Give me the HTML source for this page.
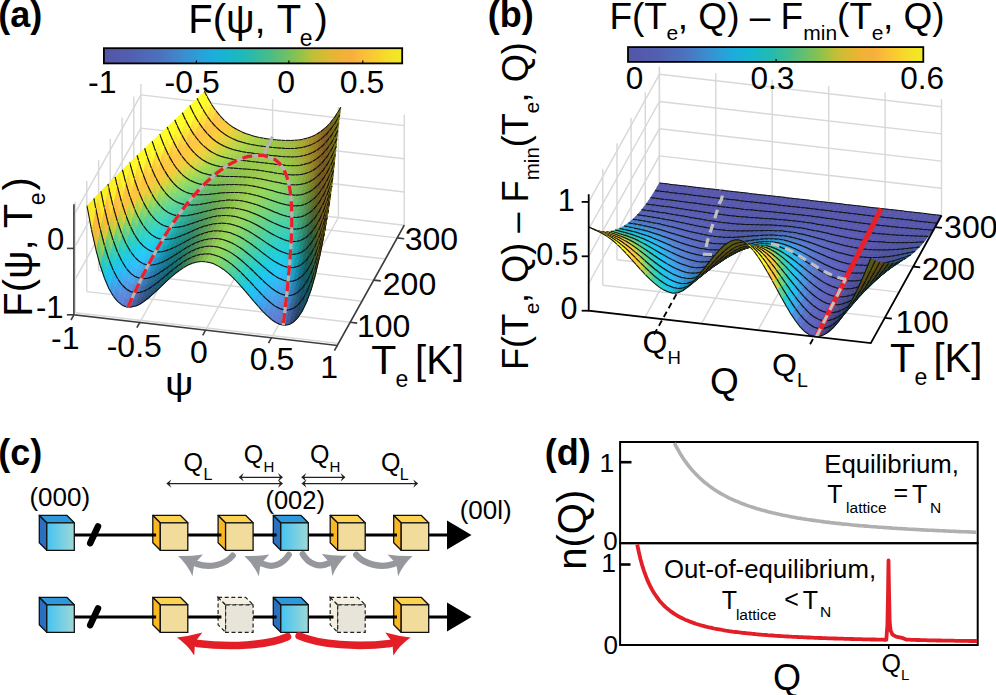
<!DOCTYPE html>
<html><head><meta charset="utf-8"><style>
html,body{margin:0;padding:0;background:#fff;}
svg{display:block;font-family:"Liberation Sans", sans-serif;}
.m{stroke:#222;stroke-width:0.9;fill:none}
.s path{fill:currentColor;stroke:currentColor;stroke-width:.6}
.s path.m{stroke:#111;stroke-width:1.05;fill:none}
</style></head><body>
<svg width="996" height="695" viewBox="0 0 996 695">
<rect width="996" height="695" fill="#fff"/>
<g stroke="#d8d8d8" stroke-width="1.45" fill="none">
<path d="M140.9 194.5L140.9 83.9"/>
<path d="M206.8 202.2L206.8 91.6"/>
<path d="M272.6 209.9L272.6 99.2"/>
<path d="M338.4 217.5L338.4 106.9"/>
<path d="M404.3 225.2L404.3 114.6"/>
<path d="M140.9 161.3L404.3 192"/>
<path d="M140.9 128.1L404.3 158.8"/>
<path d="M140.9 94.9L404.3 125.6"/>
<path d="M75.1 312.7L75.1 202.1"/>
<path d="M86.8 291.6L86.8 181"/>
<path d="M98.6 270.5L98.6 159.9"/>
<path d="M110.3 249.4L110.3 138.8"/>
<path d="M122.1 228.3L122.1 117.6"/>
<path d="M133.8 207.2L133.8 96.5"/>
<path d="M73.9 281.6L140.9 161.3"/>
<path d="M73.9 248.4L140.9 128.1"/>
<path d="M73.9 215.2L140.9 94.9"/>
<path d="M139.8 322.5L206.8 202.2"/>
<path d="M205.6 330.2L272.6 209.9"/>
<path d="M271.4 337.8L338.4 217.5"/>
<path d="M337.3 345.5L404.3 225.2"/>
<path d="M75.1 312.7L338.5 343.4"/>
<path d="M86.8 291.6L350.2 322.3"/>
<path d="M98.6 270.5L362 301.2"/>
<path d="M110.3 249.4L373.7 280.1"/>
<path d="M122.1 228.3L385.5 259"/>
<path d="M133.8 207.2L397.2 237.9"/>
<path d="M140.9 194.5L404.3 225.2"/>
</g>
<g class="s">
<path color="#e5d03c" d="M231 132.1l4.4 2.4l2.1-4.7l-4.4-2.6z"/>
<path color="#dad23e" d="M235.4 134.5l4.4 1.9l2.1-4.4l-4.4-2.2z"/>
<path color="#f3ce3a" d="M226.6 129.1l4.4 3l2.1-4.9l-4.4-3.1z"/>
<path color="#ccd341" d="M239.8 136.4l4.4 1.6l2.1-4.3l-4.4-1.7z"/>
<path color="#ffca3d" d="M222.2 125.6l4.4 3.5l2.1-5l-4.4-3.8z"/>
<path class="m" d="M233.1 127.2l4.4 2.6"/>
<path color="#c0d445" d="M244.2 138l4.4 1.3l2-4.1l-4.3-1.5z"/>
<path class="m" d="M237.5 129.8l4.4 2.1"/>
<path class="m" d="M228.7 124.1l4.4 3.2"/>
<path class="m" d="M241.9 132l4.4 1.8"/>
<path class="m" d="M224.3 120.3l4.4 3.8"/>
<path color="#ffc641" d="M217.8 121.3l4.4 4.3l2.1-5.3l-4.4-4.6z"/>
<path color="#b6d548" d="M248.6 139.3l4.3 1.1l2.1-4l-4.4-1.2z"/>
<path class="m" d="M246.3 133.7l4.4 1.4"/>
<path color="#add248" d="M252.9 140.4l4.4 .9l2.1-3.9l-4.4-1z"/>
<path class="m" d="M219.9 115.7l4.4 4.6"/>
<path class="m" d="M250.7 135.2l4.4 1.2"/>
<path color="#ffc943" d="M213.4 116.1l4.4 5.2l2.1-5.6l-4.4-5.5z"/>
<path class="m" d="M255 136.4l4.4 1"/>
<path color="#a6cf48" d="M257.3 141.3l4.4 .8l2.1-3.9l-4.4-.8z"/>
<path class="m" d="M215.5 110.2l4.4 5.5"/>
<path class="m" d="M259.4 137.4l4.4 0.8"/>
<path color="#a2cd48" d="M261.7 142.1l4.4 .6l2.1-3.8l-4.4-.7z"/>
<path color="#ffdf38" d="M209 109.9l4.4 6.2l2.1-5.9l-4.4-6.5z"/>
<path class="m" d="M263.8 138.2l4.4 0.7"/>
<path color="#9fca48" d="M266.1 142.7l4.4 .6l2.1-3.8l-4.4-.6z"/>
<path class="m" d="M211.1 103.7l4.4 6.5"/>
<path class="m" d="M268.2 138.9l4.4 0.6"/>
<path color="#9dc847" d="M270.5 143.3l4.4 .5l2.1-3.9l-4.4-.4z"/>
<path class="m" d="M272.6 139.5l4.4 0.5"/>
<path color="#fff92d" d="M204.7 102.5l4.3 7.4l2.1-6.2l-4.3-7.7z"/>
<path color="#9cc646" d="M274.9 143.8l4.4 .3l2.1-3.8l-4.4-.4z"/>
<path color="#dfd23d" d="M228.9 136.9l4.4 2.2l2.1-4.6l-4.4-2.4z"/>
<path color="#ecd03b" d="M224.5 134.2l4.4 2.7l2.1-4.8l-4.4-3z"/>
<path color="#d3d340" d="M233.3 139.1l4.4 1.8l2.1-4.5l-4.4-1.9z"/>
<path color="#facc3c" d="M220.1 130.9l4.4 3.3l2.1-5.1l-4.4-3.5z"/>
<path color="#c5d444" d="M237.7 140.9l4.4 1.4l2.1-4.3l-4.4-1.6z"/>
<path class="m" d="M206.8 96l4.4 7.7"/>
<path class="m" d="M277 139.9l4.4 0.3"/>
<path class="m" d="M228.9 136.9l4.4 2.2"/>
<path class="m" d="M224.5 134.2l4.4 2.7"/>
<path class="m" d="M233.3 139.1l4.4 1.8"/>
<path color="#9dc344" d="M279.3 144.1l4.4 .3l2.1-4l-4.4-.1z"/>
<path color="#ffc83f" d="M215.7 126.8l4.4 4.1l2.1-5.3l-4.4-4.3z"/>
<path color="#bad547" d="M242.1 142.3l4.4 1.2l2.1-4.2l-4.4-1.3z"/>
<path class="m" d="M220.1 130.9l4.4 3.3"/>
<path class="m" d="M237.7 140.9l4.4 1.4"/>
<path color="#b1d348" d="M246.5 143.5l4.4 .9l2-4l-4.3-1.1z"/>
<path class="m" d="M281.4 140.3l4.4 0.2"/>
<path class="m" d="M215.7 126.8l4.4 4"/>
<path class="m" d="M242.1 142.3l4.4 1.2"/>
<path color="#ffc444" d="M211.3 121.9l4.4 4.9l2.1-5.5l-4.4-5.2z"/>
<path color="#ffff27" d="M200.8 94.9l3.9 7.6l2.1-6.5l-2.4-4.7z"/>
<path color="#9ebf42" d="M283.7 144.4l4.4 .1l2.1-4l-4.4-.1z"/>
<path color="#a9d048" d="M250.9 144.4l4.3 .8l2.1-3.9l-4.4-.9z"/>
<path class="m" d="M246.5 143.5l4.4 1"/>
<path class="m" d="M211.3 121.9l4.4 4.9"/>
<path class="m" d="M204.4 91.3l2.3 4.7"/>
<path class="m" d="M285.8 140.4l4.4 0"/>
<path class="m" d="M250.9 144.4l4.4 0.8"/>
<path color="#a4ce49" d="M255.2 145.2l4.4 .7l2.1-3.8l-4.4-.8z"/>
<path color="#a0ba3e" d="M288.1 144.5l4.4-.1l2.1-4.1l-4.4 .2z"/>
<path color="#ffd63e" d="M207 116.1l4.3 5.8l2.1-5.8l-4.4-6.2z"/>
<path class="m" d="M255.2 145.2l4.4 0.7"/>
<path class="m" d="M290.2 140.5l4.4 -0.2"/>
<path color="#a0cc48" d="M259.6 145.9l4.4 .7l2.1-3.9l-4.4-.6z"/>
<path class="m" d="M207 116.1l4.4 5.9"/>
<path color="#a2b43a" d="M292.5 144.4l4.3-.2l2.1-4.3l-4.3 .4z"/>
<path class="m" d="M259.6 145.9l4.4 0.6"/>
<path color="#9eca48" d="M264 146.6l4.4 .5l2.1-3.8l-4.4-.6z"/>
<path class="m" d="M294.6 140.3l4.4 -0.4"/>
<path color="#ffef30" d="M202.6 109l4.4 7.1l2-6.2l-4.3-7.4z"/>
<path class="m" d="M264 146.6l4.4 0.5"/>
<path color="#9cc847" d="M268.4 147.1l4.4 .5l2.1-3.8l-4.4-.5z"/>
<path color="#a5ac35" d="M296.8 144.2l4.4-.6l2.1-4.5l-4.4 .8z"/>
<path class="m" d="M202.6 109l4.4 7"/>
<path color="#e5d13d" d="M222.4 139.3l4.4 2.4l2.1-4.8l-4.4-2.7z"/>
<path color="#dad33e" d="M226.8 141.7l4.4 2l2.1-4.6l-4.4-2.2z"/>
<path color="#f4cf3a" d="M218 136.2l4.4 3.1l2.1-5.1l-4.4-3.3z"/>
<path class="m" d="M268.4 147.1l4.4 0.5"/>
<path color="#cad442" d="M231.2 143.7l4.4 1.6l2.1-4.4l-4.4-1.8z"/>
<path class="m" d="M298.9 139.9l4.4 -0.7"/>
<path color="#9cc746" d="M272.8 147.6l4.4 .4l2.1-3.9l-4.4-.3z"/>
<path color="#ffca3e" d="M213.6 132.4l4.4 3.8l2.1-5.3l-4.4-4.1z"/>
<path class="m" d="M224.5 134.2l4.4 2.7"/>
<path color="#bed546" d="M235.6 145.3l4.4 1.3l2.1-4.3l-4.4-1.4z"/>
<path class="m" d="M228.9 136.9l4.4 2.2"/>
<path class="m" d="M220.1 130.9l4.4 3.3"/>
<path class="m" d="M233.3 139.1l4.4 1.8"/>
<path color="#a8a12e" d="M301.2 143.6l4.4-1l2.1-4.6l-4.4 1.1z"/>
<path class="m" d="M272.8 147.6l4.4 0.4"/>
<path color="#b5d548" d="M240 146.6l4.4 1l2.1-4.1l-4.4-1.2z"/>
<path color="#9cc445" d="M277.2 148l4.4 .3l2.1-3.9l-4.4-.3z"/>
<path class="m" d="M215.7 126.8l4.4 4"/>
<path class="m" d="M237.7 140.9l4.4 1.4"/>
<path color="#ffc642" d="M209.2 127.8l4.4 4.6l2.1-5.6l-4.4-4.9z"/>
<path color="#ffff27" d="M198.2 100.7l4.4 8.3l2.1-6.5l-3.9-7.6l-1.2 1.1z"/>
<path class="m" d="M303.3 139.1l4.4 -1.1"/>
<path color="#acd149" d="M244.4 147.6l4.4 .9l2.1-4.1l-4.4-.9z"/>
<path class="m" d="M242.1 142.3l4.4 1.2"/>
<path class="m" d="M277.2 148l4.4 0.3"/>
<path class="m" d="M211.3 121.9l4.4 4.9"/>
<path class="m" d="M198.2 100.7l4.4 8.3"/>
<path color="#9dc143" d="M281.6 148.3l4.4 .2l2.1-4l-4.4-.1z"/>
<path class="m" d="M246.5 143.5l4.4 1"/>
<path color="#a5cf49" d="M248.8 148.5l4.3 .7l2.1-4l-4.3-.8z"/>
<path color="#a4952a" d="M305.6 142.6l4.4-1.3l2.1-4.8l-4.4 1.5z"/>
<path color="#ffcd41" d="M204.9 122.2l4.3 5.6l2.1-5.9l-4.3-5.8z"/>
<path class="m" d="M281.6 148.3l4.4 0.2"/>
<path class="m" d="M250.9 144.4l4.4 0.8"/>
<path color="#9fbd40" d="M286 148.5l4.4 .1l2.1-4.2l-4.4 .1z"/>
<path color="#a1cd49" d="M253.1 149.2l4.4 .6l2.1-3.9l-4.4-.7z"/>
<path class="m" d="M307.7 138l4.4 -1.6"/>
<path class="m" d="M207 116.1l4.4 5.9"/>
<path class="m" d="M286 148.5l4.4 0.1"/>
<path class="m" d="M255.2 145.2l4.4 0.7"/>
<path color="#9ecb48" d="M257.5 149.8l4.4 .6l2.1-3.8l-4.4-.7z"/>
<path color="#ffe434" d="M200.5 115.5l4.4 6.7l2.1-6.1l-4.4-7.1z"/>
<path color="#ffff27" d="M197.2 98.4l1 2.3l1.4-4.7z"/>
<path color="#a1b83d" d="M290.4 148.6l4.4-.2l2-4.2l-4.3 .2z"/>
<path color="#a08725" d="M310 141.3l4.4-1.9l2.1-5.1l-4.4 2.2z"/>
<path class="m" d="M259.6 145.9l4.4 0.6"/>
<path color="#9dca48" d="M261.9 150.4l4.4 .5l2.1-3.8l-4.4-.5z"/>
<path class="m" d="M202.6 109l4.4 7"/>
<path class="m" d="M197.2 98.4l1 2.3"/>
<path class="m" d="M290.4 148.6l4.4 -0.1"/>
<path class="m" d="M312.1 136.5l4.4 -2.1"/>
<path class="m" d="M264 146.6l4.4 0.5"/>
<path color="#a4b038" d="M294.8 148.4l4.3-.4l2.1-4.4l-4.4 .6z"/>
<path color="#ded23e" d="M220.3 144.3l4.4 2.2l2.1-4.8l-4.4-2.4z"/>
<path color="#9cc948" d="M266.3 150.9l4.4 .5l2.1-3.8l-4.4-.5z"/>
<path color="#ebd03c" d="M215.9 141.5l4.4 2.8l2.1-5l-4.4-3.1z"/>
<path color="#cfd441" d="M224.7 146.5l4.4 1.8l2.1-4.6l-4.4-2z"/>
<path color="#facd3c" d="M211.5 138l4.4 3.5l2.1-5.3l-4.4-3.8z"/>
<path color="#c1d545" d="M229.1 148.3l4.4 1.4l2.1-4.4l-4.4-1.6z"/>
<path class="m" d="M294.8 148.4l4.4 -0.4"/>
<path class="m" d="M220.3 144.3l4.4 2.2"/>
<path class="m" d="M268.4 147.1l4.4 0.5"/>
<path class="m" d="M215.9 141.5l4.4 2.8"/>
<path color="#fffd2b" d="M196.1 107.5l4.4 8l2.1-6.5l-4.4-8.3z"/>
<path color="#987823" d="M314.4 139.4l4.4-2.6l2.1-5.3l-4.4 2.8z"/>
<path class="m" d="M224.7 146.5l4.4 1.8"/>
<path color="#9cc847" d="M270.7 151.4l4.4 .5l2.1-3.9l-4.4-.4z"/>
<path color="#b7d548" d="M233.5 149.7l4.4 1.1l2.1-4.2l-4.4-1.3z"/>
<path class="m" d="M211.5 138l4.4 3.5"/>
<path color="#ffc73f" d="M207.2 133.7l4.3 4.3l2.1-5.6l-4.4-4.6z"/>
<path class="m" d="M229.1 148.3l4.4 1.4"/>
<path color="#a7a731" d="M299.1 148l4.4-.7l2.1-4.7l-4.4 1z"/>
<path class="m" d="M198.2 100.7l4.4 8.3"/>
<path class="m" d="M316.5 134.3l4.4 -2.8"/>
<path class="m" d="M272.8 147.6l4.4 0.4"/>
<path color="#add349" d="M237.9 150.8l4.4 .9l2.1-4.1l-4.4-1z"/>
<path class="m" d="M233.5 149.7l4.4 1.1"/>
<path color="#9cc646" d="M275.1 151.9l4.4 .4l2.1-4l-4.4-.3z"/>
<path class="m" d="M207.2 133.7l4.4 4.3"/>
<path class="m" d="M299.1 148l4.4 -0.7"/>
<path color="#ffc444" d="M202.8 128.4l4.4 5.3l2-5.9l-4.3-5.6z"/>
<path class="m" d="M237.9 150.8l4.4 0.9"/>
<path color="#a6d049" d="M242.3 151.7l4.4 .8l2.1-4l-4.4-.9z"/>
<path class="m" d="M277.2 148l4.4 0.3"/>
<path color="#ffff27" d="M193.5 102l2.6 5.5l2.1-6.8l-1-2.3z"/>
<path color="#9cc445" d="M279.5 152.3l4.4 .2l2.1-4l-4.4-.2z"/>
<path color="#a59b2c" d="M303.5 147.3l4.4-1.2l2.1-4.8l-4.4 1.3z"/>
<path class="m" d="M202.8 128.4l4.4 5.3"/>
<path class="m" d="M242.3 151.7l4.4 0.7"/>
<path color="#a2cd49" d="M246.7 152.5l4.4 .6l2-3.9l-4.3-.7z"/>
<path color="#8f6921" d="M318.8 136.8l4.4-3.3l2.1-5.5l-4.4 3.5z"/>
<path class="m" d="M197.2 98.4l1 2.3"/>
<path class="m" d="M281.6 148.3l4.4 0.2"/>
<path class="m" d="M303.5 147.3l4.4 -1.2"/>
<path class="m" d="M246.7 152.5l4.4 0.6"/>
<path color="#9ec042" d="M283.9 152.5l4.4 .2l2.1-4.1l-4.4-.1z"/>
<path color="#ffda3b" d="M198.4 122l4.4 6.4l2.1-6.2l-4.4-6.7z"/>
<path color="#9fcc49" d="M251.1 153.1l4.3 .6l2.1-3.9l-4.4-.6z"/>
<path class="m" d="M320.9 131.5l4.4 -3.6"/>
<path class="m" d="M286 148.5l4.4 0.1"/>
<path class="m" d="M198.4 122l4.4 6.4"/>
<path class="m" d="M251.1 153.1l4.4 0.6"/>
<path color="#a18d27" d="M307.9 146.1l4.4-1.7l2.1-5l-4.4 1.9z"/>
<path color="#9dcb49" d="M255.4 153.7l4.4 .5l2.1-3.8l-4.4-.6z"/>
<path color="#9fbc3f" d="M288.3 152.7l4.4 0l2.1-4.3l-4.4 .2z"/>
<path class="m" d="M307.9 146.1l4.4 -1.7"/>
<path class="m" d="M255.4 153.7l4.4 0.5"/>
<path color="#9cca48" d="M259.8 154.2l4.4 .6l2.1-3.9l-4.4-.5z"/>
<path class="m" d="M290.4 148.6l4.4 -0.1"/>
<path color="#e3d23e" d="M213.8 146.8l4.4 2.6l2.1-5.1l-4.4-2.8z"/>
<path color="#d5d440" d="M218.2 149.4l4.4 2l2.1-4.9l-4.4-2.2z"/>
<path color="#fff52e" d="M194 114.4l4.4 7.6l2.1-6.5l-4.4-8z"/>
<path color="#a1b53b" d="M292.7 152.7l4.3-.3l2.1-4.4l-4.3 .4z"/>
<path color="#815e1e" d="M323.2 133.5l4.4-4.1l2.1-5.9l-4.4 4.5z"/>
<path color="#f2cf3b" d="M209.5 143.6l4.3 3.2l2.1-5.3l-4.4-3.5z"/>
<path color="#c4d545" d="M222.6 151.4l4.4 1.5l2.1-4.6l-4.4-1.8z"/>
<path class="m" d="M259.8 154.2l4.4 0.5"/>
<path color="#9bc948" d="M264.2 154.8l4.4 .5l2.1-3.9l-4.4-.5z"/>
<path class="m" d="M215.9 141.5l4.4 2.8"/>
<path color="#b8d548" d="M227 152.9l4.4 1.3l2.1-4.5l-4.4-1.4z"/>
<path class="m" d="M220.3 144.3l4.4 2.2"/>
<path color="#9a7e23" d="M312.3 144.4l4.4-2.3l2.1-5.3l-4.4 2.6z"/>
<path class="m" d="M194 114.4l4.4 7.6"/>
<path color="#ffcb3e" d="M205.1 139.6l4.4 4l2-5.6l-4.3-4.3z"/>
<path class="m" d="M294.8 148.4l4.4 -0.4"/>
<path class="m" d="M325.3 128l4.4 -4.5"/>
<path class="m" d="M211.5 138l4.4 3.5"/>
<path class="m" d="M224.7 146.5l4.4 1.8"/>
<path class="m" d="M264.2 154.8l4.4 0.5"/>
<path color="#afd44a" d="M231.4 154.2l4.4 .9l2.1-4.3l-4.4-1.1z"/>
<path class="m" d="M229.1 148.3l4.4 1.4"/>
<path color="#9bc848" d="M268.6 155.3l4.4 .4l2.1-3.8l-4.4-.5z"/>
<path class="m" d="M312.3 144.4l4.4 -2.3"/>
<path color="#a4ac35" d="M297 152.4l4.4-.5l2.1-4.6l-4.4 .7z"/>
<path class="m" d="M207.2 133.7l4.4 4.3"/>
<path color="#ffc642" d="M200.7 134.6l4.4 5l2.1-5.9l-4.4-5.3z"/>
<path color="#a6d14a" d="M235.8 155.1l4.4 .8l2.1-4.2l-4.4-.9z"/>
<path class="m" d="M233.5 149.7l4.4 1.1"/>
<path class="m" d="M268.6 155.3l4.4 0.5"/>
<path class="m" d="M299.1 148l4.4 -0.7"/>
<path color="#9bc847" d="M273 155.7l4.4 .5l2.1-3.9l-4.4-.4z"/>
<path color="#ffff27" d="M189.7 105.6l4.3 8.8l2.1-6.9l-2.6-5.5z"/>
<path class="m" d="M202.8 128.4l4.4 5.3"/>
<path class="m" d="M237.9 150.8l4.4 0.9"/>
<path color="#a1ce49" d="M240.2 155.9l4.4 .6l2.1-4l-4.4-.8z"/>
<path color="#a6a12e" d="M301.4 151.9l4.4-1l2.1-4.8l-4.4 1.2z"/>
<path class="m" d="M273 155.7l4.4 0.4"/>
<path color="#926e22" d="M316.7 142.1l4.4-3l2.1-5.6l-4.4 3.3z"/>
<path class="m" d="M189.7 105.6l4.3 8.8"/>
<path color="#9cc646" d="M277.4 156.2l4.4 .4l2.1-4.1l-4.4-.2z"/>
<path color="#ffcf40" d="M196.3 128.5l4.4 6.1l2.1-6.2l-4.4-6.4z"/>
<path class="m" d="M242.3 151.7l4.4 0.7"/>
<path color="#776118" d="M327.6 129.4l4.4-5.2l2.1-6.2l-4.4 5.5z"/>
<path color="#9ecc49" d="M244.6 156.5l4.4 .6l2.1-4l-4.4-.6z"/>
<path class="m" d="M303.5 147.3l4.4 -1.2"/>
<path class="m" d="M316.7 142.1l4.4 -3"/>
<path class="m" d="M277.4 156.2l4.4 0.4"/>
<path class="m" d="M198.4 122l4.4 6.4"/>
<path class="m" d="M329.7 123.5l4.4 -5.5"/>
<path color="#9cc345" d="M281.8 156.6l4.4 .2l2.1-4.1l-4.4-.2z"/>
<path class="m" d="M246.7 152.5l4.4 0.6"/>
<path color="#9cca49" d="M249 157.1l4.4 .5l2-3.9l-4.3-.6z"/>
<path color="#a29429" d="M305.8 150.9l4.4-1.4l2.1-5.1l-4.4 1.7z"/>
<path class="m" d="M281.8 156.6l4.4 0.3"/>
<path class="m" d="M251.1 153.1l4.4 0.6"/>
<path color="#ffe932" d="M191.9 121.2l4.4 7.3l2.1-6.5l-4.4-7.6z"/>
<path color="#9bca49" d="M253.4 157.6l4.3 .5l2.1-3.9l-4.4-.5z"/>
<path color="#9dbf42" d="M286.2 156.8l4.4 .2l2.1-4.3l-4.4 0z"/>
<path class="m" d="M307.9 146.1l4.4 -1.7"/>
<path color="#856020" d="M321.1 139.1l4.4-3.8l2.1-5.9l-4.4 4.1z"/>
<path color="#dad43f" d="M211.7 152.1l4.4 2.3l2.1-5l-4.4-2.6z"/>
<path class="m" d="M194 114.4l4.4 7.6"/>
<path class="m" d="M255.4 153.7l4.4 0.5"/>
<path class="m" d="M286.2 156.8l4.4 0.1"/>
<path color="#c7d545" d="M216.1 154.4l4.4 1.8l2.1-4.8l-4.4-2z"/>
<path color="#e8d23d" d="M207.4 149.2l4.3 2.9l2.1-5.3l-4.3-3.2z"/>
<path color="#9bca49" d="M257.7 158.1l4.4 .5l2.1-3.8l-4.4-.6z"/>
<path color="#b8d648" d="M220.5 156.2l4.4 1.4l2.1-4.7l-4.4-1.5z"/>
<path color="#9fba3e" d="M290.6 157l4.4-.1l2-4.5l-4.3 .3z"/>
<path color="#f9ce3c" d="M203 145.4l4.4 3.8l2.1-5.6l-4.4-4z"/>
<path class="m" d="M321.1 139.1l4.4 -3.9"/>
<path class="m" d="M211.7 152.1l4.4 2.3"/>
<path color="#9d8424" d="M310.2 149.5l4.4-2.1l2.1-5.3l-4.4 2.3z"/>
<path class="m" d="M216.1 154.4l4.4 1.8"/>
<path class="m" d="M207.4 149.2l4.4 3"/>
<path class="m" d="M259.8 154.2l4.4 0.5"/>
<path color="#afd64b" d="M224.9 157.6l4.4 1l2.1-4.4l-4.4-1.3z"/>
<path color="#9bc948" d="M262.1 158.6l4.4 .5l2.1-3.8l-4.4-.5z"/>
<path class="m" d="M220.5 156.2l4.4 1.4"/>
<path class="m" d="M290.6 157l4.4 -0.1"/>
<path class="m" d="M203 145.4l4.4 3.7"/>
<path color="#756c13" d="M332 124.2l4.4-6.3l2-6.5l-4.3 6.6z"/>
<path color="#ffc83f" d="M198.6 140.8l4.4 4.6l2.1-5.8l-4.4-5z"/>
<path class="m" d="M312.3 144.4l4.4 -2.3"/>
<path color="#a5d24b" d="M229.3 158.6l4.4 .8l2.1-4.3l-4.4-.9z"/>
<path class="m" d="M224.9 157.6l4.4 1"/>
<path color="#a1b239" d="M295 156.9l4.3-.4l2.1-4.6l-4.4 .5z"/>
<path color="#ffff28" d="M187.5 112.5l4.4 8.7l2.1-6.8l-4.3-8.8l-.3 .2z"/>
<path class="m" d="M264.2 154.8l4.4 0.5"/>
<path color="#9bc948" d="M266.5 159.1l4.4 .5l2.1-3.9l-4.4-.4z"/>
<path class="m" d="M334.1 118l4.4 -6.7"/>
<path class="m" d="M198.6 140.8l4.4 4.7"/>
<path class="m" d="M229.3 158.6l4.4 0.8"/>
<path color="#9fcf4a" d="M233.7 159.4l4.4 .6l2.1-4.1l-4.4-.8z"/>
<path class="m" d="M295 156.9l4.4 -0.4"/>
<path class="m" d="M189.7 105.6l4.3 8.8"/>
<path class="m" d="M268.6 155.3l4.4 0.5"/>
<path color="#ffc544" d="M194.2 135l4.4 5.8l2.1-6.2l-4.4-6.1z"/>
<path color="#9bc948" d="M270.9 159.6l4.4 .5l2.1-3.9l-4.4-.5z"/>
<path color="#947422" d="M314.6 147.4l4.4-2.7l2.1-5.6l-4.4 3z"/>
<path color="#785c1a" d="M325.5 135.3l4.4-4.9l2.1-6.2l-4.4 5.2z"/>
<path class="m" d="M233.7 159.4l4.4 0.6"/>
<path color="#a4a733" d="M299.3 156.5l4.4-.7l2.1-4.9l-4.4 1z"/>
<path color="#9ccc4a" d="M238.1 160l4.4 .5l2.1-4l-4.4-.6z"/>
<path class="m" d="M194.2 135l4.4 5.7"/>
<path class="m" d="M273 155.7l4.4 0.4"/>
<path class="m" d="M316.7 142.1l4.4 -3"/>
<path class="m" d="M325.5 135.3l4.4 -4.9"/>
<path color="#9bc848" d="M275.3 160.1l4.4 .5l2.1-4l-4.4-.4z"/>
<path class="m" d="M299.3 156.5l4.4 -0.7"/>
<path class="m" d="M238.1 160l4.4 0.5"/>
<path color="#9aca4a" d="M242.5 160.5l4.4 .5l2.1-3.9l-4.4-.6z"/>
<path class="m" d="M277.4 156.2l4.4 0.4"/>
<path color="#ffdd39" d="M189.8 128.1l4.4 6.9l2.1-6.5l-4.4-7.3z"/>
<path color="#9bc647" d="M279.7 160.6l4.4 .4l2.1-4.2l-4.4-.2z"/>
<path color="#ffff27" d="M186.1 109.2l1.4 3.3l1.9-6.7z"/>
<path color="#a39a2c" d="M303.7 155.8l4.4-1.3l2.1-5l-4.4 1.4z"/>
<path class="m" d="M242.5 160.5l4.4 0.5"/>
<path color="#9ac949" d="M246.9 161l4.4 .4l2.1-3.8l-4.4-.5z"/>
<path color="#737111" d="M336.4 117.9l3.8-6.8l.6-3.9l-2.4 4.2z"/>
<path class="m" d="M189.8 128.1l4.4 7"/>
<path class="m" d="M281.8 156.6l4.4 0.3"/>
<path class="m" d="M303.7 155.8l4.4 -1.2"/>
<path color="#896420" d="M319 144.7l4.4-3.6l2.1-5.8l-4.4 3.8z"/>
<path class="m" d="M246.9 161l4.4 0.5"/>
<path class="m" d="M338.4 111.4l2.3 -4.2"/>
<path color="#9bc345" d="M284.1 161l4.4 .2l2.1-4.2l-4.4-.2z"/>
<path color="#9ac949" d="M251.3 161.4l4.3 .5l2.1-3.8l-4.3-.5z"/>
<path color="#cad644" d="M209.7 157.4l4.3 2.1l2.1-5.1l-4.4-2.3z"/>
<path color="#ded43f" d="M205.3 154.7l4.4 2.7l2-5.3l-4.3-2.9z"/>
<path color="#b9d649" d="M214 159.5l4.4 1.5l2.1-4.8l-4.4-1.8z"/>
<path color="#efd13c" d="M200.9 151.3l4.4 3.4l2.1-5.5l-4.4-3.8z"/>
<path class="m" d="M321.1 139.1l4.4 -3.9"/>
<path class="m" d="M286.2 156.8l4.4 0.1"/>
<path color="#add74c" d="M218.4 161l4.4 1.2l2.1-4.6l-4.4-1.4z"/>
<path class="m" d="M251.3 161.4l4.4 0.5"/>
<path class="m" d="M211.7 152.1l4.4 2.3"/>
<path class="m" d="M207.4 149.2l4.4 3"/>
<path color="#9d8b26" d="M308.1 154.5l4.4-1.7l2.1-5.4l-4.4 2.1z"/>
<path color="#766814" d="M329.9 130.4l4.4-6l2.1-6.5l-4.4 6.3z"/>
<path color="#9ac949" d="M255.6 161.9l4.4 .5l2.1-3.8l-4.4-.5z"/>
<path color="#9cbe42" d="M288.5 161.2l4.4 .1l2.1-4.4l-4.4 .1z"/>
<path class="m" d="M216.1 154.4l4.4 1.8"/>
<path class="m" d="M203 145.4l4.4 3.7"/>
<path color="#ffcb3d" d="M196.5 146.9l4.4 4.4l2.1-5.9l-4.4-4.6z"/>
<path color="#fffa2c" d="M185.4 119.7l4.4 8.4l2.1-6.9l-4.4-8.7z"/>
<path color="#a3d44d" d="M222.8 162.2l4.4 .8l2.1-4.4l-4.4-1z"/>
<path class="m" d="M220.5 156.2l4.4 1.4"/>
<path class="m" d="M308.1 154.5l4.4 -1.8"/>
<path class="m" d="M329.9 130.4l4.4 -6"/>
<path class="m" d="M255.6 161.9l4.4 0.5"/>
<path class="m" d="M290.6 157l4.4 -0.1"/>
<path color="#9bca49" d="M260 162.4l4.4 .5l2.1-3.8l-4.4-.5z"/>
<path class="m" d="M198.6 140.8l4.4 4.7"/>
<path class="m" d="M185.4 119.7l4.4 8.4"/>
<path class="m" d="M224.9 157.6l4.4 1"/>
<path color="#9dcf4d" d="M227.2 163l4.4 .7l2.1-4.3l-4.4-.8z"/>
<path color="#9eb73d" d="M292.9 161.3l4.4-.2l2-4.6l-4.3 .4z"/>
<path color="#ffc642" d="M192.1 141.6l4.4 5.3l2.1-6.1l-4.4-5.8z"/>
<path class="m" d="M260 162.4l4.4 0.5"/>
<path color="#9bca49" d="M264.4 162.9l4.4 .6l2.1-3.9l-4.4-.5z"/>
<path color="#7b5b1c" d="M323.4 141.1l4.4-4.5l2.1-6.2l-4.4 4.9z"/>
<path class="m" d="M229.3 158.6l4.4 0.8"/>
<path class="m" d="M295 156.9l4.4 -0.4"/>
<path color="#99cb4c" d="M231.6 163.7l4.4 .4l2.1-4.1l-4.4-.6z"/>
<path color="#967b22" d="M312.5 152.8l4.4-2.5l2.1-5.6l-4.4 2.7z"/>
<path class="m" d="M194.2 135l4.4 5.7"/>
<path class="m" d="M264.4 162.9l4.4 0.6"/>
<path color="#ffff27" d="M182.3 112.7l3.1 7l2.1-7.2l-1.4-3.3z"/>
<path color="#9fad37" d="M297.3 161.1l4.3-.5l2.1-4.8l-4.4 .7z"/>
<path class="m" d="M325.5 135.3l4.4 -4.9"/>
<path color="#9bca4a" d="M268.8 163.5l4.4 .6l2.1-4l-4.4-.5z"/>
<path class="m" d="M233.7 159.4l4.4 0.6"/>
<path class="m" d="M312.5 152.8l4.4 -2.5"/>
<path color="#98c94b" d="M236 164.1l4.4 .4l2.1-4l-4.4-.5z"/>
<path color="#ffd140" d="M187.7 134.9l4.4 6.7l2.1-6.6l-4.4-6.9z"/>
<path class="m" d="M182.3 112.7l3.1 7"/>
<path class="m" d="M299.3 156.5l4.4 -0.7"/>
<path class="m" d="M268.8 163.5l4.4 0.6"/>
<path color="#9aca4a" d="M273.2 164.1l4.4 .5l2.1-4l-4.4-.5z"/>
<path class="m" d="M238.1 160l4.4 0.5"/>
<path class="m" d="M189.8 128.1l4.4 7"/>
<path color="#97c84a" d="M240.4 164.5l4.4 .4l2.1-3.9l-4.4-.5z"/>
<path color="#a2a130" d="M301.6 160.6l4.4-1l2.1-5.1l-4.4 1.3z"/>
<path class="m" d="M273.2 164.1l4.4 0.6"/>
<path color="#737111" d="M334.3 124.4l4.4-7.3l1.4-4.8l.1-1.2l-3.8 6.8z"/>
<path color="#9ac949" d="M277.6 164.6l4.4 .5l2.1-4.1l-4.4-.4z"/>
<path color="#8d6920" d="M316.9 150.3l4.4-3.3l2.1-5.9l-4.4 3.6z"/>
<path class="m" d="M242.5 160.5l4.4 0.5"/>
<path color="#98c849" d="M244.8 164.9l4.4 .4l2.1-3.9l-4.4-.4z"/>
<path class="m" d="M303.7 155.8l4.4 -1.2"/>
<path color="#cfd644" d="M203.2 160.3l4.4 2.4l2.1-5.3l-4.4-2.7z"/>
<path class="m" d="M334.3 124.4l4.4 -7.3"/>
<path color="#b9d74a" d="M207.6 162.7l4.4 1.8l2-5l-4.3-2.1z"/>
<path class="m" d="M277.6 164.6l4.4 0.5"/>
<path color="#e3d43f" d="M198.8 157.2l4.4 3.1l2.1-5.6l-4.4-3.4z"/>
<path class="m" d="M316.9 150.3l4.4 -3.3"/>
<path color="#99c747" d="M282 165.1l4.4 .4l2.1-4.3l-4.4-.2z"/>
<path color="#ffee30" d="M183.3 126.9l4.4 8l2.1-6.8l-4.4-8.4z"/>
<path color="#776316" d="M327.8 136.6l4.4-5.7l2.1-6.5l-4.4 6z"/>
<path color="#abd84d" d="M212 164.5l4.3 1.3l2.1-4.8l-4.4-1.5z"/>
<path class="m" d="M246.9 161l4.4 0.5"/>
<path color="#98c849" d="M249.2 165.3l4.4 .4l2-3.8l-4.3-.5z"/>
<path class="m" d="M203.2 160.3l4.4 2.4"/>
<path color="#f6cf3c" d="M194.4 153.1l4.4 4.1l2.1-5.9l-4.4-4.4z"/>
<path class="m" d="M207.6 162.7l4.4 1.8"/>
<path color="#9e9229" d="M306 159.6l4.4-1.5l2.1-5.3l-4.4 1.7z"/>
<path class="m" d="M198.8 157.2l4.4 3.2"/>
<path color="#a2d750" d="M216.3 165.8l4.4 1l2.1-4.6l-4.4-1.2z"/>
<path class="m" d="M282 165.1l4.4 0.4"/>
<path class="m" d="M185.4 119.7l4.4 8.4"/>
<path class="m" d="M329.9 130.4l4.4 -6"/>
<path class="m" d="M211.9 164.5l4.4 1.3"/>
<path color="#99c345" d="M286.4 165.5l4.4 .2l2.1-4.4l-4.4-.1z"/>
<path class="m" d="M251.3 161.4l4.4 0.5"/>
<path class="m" d="M194.4 153.1l4.4 4"/>
<path class="m" d="M308.1 154.5l4.4 -1.8"/>
<path color="#99c949" d="M253.6 165.7l4.3 .5l2.1-3.8l-4.4-.5z"/>
<path color="#9bd050" d="M220.7 166.8l4.4 .7l2.1-4.5l-4.4-.8z"/>
<path class="m" d="M216.3 165.8l4.4 0.9"/>
<path color="#ffc83f" d="M190 148.1l4.4 5l2.1-6.2l-4.4-5.3z"/>
<path class="m" d="M286.4 165.5l4.4 0.2"/>
<path class="m" d="M255.6 161.9l4.4 0.5"/>
<path class="m" d="M220.7 166.8l4.4 0.7"/>
<path color="#7f5b1f" d="M321.3 147l4.4-4.3l2.1-6.1l-4.4 4.5z"/>
<path color="#9aca4a" d="M257.9 166.2l4.4 .6l2.1-3.9l-4.4-.5z"/>
<path color="#9abd41" d="M290.8 165.7l4.4 0l2.1-4.6l-4.4 .2z"/>
<path color="#96cc4f" d="M225.1 167.5l4.4 .4l2.1-4.2l-4.4-.7z"/>
<path class="m" d="M190 148.1l4.4 5.1"/>
<path color="#988123" d="M310.4 158.1l4.4-2.2l2.1-5.6l-4.4 2.5z"/>
<path class="m" d="M321.3 147l4.4 -4.2"/>
<path class="m" d="M260 162.4l4.4 0.5"/>
<path class="m" d="M290.8 165.7l4.4 0"/>
<path class="m" d="M225.1 167.5l4.4 0.5"/>
<path color="#737111" d="M338.7 117.1l1-2l.4-2.8z"/>
<path color="#9bcb4a" d="M262.3 166.8l4.4 .6l2.1-3.9l-4.4-.6z"/>
<path color="#ffc544" d="M185.6 141.8l4.4 6.3l2.1-6.5l-4.4-6.7z"/>
<path color="#94c84e" d="M229.5 167.9l4.4 .4l2.1-4.2l-4.4-.4z"/>
<path class="m" d="M312.5 152.8l4.4 -2.5"/>
<path color="#ffff27" d="M178.9 117.3l4.4 9.6l2.1-7.2l-3.1-7l-2.8 2.6z"/>
<path color="#9bb43c" d="M295.2 165.7l4.3-.3l2.1-4.8l-4.3 .5z"/>
<path class="m" d="M338.7 117.1l1 -2"/>
<path class="m" d="M264.4 162.9l4.4 0.6"/>
<path class="m" d="M185.6 141.8l4.4 6.3"/>
<path class="m" d="M229.5 167.9l4.4 0.4"/>
<path color="#9bcc4b" d="M266.7 167.4l4.4 .6l2.1-3.9l-4.4-.6z"/>
<path color="#93c64c" d="M233.9 168.3l4.4 .3l2.1-4.1l-4.4-.4z"/>
<path class="m" d="M182.3 112.7l3.1 7"/>
<path class="m" d="M295.2 165.7l4.4 -0.3"/>
<path color="#756e12" d="M332.2 130.9l4.4-7l2.1-6.8l-4.4 7.3z"/>
<path class="m" d="M268.8 163.5l4.4 0.6"/>
<path color="#9acc4c" d="M271.1 168l4.4 .6l2.1-4l-4.4-.5z"/>
<path class="m" d="M233.9 168.3l4.4 0.3"/>
<path color="#9da835" d="M299.5 165.4l4.4-.8l2.1-5l-4.4 1z"/>
<path class="m" d="M334.3 124.4l4.4 -7.3"/>
<path color="#8f7021" d="M314.8 155.9l4.4-3l2.1-5.9l-4.4 3.3z"/>
<path color="#94c64b" d="M238.3 168.6l4.4 .3l2.1-4l-4.4-.4z"/>
<path color="#ffe037" d="M181.2 134.1l4.4 7.7l2.1-6.9l-4.4-8z"/>
<path class="m" d="M273.2 164.1l4.4 0.6"/>
<path color="#bbd84a" d="M201.1 165.9l4.4 2.1l2.1-5.3l-4.4-2.4z"/>
<path color="#785e19" d="M325.7 142.7l4.4-5.3l2.1-6.5l-4.4 5.7z"/>
<path class="m" d="M299.5 165.4l4.4 -0.8"/>
<path color="#99cb4c" d="M275.5 168.6l4.4 .7l2.1-4.2l-4.4-.5z"/>
<path color="#d5d643" d="M196.7 163l4.4 2.9l2.1-5.6l-4.4-3.1z"/>
<path class="m" d="M316.9 150.3l4.4 -3.3"/>
<path color="#a8d94f" d="M205.5 168l4.4 1.6l2.1-5.1l-4.4-1.8z"/>
<path class="m" d="M238.3 168.6l4.4 0.3"/>
<path class="m" d="M181.2 134.1l4.4 7.6"/>
<path color="#95c64a" d="M242.7 168.9l4.4 .3l2.1-3.9l-4.4-.4z"/>
<path color="#e9d23e" d="M192.3 159.3l4.4 3.7l2.1-5.8l-4.4-4.1z"/>
<path color="#9fd754" d="M209.9 169.6l4.3 1.1l2.1-4.9l-4.3-1.3z"/>
<path class="m" d="M203.2 160.3l4.4 2.4"/>
<path class="m" d="M325.7 142.7l4.4 -5.4"/>
<path class="m" d="M277.6 164.6l4.4 0.5"/>
<path class="m" d="M198.8 157.2l4.4 3.2"/>
<path class="m" d="M207.6 162.7l4.4 1.8"/>
<path color="#98ca4b" d="M279.9 169.3l4.4 .5l2.1-4.3l-4.4-.4z"/>
<path color="#9e992c" d="M303.9 164.6l4.4-1.2l2.1-5.3l-4.4 1.5z"/>
<path class="m" d="M242.7 168.9l4.4 0.3"/>
<path class="m" d="M194.4 153.1l4.4 4"/>
<path color="#ffff27" d="M178.5 116.3l.4 1l.6-2z"/>
<path color="#97d255" d="M214.2 170.7l4.4 .7l2.1-4.6l-4.4-1z"/>
<path class="m" d="M211.9 164.5l4.4 1.3"/>
<path color="#fdcc3d" d="M187.9 154.6l4.4 4.7l2.1-6.2l-4.4-5z"/>
<path color="#97c749" d="M247.1 169.2l4.4 .4l2.1-3.9l-4.4-.4z"/>
<path class="m" d="M282 165.1l4.4 0.4"/>
<path class="m" d="M303.9 164.6l4.4 -1.3"/>
<path color="#737111" d="M336.6 123.9l2.5-4.9l.6-3.9l-1 2z"/>
<path color="#97c749" d="M284.3 169.8l4.4 .4l2.1-4.5l-4.4-.2z"/>
<path class="m" d="M216.3 165.8l4.4 0.9"/>
<path color="#92cc53" d="M218.6 171.4l4.4 .5l2.1-4.4l-4.4-.7z"/>
<path class="m" d="M190 148.1l4.4 5.1"/>
<path class="m" d="M247.1 169.2l4.4 0.4"/>
<path color="#83601f" d="M319.2 152.9l4.4-4l2.1-6.2l-4.4 4.3z"/>
<path color="#99c949" d="M251.5 169.6l4.3 .4l2.1-3.8l-4.3-.5z"/>
<path color="#fffe2a" d="M176.8 124.9l4.4 9.2l2.1-7.2l-4.4-9.6z"/>
<path class="m" d="M338.7 117.1l1 -2"/>
<path class="m" d="M286.4 165.5l4.4 0.2"/>
<path color="#ffc541" d="M183.5 148.6l4.4 6l2.1-6.5l-4.4-6.3z"/>
<path class="m" d="M220.7 166.8l4.4 0.7"/>
<path color="#988926" d="M308.3 163.4l4.4-2l2.1-5.5l-4.4 2.2z"/>
<path class="m" d="M321.3 147l4.4 -4.2"/>
<path color="#95c246" d="M288.7 170.2l4.4 .2l2.1-4.7l-4.4 0z"/>
<path color="#8fc851" d="M223 171.9l4.4 .3l2.1-4.3l-4.4-.4z"/>
<path class="m" d="M251.5 169.6l4.4 0.5"/>
<path class="m" d="M176.8 124.9l4.4 9.2"/>
<path color="#9aca4a" d="M255.8 170l4.4 .6l2.1-3.8l-4.4-.6z"/>
<path class="m" d="M185.6 141.8l4.4 6.3"/>
<path class="m" d="M308.3 163.4l4.4 -1.9"/>
<path class="m" d="M290.8 165.7l4.4 0"/>
<path class="m" d="M225.1 167.5l4.4 0.5"/>
<path color="#766b14" d="M330.1 137.4l4.4-6.6l2.1-6.9l-4.4 7z"/>
<path class="m" d="M255.8 170l4.4 0.6"/>
<path color="#8ec54f" d="M227.4 172.2l4.4 .2l2.1-4.1l-4.4-.4z"/>
<path color="#9bcc4b" d="M260.2 170.6l4.4 .6l2.1-3.8l-4.4-.6z"/>
<path color="#96ba41" d="M293.1 170.4l4.4-.2l2-4.8l-4.3 .3z"/>
<path color="#ffff27" d="M174.8 119.9l2 5l2.1-7.6l-.4-1z"/>
<path class="m" d="M330.1 137.4l4.4 -6.6"/>
<path class="m" d="M229.5 167.9l4.4 0.4"/>
<path color="#ffd23f" d="M179.1 141.4l4.4 7.2l2.1-6.8l-4.4-7.7z"/>
<path class="m" d="M260.2 170.6l4.4 0.6"/>
<path class="m" d="M295.2 165.7l4.4 -0.3"/>
<path color="#9acd4c" d="M264.6 171.2l4.4 .7l2.1-3.9l-4.4-.6z"/>
<path color="#8fc44d" d="M231.8 172.4l4.4 .2l2.1-4l-4.4-.3z"/>
<path color="#907721" d="M312.7 161.4l4.4-2.7l2.1-5.8l-4.4 3z"/>
<path class="m" d="M174.8 119.9l2 5.1"/>
<path color="#97af3b" d="M297.5 170.2l4.3-.5l2.1-5.1l-4.4 .8z"/>
<path color="#77591b" d="M323.6 148.9l4.4-5l2.1-6.5l-4.4 5.3z"/>
<path class="m" d="M181.2 134.1l4.4 7.6"/>
<path class="m" d="M264.6 171.2l4.4 0.7"/>
<path color="#9acd4e" d="M269 171.9l4.4 .8l2.1-4.1l-4.4-.6z"/>
<path class="m" d="M233.9 168.3l4.4 0.3"/>
<path color="#bed94b" d="M194.6 168.9l4.4 2.6l2.1-5.6l-4.4-2.9z"/>
<path color="#a7da51" d="M199 171.5l4.4 1.8l2.1-5.3l-4.4-2.1z"/>
<path class="m" d="M312.7 161.4l4.4 -2.7"/>
<path color="#91c44b" d="M236.2 172.6l4.4 .2l2.1-3.9l-4.4-.3z"/>
<path color="#dcd641" d="M190.2 165.5l4.4 3.4l2.1-5.9l-4.4-3.7z"/>
<path class="m" d="M299.5 165.4l4.4 -0.8"/>
<path class="m" d="M325.7 142.7l4.4 -5.4"/>
<path color="#9cd758" d="M203.4 173.3l4.4 1.3l2.1-5l-4.4-1.6z"/>
<path class="m" d="M269 171.9l4.4 0.7"/>
<path class="m" d="M194.6 168.9l4.4 2.6"/>
<path color="#98cd4f" d="M273.4 172.7l4.4 .7l2.1-4.1l-4.4-.7z"/>
<path class="m" d="M199 171.5l4.4 1.9"/>
<path class="m" d="M238.3 168.6l4.4 0.3"/>
<path color="#94d55b" d="M207.8 174.6l4.4 .9l2-4.8l-4.3-1.1z"/>
<path class="m" d="M190.2 165.5l4.4 3.4"/>
<path color="#f1d03c" d="M185.8 161.1l4.4 4.4l2.1-6.2l-4.4-4.7z"/>
<path class="m" d="M203.4 173.3l4.4 1.3"/>
<path color="#98a132" d="M301.8 169.7l4.4-1l2.1-5.3l-4.4 1.2z"/>
<path color="#93c54a" d="M240.6 172.8l4.4 .3l2.1-3.9l-4.4-.3z"/>
<path class="m" d="M273.4 172.7l4.4 0.7"/>
<path color="#97cc4f" d="M277.8 173.4l4.4 .7l2.1-4.3l-4.4-.5z"/>
<path color="#fff32f" d="M174.7 132.5l4.4 8.9l2.1-7.3l-4.4-9.2z"/>
<path class="m" d="M207.8 174.6l4.4 0.9"/>
<path color="#8dcd59" d="M212.2 175.5l4.3 .5l2.1-4.6l-4.4-.7z"/>
<path class="m" d="M185.8 161.1l4.4 4.4"/>
<path class="m" d="M303.9 164.6l4.4 -1.3"/>
<path class="m" d="M242.7 168.9l4.4 0.3"/>
<path color="#87651f" d="M317.1 158.7l4.4-3.6l2.1-6.2l-4.4 4z"/>
<path color="#737111" d="M334.5 130.8l4.2-7.9l.4-3.9l-2.5 4.9z"/>
<path color="#96c64a" d="M245 173.1l4.4 .3l2.1-3.8l-4.4-.4z"/>
<path class="m" d="M277.8 173.4l4.4 0.7"/>
<path color="#ffc83e" d="M181.4 155.5l4.4 5.6l2.1-6.5l-4.4-6z"/>
<path class="m" d="M176.8 124.9l4.4 9.2"/>
<path class="m" d="M212.2 175.5l4.4 0.5"/>
<path color="#95ca4e" d="M282.2 174.1l4.4 .5l2.1-4.4l-4.4-.4z"/>
<path color="#89c857" d="M216.5 176l4.4 .3l2.1-4.4l-4.4-.5z"/>
<path class="m" d="M317.1 158.7l4.4 -3.6"/>
<path class="m" d="M334.5 130.8l4.3 -7.8"/>
<path class="m" d="M247.1 169.2l4.4 0.4"/>
<path color="#989029" d="M306.2 168.7l4.4-1.7l2.1-5.6l-4.4 2z"/>
<path class="m" d="M181.4 155.5l4.4 5.6"/>
<path color="#98c84a" d="M249.4 173.4l4.4 .5l2-3.9l-4.3-.4z"/>
<path class="m" d="M282.2 174.1l4.4 0.6"/>
<path class="m" d="M216.5 176l4.4 0.3"/>
<path color="#93c64c" d="M286.6 174.6l4.4 .4l2.1-4.6l-4.4-.2z"/>
<path color="#776515" d="M328 143.9l4.4-6.3l2.1-6.8l-4.4 6.6z"/>
<path color="#88c454" d="M220.9 176.3l4.4 .2l2.1-4.3l-4.4-.3z"/>
<path class="m" d="M308.3 163.4l4.4 -1.9"/>
<path class="m" d="M251.5 169.6l4.4 0.5"/>
<path color="#9aca4b" d="M253.8 173.9l4.3 .5l2.1-3.8l-4.4-.6z"/>
<path color="#ffc543" d="M177 148.6l4.4 6.9l2.1-6.9l-4.4-7.2z"/>
<path class="m" d="M286.6 174.6l4.4 0.4"/>
<path class="m" d="M330.1 137.4l4.4 -6.6"/>
<path class="m" d="M220.9 176.3l4.4 0.1"/>
<path color="#ffff27" d="M171 123.4l3.7 9.1l2.1-7.6l-2-5z"/>
<path color="#91c047" d="M291 175l4.4 .1l2.1-4.9l-4.4 .2z"/>
<path color="#88c151" d="M225.3 176.5l4.4 0l2.1-4.1l-4.4-.2z"/>
<path class="m" d="M255.8 170l4.4 0.6"/>
<path class="m" d="M177 148.6l4.4 6.9"/>
<path color="#9acc4c" d="M258.1 174.4l4.4 .7l2.1-3.9l-4.4-.6z"/>
<path color="#907e23" d="M310.6 167l4.4-2.4l2.1-5.9l-4.4 2.7z"/>
<path color="#79561d" d="M321.5 155.1l4.4-4.7l2.1-6.5l-4.4 5z"/>
<path class="m" d="M174.8 119.9l2 5.1"/>
<path class="m" d="M291 175l4.4 0.1"/>
<path class="m" d="M225.3 176.5l4.4 0.1"/>
<path class="m" d="M260.2 170.6l4.4 0.6"/>
<path color="#9ace4e" d="M262.5 175.1l4.4 .8l2.1-4l-4.4-.7z"/>
<path color="#8bc14e" d="M229.7 176.5l4.4 .1l2.1-4l-4.4-.2z"/>
<path color="#90b640" d="M295.4 175.1l4.4-.3l2-5.1l-4.3 .5z"/>
<path color="#a7db53" d="M192.5 174.8l4.4 2.2l2.1-5.5l-4.4-2.6z"/>
<path class="m" d="M312.7 161.4l4.4 -2.7"/>
<path class="m" d="M321.5 155.1l4.4 -4.7"/>
<path color="#99d85c" d="M196.9 177l4.4 1.6l2.1-5.3l-4.4-1.8z"/>
<path color="#c3d94a" d="M188.1 171.7l4.4 3.1l2.1-5.9l-4.4-3.4z"/>
<path color="#90d661" d="M201.3 178.6l4.4 1.1l2.1-5.1l-4.4-1.3z"/>
<path class="m" d="M264.6 171.2l4.4 0.7"/>
<path class="m" d="M229.7 176.5l4.4 0.1"/>
<path class="m" d="M295.4 175.1l4.4 -0.3"/>
<path class="m" d="M194.6 168.9l4.4 2.6"/>
<path color="#99cf50" d="M266.9 175.9l4.4 .8l2.1-4l-4.4-.8z"/>
<path color="#e2d440" d="M183.7 167.6l4.4 4.1l2.1-6.2l-4.4-4.4z"/>
<path color="#ffe334" d="M172.6 140.1l4.4 8.5l2.1-7.2l-4.4-8.9z"/>
<path class="m" d="M199 171.5l4.4 1.9"/>
<path class="m" d="M190.2 165.5l4.4 3.4"/>
<path color="#8ec14c" d="M234.1 176.6l4.4 .1l2.1-3.9l-4.4-.2z"/>
<path color="#88d060" d="M205.7 179.7l4.4 .6l2.1-4.8l-4.4-.9z"/>
<path class="m" d="M203.4 173.3l4.4 1.3"/>
<path color="#91a938" d="M299.8 174.8l4.3-.8l2.1-5.3l-4.4 1z"/>
<path class="m" d="M269 171.9l4.4 0.7"/>
<path color="#97cf52" d="M271.3 176.7l4.4 .8l2.1-4.1l-4.4-.7z"/>
<path class="m" d="M185.8 161.1l4.4 4.4"/>
<path class="m" d="M172.6 140.1l4.4 8.5"/>
<path class="m" d="M234.1 176.6l4.4 0.1"/>
<path color="#876b1f" d="M315 164.6l4.4-3.3l2.1-6.2l-4.4 3.6z"/>
<path color="#f8cd3c" d="M179.3 162.3l4.4 5.3l2.1-6.5l-4.4-5.6z"/>
<path class="m" d="M207.8 174.6l4.4 0.9"/>
<path color="#91c34b" d="M238.5 176.7l4.4 .2l2.1-3.8l-4.4-.3z"/>
<path class="m" d="M299.8 174.8l4.4 -0.8"/>
<path color="#737111" d="M332.4 137.6l4.4-7.7l1.9-6.7l0-.3l-4.2 7.9z"/>
<path color="#82c85d" d="M210.1 180.3l4.3 .3l2.1-4.6l-4.3-.5z"/>
<path class="m" d="M273.4 172.7l4.4 0.7"/>
<path color="#95cf53" d="M275.7 177.5l4.4 .8l2.1-4.2l-4.4-.7z"/>
<path class="m" d="M317.1 158.7l4.4 -3.6"/>
<path class="m" d="M181.4 155.5l4.4 5.6"/>
<path class="m" d="M238.5 176.7l4.4 0.2"/>
<path class="m" d="M334.5 130.8l4.3 -7.8"/>
<path class="m" d="M212.2 175.5l4.4 0.5"/>
<path class="m" d="M277.8 173.4l4.4 0.7"/>
<path color="#786018" d="M325.9 150.4l4.4-5.9l2.1-6.9l-4.4 6.3z"/>
<path color="#94c54a" d="M242.9 176.9l4.4 .3l2.1-3.8l-4.4-.3z"/>
<path color="#92cd54" d="M280.1 178.3l4.4 .8l2.1-4.5l-4.4-.5z"/>
<path color="#93982f" d="M304.1 174l4.4-1.4l2.1-5.6l-4.4 1.7z"/>
<path color="#80c359" d="M214.4 180.6l4.4 .2l2.1-4.5l-4.4-.3z"/>
<path color="#ffc540" d="M174.9 155.8l4.4 6.5l2.1-6.8l-4.4-6.9z"/>
<path class="m" d="M325.9 150.4l4.4 -5.9"/>
<path class="m" d="M242.9 176.9l4.4 0.3"/>
<path class="m" d="M282.2 174.1l4.4 0.6"/>
<path class="m" d="M304.1 174l4.4 -1.4"/>
<path class="m" d="M216.5 176l4.4 0.3"/>
<path color="#90c952" d="M284.5 179.1l4.4 .5l2.1-4.6l-4.4-.4z"/>
<path color="#97c84a" d="M247.3 177.2l4.4 .5l2.1-3.8l-4.4-.5z"/>
<path color="#80c055" d="M218.8 180.8l4.4-.1l2.1-4.2l-4.4-.2z"/>
<path color="#ffff28" d="M168.3 129.9l4.3 10.2l2.1-7.6l-3.7-9.1l-1.4 1.2z"/>
<path class="m" d="M177 148.6l4.4 6.9"/>
<path class="m" d="M286.6 174.6l4.4 0.4"/>
<path class="m" d="M247.3 177.2l4.4 0.4"/>
<path color="#7c5a1d" d="M319.4 161.3l4.4-4.4l2.1-6.5l-4.4 4.7z"/>
<path color="#99cb4b" d="M251.7 177.7l4.4 .6l2-3.9l-4.3-.5z"/>
<path color="#8dc44f" d="M288.9 179.6l4.4 .3l2.1-4.8l-4.4-.1z"/>
<path class="m" d="M220.9 176.3l4.4 0.1"/>
<path class="m" d="M168.3 129.9l4.4 10.2"/>
<path color="#908626" d="M308.5 172.6l4.4-2.1l2.1-5.9l-4.4 2.4z"/>
<path color="#83be52" d="M223.2 180.7l4.4 0l2.1-4.2l-4.4 0z"/>
<path class="m" d="M321.5 155.1l4.4 -4.7"/>
<path class="m" d="M251.7 177.7l4.4 0.6"/>
<path class="m" d="M291 175l4.4 0.1"/>
<path color="#9acd4d" d="M256.1 178.3l4.3 .7l2.1-3.9l-4.4-.7z"/>
<path color="#97d95f" d="M190.4 180.6l4.4 2l2.1-5.6l-4.4-2.2z"/>
<path color="#a9dc53" d="M186 177.8l4.4 2.8l2.1-5.8l-4.4-3.1z"/>
<path class="m" d="M308.5 172.6l4.4 -2.1"/>
<path color="#ffd43e" d="M170.5 147.7l4.4 8.1l2.1-7.2l-4.4-8.5z"/>
<path color="#737111" d="M336.8 129.9l1.4-3l.5-3.7z"/>
<path color="#8ad766" d="M194.8 182.6l4.4 1.3l2.1-5.3l-4.4-1.6z"/>
<path class="m" d="M225.3 176.5l4.4 0.1"/>
<path color="#8bbc48" d="M293.3 179.9l4.4-.1l2.1-5l-4.4 .3z"/>
<path color="#cad847" d="M181.6 174.1l4.4 3.7l2.1-6.1l-4.4-4.1z"/>
<path color="#86be4f" d="M227.6 180.7l4.4-.1l2.1-4l-4.4-.1z"/>
<path class="m" d="M256.1 178.3l4.4 0.7"/>
<path class="m" d="M190.4 180.6l4.4 2"/>
<path class="m" d="M186 177.8l4.4 2.8"/>
<path color="#9acf4f" d="M260.4 179l4.4 .8l2.1-3.9l-4.4-.8z"/>
<path class="m" d="M172.6 140.1l4.4 8.5"/>
<path color="#82d369" d="M199.2 183.9l4.4 .8l2.1-5l-4.4-1.1z"/>
<path class="m" d="M194.8 182.6l4.4 1.3"/>
<path class="m" d="M295.4 175.1l4.4 -0.3"/>
<path class="m" d="M181.6 174.1l4.4 3.8"/>
<path color="#e9d23d" d="M177.2 169.2l4.4 4.9l2.1-6.5l-4.4-5.3z"/>
<path class="m" d="M229.7 176.5l4.4 0.1"/>
<path class="m" d="M260.4 179l4.4 0.8"/>
<path color="#756d13" d="M330.3 144.5l4.4-7.4l2.1-7.2l-4.4 7.7z"/>
<path color="#99d152" d="M264.8 179.8l4.4 .9l2.1-4l-4.4-.8z"/>
<path class="m" d="M199.2 183.9l4.4 0.8"/>
<path color="#89b13f" d="M297.7 179.8l4.3-.5l2.1-5.3l-4.3 .8z"/>
<path color="#7bca65" d="M203.6 184.7l4.4 .4l2.1-4.8l-4.4-.6z"/>
<path color="#88721f" d="M312.9 170.5l4.4-3.1l2.1-6.1l-4.4 3.3z"/>
<path color="#8abf4c" d="M232 180.6l4.4 .1l2.1-4l-4.4-.1z"/>
<path color="#ffff27" d="M167.2 127l1.1 2.9l1.3-5.3z"/>
<path class="m" d="M177.2 169.2l4.4 4.9"/>
<path class="m" d="M330.3 144.5l4.4 -7.3"/>
<path class="m" d="M264.8 179.8l4.4 0.9"/>
<path color="#96d155" d="M269.2 180.7l4.4 1l2.1-4.2l-4.4-.8z"/>
<path class="m" d="M299.8 174.8l4.4 -0.8"/>
<path class="m" d="M203.6 184.7l4.4 0.4"/>
<path class="m" d="M312.9 170.5l4.4 -3"/>
<path class="m" d="M234.1 176.6l4.4 0.1"/>
<path color="#785a1b" d="M323.8 156.9l4.4-5.6l2.1-6.8l-4.4 5.9z"/>
<path class="m" d="M167.2 127l1 2.9"/>
<path color="#78c361" d="M208 185.1l4.4 .2l2-4.7l-4.3-.3z"/>
<path color="#8fc24b" d="M236.4 180.7l4.4 .1l2.1-3.9l-4.4-.2z"/>
<path color="#ffc93d" d="M172.8 163l4.4 6.2l2.1-6.9l-4.4-6.5z"/>
<path color="#93d157" d="M273.6 181.7l4.4 .9l2.1-4.3l-4.4-.8z"/>
<path class="m" d="M269.2 180.7l4.4 1"/>
<path color="#fff82d" d="M166.2 137.8l4.3 9.9l2.1-7.6l-4.3-10.2z"/>
<path color="#8aa036" d="M302 179.3l4.4-1.1l2.1-5.6l-4.4 1.4z"/>
<path class="m" d="M325.9 150.4l4.4 -5.9"/>
<path class="m" d="M208 185.1l4.4 0.1"/>
<path class="m" d="M238.5 176.7l4.4 0.2"/>
<path class="m" d="M172.8 163l4.4 6.2"/>
<path class="m" d="M273.6 181.7l4.4 0.9"/>
<path color="#78be5c" d="M212.4 185.3l4.3-.1l2.1-4.4l-4.4-.2z"/>
<path color="#90d059" d="M278 182.6l4.4 .9l2.1-4.4l-4.4-.8z"/>
<path class="m" d="M168.3 129.9l4.4 10.2"/>
<path color="#93c44a" d="M240.8 180.8l4.4 .3l2.1-3.9l-4.4-.3z"/>
<path class="m" d="M304.1 174l4.4 -1.4"/>
<path class="m" d="M212.4 185.3l4.4 -0.1"/>
<path class="m" d="M278 182.6l4.4 0.9"/>
<path color="#8ccd59" d="M282.4 183.5l4.4 .7l2.1-4.6l-4.4-.5z"/>
<path color="#7f601d" d="M317.3 167.4l4.4-4l2.1-6.5l-4.4 4.4z"/>
<path class="m" d="M242.9 176.9l4.4 0.3"/>
<path color="#7abb57" d="M216.7 185.2l4.4-.2l2.1-4.3l-4.4 .1z"/>
<path color="#97c84a" d="M245.2 181.1l4.4 .4l2.1-3.8l-4.4-.5z"/>
<path color="#ffc543" d="M168.5 155.3l4.3 7.7l2.1-7.2l-4.4-8.1z"/>
<path color="#8d8e2a" d="M306.4 178.2l4.4-1.9l2.1-5.8l-4.4 2.1z"/>
<path color="#737111" d="M334.7 137.1l3.1-6.3l.4-3.9l-1.4 3z"/>
<path class="m" d="M282.4 183.5l4.4 0.7"/>
<path class="m" d="M317.3 167.4l4.4 -4"/>
<path color="#89c857" d="M286.8 184.2l4.4 .5l2.1-4.8l-4.4-.3z"/>
<path class="m" d="M216.7 185.2l4.4 -0.2"/>
<path class="m" d="M247.3 177.2l4.4 0.4"/>
<path color="#96da62" d="M183.9 184l4.4 2.5l2.1-5.9l-4.4-2.8z"/>
<path color="#86d76c" d="M188.3 186.5l4.4 1.7l2.1-5.6l-4.4-2z"/>
<path color="#99cb4c" d="M249.6 181.5l4.4 .6l2.1-3.8l-4.4-.6z"/>
<path class="m" d="M168.5 155.3l4.4 7.7"/>
<path class="m" d="M308.5 172.6l4.4 -2.1"/>
<path color="#ffff27" d="M163.4 130.5l2.8 7.3l2.1-7.9l-1.1-2.9z"/>
<path class="m" d="M334.7 137.1l3.1 -6.3"/>
<path color="#addc52" d="M179.5 180.6l4.4 3.4l2.1-6.2l-4.4-3.7z"/>
<path color="#7dba53" d="M221.1 185l4.4-.2l2.1-4.1l-4.4 0z"/>
<path class="m" d="M286.8 184.2l4.4 0.5"/>
<path color="#7cd571" d="M192.7 188.2l4.4 1l2.1-5.3l-4.4-1.3z"/>
<path class="m" d="M186 177.8l4.4 2.8"/>
<path color="#86c152" d="M291.2 184.7l4.4 .2l2.1-5.1l-4.4 .1z"/>
<path class="m" d="M190.4 180.6l4.4 2"/>
<path class="m" d="M251.7 177.7l4.4 0.6"/>
<path class="m" d="M167.2 127l1 2.9"/>
<path color="#9ace4e" d="M254 182.1l4.3 .7l2.1-3.8l-4.3-.7z"/>
<path color="#766715" d="M328.2 151.3l4.4-7l2.1-7.2l-4.4 7.4z"/>
<path class="m" d="M181.6 174.1l4.4 3.8"/>
<path color="#d6d643" d="M175.1 176l4.4 4.6l2.1-6.5l-4.4-4.9z"/>
<path class="m" d="M221.1 185l4.4 -0.2"/>
<path color="#74cd6f" d="M197.1 189.2l4.4 .6l2.1-5.1l-4.4-.8z"/>
<path class="m" d="M194.8 182.6l4.4 1.3"/>
<path class="m" d="M291.2 184.7l4.4 0.2"/>
<path color="#82bb4f" d="M225.5 184.8l4.4-.1l2.1-4.1l-4.4 .1z"/>
<path class="m" d="M256.1 178.3l4.4 0.7"/>
<path color="#877a22" d="M310.8 176.3l4.4-2.7l2.1-6.2l-4.4 3.1z"/>
<path color="#9ad051" d="M258.3 182.8l4.4 .9l2.1-3.9l-4.4-.8z"/>
<path class="m" d="M330.3 144.5l4.4 -7.3"/>
<path class="m" d="M177.2 169.2l4.4 4.9"/>
<path class="m" d="M199.2 183.9l4.4 0.8"/>
<path color="#84b649" d="M295.6 184.9l4.4-.3l2-5.3l-4.3 .5z"/>
<path color="#6fc46a" d="M201.5 189.8l4.4 .2l2.1-4.9l-4.4-.4z"/>
<path color="#77551d" d="M321.7 163.4l4.4-5.2l2.1-6.9l-4.4 5.6z"/>
<path class="m" d="M225.5 184.8l4.4 -0.2"/>
<path color="#ffe732" d="M164.1 145.8l4.4 9.5l2-7.6l-4.3-9.9z"/>
<path class="m" d="M312.9 170.5l4.4 -3"/>
<path color="#98d254" d="M262.7 183.7l4.4 1l2.1-4l-4.4-.9z"/>
<path color="#f4ce3a" d="M170.8 170.2l4.3 5.8l2.1-6.8l-4.4-6.2z"/>
<path class="m" d="M260.4 179l4.4 0.8"/>
<path class="m" d="M295.6 184.9l4.4 -0.3"/>
<path color="#87bd4d" d="M229.9 184.7l4.4-.1l2.1-3.9l-4.4-.1z"/>
<path class="m" d="M203.6 184.7l4.4 0.4"/>
<path class="m" d="M321.7 163.4l4.4 -5.2"/>
<path class="m" d="M164.1 145.8l4.4 9.4"/>
<path color="#95d358" d="M267.1 184.7l4.4 1.1l2.1-4.1l-4.4-1z"/>
<path class="m" d="M264.8 179.8l4.4 0.9"/>
<path class="m" d="M172.8 163l4.4 6.2"/>
<path color="#6ebe64" d="M205.9 190l4.4-.1l2.1-4.6l-4.4-.2z"/>
<path color="#81a93d" d="M300 184.6l4.3-.9l2.1-5.5l-4.4 1.1z"/>
<path class="m" d="M229.9 184.7l4.4 -0.1"/>
<path color="#92d35b" d="M271.5 185.8l4.4 1.1l2.1-4.3l-4.4-.9z"/>
<path class="m" d="M269.2 180.7l4.4 1"/>
<path color="#8dc04b" d="M234.3 184.6l4.4 .1l2.1-3.9l-4.4-.1z"/>
<path class="m" d="M208 185.1l4.4 0.1"/>
<path class="m" d="M300 184.6l4.4 -0.8"/>
<path color="#7f661d" d="M315.2 173.6l4.4-3.7l2.1-6.5l-4.4 4z"/>
<path color="#6fb95e" d="M210.3 189.9l4.4-.3l2-4.4l-4.3 .1z"/>
<path color="#ffc540" d="M166.4 162.8l4.4 7.4l2-7.2l-4.3-7.7z"/>
<path color="#8dd35e" d="M275.9 186.9l4.4 1l2.1-4.4l-4.4-.9z"/>
<path class="m" d="M273.6 181.7l4.4 0.9"/>
<path class="m" d="M234.3 184.6l4.4 0.1"/>
<path color="#92c44a" d="M238.7 184.7l4.4 .2l2.1-3.8l-4.4-.3z"/>
<path class="m" d="M317.3 167.4l4.4 -4"/>
<path class="m" d="M212.4 185.3l4.4 -0.1"/>
<path class="m" d="M168.5 155.3l4.4 7.7"/>
<path color="#89d060" d="M280.3 187.9l4.4 .9l2.1-4.6l-4.4-.7z"/>
<path class="m" d="M278 182.6l4.4 0.9"/>
<path color="#839632" d="M304.3 183.7l4.4-1.5l2.1-5.9l-4.4 1.9z"/>
<path color="#73b759" d="M214.7 189.6l4.3-.3l2.1-4.3l-4.4 .2z"/>
<path class="m" d="M238.7 184.7l4.4 0.2"/>
<path color="#83d971" d="M181.8 190.2l4.4 2.2l2.1-5.9l-4.4-2.5z"/>
<path color="#97db63" d="M177.4 187.1l4.4 3.1l2.1-6.2l-4.4-3.4z"/>
<path color="#76d578" d="M186.2 192.4l4.4 1.4l2.1-5.6l-4.4-1.7z"/>
<path color="#96c74b" d="M243.1 184.9l4.4 .4l2.1-3.8l-4.4-.4z"/>
<path class="m" d="M282.4 183.5l4.4 0.7"/>
<path class="m" d="M304.3 183.7l4.4 -1.5"/>
<path color="#85cc5f" d="M284.7 188.8l4.4 .7l2.1-4.8l-4.4-.5z"/>
<path color="#776117" d="M326.1 158.2l4.4-6.7l2.1-7.2l-4.4 7z"/>
<path color="#737111" d="M332.6 144.3l4.4-8.5l.5-2l.3-3l-3.1 6.3z"/>
<path class="m" d="M216.7 185.2l4.4 -0.2"/>
<path class="m" d="M181.8 190.2l4.4 2.2"/>
<path color="#b5da4f" d="M173 182.9l4.4 4.2l2.1-6.5l-4.4-4.6z"/>
<path color="#6fd17a" d="M190.6 193.8l4.4 .8l2.1-5.4l-4.4-1z"/>
<path class="m" d="M177.4 187.1l4.4 3.1"/>
<path color="#ffff27" d="M159.7 134.4l4.4 11.4l2.1-8l-2.8-7.3l-3.6 3.3z"/>
<path class="m" d="M186.2 192.4l4.4 1.4"/>
<path class="m" d="M243.1 184.9l4.4 0.4"/>
<path class="m" d="M286.8 184.2l4.4 0.5"/>
<path color="#99cb4c" d="M247.5 185.3l4.4 .6l2.1-3.8l-4.4-.6z"/>
<path color="#78b754" d="M219 189.3l4.4-.3l2.1-4.2l-4.4 .2z"/>
<path class="m" d="M326.1 158.2l4.4 -6.6"/>
<path color="#81c55b" d="M289.1 189.5l4.4 .4l2.1-5l-4.4-.2z"/>
<path class="m" d="M334.7 137.1l3.1 -6.3"/>
<path class="m" d="M173 182.9l4.4 4.2"/>
<path class="m" d="M190.6 193.8l4.4 0.8"/>
<path color="#ffd63c" d="M162 153.8l4.4 9l2.1-7.5l-4.4-9.5z"/>
<path color="#68c775" d="M195 194.6l4.4 .3l2.1-5.1l-4.4-.6z"/>
<path class="m" d="M159.7 134.4l4.4 11.4"/>
<path color="#868225" d="M308.7 182.2l4.4-2.4l2.1-6.2l-4.4 2.7z"/>
<path class="m" d="M247.5 185.3l4.4 0.6"/>
<path color="#75551b" d="M319.6 169.9l4.4-4.9l2.1-6.8l-4.4 5.2z"/>
<path class="m" d="M221.1 185l4.4 -0.2"/>
<path color="#9acf4f" d="M251.9 185.9l4.4 .8l2-3.9l-4.3-.7z"/>
<path color="#e1d33e" d="M168.7 177.4l4.3 5.5l2.1-6.9l-4.3-5.8z"/>
<path class="m" d="M291.2 184.7l4.4 0.2"/>
<path class="m" d="M164.1 145.8l4.4 9.4"/>
<path class="m" d="M195 194.6l4.4 0.3"/>
<path color="#7ebc54" d="M293.5 189.9l4.4 0l2.1-5.3l-4.4 .3z"/>
<path class="m" d="M308.7 182.2l4.4 -2.4"/>
<path color="#7eb850" d="M223.4 189l4.4-.3l2.1-4l-4.4 .1z"/>
<path color="#65be6e" d="M199.4 194.9l4.4-.1l2.1-4.8l-4.4-.2z"/>
<path class="m" d="M321.7 163.4l4.4 -5.2"/>
<path class="m" d="M251.9 185.9l4.4 0.8"/>
<path class="m" d="M168.7 177.4l4.4 5.5"/>
<path color="#9ad152" d="M256.3 186.7l4.3 1l2.1-4l-4.4-.9z"/>
<path class="m" d="M295.6 184.9l4.4 -0.3"/>
<path class="m" d="M225.5 184.8l4.4 -0.2"/>
<path class="m" d="M199.4 194.9l4.4 -0.1"/>
<path color="#98d456" d="M260.6 187.7l4.4 1.1l2.1-4.1l-4.4-1z"/>
<path class="m" d="M256.3 186.7l4.4 1"/>
<path color="#84bb4d" d="M227.8 188.7l4.4-.2l2.1-3.9l-4.4 .1z"/>
<path color="#7baf49" d="M297.9 189.9l4.3-.6l2.1-5.6l-4.3 .9z"/>
<path color="#ffc93c" d="M164.3 170.4l4.4 7l2.1-7.2l-4.4-7.4z"/>
<path color="#65b867" d="M203.8 194.8l4.4-.3l2.1-4.6l-4.4 .1z"/>
<path color="#94d55b" d="M265 188.8l4.4 1.1l2.1-4.1l-4.4-1.1z"/>
<path class="m" d="M260.6 187.7l4.4 1.1"/>
<path color="#7e6d1e" d="M313.1 179.8l4.4-3.4l2.1-6.5l-4.4 3.7z"/>
<path class="m" d="M229.9 184.7l4.4 -0.1"/>
<path class="m" d="M300 184.6l4.4 -0.8"/>
<path class="m" d="M164.3 170.4l4.4 7"/>
<path class="m" d="M203.8 194.8l4.4 -0.3"/>
<path color="#8fd55f" d="M269.4 189.9l4.4 1.3l2.1-4.3l-4.4-1.1z"/>
<path class="m" d="M265 188.8l4.4 1.2"/>
<path color="#ffff26" d="M159.6 134.1l.1 .3l.1-.6z"/>
<path color="#8bbe4b" d="M232.2 188.5l4.4 0l2.1-3.8l-4.4-.1z"/>
<path class="m" d="M313.1 179.8l4.4 -3.4"/>
<path color="#737111" d="M337 135.8l.4-1l.1-1z"/>
<path color="#67b460" d="M208.2 194.5l4.4-.4l2.1-4.5l-4.4 .3z"/>
<path color="#fffc2b" d="M157.6 142.8l4.4 11l2.1-8l-4.4-11.4z"/>
<path color="#756e12" d="M330.5 151.5l4.4-8.2l2.1-7.5l-4.4 8.5z"/>
<path color="#8ad563" d="M273.8 191.2l4.4 1.2l2.1-4.5l-4.4-1z"/>
<path class="m" d="M269.4 189.9l4.4 1.2"/>
<path color="#799f3a" d="M302.2 189.3l4.4-1.2l2.1-5.9l-4.4 1.5z"/>
<path class="m" d="M159.6 134.1l0.1 0.4"/>
<path class="m" d="M234.3 184.6l4.4 0.1"/>
<path color="#72d77f" d="M179.7 196.4l4.4 1.8l2.1-5.8l-4.4-2.2z"/>
<path color="#82da74" d="M175.3 193.6l4.4 2.8l2.1-6.2l-4.4-3.1z"/>
<path color="#785b1b" d="M324 165l4.4-6.3l2.1-7.2l-4.4 6.7z"/>
<path class="m" d="M208.2 194.5l4.4 -0.4"/>
<path class="m" d="M159.7 134.4l4.4 11.4"/>
<path color="#85d366" d="M278.2 192.4l4.4 1.1l2.1-4.7l-4.4-.9z"/>
<path color="#90c34b" d="M236.6 188.5l4.4 .2l2.1-3.8l-4.4-.2z"/>
<path class="m" d="M330.5 151.5l4.4 -8.2"/>
<path class="m" d="M273.8 191.2l4.4 1.2"/>
<path color="#68d385" d="M184.1 198.2l4.4 1.1l2.1-5.5l-4.4-1.4z"/>
<path class="m" d="M304.3 183.7l4.4 -1.5"/>
<path color="#9adb60" d="M171 189.7l4.3 3.9l2.1-6.5l-4.4-4.2z"/>
<path class="m" d="M181.8 190.2l4.4 2.2"/>
<path color="#ffc642" d="M159.9 161.8l4.4 8.6l2.1-7.6l-4.4-9z"/>
<path class="m" d="M177.4 187.1l4.4 3.1"/>
<path color="#6cb35a" d="M212.6 194.1l4.3-.5l2.1-4.3l-4.3 .3z"/>
<path class="m" d="M326.1 158.2l4.4 -6.6"/>
<path color="#80d067" d="M282.6 193.5l4.4 .9l2.1-4.9l-4.4-.7z"/>
<path class="m" d="M278.2 192.4l4.4 1.1"/>
<path class="m" d="M238.7 184.7l4.4 0.2"/>
<path color="#60cb82" d="M188.5 199.3l4.4 .6l2.1-5.3l-4.4-.8z"/>
<path class="m" d="M186.2 192.4l4.4 1.4"/>
<path class="m" d="M173 182.9l4.4 4.2"/>
<path color="#95c74b" d="M241 188.7l4.4 .4l2.1-3.8l-4.4-.4z"/>
<path class="m" d="M159.9 161.8l4.4 8.7"/>
<path class="m" d="M212.6 194.1l4.4 -0.5"/>
<path color="#c2d849" d="M166.6 184.6l4.4 5.1l2-6.8l-4.3-5.5z"/>
<path color="#765a1b" d="M317.5 176.4l4.4-4.5l2.1-6.9l-4.4 4.9z"/>
<path class="m" d="M282.6 193.5l4.4 0.9"/>
<path color="#7b8a2d" d="M306.6 188.1l4.4-2.1l2.1-6.2l-4.4 2.4z"/>
<path color="#7bca65" d="M287 194.4l4.4 .6l2.1-5.1l-4.4-.4z"/>
<path class="m" d="M190.6 193.8l4.4 0.8"/>
<path class="m" d="M243.1 184.9l4.4 0.4"/>
<path color="#ffff26" d="M155.9 137.7l1.7 5.1l2.1-8.4l-.1-.3z"/>
<path color="#5cc07a" d="M192.9 199.9l4.4 0l2.1-5l-4.4-.3z"/>
<path color="#72b355" d="M216.9 193.6l4.4-.5l2.1-4.1l-4.4 .3z"/>
<path color="#98cb4d" d="M245.4 189.1l4.4 .7l2.1-3.9l-4.4-.6z"/>
<path class="m" d="M168.7 177.4l4.4 5.5"/>
<path class="m" d="M317.5 176.4l4.4 -4.6"/>
<path class="m" d="M308.7 182.2l4.4 -2.4"/>
<path class="m" d="M287 194.4l4.4 0.6"/>
<path class="m" d="M159.6 134.1l0.1 0.4"/>
<path class="m" d="M195 194.6l4.4 0.3"/>
<path color="#77c15f" d="M291.4 195l4.4 .2l2.1-5.3l-4.4 0z"/>
<path class="m" d="M216.9 193.6l4.4 -0.5"/>
<path color="#737111" d="M334.9 143.3l2-4.6l.5-3.9l-.4 1z"/>
<path class="m" d="M247.5 185.3l4.4 0.6"/>
<path color="#9acf50" d="M249.8 189.8l4.4 .8l2.1-3.9l-4.4-.8z"/>
<path color="#5bb872" d="M197.3 199.9l4.4-.3l2.1-4.8l-4.4 .1z"/>
<path color="#edcf3a" d="M162.2 178l4.4 6.6l2.1-7.2l-4.4-7z"/>
<path color="#7ab551" d="M221.3 193.1l4.4-.4l2.1-4l-4.4 .3z"/>
<path class="m" d="M291.4 195l4.4 0.2"/>
<path class="m" d="M334.9 143.3l2 -4.6"/>
<path color="#99d253" d="M254.2 190.6l4.4 1l2-3.9l-4.3-1z"/>
<path class="m" d="M251.9 185.9l4.4 0.8"/>
<path class="m" d="M199.4 194.9l4.4 -0.1"/>
<path class="m" d="M164.3 170.4l4.4 7"/>
<path color="#74b555" d="M295.8 195.2l4.4-.3l2-5.6l-4.3 .6z"/>
<path color="#7c7421" d="M311 186l4.4-3.1l2.1-6.5l-4.4 3.4z"/>
<path class="m" d="M221.3 193.1l4.4 -0.4"/>
<path color="#ffec30" d="M155.5 151.2l4.4 10.6l2.1-8l-4.4-11z"/>
<path color="#97d558" d="M258.6 191.6l4.3 1.2l2.1-4l-4.4-1.1z"/>
<path class="m" d="M256.3 186.7l4.4 1"/>
<path color="#5cb269" d="M201.7 199.6l4.4-.5l2.1-4.6l-4.4 .3z"/>
<path color="#766914" d="M328.4 158.7l4.4-7.8l2.1-7.6l-4.4 8.2z"/>
<path color="#81b94e" d="M225.7 192.7l4.4-.2l2.1-4l-4.4 .2z"/>
<path class="m" d="M295.8 195.2l4.4 -0.3"/>
<path class="m" d="M313.1 179.8l4.4 -3.4"/>
<path class="m" d="M155.5 151.2l4.4 10.6"/>
<path color="#92d65d" d="M262.9 192.8l4.4 1.3l2.1-4.2l-4.4-1.1z"/>
<path class="m" d="M260.6 187.7l4.4 1.1"/>
<path class="m" d="M203.8 194.8l4.4 -0.3"/>
<path color="#77551d" d="M321.9 171.9l4.4-5.9l2.1-7.3l-4.4 6.3z"/>
<path class="m" d="M330.5 151.5l4.4 -8.2"/>
<path class="m" d="M225.7 192.7l4.4 -0.2"/>
<path color="#8cd562" d="M267.3 194.1l4.4 1.3l2.1-4.2l-4.4-1.3z"/>
<path color="#72a547" d="M300.2 194.9l4.3-1l2.1-5.8l-4.4 1.2z"/>
<path color="#70d885" d="M173.2 200.1l4.4 2.4l2.1-6.1l-4.4-2.8z"/>
<path color="#ffc53f" d="M157.8 169.7l4.4 8.3l2.1-7.6l-4.4-8.6z"/>
<path class="m" d="M265 188.8l4.4 1.2"/>
<path color="#62d48e" d="M177.6 202.5l4.4 1.6l2.1-5.9l-4.4-1.8z"/>
<path color="#60af62" d="M206.1 199.1l4.4-.6l2.1-4.4l-4.4 .4z"/>
<path color="#88bd4c" d="M230.1 192.5l4.4-.1l2.1-3.9l-4.4 0z"/>
<path color="#83da74" d="M168.9 196.6l4.3 3.5l2.1-6.5l-4.3-3.9z"/>
<path class="m" d="M321.9 171.9l4.4 -5.9"/>
<path color="#86d567" d="M271.7 195.4l4.4 1.4l2.1-4.4l-4.4-1.2z"/>
<path color="#59d090" d="M182 204.1l4.4 .8l2.1-5.6l-4.4-1.1z"/>
<path class="m" d="M269.4 189.9l4.4 1.2"/>
<path class="m" d="M300.2 194.9l4.4 -1"/>
<path class="m" d="M173.2 200.1l4.4 2.4"/>
<path class="m" d="M159.9 161.8l4.4 8.7"/>
<path class="m" d="M177.6 202.5l4.4 1.6"/>
<path class="m" d="M208.2 194.5l4.4 -0.4"/>
<path class="m" d="M230.1 192.5l4.4 -0.1"/>
<path class="m" d="M168.9 196.6l4.4 3.5"/>
<path color="#80d46c" d="M276.1 196.8l4.4 1.3l2.1-4.6l-4.4-1.1z"/>
<path color="#a0db59" d="M164.5 191.8l4.4 4.8l2.1-6.9l-4.4-5.1z"/>
<path class="m" d="M273.8 191.2l4.4 1.2"/>
<path class="m" d="M182 204.1l4.4 0.8"/>
<path color="#8fc24b" d="M234.5 192.4l4.4 .2l2.1-3.9l-4.4-.2z"/>
<path color="#75601b" d="M315.4 182.9l4.4-4.2l2.1-6.8l-4.4 4.5z"/>
<path color="#53c488" d="M186.4 204.9l4.4 .3l2.1-5.3l-4.4-.6z"/>
<path color="#66ae5b" d="M210.5 198.5l4.4-.7l2-4.2l-4.3 .5z"/>
<path color="#7ad370" d="M280.5 198.1l4.4 1.1l2.1-4.8l-4.4-.9z"/>
<path class="m" d="M278.2 192.4l4.4 1.1"/>
<path color="#709335" d="M304.5 193.9l4.4-1.7l2.1-6.2l-4.4 2.1z"/>
<path class="m" d="M164.5 191.8l4.4 4.8"/>
<path color="#ffff26" d="M152.1 141.2l3.4 10l2.1-8.4l-1.7-5.1z"/>
<path class="m" d="M234.5 192.4l4.4 0.2"/>
<path class="m" d="M317.5 176.4l4.4 -4.6"/>
<path class="m" d="M186.4 204.9l4.4 0.2"/>
<path class="m" d="M212.6 194.1l4.4 -0.5"/>
<path color="#94c74b" d="M238.9 192.6l4.4 .4l2.1-3.9l-4.4-.4z"/>
<path class="m" d="M282.6 193.5l4.4 0.9"/>
<path color="#75ce6f" d="M284.9 199.2l4.4 .8l2.1-5l-4.4-.6z"/>
<path color="#50ba7f" d="M190.8 205.2l4.4-.2l2.1-5.1l-4.4 0z"/>
<path class="m" d="M304.5 193.9l4.4 -1.8"/>
<path color="#d7d440" d="M160.1 185.6l4.4 6.2l2.1-7.2l-4.4-6.6z"/>
<path class="m" d="M152.1 141.2l3.4 9.9"/>
<path color="#6daf56" d="M214.9 197.8l4.3-.6l2.1-4.1l-4.4 .5z"/>
<path class="m" d="M238.9 192.6l4.4 0.4"/>
<path class="m" d="M287 194.4l4.4 0.6"/>
<path class="m" d="M190.8 205.2l4.4 -0.2"/>
<path color="#ffda3a" d="M153.4 159.5l4.4 10.2l2.1-7.9l-4.4-10.6z"/>
<path color="#98cc4d" d="M243.3 193l4.4 .6l2.1-3.8l-4.4-.7z"/>
<path color="#70c66b" d="M289.3 200l4.4 .5l2.1-5.3l-4.4-.2z"/>
<path color="#737111" d="M332.8 150.9l3.7-8.2l.4-4l-2 4.6z"/>
<path class="m" d="M160.1 185.6l4.4 6.2"/>
<path class="m" d="M216.9 193.6l4.4 -0.5"/>
<path color="#51b275" d="M195.2 205l4.4-.5l2.1-4.9l-4.4 .3z"/>
<path class="m" d="M155.5 151.2l4.4 10.6"/>
<path class="m" d="M243.3 193l4.4 0.6"/>
<path class="m" d="M291.4 195l4.4 0.2"/>
<path class="m" d="M334.9 143.3l2 -4.6"/>
<path color="#776316" d="M326.3 166l4.4-7.5l2.1-7.6l-4.4 7.8z"/>
<path color="#747c27" d="M308.9 192.2l4.4-2.8l2.1-6.5l-4.4 3.1z"/>
<path color="#99d050" d="M247.7 193.6l4.4 .9l2.1-3.9l-4.4-.8z"/>
<path color="#6cbb62" d="M293.7 200.5l4.4 0l2.1-5.6l-4.4 .3z"/>
<path color="#75b251" d="M219.2 197.2l4.4-.5l2.1-4l-4.4 .4z"/>
<path class="m" d="M195.2 205l4.4 -0.5"/>
<path class="m" d="M326.3 166l4.4 -7.4"/>
<path class="m" d="M308.9 192.2l4.4 -2.7"/>
<path color="#99d455" d="M252.1 194.5l4.4 1l2.1-3.9l-4.4-1z"/>
<path class="m" d="M247.7 193.6l4.4 0.9"/>
<path color="#fcca3b" d="M155.7 177.7l4.4 7.9l2.1-7.6l-4.4-8.3z"/>
<path color="#74551b" d="M319.8 178.7l4.4-5.5l2.1-7.2l-4.4 5.9z"/>
<path class="m" d="M295.8 195.2l4.4 -0.3"/>
<path class="m" d="M221.3 193.1l4.4 -0.4"/>
<path color="#54ad6c" d="M199.6 204.5l4.4-.8l2.1-4.6l-4.4 .5z"/>
<path color="#96d65a" d="M256.5 195.5l4.3 1.3l2.1-4l-4.3-1.2z"/>
<path color="#5dd696" d="M171.2 206.6l4.3 2.1l2.1-6.2l-4.4-2.4z"/>
<path class="m" d="M252.1 194.5l4.4 1.1"/>
<path class="m" d="M155.7 177.7l4.4 7.9"/>
<path color="#6ed888" d="M166.8 203.4l4.4 3.2l2-6.5l-4.3-3.5z"/>
<path class="m" d="M321.9 171.9l4.4 -5.9"/>
<path color="#7eb64e" d="M223.6 196.7l4.4-.3l2.1-3.9l-4.4 .2z"/>
<path color="#6aab55" d="M298.1 200.5l4.4-.7l2-5.9l-4.3 1z"/>
<path color="#51d29c" d="M175.5 208.7l4.4 1.3l2.1-5.9l-4.4-1.6z"/>
<path class="m" d="M199.6 204.5l4.4 -0.7"/>
<path color="#8fd55f" d="M260.8 196.8l4.4 1.4l2.1-4.1l-4.4-1.3z"/>
<path class="m" d="M256.5 195.5l4.4 1.3"/>
<path class="m" d="M173.2 200.1l4.4 2.4"/>
<path color="#86d970" d="M162.4 199l4.4 4.4l2.1-6.8l-4.4-4.8z"/>
<path class="m" d="M168.9 196.6l4.4 3.5"/>
<path class="m" d="M225.7 192.7l4.4 -0.2"/>
<path color="#4aca98" d="M179.9 210l4.4 .5l2.1-5.6l-4.4-.8z"/>
<path color="#88d565" d="M265.2 198.2l4.4 1.5l2.1-4.3l-4.4-1.3z"/>
<path class="m" d="M300.2 194.9l4.4 -1"/>
<path class="m" d="M177.6 202.5l4.4 1.6"/>
<path color="#59aa63" d="M204 203.7l4.4-.8l2.1-4.4l-4.4 .6z"/>
<path class="m" d="M260.8 196.8l4.4 1.4"/>
<path color="#73671d" d="M313.3 189.4l4.4-3.8l2.1-6.9l-4.4 4.2z"/>
<path color="#81d56c" d="M269.6 199.7l4.4 1.5l2.1-4.4l-4.4-1.4z"/>
<path color="#86bb4c" d="M228 196.4l4.4-.1l2.1-3.9l-4.4 .1z"/>
<path class="m" d="M164.5 191.8l4.4 4.8"/>
<path class="m" d="M182 204.1l4.4 0.8"/>
<path class="m" d="M265.2 198.2l4.4 1.5"/>
<path class="m" d="M204 203.7l4.4 -0.8"/>
<path color="#46bd8e" d="M184.3 210.5l4.4 0l2.1-5.3l-4.4-.3z"/>
<path color="#7ad472" d="M274 201.2l4.4 1.5l2.1-4.6l-4.4-1.3z"/>
<path color="#689943" d="M302.5 199.8l4.3-1.5l2.1-6.1l-4.4 1.7z"/>
<path class="m" d="M313.3 189.4l4.4 -3.9"/>
<path class="m" d="M269.6 199.7l4.4 1.5"/>
<path class="m" d="M230.1 192.5l4.4 -0.1"/>
<path color="#add94f" d="M158 193.2l4.4 5.8l2.1-7.2l-4.4-6.2z"/>
<path color="#ffff27" d="M149 147.2l4.4 12.3l2.1-8.3l-3.4-10l-2.1 1.9z"/>
<path color="#ffc841" d="M151.3 167.9l4.4 9.8l2.1-8l-4.4-10.2z"/>
<path color="#74d477" d="M278.4 202.7l4.4 1.3l2.1-4.8l-4.4-1.1z"/>
<path color="#8ec14b" d="M232.4 196.3l4.4 .1l2.1-3.8l-4.4-.2z"/>
<path color="#60aa5c" d="M208.4 202.9l4.4-.8l2.1-4.3l-4.4 .7z"/>
<path class="m" d="M186.4 204.9l4.4 0.2"/>
<path class="m" d="M274 201.2l4.4 1.5"/>
<path class="m" d="M304.5 193.9l4.4 -1.8"/>
<path class="m" d="M160.1 185.6l4.4 6.2"/>
<path class="m" d="M152.1 141.2l3.4 9.9"/>
<path color="#6fd279" d="M282.8 204l4.4 1.1l2.1-5.1l-4.4-.8z"/>
<path color="#45b383" d="M188.7 210.5l4.4-.5l2.1-5l-4.4 .2z"/>
<path class="m" d="M151.3 167.9l4.4 9.8"/>
<path class="m" d="M278.4 202.7l4.4 1.3"/>
<path class="m" d="M234.5 192.4l4.4 0.2"/>
<path class="m" d="M208.4 202.9l4.4 -0.8"/>
<path color="#94c64c" d="M236.8 196.4l4.4 .4l2.1-3.8l-4.4-.4z"/>
<path color="#785c1a" d="M324.2 173.2l4.4-7.1l2.1-7.6l-4.4 7.5z"/>
<path class="m" d="M282.8 204l4.4 1.1"/>
<path class="m" d="M190.8 205.2l4.4 -0.2"/>
<path color="#6aca77" d="M287.2 205.1l4.4 .7l2.1-5.3l-4.4-.5z"/>
<path color="#737111" d="M330.7 158.5l4.4-9.2l1.4-5.2l0-1.4l-3.7 8.2z"/>
<path color="#68ac56" d="M212.8 202.1l4.4-.7l2-4.2l-4.3 .6z"/>
<path color="#68852f" d="M306.8 198.3l4.4-2.4l2.1-6.5l-4.4 2.8z"/>
<path color="#e7d03b" d="M153.6 185.7l4.4 7.5l2.1-7.6l-4.4-7.9z"/>
<path class="m" d="M238.9 192.6l4.4 0.4"/>
<path class="m" d="M326.3 166l4.4 -7.4"/>
<path color="#48ac78" d="M193.1 210l4.4-.7l2.1-4.8l-4.4 .5z"/>
<path color="#98cc4e" d="M241.2 196.8l4.4 .6l2.1-3.8l-4.4-.6z"/>
<path class="m" d="M287.2 205.1l4.4 0.7"/>
<path class="m" d="M330.7 158.5l4.4 -9.2"/>
<path color="#70571a" d="M317.7 185.6l4.4-5.2l2.1-7.2l-4.4 5.5z"/>
<path class="m" d="M212.8 202.1l4.4 -0.7"/>
<path class="m" d="M308.9 192.2l4.4 -2.7"/>
<path color="#65c070" d="M291.6 205.8l4.4 .2l2.1-5.5l-4.4 0z"/>
<path class="m" d="M155.7 177.7l4.4 7.9"/>
<path class="m" d="M195.2 205l4.4 -0.5"/>
<path class="m" d="M243.3 193l4.4 0.6"/>
<path color="#99d151" d="M245.6 197.4l4.4 .9l2.1-3.8l-4.4-.9z"/>
<path class="m" d="M317.7 185.6l4.4 -5.2"/>
<path color="#71af52" d="M217.2 201.4l4.3-.6l2.1-4.1l-4.4 .5z"/>
<path color="#4dd4a5" d="M169.1 213.1l4.4 1.8l2-6.2l-4.3-2.1z"/>
<path color="#5ad79b" d="M164.7 210.3l4.4 2.8l2.1-6.5l-4.4-3.2z"/>
<path class="m" d="M291.6 205.8l4.4 0.2"/>
<path color="#4ca76d" d="M197.5 209.3l4.4-.9l2.1-4.7l-4.4 .8z"/>
<path color="#98d556" d="M250 198.3l4.4 1.2l2.1-4l-4.4-1z"/>
<path color="#45d0a8" d="M173.5 214.9l4.3 .9l2.1-5.8l-4.4-1.3z"/>
<path class="m" d="M247.7 193.6l4.4 0.9"/>
<path color="#6fd886" d="M160.3 206.2l4.4 4.1l2.1-6.9l-4.4-4.4z"/>
<path color="#61b263" d="M296 206l4.4-.3l2.1-5.9l-4.4 .7z"/>
<path color="#fffd26" d="M148.3 144.8l.7 2.4l1-4.1z"/>
<path class="m" d="M217.2 201.4l4.4 -0.6"/>
<path class="m" d="M169.1 213.1l4.4 1.8"/>
<path class="m" d="M164.7 210.3l4.4 2.8"/>
<path color="#fff22d" d="M146.9 156l4.4 11.9l2.1-8.4l-4.4-12.3z"/>
<path color="#94d65c" d="M254.4 199.5l4.4 1.3l2-4l-4.3-1.3z"/>
<path class="m" d="M199.6 204.5l4.4 -0.7"/>
<path class="m" d="M252.1 194.5l4.4 1.1"/>
<path class="m" d="M173.5 214.9l4.4 0.9"/>
<path color="#6e6e21" d="M311.2 195.9l4.4-3.5l2.1-6.8l-4.4 3.8z"/>
<path color="#3ec39e" d="M177.8 215.8l4.4 .3l2.1-5.6l-4.4-.5z"/>
<path class="m" d="M160.3 206.2l4.4 4.1"/>
<path class="m" d="M296 206l4.4 -0.4"/>
<path color="#7bb44e" d="M221.5 200.8l4.4-.5l2.1-3.9l-4.4 .3z"/>
<path color="#8dd562" d="M258.8 200.8l4.3 1.5l2.1-4.1l-4.4-1.4z"/>
<path color="#ffc43f" d="M149.2 176.3l4.4 9.4l2.1-8l-4.4-9.8z"/>
<path class="m" d="M146.9 156l4.4 11.9"/>
<path color="#8ed866" d="M155.9 200.7l4.4 5.5l2.1-7.2l-4.4-5.8z"/>
<path class="m" d="M256.5 195.5l4.4 1.3"/>
<path class="m" d="M313.3 189.4l4.4 -3.9"/>
<path color="#85d568" d="M263.1 202.3l4.4 1.7l2.1-4.3l-4.4-1.5z"/>
<path color="#53a565" d="M201.9 208.4l4.4-1l2.1-4.5l-4.4 .8z"/>
<path class="m" d="M177.8 215.8l4.4 0.2"/>
<path class="m" d="M221.5 200.8l4.4 -0.4"/>
<path color="#5f9f51" d="M300.4 205.7l4.3-1.2l2.1-6.2l-4.3 1.5z"/>
<path class="m" d="M260.8 196.8l4.4 1.4"/>
<path color="#3cb691" d="M182.2 216.1l4.4-.3l2.1-5.3l-4.4 0z"/>
<path class="m" d="M151.3 167.9l4.4 9.8"/>
<path color="#7cd470" d="M267.5 204l4.4 1.7l2.1-4.5l-4.4-1.5z"/>
<path class="m" d="M155.9 200.7l4.4 5.5"/>
<path color="#84ba4c" d="M225.9 200.3l4.4-.1l2.1-3.9l-4.4 .1z"/>
<path class="m" d="M265.2 198.2l4.4 1.5"/>
<path class="m" d="M204 203.7l4.4 -0.8"/>
<path color="#737111" d="M335.1 149.3l1-2.6l.4-2.6z"/>
<path color="#74d477" d="M271.9 205.7l4.4 1.6l2.1-4.6l-4.4-1.5z"/>
<path class="m" d="M300.4 205.7l4.4 -1.1"/>
<path color="#766c13" d="M328.6 166.1l4.4-8.8l2.1-8l-4.4 9.2z"/>
<path class="m" d="M182.2 216.1l4.4 -0.3"/>
<path class="m" d="M269.6 199.7l4.4 1.5"/>
<path color="#77551c" d="M322.1 180.4l4.4-6.7l2.1-7.6l-4.4 7.1z"/>
<path color="#6ed37d" d="M276.3 207.3l4.4 1.5l2.1-4.8l-4.4-1.3z"/>
<path class="m" d="M225.9 200.3l4.4 -0.2"/>
<path class="m" d="M335.1 149.3l1 -2.7"/>
<path class="m" d="M274 201.2l4.4 1.5"/>
<path color="#5aa65d" d="M206.3 207.4l4.4-1l2.1-4.3l-4.4 .8z"/>
<path color="#c7d544" d="M151.5 193.6l4.4 7.1l2.1-7.5l-4.4-7.5z"/>
<path color="#3cac85" d="M186.6 215.8l4.4-.7l2.1-5.1l-4.4 .5z"/>
<path class="m" d="M330.7 158.5l4.4 -9.2"/>
<path color="#8cc04b" d="M230.3 200.2l4.4 0l2.1-3.8l-4.4-.1z"/>
<path color="#68d382" d="M280.7 208.8l4.4 1.3l2.1-5l-4.4-1.1z"/>
<path class="m" d="M322.1 180.4l4.4 -6.7"/>
<path class="m" d="M278.4 202.7l4.4 1.3"/>
<path color="#5f8b3d" d="M304.7 204.5l4.4-2.1l2.1-6.5l-4.4 2.4z"/>
<path color="#fffd26" d="M144.6 148.4l2.3 7.6l2.1-8.8l-.7-2.4z"/>
<path class="m" d="M208.4 202.9l4.4 -0.8"/>
<path class="m" d="M151.5 193.6l4.4 7.1"/>
<path color="#6a5a18" d="M315.6 192.4l4.4-4.8l2.1-7.2l-4.4 5.2z"/>
<path class="m" d="M186.6 215.8l4.4 -0.7"/>
<path color="#63cf83" d="M285.1 210.1l4.4 1l2.1-5.3l-4.4-.7z"/>
<path class="m" d="M230.3 200.2l4.4 0.1"/>
<path class="m" d="M282.8 204l4.4 1.1"/>
<path color="#93c64c" d="M234.7 200.2l4.4 .4l2.1-3.8l-4.4-.4z"/>
<path class="m" d="M304.7 204.5l4.4 -2.1"/>
<path class="m" d="M144.6 148.4l2.3 7.6"/>
<path color="#63a857" d="M210.7 206.4l4.4-.9l2.1-4.1l-4.4 .7z"/>
<path class="m" d="M317.7 185.6l4.4 -5.2"/>
<path color="#3fa57a" d="M191 215.1l4.4-1l2.1-4.8l-4.4 .7z"/>
<path class="m" d="M287.2 205.1l4.4 0.7"/>
<path color="#5dc57e" d="M289.5 211.1l4.4 .5l2.1-5.6l-4.4-.2z"/>
<path color="#4ad5ac" d="M162.6 217.1l4.4 2.5l2.1-6.5l-4.4-2.8z"/>
<path color="#ffdf36" d="M144.8 164.8l4.4 11.5l2.1-8.4l-4.4-11.9z"/>
<path class="m" d="M234.7 200.2l4.4 0.4"/>
<path color="#3ed2b3" d="M167 219.6l4.4 1.5l2.1-6.2l-4.4-1.8z"/>
<path color="#97cc4e" d="M239.1 200.6l4.4 .7l2.1-3.9l-4.4-.6z"/>
<path color="#59d69c" d="M158.2 213.4l4.4 3.7l2.1-6.8l-4.4-4.1z"/>
<path class="m" d="M212.8 202.1l4.4 -0.7"/>
<path class="m" d="M191 215.1l4.4 -1"/>
<path class="m" d="M291.6 205.8l4.4 0.2"/>
<path color="#37cbb0" d="M171.4 221.1l4.3 .6l2.1-5.9l-4.3-.9z"/>
<path class="m" d="M164.7 210.3l4.4 2.8"/>
<path class="m" d="M146.9 156l4.4 11.9"/>
<path class="m" d="M169.1 213.1l4.4 1.8"/>
<path color="#faca3a" d="M147.1 184.6l4.4 9l2.1-7.9l-4.4-9.4z"/>
<path color="#59b772" d="M293.9 211.6l4.4-.1l2.1-5.8l-4.4 .3z"/>
<path class="m" d="M239.1 200.6l4.4 0.7"/>
<path color="#99d152" d="M243.5 201.3l4.4 .9l2.1-3.9l-4.4-.9z"/>
<path class="m" d="M160.3 206.2l4.4 4.1"/>
<path color="#6dac52" d="M215.1 205.5l4.3-.7l2.1-4l-4.3 .6z"/>
<path color="#617629" d="M309.1 202.4l4.4-3.1l2.1-6.9l-4.4 3.5z"/>
<path color="#45a16f" d="M195.4 214.1l4.4-1.1l2.1-4.6l-4.4 .9z"/>
<path color="#73d77f" d="M153.8 208.3l4.4 5.1l2.1-7.2l-4.4-5.5z"/>
<path class="m" d="M173.5 214.9l4.4 0.9"/>
<path color="#737111" d="M333 157.3l2.7-6.7l.4-3.9l-1 2.6z"/>
<path class="m" d="M147.1 184.6l4.4 9"/>
<path color="#33bca3" d="M175.7 221.7l4.4 0l2.1-5.6l-4.4-.3z"/>
<path color="#98d658" d="M247.9 202.2l4.4 1.2l2.1-3.9l-4.4-1.2z"/>
<path class="m" d="M296 206l4.4 -0.4"/>
<path class="m" d="M243.5 201.3l4.4 0.9"/>
<path class="m" d="M217.2 201.4l4.4 -0.6"/>
<path class="m" d="M309.1 202.4l4.4 -3.2"/>
<path class="m" d="M195.4 214.1l4.4 -1.1"/>
<path class="m" d="M155.9 200.7l4.4 5.5"/>
<path color="#92d65d" d="M252.3 203.4l4.4 1.4l2.1-4l-4.4-1.3z"/>
<path class="m" d="M335.1 149.3l1 -2.7"/>
<path class="m" d="M177.8 215.8l4.4 0.2"/>
<path color="#57a661" d="M298.3 211.5l4.4-.8l2-6.2l-4.3 1.2z"/>
<path class="m" d="M247.9 202.2l4.4 1.2"/>
<path color="#776415" d="M326.5 173.7l4.4-8.4l2.1-8l-4.4 8.8z"/>
<path color="#78b24e" d="M219.4 204.8l4.4-.5l2.1-4l-4.4 .5z"/>
<path color="#8ad564" d="M256.7 204.8l4.3 1.7l2.1-4.2l-4.3-1.5z"/>
<path color="#74551b" d="M320 187.6l4.4-6.3l2.1-7.6l-4.4 6.7z"/>
<path color="#32af94" d="M180.1 221.7l4.4-.6l2.1-5.3l-4.4 .3z"/>
<path color="#4ca066" d="M199.8 213l4.4-1.2l2.1-4.4l-4.4 1z"/>
<path class="m" d="M252.3 203.4l4.4 1.4"/>
<path color="#9dd858" d="M149.4 201.6l4.4 6.7l2.1-7.6l-4.4-7.1z"/>
<path color="#81d56b" d="M261 206.5l4.4 1.7l2.1-4.2l-4.4-1.7z"/>
<path class="m" d="M300.4 205.7l4.4 -1.1"/>
<path class="m" d="M326.5 173.7l4.4 -8.4"/>
<path class="m" d="M221.5 200.8l4.4 -0.4"/>
<path color="#78d474" d="M265.4 208.2l4.4 1.9l2.1-4.4l-4.4-1.7z"/>
<path class="m" d="M256.7 204.8l4.4 1.6"/>
<path class="m" d="M322.1 180.4l4.4 -6.7"/>
<path class="m" d="M182.2 216.1l4.4 -0.3"/>
<path class="m" d="M199.8 213l4.4 -1.2"/>
<path color="#6fd37c" d="M269.8 210.1l4.4 1.8l2.1-4.6l-4.4-1.6z"/>
<path class="m" d="M151.5 193.6l4.4 7.1"/>
<path class="m" d="M261.1 206.5l4.4 1.8"/>
<path color="#82b84c" d="M223.8 204.3l4.4-.3l2.1-3.8l-4.4 .1z"/>
<path color="#67d384" d="M274.2 211.9l4.4 1.8l2.1-4.9l-4.4-1.5z"/>
<path color="#fffd27" d="M140.7 151.9l4.1 12.9l2.1-8.8l-2.3-7.6z"/>
<path class="m" d="M265.4 208.2l4.4 1.8"/>
<path color="#67601b" d="M313.5 199.3l4.4-4.5l2.1-7.2l-4.4 4.8z"/>
<path color="#55914c" d="M302.7 210.7l4.3-1.8l2.1-6.5l-4.4 2.1z"/>
<path color="#34a687" d="M184.5 221.1l4.4-1l2.1-5l-4.4 .7z"/>
<path class="m" d="M269.8 210.1l4.4 1.8"/>
<path color="#ffcb40" d="M142.7 173.5l4.4 11.1l2.1-8.3l-4.4-11.5z"/>
<path color="#60d28a" d="M278.6 213.7l4.4 1.5l2.1-5.1l-4.4-1.3z"/>
<path color="#55a15e" d="M204.2 211.8l4.4-1.1l2.1-4.3l-4.4 1z"/>
<path class="m" d="M225.9 200.3l4.4 -0.2"/>
<path class="m" d="M274.2 211.9l4.4 1.7"/>
<path class="m" d="M144.6 148.4l2.3 7.6"/>
<path class="m" d="M313.5 199.3l4.4 -4.5"/>
<path class="m" d="M304.7 204.5l4.4 -2.1"/>
<path color="#8bbf4b" d="M228.2 204l4.4 .1l2.1-3.9l-4.4 0z"/>
<path class="m" d="M186.6 215.8l4.4 -0.7"/>
<path color="#5bd18f" d="M283 215.2l4.4 1.2l2.1-5.3l-4.4-1z"/>
<path class="m" d="M142.7 173.5l4.4 11.1"/>
<path class="m" d="M278.6 213.7l4.4 1.5"/>
<path class="m" d="M204.2 211.8l4.4 -1.1"/>
<path color="#3ad4bc" d="M160.5 224l4.4 2.1l2.1-6.5l-4.4-2.5z"/>
<path color="#e3d03b" d="M145 193l4.4 8.6l2.1-8l-4.4-9z"/>
<path color="#48d6b0" d="M156.1 220.6l4.4 3.4l2.1-6.9l-4.4-3.7z"/>
<path color="#30d0c0" d="M164.9 226.1l4.4 1.2l2.1-6.2l-4.4-1.5z"/>
<path class="m" d="M230.3 200.2l4.4 0.1"/>
<path class="m" d="M283 215.2l4.4 1.2"/>
<path color="#55ca8c" d="M287.4 216.4l4.4 .8l2.1-5.6l-4.4-.5z"/>
<path color="#389f7b" d="M188.9 220.1l4.4-1.2l2.1-4.8l-4.4 1z"/>
<path color="#92c64c" d="M232.6 204.1l4.4 .3l2.1-3.8l-4.4-.4z"/>
<path class="m" d="M160.5 224l4.4 2.1"/>
<path color="#5ea457" d="M208.6 210.7l4.4-1.1l2.1-4.1l-4.4 .9z"/>
<path class="m" d="M147.1 184.6l4.4 9"/>
<path class="m" d="M156.1 220.6l4.4 3.3"/>
<path color="#2ac4b6" d="M169.3 227.3l4.4 .3l2-5.9l-4.3-.6z"/>
<path class="m" d="M164.9 226.1l4.4 1.1"/>
<path color="#5bd598" d="M151.7 215.9l4.4 4.7l2.1-7.2l-4.4-5.1z"/>
<path color="#567c35" d="M307 208.9l4.4-2.8l2.1-6.8l-4.4 3.1z"/>
<path class="m" d="M287.4 216.4l4.4 0.8"/>
<path class="m" d="M191 215.1l4.4 -1"/>
<path class="m" d="M234.7 200.2l4.4 0.4"/>
<path color="#51bd82" d="M291.8 217.2l4.4 .2l2.1-5.9l-4.4 .1z"/>
<path class="m" d="M208.6 210.7l4.4 -1"/>
<path color="#97cc4f" d="M237 204.4l4.4 .7l2.1-3.8l-4.4-.7z"/>
<path class="m" d="M169.3 227.3l4.4 0.3"/>
<path class="m" d="M151.7 215.9l4.4 4.7"/>
<path class="m" d="M309.1 202.4l4.4 -3.2"/>
<path color="#785d1a" d="M324.4 181.3l4.4-8.1l2.1-7.9l-4.4 8.4z"/>
<path color="#28b5a6" d="M173.7 227.6l4.3-.4l2.1-5.5l-4.4 0z"/>
<path class="m" d="M291.8 217.2l4.4 0.2"/>
<path color="#3e9c70" d="M193.3 218.9l4.4-1.3l2.1-4.6l-4.4 1.1z"/>
<path class="m" d="M239.1 200.6l4.4 0.7"/>
<path color="#69a952" d="M213 209.6l4.4-.8l2-4l-4.3 .7z"/>
<path color="#99d253" d="M241.4 205.1l4.4 1l2.1-3.9l-4.4-.9z"/>
<path color="#6e5719" d="M317.9 194.8l4.4-6l2.1-7.5l-4.4 6.3z"/>
<path color="#7cd673" d="M147.3 209.6l4.4 6.3l2.1-7.6l-4.4-6.7z"/>
<path class="m" d="M326.5 173.7l4.4 -8.4"/>
<path color="#4eac72" d="M296.2 217.4l4.4-.5l2.1-6.2l-4.4 .8z"/>
<path class="m" d="M173.7 227.6l4.4 -0.3"/>
<path class="m" d="M195.4 214.1l4.4 -1.1"/>
<path color="#97d659" d="M245.8 206.1l4.4 1.2l2.1-3.9l-4.4-1.2z"/>
<path class="m" d="M213 209.6l4.4 -0.8"/>
<path class="m" d="M243.5 201.3l4.4 0.9"/>
<path class="m" d="M317.9 194.8l4.4 -6"/>
<path color="#737111" d="M330.9 165.3l4.4-10.4l.1-.6l.3-3.7l-2.7 6.7z"/>
<path class="m" d="M147.3 209.6l4.4 6.4"/>
<path class="m" d="M296.2 217.4l4.4 -0.5"/>
<path color="#29a896" d="M178 227.2l4.4-.8l2.1-5.3l-4.4 .6z"/>
<path color="#90d65f" d="M250.2 207.3l4.4 1.6l2.1-4.1l-4.4-1.4z"/>
<path color="#ffc43f" d="M140.6 182.3l4.4 10.7l2.1-8.4l-4.4-11.1z"/>
<path class="m" d="M247.9 202.2l4.4 1.2"/>
<path color="#75af4f" d="M217.4 208.8l4.3-.6l2.1-3.9l-4.4 .5z"/>
<path color="#88d566" d="M254.6 208.9l4.4 1.7l2-4.1l-4.3-1.7z"/>
<path color="#469b66" d="M197.7 217.6l4.4-1.4l2.1-4.4l-4.4 1.2z"/>
<path class="m" d="M330.9 165.3l4.4 -10.3"/>
<path color="#fffa29" d="M138.3 160.1l4.4 13.4l2.1-8.7l-4.1-12.9l-.7 .7z"/>
<path color="#5d6721" d="M311.4 206.1l4.4-4.1l2.1-7.2l-4.4 4.5z"/>
<path class="m" d="M178 227.2l4.4 -0.8"/>
<path color="#7ed46e" d="M259 210.6l4.3 1.9l2.1-4.3l-4.4-1.7z"/>
<path class="m" d="M252.3 203.4l4.4 1.4"/>
<path class="m" d="M142.7 173.5l4.4 11.1"/>
<path color="#4c985c" d="M300.6 216.9l4.4-1.5l2-6.5l-4.3 1.8z"/>
<path color="#74d478" d="M263.3 212.5l4.4 2l2.1-4.4l-4.4-1.9z"/>
<path class="m" d="M217.4 208.8l4.4 -0.6"/>
<path class="m" d="M256.7 204.8l4.4 1.6"/>
<path class="m" d="M199.8 213l4.4 -1.2"/>
<path class="m" d="M138.3 160.1l4.4 13.5"/>
<path class="m" d="M313.5 199.3l4.4 -4.5"/>
<path color="#6ad381" d="M267.7 214.5l4.4 2l2.1-4.6l-4.4-1.8z"/>
<path color="#bad648" d="M142.9 201.4l4.4 8.2l2.1-8l-4.4-8.6z"/>
<path class="m" d="M261.1 206.5l4.4 1.8"/>
<path color="#61d28a" d="M272.1 216.5l4.4 2l2.1-4.8l-4.4-1.8z"/>
<path color="#2c9f88" d="M182.4 226.4l4.4-1.2l2.1-5.1l-4.4 1z"/>
<path class="m" d="M300.6 216.9l4.4 -1.4"/>
<path color="#80b64c" d="M221.7 208.2l4.4-.3l2.1-3.9l-4.4 .3z"/>
<path class="m" d="M265.4 208.2l4.4 1.8"/>
<path color="#58d293" d="M276.5 218.5l4.4 1.8l2.1-5.1l-4.4-1.5z"/>
<path color="#2cd2cc" d="M158.4 230.8l4.4 1.8l2.1-6.5l-4.4-2.1z"/>
<path color="#37d5c2" d="M154 227.8l4.4 3l2.1-6.8l-4.4-3.4z"/>
<path class="m" d="M269.8 210.1l4.4 1.8"/>
<path class="m" d="M142.9 201.4l4.4 8.2"/>
<path color="#4f9d5e" d="M202.1 216.2l4.4-1.3l2.1-4.2l-4.4 1.1z"/>
<path class="m" d="M274.2 211.9l4.4 1.7"/>
<path class="m" d="M182.4 226.4l4.4 -1.2"/>
<path color="#52d199" d="M280.9 220.3l4.4 1.4l2.1-5.3l-4.4-1.2z"/>
<path color="#26cdcb" d="M162.8 232.6l4.4 .8l2.1-6.1l-4.4-1.2z"/>
<path class="m" d="M221.7 208.2l4.4 -0.3"/>
<path color="#47d4ae" d="M149.6 223.5l4.4 4.3l2.1-7.2l-4.4-4.7z"/>
<path class="m" d="M278.6 213.7l4.4 1.5"/>
<path class="m" d="M160.5 224l4.4 2.1"/>
<path class="m" d="M156.1 220.6l4.4 3.3"/>
<path color="#8abe4c" d="M226.1 207.9l4.4 0l2.1-3.8l-4.4-.1z"/>
<path class="m" d="M204.2 211.8l4.4 -1.1"/>
<path color="#4cce9b" d="M285.3 221.7l4.4 1.1l2.1-5.6l-4.4-.8z"/>
<path class="m" d="M283 215.2l4.4 1.2"/>
<path color="#4c8243" d="M305 215.4l4.3-2.4l2.1-6.9l-4.4 2.8z"/>
<path class="m" d="M164.9 226.1l4.4 1.1"/>
<path color="#21bcbb" d="M167.2 233.4l4.4 0l2.1-5.8l-4.4-.3z"/>
<path color="#31997b" d="M186.8 225.2l4.4-1.4l2.1-4.9l-4.4 1.2z"/>
<path class="m" d="M151.7 215.9l4.4 4.7"/>
<path color="#77561c" d="M322.3 188.8l4.4-7.6l2.1-8l-4.4 8.1z"/>
<path class="m" d="M226.1 207.9l4.4 0"/>
<path class="m" d="M287.4 216.4l4.4 0.8"/>
<path color="#47c393" d="M289.7 222.8l4.4 .5l2.1-5.9l-4.4-.2z"/>
<path class="m" d="M304.9 215.4l4.4 -2.5"/>
<path color="#5aa158" d="M206.5 214.9l4.4-1.1l2.1-4.2l-4.4 1.1z"/>
<path color="#756e12" d="M328.8 173.2l4.4-9.9l2.1-8.4l-4.4 10.4z"/>
<path color="#91c54d" d="M230.5 207.9l4.4 .4l2.1-3.9l-4.4-.3z"/>
<path color="#61d48e" d="M145.2 217.5l4.4 6l2.1-7.6l-4.4-6.3z"/>
<path class="m" d="M169.3 227.3l4.4 0.3"/>
<path class="m" d="M186.8 225.2l4.4 -1.4"/>
<path color="#675918" d="M315.8 202l4.4-5.6l2.1-7.6l-4.4 6z"/>
<path class="m" d="M322.3 188.8l4.4 -7.6"/>
<path color="#1fada9" d="M171.6 233.4l4.4-.6l2-5.6l-4.3 .4z"/>
<path color="#737111" d="M335.3 154.9l.1-.3l0-.3z"/>
<path color="#fffa25" d="M137.1 155.5l1.2 4.6l1.7-7.5z"/>
<path class="m" d="M291.8 217.2l4.4 0.2"/>
<path class="m" d="M208.6 210.7l4.4 -1"/>
<path class="m" d="M330.9 165.3l4.4 -10.3"/>
<path color="#ffe331" d="M136.2 169.3l4.4 13l2.1-8.8l-4.4-13.4z"/>
<path class="m" d="M230.5 207.9l4.4 0.3"/>
<path color="#fac93a" d="M138.5 191.1l4.4 10.3l2.1-8.4l-4.4-10.7z"/>
<path class="m" d="M147.3 209.6l4.4 6.4"/>
<path class="m" d="M317.9 194.8l4.4 -6"/>
<path color="#97cc4f" d="M234.9 208.3l4.4 .6l2.1-3.8l-4.4-.7z"/>
<path color="#44b284" d="M294.1 223.3l4.4-.3l2.1-6.1l-4.4 .5z"/>
<path color="#379671" d="M191.2 223.8l4.4-1.6l2.1-4.6l-4.4 1.3z"/>
<path class="m" d="M173.7 227.6l4.4 -0.3"/>
<path class="m" d="M335.3 154.9l0.1 -0.3"/>
<path class="m" d="M137.1 155.5l1.3 4.6"/>
<path class="m" d="M138.3 160.1l4.4 13.5"/>
<path class="m" d="M138.5 191.1l4.4 10.3"/>
<path color="#66a653" d="M210.9 213.8l4.4-1l2.1-4l-4.4 .8z"/>
<path class="m" d="M234.9 208.3l4.4 0.7"/>
<path color="#99d254" d="M239.3 208.9l4.4 1.1l2.1-3.9l-4.4-1z"/>
<path class="m" d="M296.2 217.4l4.4 -0.5"/>
<path color="#506d2b" d="M309.3 213l4.4-3.8l2.1-7.2l-4.4 4.1z"/>
<path class="m" d="M191.2 223.8l4.4 -1.5"/>
<path color="#20a198" d="M176 232.8l4.3-1.1l2.1-5.3l-4.4 .8z"/>
<path color="#90d761" d="M140.8 209.7l4.4 7.8l2.1-7.9l-4.4-8.2z"/>
<path color="#96d65a" d="M243.7 210l4.4 1.3l2.1-4l-4.4-1.2z"/>
<path class="m" d="M213 209.6l4.4 -0.8"/>
<path class="m" d="M239.3 208.9l4.4 1"/>
<path color="#439e6d" d="M298.5 223l4.4-1l2.1-6.6l-4.4 1.5z"/>
<path class="m" d="M309.3 213l4.4 -3.7"/>
<path color="#8fd560" d="M248.1 211.3l4.4 1.6l2.1-4l-4.4-1.6z"/>
<path class="m" d="M178 227.2l4.4 -0.8"/>
<path class="m" d="M142.9 201.4l4.4 8.2"/>
<path color="#409667" d="M195.6 222.2l4.4-1.5l2.1-4.5l-4.4 1.4z"/>
<path class="m" d="M243.7 210l4.4 1.3"/>
<path color="#72ad4f" d="M215.3 212.8l4.3-.7l2.1-3.9l-4.3 .6z"/>
<path color="#85d568" d="M252.5 212.9l4.4 1.9l2.1-4.2l-4.4-1.7z"/>
<path color="#2bd4d3" d="M151.9 235.1l4.4 2.6l2.1-6.9l-4.4-3z"/>
<path class="m" d="M300.6 216.9l4.4 -1.4"/>
<path color="#24cfd8" d="M156.3 237.7l4.4 1.4l2.1-6.5l-4.4-1.8z"/>
<path color="#7ad471" d="M256.9 214.8l4.4 2l2-4.3l-4.3-1.9z"/>
<path class="m" d="M248.1 211.3l4.4 1.6"/>
<path color="#70d47c" d="M261.3 216.8l4.3 2.2l2.1-4.5l-4.4-2z"/>
<path color="#737111" d="M333.2 163.3l1.7-4.8l.5-3.9l-.1 .3z"/>
<path class="m" d="M195.6 222.2l4.4 -1.5"/>
<path color="#259989" d="M180.3 231.7l4.4-1.5l2.1-5l-4.4 1.2z"/>
<path color="#35d4c3" d="M147.5 231.1l4.4 4l2.1-7.3l-4.4-4.3z"/>
<path color="#65d386" d="M265.6 219l4.4 2.2l2.1-4.7l-4.4-2z"/>
<path class="m" d="M217.4 208.8l4.4 -0.6"/>
<path class="m" d="M252.5 212.9l4.4 1.9"/>
<path color="#5ad291" d="M270 221.2l4.4 2.1l2.1-4.8l-4.4-2z"/>
<path color="#1ec4d0" d="M160.7 239.1l4.4 .5l2.1-6.2l-4.4-.8z"/>
<path class="m" d="M151.9 235.1l4.4 2.6"/>
<path class="m" d="M156.3 237.7l4.4 1.5"/>
<path class="m" d="M256.9 214.8l4.4 2"/>
<path color="#51d19b" d="M274.4 223.3l4.4 2l2.1-5l-4.4-1.8z"/>
<path color="#74551b" d="M320.2 196.4l4.4-7.2l2.1-8l-4.4 7.6z"/>
<path class="m" d="M261.3 216.8l4.4 2.2"/>
<path class="m" d="M335.3 154.9l0.1 -0.3"/>
<path color="#7eb54d" d="M219.6 212.1l4.4-.3l2.1-3.9l-4.4 .3z"/>
<path class="m" d="M182.4 226.4l4.4 -1.2"/>
<path class="m" d="M147.5 231.1l4.4 4"/>
<path class="m" d="M265.6 219l4.4 2.2"/>
<path color="#4ad1a2" d="M278.8 225.3l4.4 1.7l2.1-5.3l-4.4-1.4z"/>
<path color="#438853" d="M302.9 222l4.3-2.2l2.1-6.8l-4.3 2.4z"/>
<path class="m" d="M270 221.2l4.4 2.2"/>
<path color="#776715" d="M326.7 181.2l4.4-9.6l2.1-8.3l-4.4 9.9z"/>
<path color="#fffb25" d="M133.4 159.1l2.8 10.2l2.1-9.2l-1.2-4.6z"/>
<path class="m" d="M160.7 239.1l4.4 0.5"/>
<path color="#4a995f" d="M200 220.7l4.4-1.5l2.1-4.3l-4.4 1.3z"/>
<path class="m" d="M274.4 223.3l4.4 2"/>
<path color="#49d3a7" d="M143.1 225.5l4.4 5.6l2.1-7.6l-4.4-6z"/>
<path color="#45d0a6" d="M283.2 227l4.4 1.4l2.1-5.6l-4.4-1.1z"/>
<path color="#1bb3bd" d="M165.1 239.6l4.4-.3l2.1-5.9l-4.4 0z"/>
<path color="#ffcf3d" d="M134.1 178.5l4.4 12.6l2.1-8.8l-4.4-13z"/>
<path class="m" d="M322.3 188.8l4.4 -7.6"/>
<path color="#5d5b1b" d="M313.7 209.2l4.4-5.2l2.1-7.6l-4.4 5.6z"/>
<path class="m" d="M221.7 208.2l4.4 -0.3"/>
<path class="m" d="M278.8 225.3l4.4 1.7"/>
<path color="#e1d03b" d="M136.4 199.8l4.4 9.9l2.1-8.3l-4.4-10.3z"/>
<path class="m" d="M304.9 215.4l4.4 -2.5"/>
<path class="m" d="M326.7 181.2l4.4 -9.6"/>
<path class="m" d="M137.1 155.5l1.3 4.6"/>
<path class="m" d="M200 220.7l4.4 -1.5"/>
<path color="#2b947c" d="M184.7 230.2l4.4-1.6l2.1-4.8l-4.4 1.4z"/>
<path class="m" d="M143.1 225.5l4.4 5.6"/>
<path color="#88bd4c" d="M224 211.8l4.4-.1l2.1-3.8l-4.4 0z"/>
<path color="#40c8a2" d="M287.6 228.4l4.4 .7l2.1-5.8l-4.4-.5z"/>
<path class="m" d="M283.2 227l4.4 1.3"/>
<path class="m" d="M165.1 239.6l4.4 -0.3"/>
<path class="m" d="M134.1 178.5l4.4 12.6"/>
<path class="m" d="M313.7 209.2l4.4 -5.2"/>
<path class="m" d="M138.5 191.1l4.4 10.3"/>
<path class="m" d="M186.8 225.2l4.4 -1.4"/>
<path color="#1aa5a9" d="M169.5 239.3l4.4-.9l2.1-5.6l-4.4 .6z"/>
<path class="m" d="M226.1 207.9l4.4 0"/>
<path class="m" d="M287.6 228.4l4.4 0.8"/>
<path color="#559d58" d="M204.4 219.2l4.4-1.3l2.1-4.1l-4.4 1.1z"/>
<path color="#3cb994" d="M292 229.1l4.4 .1l2.1-6.2l-4.4 .3z"/>
<path color="#91c54d" d="M228.4 211.7l4.4 .4l2.1-3.8l-4.4-.4z"/>
<path color="#6fd47e" d="M138.7 218.1l4.4 7.4l2.1-8l-4.4-7.8z"/>
<path color="#457239" d="M307.2 219.8l4.4-3.4l2.1-7.2l-4.4 3.8z"/>
<path class="m" d="M169.5 239.3l4.4 -0.9"/>
<path class="m" d="M204.4 219.2l4.4 -1.3"/>
<path color="#329171" d="M189.1 228.6l4.4-1.8l2.1-4.6l-4.4 1.6z"/>
<path class="m" d="M292 229.1l4.4 0.1"/>
<path class="m" d="M230.5 207.9l4.4 0.3"/>
<path class="m" d="M138.7 218.1l4.4 7.4"/>
<path color="#96cd50" d="M232.8 212.1l4.4 .7l2.1-3.9l-4.4-.6z"/>
<path class="m" d="M309.3 213l4.4 -3.7"/>
<path color="#1b9a98" d="M173.9 238.4l4.3-1.4l2.1-5.3l-4.3 1.1z"/>
<path color="#39a57f" d="M296.4 229.2l4.4-.7l2.1-6.5l-4.4 1z"/>
<path class="m" d="M191.2 223.8l4.4 -1.5"/>
<path color="#62a353" d="M208.8 217.9l4.4-1.1l2.1-4l-4.4 1z"/>
<path class="m" d="M234.9 208.3l4.4 0.7"/>
<path color="#98d355" d="M237.2 212.8l4.4 1l2.1-3.8l-4.4-1.1z"/>
<path color="#23d1e2" d="M149.8 242.3l4.4 2.2l2.1-6.8l-4.4-2.6z"/>
<path class="m" d="M173.9 238.4l4.4 -1.4"/>
<path color="#1ccce5" d="M154.2 244.5l4.4 1.1l2.1-6.5l-4.4-1.4z"/>
<path color="#29d3d6" d="M145.4 238.6l4.4 3.7l2.1-7.2l-4.4-4z"/>
<path class="m" d="M296.4 229.2l4.4 -0.8"/>
<path class="m" d="M208.8 217.9l4.4 -1.1"/>
<path color="#95d65b" d="M241.6 213.8l4.4 1.4l2.1-3.9l-4.4-1.3z"/>
<path class="m" d="M239.3 208.9l4.4 1"/>
<path color="#6d5719" d="M318.1 204l4.4-6.9l2.1-7.9l-4.4 7.2z"/>
<path class="m" d="M151.9 235.1l4.4 2.6"/>
<path color="#3b9168" d="M193.5 226.8l4.4-1.7l2.1-4.4l-4.4 1.5z"/>
<path color="#ffc140" d="M132.1 187.6l4.3 12.2l2.1-8.7l-4.4-12.6z"/>
<path color="#785f19" d="M324.6 189.2l4.4-9.2l2.1-8.4l-4.4 9.6z"/>
<path color="#8dd562" d="M246 215.2l4.4 1.7l2.1-4l-4.4-1.6z"/>
<path color="#737111" d="M331.1 171.6l3.4-9.1l.4-4l-1.7 4.8z"/>
<path class="m" d="M156.3 237.7l4.4 1.5"/>
<path class="m" d="M147.5 231.1l4.4 4"/>
<path color="#18bcd4" d="M158.6 245.6l4.4 .2l2.1-6.2l-4.4-.5z"/>
<path class="m" d="M243.7 210l4.4 1.3"/>
<path color="#6faa4f" d="M213.2 216.8l4.4-.7l2-4l-4.3 .7z"/>
<path color="#82d56a" d="M250.4 216.9l4.4 2l2.1-4.1l-4.4-1.9z"/>
<path color="#b2d64a" d="M134.3 208.6l4.4 9.5l2.1-8.4l-4.4-9.9z"/>
<path color="#35d2bf" d="M141 233.5l4.4 5.1l2.1-7.5l-4.4-5.6z"/>
<path color="#1e9389" d="M178.2 237l4.4-1.7l2.1-5.1l-4.4 1.5z"/>
<path color="#398e65" d="M300.8 228.5l4.4-1.8l2-6.9l-4.3 2.2z"/>
<path class="m" d="M318.1 204l4.4 -6.9"/>
<path color="#77d475" d="M254.8 218.9l4.4 2.2l2.1-4.3l-4.4-2z"/>
<path color="#6cd380" d="M259.2 221.1l4.3 2.3l2.1-4.4l-4.3-2.2z"/>
<path class="m" d="M195.6 222.2l4.4 -1.5"/>
<path class="m" d="M134.1 178.5l4.4 12.6"/>
<path class="m" d="M326.7 181.2l4.4 -9.6"/>
<path class="m" d="M248.1 211.3l4.4 1.6"/>
<path color="#60d28c" d="M263.5 223.4l4.4 2.4l2.1-4.6l-4.4-2.2z"/>
<path color="#4c5f22" d="M311.6 216.4l4.4-4.8l2.1-7.6l-4.4 5.2z"/>
<path class="m" d="M331.1 171.6l3.4 -9.1"/>
<path color="#54d197" d="M267.9 225.8l4.4 2.3l2.1-4.8l-4.4-2.1z"/>
<path class="m" d="M160.7 239.1l4.4 0.5"/>
<path color="#4ad1a2" d="M272.3 228.1l4.4 2.3l2.1-5.1l-4.4-2z"/>
<path class="m" d="M213.2 216.8l4.4 -0.8"/>
<path class="m" d="M252.5 212.9l4.4 1.9"/>
<path class="m" d="M134.3 208.6l4.4 9.5"/>
<path class="m" d="M143.1 225.5l4.4 5.6"/>
<path class="m" d="M178.2 237l4.4 -1.7"/>
<path color="#43d0aa" d="M276.7 230.4l4.4 1.9l2.1-5.3l-4.4-1.7z"/>
<path class="m" d="M300.8 228.5l4.4 -1.8"/>
<path class="m" d="M256.9 214.8l4.4 2"/>
<path color="#16abbe" d="M163 245.8l4.4-.6l2.1-5.9l-4.4 .3z"/>
<path class="m" d="M261.3 216.8l4.4 2.2"/>
<path class="m" d="M265.6 219l4.4 2.2"/>
<path class="m" d="M313.7 209.2l4.4 -5.2"/>
<path color="#3dd0b0" d="M281.1 232.3l4.4 1.6l2.1-5.5l-4.4-1.4z"/>
<path class="m" d="M270 221.2l4.4 2.2"/>
<path color="#fffa26" d="M129.8 163.2l4.3 15.3l2.1-9.2l-2.8-10.2l-3.4 3.2z"/>
<path class="m" d="M274.4 223.3l4.4 2"/>
<path color="#7cb34d" d="M217.6 216.1l4.3-.5l2.1-3.8l-4.4 .3z"/>
<path color="#46945f" d="M197.9 225.1l4.4-1.6l2.1-4.3l-4.4 1.5z"/>
<path class="m" d="M278.8 225.3l4.4 1.7"/>
<path class="m" d="M165.1 239.6l4.4 -0.3"/>
<path color="#38cdb2" d="M285.5 233.9l4.4 1.1l2.1-5.9l-4.4-.7z"/>
<path color="#51d19c" d="M136.6 226.4l4.4 7.1l2.1-8l-4.4-7.4z"/>
<path class="m" d="M283.2 227l4.4 1.3"/>
<path class="m" d="M129.8 163.2l4.4 15.2"/>
<path color="#258e7c" d="M182.6 235.3l4.4-1.9l2.1-4.8l-4.4 1.6z"/>
<path class="m" d="M217.6 216.1l4.4 -0.4"/>
<path class="m" d="M200 220.7l4.4 -1.5"/>
<path color="#169da9" d="M167.4 245.2l4.4-1.2l2.1-5.6l-4.4 .9z"/>
<path class="m" d="M287.6 228.4l4.4 0.8"/>
<path color="#3c7749" d="M305.2 226.7l4.3-3.1l2.1-7.2l-4.4 3.4z"/>
<path class="m" d="M138.7 218.1l4.4 7.4"/>
<path color="#87bc4c" d="M221.9 215.6l4.4 0l2.1-3.9l-4.4 .1z"/>
<path color="#33bfa6" d="M289.9 235l4.4 .4l2.1-6.2l-4.4-.1z"/>
<path class="m" d="M182.6 235.3l4.4 -1.9"/>
<path class="m" d="M169.5 239.3l4.4 -0.9"/>
<path class="m" d="M305.2 226.7l4.4 -3"/>
<path color="#519958" d="M202.3 223.5l4.4-1.5l2.1-4.1l-4.4 1.3z"/>
<path class="m" d="M221.9 215.6l4.4 -0.1"/>
<path class="m" d="M292 229.1l4.4 0.1"/>
<path color="#90c54d" d="M226.3 215.6l4.4 .3l2.1-3.8l-4.4-.4z"/>
<path color="#31ac92" d="M294.3 235.4l4.4-.4l2.1-6.5l-4.4 .7z"/>
<path color="#fcc73a" d="M130 196.8l4.3 11.8l2.1-8.8l-4.3-12.2z"/>
<path color="#22ccee" d="M147.7 249.5l4.4 1.9l2.1-6.9l-4.4-2.2z"/>
<path color="#2d8c71" d="M187 233.4l4.4-2l2.1-4.6l-4.4 1.8z"/>
<path class="m" d="M204.4 219.2l4.4 -1.3"/>
<path color="#22d1e8" d="M143.3 246.2l4.4 3.3l2.1-7.2l-4.4-3.7z"/>
<path color="#179397" d="M171.8 244l4.4-1.7l2-5.3l-4.3 1.4z"/>
<path color="#645a19" d="M316 211.6l4.4-6.5l2.1-8l-4.4 6.9z"/>
<path color="#77571c" d="M322.5 197.1l4.4-8.7l2.1-8.4l-4.4 9.2z"/>
<path color="#1ec4e9" d="M152.1 251.4l4.4 .7l2.1-6.5l-4.4-1.1z"/>
<path class="m" d="M226.3 215.6l4.4 0.3"/>
<path color="#87d567" d="M132.3 217.4l4.3 9l2.1-8.3l-4.4-9.5z"/>
<path color="#96cd50" d="M230.7 215.9l4.4 .7l2.1-3.8l-4.4-.7z"/>
<path class="m" d="M296.4 229.2l4.4 -0.8"/>
<path class="m" d="M130 196.8l4.4 11.8"/>
<path class="m" d="M147.7 249.5l4.4 1.9"/>
<path class="m" d="M187 233.4l4.4 -2"/>
<path class="m" d="M143.3 246.2l4.4 3.2"/>
<path color="#ffec2c" d="M127.7 172.8l4.4 14.8l2-9.1l-4.3-15.3z"/>
<path color="#27d1d4" d="M138.9 241.4l4.4 4.8l2.1-7.6l-4.4-5.1z"/>
<path class="m" d="M173.9 238.4l4.4 -1.4"/>
<path color="#5ea053" d="M206.7 222l4.4-1.1l2.1-4.1l-4.4 1.1z"/>
<path class="m" d="M318.1 204l4.4 -6.9"/>
<path class="m" d="M322.5 197.1l4.4 -8.8"/>
<path class="m" d="M152.1 251.4l4.4 0.8"/>
<path class="m" d="M134.3 208.6l4.4 9.5"/>
<path color="#1ab1d3" d="M156.5 252.1l4.4-.1l2.1-6.2l-4.4-.2z"/>
<path color="#98d456" d="M235.1 216.6l4.4 1.1l2.1-3.9l-4.4-1z"/>
<path class="m" d="M230.7 215.9l4.4 0.7"/>
<path color="#41632e" d="M309.5 223.6l4.4-4.4l2.1-7.6l-4.4 4.8z"/>
<path color="#309477" d="M298.7 235l4.4-1.5l2.1-6.8l-4.4 1.8z"/>
<path class="m" d="M129.8 163.2l4.4 15.2"/>
<path class="m" d="M138.9 241.4l4.4 4.8"/>
<path color="#fcf725" d="M129.6 162.6l.2 .6l.2-.9z"/>
<path class="m" d="M208.8 217.9l4.4 -1.1"/>
<path color="#94d65c" d="M239.5 217.7l4.4 1.5l2.1-4l-4.4-1.4z"/>
<path color="#358d68" d="M191.4 231.4l4.4-1.9l2.1-4.4l-4.4 1.7z"/>
<path color="#747011" d="M329 180l4.4-11.3l1-4.1l.1-2.1l-3.4 9.1z"/>
<path class="m" d="M156.5 252.1l4.4 -0.2"/>
<path class="m" d="M235.1 216.6l4.4 1.1"/>
<path color="#198c89" d="M176.2 242.3l4.3-2l2.1-5l-4.4 1.7z"/>
<path class="m" d="M309.5 223.6l4.4 -4.5"/>
<path class="m" d="M300.8 228.5l4.4 -1.8"/>
<path color="#8bd563" d="M243.9 219.2l4.4 1.7l2.1-4l-4.4-1.7z"/>
<path class="m" d="M129.6 162.6l0.1 0.6"/>
<path color="#3ad1b5" d="M134.5 234.8l4.4 6.6l2.1-7.9l-4.4-7.1z"/>
<path color="#80d56d" d="M248.3 220.9l4.4 2.1l2.1-4.1l-4.4-2z"/>
<path color="#6ca84f" d="M211.1 220.9l4.4-.9l2.1-3.9l-4.4 .7z"/>
<path class="m" d="M239.5 217.7l4.4 1.5"/>
<path color="#16a1bc" d="M160.9 252l4.4-1l2.1-5.8l-4.4 .6z"/>
<path class="m" d="M191.4 231.4l4.4 -1.9"/>
<path color="#74d478" d="M252.7 223l4.4 2.3l2.1-4.2l-4.4-2.2z"/>
<path class="m" d="M331.1 171.6l3.4 -9.1"/>
<path color="#4ed19e" d="M265.8 230.4l4.4 2.6l2.1-4.9l-4.4-2.3z"/>
<path color="#68d384" d="M257.1 225.3l4.4 2.5l2-4.4l-4.3-2.3z"/>
<path color="#5bd291" d="M261.5 227.8l4.3 2.6l2.1-4.6l-4.4-2.4z"/>
<path color="#44d1a9" d="M270.2 233l4.4 2.4l2.1-5l-4.4-2.3z"/>
<path class="m" d="M178.2 237l4.4 -1.7"/>
<path color="#3cd0b2" d="M274.6 235.4l4.4 2.2l2.1-5.3l-4.4-1.9z"/>
<path class="m" d="M243.9 219.2l4.4 1.8"/>
<path color="#35d0ba" d="M279 237.6l4.4 1.9l2.1-5.6l-4.4-1.6z"/>
<path class="m" d="M134.5 234.8l4.4 6.6"/>
<path class="m" d="M248.3 220.9l4.4 2.1"/>
<path class="m" d="M213.2 216.8l4.4 -0.8"/>
<path class="m" d="M160.9 252l4.4 -0.9"/>
<path class="m" d="M252.7 223l4.4 2.3"/>
<path class="m" d="M265.8 230.4l4.4 2.6"/>
<path class="m" d="M257.1 225.3l4.4 2.5"/>
<path class="m" d="M261.5 227.8l4.4 2.6"/>
<path class="m" d="M270.2 233l4.4 2.5"/>
<path color="#2fcfbf" d="M283.4 239.5l4.4 1.4l2.1-5.9l-4.4-1.1z"/>
<path class="m" d="M274.6 235.4l4.4 2.2"/>
<path color="#317c59" d="M303.1 233.5l4.3-2.7l2.1-7.2l-4.3 3.1z"/>
<path class="m" d="M279 237.6l4.4 1.9"/>
<path color="#41905f" d="M195.8 229.5l4.4-1.8l2.1-4.2l-4.4 1.6z"/>
<path color="#79b14d" d="M215.5 220l4.4-.5l2-3.9l-4.3 .5z"/>
<path color="#20897c" d="M180.5 240.3l4.4-2.1l2.1-4.8l-4.4 1.9z"/>
<path color="#e2cf3b" d="M127.9 206l4.4 11.4l2-8.8l-4.3-11.8z"/>
<path color="#1295a9" d="M165.3 251l4.4-1.5l2.1-5.5l-4.4 1.2z"/>
<path color="#2ac5b8" d="M287.8 240.9l4.4 .7l2.1-6.2l-4.4-.4z"/>
<path class="m" d="M283.4 239.5l4.4 1.4"/>
<path class="m" d="M305.2 226.7l4.4 -3"/>
<path color="#fcf825" d="M126 166.2l1.7 6.6l2.1-9.6l-.2-.6z"/>
<path class="m" d="M195.8 229.5l4.4 -1.8"/>
<path class="m" d="M217.6 216.1l4.4 -0.4"/>
<path class="m" d="M182.6 235.3l4.4 -1.9"/>
<path class="m" d="M130 196.8l4.4 11.8"/>
<path color="#ffd537" d="M125.6 182.4l4.4 14.4l2.1-9.2l-4.4-14.8z"/>
<path color="#74551b" d="M320.4 205.1l4.4-8.4l2.1-8.3l-4.4 8.7z"/>
<path class="m" d="M165.3 251l4.4 -1.5"/>
<path color="#64d287" d="M130.2 226.2l4.3 8.6l2.1-8.4l-4.3-9z"/>
<path class="m" d="M287.8 240.9l4.4 0.7"/>
<path color="#26ccf4" d="M141.2 253.8l4.4 2.9l2.1-7.2l-4.4-3.3z"/>
<path color="#25c5f6" d="M145.6 256.7l4.4 1.5l2.1-6.8l-4.4-1.9z"/>
<path color="#565c1d" d="M313.9 219.2l4.4-6.1l2.1-8l-4.4 6.5z"/>
<path class="m" d="M129.6 162.6l0.1 0.6"/>
<path color="#85bb4c" d="M219.9 219.5l4.3-.1l2.1-3.8l-4.4 0z"/>
<path color="#27b3a5" d="M292.2 241.6l4.4-.1l2.1-6.5l-4.4 .4z"/>
<path class="m" d="M125.6 182.4l4.4 14.4"/>
<path class="m" d="M322.5 197.1l4.4 -8.8"/>
<path class="m" d="M130.2 226.2l4.4 8.7"/>
<path color="#20b8ea" d="M150 258.2l4.4 .4l2.1-6.5l-4.4-.7z"/>
<path color="#1fcfe8" d="M136.8 249.4l4.4 4.4l2.1-7.6l-4.4-4.8z"/>
<path color="#4d9658" d="M200.2 227.7l4.4-1.5l2.1-4.2l-4.4 1.5z"/>
<path class="m" d="M143.3 246.2l4.4 3.2"/>
<path class="m" d="M147.7 249.5l4.4 1.9"/>
<path class="m" d="M313.9 219.2l4.4 -6.1"/>
<path class="m" d="M221.9 215.6l4.4 -0.1"/>
<path color="#766a14" d="M326.9 188.4l4.4-10.9l2.1-8.8l-4.4 11.3z"/>
<path class="m" d="M292.2 241.6l4.4 -0.1"/>
<path color="#148c97" d="M169.7 249.5l4.4-1.9l2.1-5.3l-4.4 1.7z"/>
<path color="#288771" d="M184.9 238.2l4.4-2.1l2.1-4.7l-4.4 2z"/>
<path color="#8fc44e" d="M224.2 219.4l4.4 .3l2.1-3.8l-4.4-.3z"/>
<path class="m" d="M152.1 251.4l4.4 0.8"/>
<path class="m" d="M138.9 241.4l4.4 4.8"/>
<path color="#36673c" d="M307.4 230.8l4.4-4.1l2.1-7.5l-4.4 4.4z"/>
<path class="m" d="M200.2 227.7l4.4 -1.6"/>
<path color="#737111" d="M333.4 168.7l.7-2.3l.3-1.8z"/>
<path color="#1ca6d1" d="M154.4 258.6l4.4-.5l2.1-6.1l-4.4 .1z"/>
<path class="m" d="M326.9 188.4l4.4 -10.9"/>
<path class="m" d="M169.7 249.5l4.4 -1.9"/>
<path color="#279c8a" d="M296.6 241.5l4.4-1.2l2.1-6.8l-4.4 1.5z"/>
<path class="m" d="M187 233.4l4.4 -2"/>
<path class="m" d="M226.3 215.6l4.4 0.3"/>
<path color="#27cfcd" d="M132.5 243.2l4.3 6.2l2.1-8l-4.4-6.6z"/>
<path class="m" d="M309.5 223.6l4.4 -4.5"/>
<path color="#95cd51" d="M228.6 219.7l4.4 .7l2.1-3.8l-4.4-.7z"/>
<path class="m" d="M156.5 252.1l4.4 -0.2"/>
<path color="#5a9d53" d="M204.6 226.2l4.4-1.3l2.1-4l-4.4 1.1z"/>
<path class="m" d="M296.6 241.5l4.4 -1.1"/>
<path class="m" d="M134.5 234.8l4.4 6.6"/>
<path color="#98d457" d="M233 220.4l4.4 1.2l2.1-3.9l-4.4-1.1z"/>
<path class="m" d="M230.7 215.9l4.4 0.7"/>
<path color="#168688" d="M174.1 247.6l4.3-2.2l2.1-5.1l-4.3 2z"/>
<path class="m" d="M204.6 226.2l4.4 -1.3"/>
<path color="#1797b9" d="M158.8 258.1l4.4-1.2l2.1-5.9l-4.4 1z"/>
<path color="#318868" d="M189.3 236.1l4.4-2.1l2.1-4.5l-4.4 1.9z"/>
<path color="#b0d64a" d="M125.8 215.2l4.4 11l2.1-8.8l-4.4-11.4z"/>
<path color="#93d65d" d="M237.4 221.6l4.4 1.5l2.1-3.9l-4.4-1.5z"/>
<path class="m" d="M235.1 216.6l4.4 1.1"/>
<path color="#89d565" d="M241.8 223.1l4.4 1.9l2.1-4.1l-4.4-1.7z"/>
<path class="m" d="M174.1 247.6l4.4 -2.2"/>
<path color="#29826a" d="M301 240.3l4.4-2.3l2-7.2l-4.3 2.7z"/>
<path color="#35d0bb" d="M272.5 240.5l4.4 2.4l2.1-5.3l-4.4-2.2z"/>
<path color="#3fd0af" d="M268.1 237.8l4.4 2.7l2.1-5.1l-4.4-2.4z"/>
<path color="#49d1a3" d="M263.8 235l4.3 2.8l2.1-4.8l-4.4-2.6z"/>
<path class="m" d="M160.9 252l4.4 -0.9"/>
<path class="m" d="M191.4 231.4l4.4 -1.9"/>
<path color="#ffbf40" d="M123.5 192l4.4 14l2.1-9.2l-4.4-14.4z"/>
<path color="#2cd0c4" d="M276.9 242.9l4.4 2.2l2.1-5.6l-4.4-1.9z"/>
<path color="#7dd56f" d="M246.2 225l4.4 2.2l2.1-4.2l-4.4-2.1z"/>
<path color="#56d196" d="M259.4 232.3l4.4 2.7l2-4.6l-4.3-2.6z"/>
<path color="#64d388" d="M255 229.6l4.4 2.7l2.1-4.5l-4.4-2.5z"/>
<path color="#69a64f" d="M209 224.9l4.4-.9l2.1-4l-4.4 .9z"/>
<path color="#71d47a" d="M250.6 227.2l4.4 2.4l2.1-4.3l-4.4-2.3z"/>
<path class="m" d="M125.8 215.2l4.4 11"/>
<path class="m" d="M239.5 217.7l4.4 1.5"/>
<path color="#28cfca" d="M281.3 245.1l4.4 1.6l2.1-5.8l-4.4-1.4z"/>
<path color="#46d0a5" d="M128.1 234.9l4.4 8.3l2-8.4l-4.3-8.6z"/>
<path class="m" d="M243.9 219.2l4.4 1.8"/>
<path class="m" d="M301 240.3l4.4 -2.3"/>
<path color="#6d5819" d="M318.3 213.1l4.4-8l2.1-8.4l-4.4 8.4z"/>
<path class="m" d="M274.6 235.4l4.4 2.2"/>
<path class="m" d="M270.2 233l4.4 2.5"/>
<path color="#fdf825" d="M122.4 169.8l3.2 12.6l2.1-9.6l-1.7-6.6z"/>
<path class="m" d="M265.8 230.4l4.4 2.6"/>
<path class="m" d="M125.6 182.4l4.4 14.4"/>
<path class="m" d="M279 237.6l4.4 1.9"/>
<path class="m" d="M248.3 220.9l4.4 2.1"/>
<path class="m" d="M261.5 227.8l4.4 2.6"/>
<path class="m" d="M257.1 225.3l4.4 2.5"/>
<path class="m" d="M209 224.9l4.4 -0.9"/>
<path class="m" d="M252.7 223l4.4 2.3"/>
<path color="#25cac9" d="M285.7 246.7l4.4 1.1l2.1-6.2l-4.4-.7z"/>
<path color="#435d25" d="M311.8 226.7l4.4-5.7l2.1-7.9l-4.4 6.1z"/>
<path color="#138ca5" d="M163.2 256.9l4.4-1.8l2.1-5.6l-4.4 1.5z"/>
<path class="m" d="M283.4 239.5l4.4 1.4"/>
<path color="#2bc5fc" d="M139.1 261.4l4.4 2.5l2.1-7.2l-4.4-2.9z"/>
<path class="m" d="M130.2 226.2l4.4 8.7"/>
<path color="#1b837b" d="M178.4 245.4l4.4-2.3l2.1-4.9l-4.4 2.1z"/>
<path color="#2cbbf6" d="M143.5 263.9l4.4 1.2l2.1-6.9l-4.4-1.5z"/>
<path color="#3d8c60" d="M193.7 234l4.4-2l2.1-4.3l-4.4 1.8z"/>
<path class="m" d="M318.3 213.1l4.4 -8"/>
<path class="m" d="M122.4 169.8l3.2 12.6"/>
<path color="#737111" d="M331.3 177.5l2.3-7.1l.5-4l-.7 2.3z"/>
<path color="#776117" d="M324.8 196.7l4.4-10.4l2.1-8.8l-4.4 10.9z"/>
<path color="#25c9f5" d="M134.8 257.4l4.3 4l2.1-7.6l-4.4-4.4z"/>
<path color="#77b04d" d="M213.4 224l4.4-.6l2.1-3.9l-4.4 .5z"/>
<path class="m" d="M287.8 240.9l4.4 0.7"/>
<path class="m" d="M313.9 219.2l4.4 -6.1"/>
<path class="m" d="M165.3 251l4.4 -1.5"/>
<path class="m" d="M139.1 261.4l4.4 2.5"/>
<path color="#21b9b8" d="M290.1 247.8l4.4 .2l2.1-6.5l-4.4 .1z"/>
<path class="m" d="M178.4 245.4l4.4 -2.3"/>
<path class="m" d="M143.5 263.9l4.4 1.2"/>
<path class="m" d="M195.8 229.5l4.4 -1.8"/>
<path color="#26a9e0" d="M147.9 265.1l4.4 0l2.1-6.5l-4.4-.4z"/>
<path class="m" d="M331.3 177.5l2.3 -7.1"/>
<path class="m" d="M326.9 188.4l4.4 -10.9"/>
<path class="m" d="M134.8 257.4l4.4 4"/>
<path class="m" d="M213.4 224l4.4 -0.6"/>
<path color="#2c6b4c" d="M305.4 238l4.3-3.7l2.1-7.6l-4.4 4.1z"/>
<path class="m" d="M292.2 241.6l4.4 -0.1"/>
<path class="m" d="M147.9 265.1l4.4 0.1"/>
<path color="#1ecde2" d="M130.4 251.5l4.4 5.9l2-8l-4.3-6.2z"/>
<path color="#84ba4c" d="M217.8 223.4l4.3-.1l2.1-3.9l-4.3 .1z"/>
<path color="#108595" d="M167.6 255.1l4.4-2.2l2.1-5.3l-4.4 1.9z"/>
<path color="#1ea39d" d="M294.5 248l4.4-.8l2.1-6.9l-4.4 1.2z"/>
<path class="m" d="M305.4 238l4.4 -3.7"/>
<path color="#4a9259" d="M198.1 232l4.4-1.7l2.1-4.1l-4.4 1.5z"/>
<path color="#1f98c8" d="M152.3 265.1l4.4-.8l2.1-6.2l-4.4 .5z"/>
<path color="#238370" d="M182.8 243.1l4.4-2.4l2.1-4.6l-4.4 2.1z"/>
<path class="m" d="M130.4 251.5l4.4 5.8"/>
<path class="m" d="M217.8 223.4l4.4 -0.1"/>
<path color="#82d56a" d="M123.7 224.4l4.4 10.5l2.1-8.7l-4.4-11z"/>
<path class="m" d="M169.7 249.5l4.4 -1.9"/>
<path class="m" d="M296.6 241.5l4.4 -1.1"/>
<path class="m" d="M200.2 227.7l4.4 -1.6"/>
<path color="#8ec44e" d="M222.1 223.3l4.4 .2l2.1-3.8l-4.4-.3z"/>
<path class="m" d="M152.3 265.1l4.4 -0.8"/>
<path color="#ffc23b" d="M121.4 201.7l4.4 13.5l2.1-9.2l-4.4-14z"/>
<path class="m" d="M182.8 243.1l4.4 -2.4"/>
<path class="m" d="M125.8 215.2l4.4 11"/>
<path class="m" d="M222.1 223.3l4.4 0.3"/>
<path class="m" d="M121.4 201.7l4.4 13.5"/>
<path color="#95cd52" d="M226.5 223.5l4.4 .8l2.1-3.9l-4.4-.7z"/>
<path color="#198db6" d="M156.7 264.3l4.4-1.5l2.1-5.9l-4.4 1.2z"/>
<path color="#2dcfc1" d="M126 243.7l4.4 7.8l2.1-8.3l-4.4-8.3z"/>
<path color="#1f897d" d="M298.9 247.2l4.4-2l2.1-7.2l-4.4 2.3z"/>
<path color="#579a53" d="M202.5 230.3l4.4-1.4l2.1-4l-4.4 1.3z"/>
<path color="#138086" d="M172 252.9l4.4-2.4l2-5.1l-4.3 2.2z"/>
<path color="#625a19" d="M316.2 221l4.4-7.5l2.1-8.4l-4.4 8z"/>
<path color="#97d558" d="M230.9 224.3l4.4 1.1l2.1-3.8l-4.4-1.2z"/>
<path color="#2d8467" d="M187.2 240.7l4.4-2.3l2.1-4.4l-4.4 2.1z"/>
<path class="m" d="M226.5 223.5l4.4 0.7"/>
<path class="m" d="M156.7 264.3l4.4 -1.5"/>
<path class="m" d="M126 243.7l4.4 7.8"/>
<path class="m" d="M301 240.3l4.4 -2.3"/>
<path class="m" d="M204.6 226.2l4.4 -1.3"/>
<path color="#355c31" d="M309.7 234.3l4.4-5.3l2.1-8l-4.4 5.7z"/>
<path class="m" d="M174.1 247.6l4.4 -2.2"/>
<path color="#2ed0c3" d="M270.4 245.5l4.4 2.8l2.1-5.4l-4.4-2.4z"/>
<path color="#27cfcd" d="M274.8 248.3l4.4 2.4l2.1-5.6l-4.4-2.2z"/>
<path class="m" d="M318.3 213.1l4.4 -8"/>
<path color="#77581c" d="M322.7 205.1l4.4-10.1l2.1-8.7l-4.4 10.4z"/>
<path color="#38d0b6" d="M266 242.6l4.4 2.9l2.1-5l-4.4-2.7z"/>
<path color="#37b7f6" d="M137 269l4.4 2.1l2.1-7.2l-4.4-2.5z"/>
<path color="#91d65e" d="M235.3 225.4l4.4 1.6l2.1-3.9l-4.4-1.5z"/>
<path color="#24ced4" d="M279.2 250.7l4.4 1.9l2.1-5.9l-4.4-1.6z"/>
<path color="#44d1a9" d="M261.7 239.6l4.3 3l2.1-4.8l-4.3-2.8z"/>
<path class="m" d="M230.9 224.3l4.4 1.2"/>
<path class="m" d="M187.2 240.7l4.4 -2.3"/>
<path color="#2fc1fb" d="M132.7 265.3l4.3 3.7l2.1-7.6l-4.3-4z"/>
<path color="#50d19b" d="M257.3 236.7l4.4 2.9l2.1-4.6l-4.4-2.7z"/>
<path color="#87d566" d="M239.7 227l4.4 2l2.1-4l-4.4-1.9z"/>
<path color="#35aced" d="M141.4 271.1l4.4 .8l2.1-6.8l-4.4-1.2z"/>
<path class="m" d="M309.7 234.3l4.4 -5.3"/>
<path color="#fff527" d="M119.1 175.2l4.4 16.8l2.1-9.6l-3.2-12.6l-2.7 2.5z"/>
<path color="#60d28c" d="M252.9 233.9l4.4 2.8l2.1-4.4l-4.4-2.7z"/>
<path color="#21ccd7" d="M283.6 252.6l4.4 1.3l2.1-6.1l-4.4-1.1z"/>
<path color="#7bd471" d="M244.1 229l4.4 2.3l2.1-4.1l-4.4-2.2z"/>
<path color="#6ed37d" d="M248.5 231.3l4.4 2.6l2.1-4.3l-4.4-2.4z"/>
<path class="m" d="M270.4 245.5l4.4 2.7"/>
<path class="m" d="M274.8 248.3l4.4 2.4"/>
<path class="m" d="M322.7 205.1l4.4 -10.1"/>
<path color="#66a34f" d="M206.9 228.9l4.4-1l2.1-3.9l-4.4 .9z"/>
<path class="m" d="M266 242.6l4.4 2.9"/>
<path color="#1483a2" d="M161.1 262.8l4.4-2.1l2.1-5.6l-4.4 1.8z"/>
<path class="m" d="M139.1 261.4l4.4 2.5"/>
<path class="m" d="M235.3 225.4l4.4 1.6"/>
<path class="m" d="M279.2 250.7l4.4 1.9"/>
<path class="m" d="M261.7 239.6l4.4 3"/>
<path class="m" d="M134.8 257.4l4.4 4"/>
<path class="m" d="M257.3 236.7l4.4 2.9"/>
<path class="m" d="M239.7 227l4.4 2"/>
<path color="#737111" d="M329.2 186.3l4.1-11.9l.3-4l-2.3 7.1z"/>
<path class="m" d="M143.5 263.9l4.4 1.2"/>
<path class="m" d="M122.4 169.8l3.2 12.6"/>
<path class="m" d="M252.9 233.9l4.4 2.8"/>
<path class="m" d="M283.6 252.6l4.4 1.3"/>
<path class="m" d="M244.1 229l4.4 2.3"/>
<path color="#1dbfca" d="M288 253.9l4.4 .6l2.1-6.5l-4.4-.2z"/>
<path class="m" d="M248.5 231.3l4.4 2.6"/>
<path color="#2d99d3" d="M145.8 271.9l4.4-.3l2.1-6.5l-4.4 0z"/>
<path color="#177e7b" d="M176.4 250.5l4.3-2.6l2.1-4.8l-4.4 2.3z"/>
<path color="#22c7f1" d="M128.3 259.9l4.4 5.4l2.1-7.9l-4.4-5.9z"/>
<path class="m" d="M209 224.9l4.4 -0.9"/>
<path color="#23715c" d="M303.3 245.2l4.4-3.3l2-7.6l-4.3 3.7z"/>
<path class="m" d="M161.1 262.8l4.4 -2.1"/>
<path color="#388860" d="M191.6 238.4l4.4-2.1l2.1-4.3l-4.4 2z"/>
<path class="m" d="M331.3 177.5l2.3 -7.1"/>
<path color="#5dd18d" d="M121.6 233.6l4.4 10.1l2.1-8.8l-4.4-10.5z"/>
<path class="m" d="M288 253.9l4.4 0.5"/>
<path class="m" d="M147.9 265.1l4.4 0.1"/>
<path class="m" d="M178.4 245.4l4.4 -2.3"/>
<path class="m" d="M130.4 251.5l4.4 5.8"/>
<path color="#e5ca38" d="M119.3 211.3l4.4 13.1l2.1-9.2l-4.4-13.5z"/>
<path class="m" d="M305.4 238l4.4 -3.7"/>
<path color="#75ae4d" d="M211.3 227.9l4.4-.6l2.1-3.9l-4.4 .6z"/>
<path class="m" d="M191.6 238.4l4.4 -2.1"/>
<path color="#1aa9b1" d="M292.4 254.5l4.4-.5l2.1-6.8l-4.4 .8z"/>
<path class="m" d="M121.6 233.6l4.4 10.1"/>
<path color="#258abc" d="M150.2 271.6l4.4-1.1l2.1-6.2l-4.4 .8z"/>
<path class="m" d="M121.4 201.7l4.4 13.5"/>
<path color="#117e92" d="M165.5 260.7l4.4-2.5l2.1-5.3l-4.4 2.2z"/>
<path class="m" d="M213.4 224l4.4 -0.6"/>
<path class="m" d="M292.4 254.5l4.4 -0.4"/>
<path color="#20ccd8" d="M123.9 252.5l4.4 7.4l2.1-8.4l-4.4-7.8z"/>
<path class="m" d="M152.3 265.1l4.4 -0.8"/>
<path color="#83b94d" d="M215.7 227.3l4.4-.2l2-3.8l-4.3 .1z"/>
<path class="m" d="M165.5 260.7l4.4 -2.5"/>
<path color="#1f7e70" d="M180.7 247.9l4.4-2.6l2.1-4.6l-4.4 2.4z"/>
<path color="#468f59" d="M196 236.3l4.4-1.8l2.1-4.2l-4.4 1.7z"/>
<path color="#515d1f" d="M314.1 229l4.4-7.2l2.1-8.3l-4.4 7.5z"/>
<path color="#ffe02f" d="M117 185.2l4.4 16.5l2.1-9.7l-4.4-16.8z"/>
<path class="m" d="M126 243.7l4.4 7.8"/>
<path color="#199090" d="M296.8 254l4.4-1.5l2.1-7.3l-4.4 2z"/>
<path class="m" d="M217.8 223.4l4.4 -0.1"/>
<path class="m" d="M182.8 243.1l4.4 -2.4"/>
<path class="m" d="M196 236.3l4.4 -1.8"/>
<path color="#74551b" d="M320.6 213.5l4.4-9.7l2.1-8.8l-4.4 10.1z"/>
<path color="#1d81ab" d="M154.6 270.5l4.4-1.9l2.1-5.8l-4.4 1.5z"/>
<path color="#295c3d" d="M307.7 241.9l4.3-4.9l2.1-8l-4.4 5.3z"/>
<path class="m" d="M314.1 229l4.4 -7.2"/>
<path color="#8ec44e" d="M220.1 227.1l4.3 .3l2.1-3.9l-4.4-.2z"/>
<path class="m" d="M117 185.2l4.4 16.4"/>
<path class="m" d="M296.8 254l4.4 -1.6"/>
<path color="#41aaf0" d="M135 276.6l4.3 1.7l2.1-7.2l-4.4-2.1z"/>
<path class="m" d="M322.7 205.1l4.4 -10.1"/>
<path color="#117a85" d="M169.9 258.2l4.4-2.7l2.1-5l-4.4 2.4z"/>
<path color="#3cb3f5" d="M130.6 273.3l4.4 3.3l2-7.6l-4.3-3.7z"/>
<path color="#f9f524" d="M118.7 173.4l.4 1.8l.6-2.9z"/>
<path class="m" d="M156.7 264.3l4.4 -1.5"/>
<path class="m" d="M309.7 234.3l4.4 -5.3"/>
<path class="m" d="M222.1 223.3l4.4 0.3"/>
<path color="#95cd52" d="M224.4 227.4l4.4 .7l2.1-3.8l-4.4-.8z"/>
<path color="#549753" d="M200.4 234.5l4.4-1.6l2.1-4l-4.4 1.4z"/>
<path color="#3c9be0" d="M139.3 278.3l4.4 .5l2.1-6.9l-4.4-.8z"/>
<path class="m" d="M135 276.6l4.4 1.7"/>
<path color="#24ced5" d="M272.7 253.6l4.4 2.6l2.1-5.5l-4.4-2.4z"/>
<path color="#20cddd" d="M277.1 256.2l4.4 2.3l2.1-5.9l-4.4-1.9z"/>
<path class="m" d="M169.9 258.2l4.4 -2.7"/>
<path color="#298067" d="M185.1 245.3l4.4-2.5l2.1-4.4l-4.4 2.3z"/>
<path class="m" d="M130.6 273.3l4.4 3.3"/>
<path color="#28cfca" d="M268.3 250.6l4.4 3l2.1-5.3l-4.4-2.8z"/>
<path color="#2cbdf8" d="M126.2 268.3l4.4 5l2.1-8l-4.4-5.4z"/>
<path color="#32d0bd" d="M264 247.4l4.3 3.2l2.1-5.1l-4.4-2.9z"/>
<path color="#1ccce3" d="M281.5 258.5l4.4 1.6l2.1-6.2l-4.4-1.3z"/>
<path color="#97d558" d="M228.8 228.1l4.4 1.2l2.1-3.9l-4.4-1.1z"/>
<path color="#b5d246" d="M117.2 220.9l4.4 12.7l2.1-9.2l-4.4-13.1z"/>
<path class="m" d="M226.5 223.5l4.4 0.7"/>
<path color="#3ecfac" d="M119.5 242.8l4.4 9.7l2.1-8.8l-4.4-10.1z"/>
<path class="m" d="M200.4 234.5l4.4 -1.5"/>
<path class="m" d="M139.3 278.3l4.4 0.5"/>
<path color="#3fd0ae" d="M259.6 244.3l4.4 3.1l2-4.8l-4.3-3z"/>
<path color="#1a766c" d="M301.2 252.5l4.4-3l2.1-7.6l-4.4 3.3z"/>
<path class="m" d="M274.8 248.3l4.4 2.4"/>
<path color="#157b9e" d="M159 268.6l4.4-2.3l2.1-5.6l-4.4 2.1z"/>
<path class="m" d="M279.2 250.7l4.4 1.9"/>
<path class="m" d="M187.2 240.7l4.4 -2.3"/>
<path class="m" d="M270.4 245.5l4.4 2.7"/>
<path color="#90d65f" d="M233.2 229.3l4.4 1.7l2.1-4l-4.4-1.6z"/>
<path color="#338ac6" d="M143.7 278.8l4.4-.6l2.1-6.6l-4.4 .3z"/>
<path color="#4cd19f" d="M255.2 241.1l4.4 3.2l2.1-4.7l-4.4-2.9z"/>
<path color="#746f12" d="M327.1 195l4.4-12.4l1.7-7.5l.1-.7l-4.1 11.9z"/>
<path class="m" d="M126.2 268.3l4.4 5"/>
<path color="#19c4dd" d="M285.9 260.1l4.4 .9l2.1-6.5l-4.4-.6z"/>
<path class="m" d="M266 242.6l4.4 2.9"/>
<path class="m" d="M283.6 252.6l4.4 1.3"/>
<path class="m" d="M230.9 224.3l4.4 1.2"/>
<path color="#5cd290" d="M250.8 238.2l4.4 2.9l2.1-4.4l-4.4-2.8z"/>
<path class="m" d="M117.2 220.9l4.4 12.7"/>
<path class="m" d="M121.6 233.6l4.4 10.1"/>
<path color="#86d568" d="M237.6 231l4.4 2l2.1-4l-4.4-2z"/>
<path color="#6bd380" d="M246.4 235.4l4.4 2.8l2.1-4.3l-4.4-2.6z"/>
<path color="#78d473" d="M242 233l4.4 2.4l2.1-4.1l-4.4-2.3z"/>
<path class="m" d="M261.7 239.6l4.4 3"/>
<path class="m" d="M301.2 252.5l4.4 -3"/>
<path class="m" d="M161.1 262.8l4.4 -2.1"/>
<path color="#64a14f" d="M204.8 232.9l4.4-1.1l2.1-3.9l-4.4 1z"/>
<path class="m" d="M235.3 225.4l4.4 1.6"/>
<path class="m" d="M143.7 278.8l4.4 -0.6"/>
<path class="m" d="M257.3 236.7l4.4 2.9"/>
<path class="m" d="M327.1 195l4.4 -12.4"/>
<path color="#157979" d="M174.3 255.5l4.4-2.8l2-4.8l-4.3 2.6z"/>
<path class="m" d="M288 253.9l4.4 0.5"/>
<path class="m" d="M252.9 233.9l4.4 2.8"/>
<path class="m" d="M239.7 227l4.4 2"/>
<path color="#1ec7eb" d="M121.8 261.2l4.4 7.1l2.1-8.4l-4.4-7.4z"/>
<path class="m" d="M248.5 231.3l4.4 2.6"/>
<path color="#ffc83c" d="M114.9 195.3l4.4 16l2.1-9.6l-4.4-16.5z"/>
<path class="m" d="M244.1 229l4.4 2.3"/>
<path color="#16afc5" d="M290.3 261l4.4-.1l2.1-6.9l-4.4 .5z"/>
<path class="m" d="M204.8 232.9l4.4 -1.1"/>
<path color="#348460" d="M189.5 242.8l4.4-2.2l2.1-4.3l-4.4 2.1z"/>
<path color="#faf625" d="M115.1 177l1.9 8.2l2.1-10l-.4-1.8z"/>
<path class="m" d="M174.3 255.5l4.4 -2.8"/>
<path color="#297db0" d="M148.1 278.2l4.4-1.5l2.1-6.2l-4.4 1.1z"/>
<path class="m" d="M121.8 261.2l4.4 7"/>
<path color="#3e5d29" d="M312 237l4.4-6.8l2.1-8.4l-4.4 7.2z"/>
<path class="m" d="M117 185.2l4.4 16.4"/>
<path class="m" d="M292.4 254.5l4.4 -0.4"/>
<path color="#11778f" d="M163.4 266.3l4.4-2.8l2.1-5.3l-4.4 2.5z"/>
<path class="m" d="M191.6 238.4l4.4 -2.1"/>
<path color="#73ac4d" d="M209.2 231.8l4.4-.7l2.1-3.8l-4.4 .6z"/>
<path color="#6d5719" d="M318.5 221.8l4.4-9.2l2.1-8.8l-4.4 9.7z"/>
<path class="m" d="M115.1 177l1.9 8.3"/>
<path class="m" d="M148.1 278.2l4.4 -1.5"/>
<path class="m" d="M314.1 229l4.4 -7.2"/>
<path color="#1596a3" d="M294.7 260.9l4.4-1.2l2.1-7.2l-4.4 1.5z"/>
<path color="#20604c" d="M305.6 249.5l4.3-4.6l2.1-7.9l-4.3 4.9z"/>
<path class="m" d="M165.5 260.7l4.4 -2.5"/>
<path class="m" d="M209.2 231.8l4.4 -0.7"/>
<path class="m" d="M318.5 221.8l4.4 -9.3"/>
<path color="#1b7a6f" d="M178.7 252.7l4.3-2.8l2.1-4.6l-4.4 2.6z"/>
<path color="#49a5ee" d="M128.5 281.3l4.4 2.8l2.1-7.5l-4.4-3.3z"/>
<path color="#4a9ae6" d="M132.9 284.1l4.4 1.4l2-7.2l-4.3-1.7z"/>
<path class="m" d="M296.8 254l4.4 -1.6"/>
<path color="#2075a0" d="M152.5 276.7l4.4-2.2l2.1-5.9l-4.4 1.9z"/>
<path class="m" d="M305.6 249.5l4.4 -4.6"/>
<path color="#81b84d" d="M213.6 231.1l4.4-.2l2.1-3.8l-4.4 .2z"/>
<path color="#428b59" d="M193.9 240.6l4.4-2l2.1-4.1l-4.4 1.8z"/>
<path color="#83d368" d="M115.1 230.5l4.4 12.3l2.1-9.2l-4.4-12.7z"/>
<path color="#26cdc9" d="M117.4 251.9l4.4 9.3l2.1-8.7l-4.4-9.7z"/>
<path class="m" d="M178.7 252.7l4.4 -2.8"/>
<path color="#776515" d="M325 203.8l4.4-12l2.1-9.2l-4.4 12.4z"/>
<path color="#3caff2" d="M124.1 276.6l4.4 4.7l2.1-8l-4.4-5z"/>
<path class="m" d="M130.6 273.3l4.4 3.3"/>
<path color="#4189d0" d="M137.3 285.5l4.3 .1l2.1-6.8l-4.4-.5z"/>
<path class="m" d="M135 276.6l4.4 1.7"/>
<path class="m" d="M152.5 276.7l4.4 -2.2"/>
<path class="m" d="M213.6 231.1l4.4 -0.2"/>
<path class="m" d="M196 236.3l4.4 -1.8"/>
<path class="m" d="M117.2 220.9l4.4 12.7"/>
<path color="#0e7584" d="M167.8 263.5l4.4-2.9l2.1-5.1l-4.4 2.7z"/>
<path class="m" d="M117.4 251.9l4.4 9.3"/>
<path color="#8dc34e" d="M218 230.9l4.4 .3l2-3.8l-4.3-.3z"/>
<path class="m" d="M327.1 195l4.4 -12.4"/>
<path class="m" d="M126.2 268.3l4.4 5"/>
<path color="#147c7e" d="M299.1 259.7l4.4-2.6l2.1-7.6l-4.4 3z"/>
<path class="m" d="M139.3 278.3l4.4 0.5"/>
<path color="#737111" d="M331.5 182.6l1.2-4.3l.5-3.2z"/>
<path color="#1dcce6" d="M275 261.8l4.4 2.5l2.1-5.8l-4.4-2.3z"/>
<path color="#ffbd3d" d="M112.8 205.3l4.4 15.6l2.1-9.6l-4.4-16z"/>
<path color="#20cddd" d="M270.6 258.9l4.4 2.9l2.1-5.6l-4.4-2.6z"/>
<path color="#1fc9eb" d="M279.4 264.3l4.4 2l2.1-6.2l-4.4-1.6z"/>
<path class="m" d="M169.9 258.2l4.4 -2.7"/>
<path color="#25ced1" d="M266.2 255.6l4.4 3.3l2.1-5.3l-4.4-3z"/>
<path class="m" d="M218 230.9l4.4 0.3"/>
<path color="#377ab7" d="M141.6 285.6l4.4-.9l2.1-6.5l-4.4 .6z"/>
<path color="#519453" d="M198.3 238.6l4.4-1.6l2.1-4.1l-4.4 1.6z"/>
<path color="#94ce53" d="M222.4 231.2l4.3 .7l2.1-3.8l-4.4-.7z"/>
<path class="m" d="M301.2 252.5l4.4 -3"/>
<path color="#257c67" d="M183 249.9l4.4-2.6l2.1-4.5l-4.4 2.5z"/>
<path color="#27bef6" d="M119.7 270l4.4 6.6l2.1-8.3l-4.4-7.1z"/>
<path color="#2ccfc3" d="M261.9 252.3l4.3 3.3l2.1-5l-4.3-3.2z"/>
<path color="#1ec5eb" d="M283.8 266.3l4.4 1.2l2.1-6.5l-4.4-.9z"/>
<path class="m" d="M331.5 182.6l1.3 -4.3"/>
<path color="#187296" d="M156.9 274.5l4.4-2.7l2.1-5.5l-4.4 2.3z"/>
<path class="m" d="M275 261.8l4.4 2.5"/>
<path class="m" d="M112.8 205.3l4.4 15.6"/>
<path class="m" d="M270.6 258.9l4.4 3"/>
<path class="m" d="M279.4 264.3l4.4 1.9"/>
<path color="#3ad0b3" d="M257.5 248.9l4.4 3.4l2.1-4.9l-4.4-3.1z"/>
<path class="m" d="M266.2 255.6l4.4 3.2"/>
<path class="m" d="M143.7 278.8l4.4 -0.6"/>
<path class="m" d="M200.4 234.5l4.4 -1.5"/>
<path color="#97d659" d="M226.7 231.9l4.4 1.3l2.1-3.9l-4.4-1.2z"/>
<path class="m" d="M222.3 231.2l4.4 0.8"/>
<path class="m" d="M183 249.9l4.4 -2.7"/>
<path class="m" d="M121.8 261.2l4.4 7"/>
<path class="m" d="M261.9 252.3l4.4 3.4"/>
<path class="m" d="M283.8 266.3l4.4 1.2"/>
<path color="#48d0a4" d="M253.1 245.6l4.4 3.3l2.1-4.6l-4.4-3.2z"/>
<path class="m" d="M156.9 274.5l4.4 -2.7"/>
<path color="#2f5c36" d="M309.9 244.9l4.4-6.3l2.1-8.4l-4.4 6.8z"/>
<path color="#1ab2d5" d="M288.2 267.5l4.4 .2l2.1-6.8l-4.4 .1z"/>
<path color="#8fd560" d="M231.1 233.2l4.4 1.7l2.1-3.9l-4.4-1.7z"/>
<path color="#fcf426" d="M111.5 180.5l3.4 14.8l2.1-10.1l-1.9-8.2z"/>
<path color="#58d193" d="M248.7 242.4l4.4 3.2l2.1-4.5l-4.4-2.9z"/>
<path color="#625a1a" d="M316.4 230.2l4.4-8.9l2.1-8.7l-4.4 9.2z"/>
<path class="m" d="M257.5 248.9l4.4 3.4"/>
<path color="#68d383" d="M244.3 239.6l4.4 2.8l2.1-4.2l-4.4-2.8z"/>
<path class="m" d="M226.7 231.9l4.4 1.2"/>
<path color="#84d569" d="M235.5 234.9l4.4 2.1l2.1-4l-4.4-2z"/>
<path color="#76d475" d="M239.9 237l4.4 2.6l2.1-4.2l-4.4-2.4z"/>
<path color="#127478" d="M172.2 260.6l4.4-3.1l2.1-4.8l-4.4 2.8z"/>
<path color="#2d70a4" d="M146 284.7l4.4-1.8l2.1-6.2l-4.4 1.5z"/>
<path class="m" d="M253.1 245.6l4.4 3.3"/>
<path color="#619f4f" d="M202.7 237l4.4-1.2l2.1-4l-4.4 1.1z"/>
<path class="m" d="M309.9 244.9l4.4 -6.4"/>
<path class="m" d="M288.2 267.5l4.4 0.3"/>
<path class="m" d="M231.1 233.2l4.4 1.7"/>
<path class="m" d="M115.1 177l1.9 8.3"/>
<path class="m" d="M248.7 242.4l4.4 3.1"/>
<path class="m" d="M318.5 221.8l4.4 -9.3"/>
<path color="#17645b" d="M303.5 257.1l4.4-4.2l2-8l-4.3 4.6z"/>
<path class="m" d="M244.3 239.6l4.4 2.9"/>
<path class="m" d="M235.5 234.9l4.4 2.1"/>
<path class="m" d="M239.9 237l4.4 2.5"/>
<path class="m" d="M174.3 255.5l4.4 -2.8"/>
<path color="#5bd08d" d="M113 240.1l4.4 11.8l2.1-9.1l-4.4-12.3z"/>
<path class="m" d="M148.1 278.2l4.4 -1.5"/>
<path color="#308160" d="M187.4 247.3l4.4-2.5l2.1-4.2l-4.4 2.2z"/>
<path color="#159bb5" d="M292.6 267.7l4.4-.8l2.1-7.2l-4.4 1.2z"/>
<path class="m" d="M204.8 232.9l4.4 -1.1"/>
<path color="#12708c" d="M161.3 271.8l4.4-3l2.1-5.3l-4.4 2.8z"/>
<path color="#1acae2" d="M115.3 261.1l4.4 8.9l2.1-8.8l-4.4-9.3z"/>
<path color="#5496e4" d="M126.4 289.2l4.4 2.5l2.1-7.6l-4.4-2.8z"/>
<path color="#785b1b" d="M322.9 212.6l4.4-11.6l2.1-9.2l-4.4 12z"/>
<path class="m" d="M305.6 249.5l4.4 -4.6"/>
<path color="#528bda" d="M130.8 291.7l4.4 1l2.1-7.2l-4.4-1.4z"/>
<path class="m" d="M113 240.1l4.4 11.9"/>
<path class="m" d="M187.4 247.3l4.4 -2.4"/>
<path class="m" d="M292.6 267.7l4.4 -0.9"/>
<path color="#4aa0ea" d="M122 285l4.4 4.2l2.1-7.9l-4.4-4.7z"/>
<path class="m" d="M161.3 271.8l4.4 -3"/>
<path color="#71ab4d" d="M207.1 235.8l4.4-.8l2.1-3.9l-4.4 .7z"/>
<path class="m" d="M117.4 251.9l4.4 9.3"/>
<path class="m" d="M126.4 289.2l4.4 2.5"/>
<path color="#edc436" d="M110.7 215.3l4.4 15.2l2.1-9.6l-4.4-15.6z"/>
<path class="m" d="M322.9 212.6l4.4 -11.6"/>
<path color="#236a96" d="M150.4 282.9l4.4-2.5l2.1-5.9l-4.4 2.2z"/>
<path class="m" d="M130.8 291.7l4.4 1"/>
<path color="#737111" d="M329.4 191.8l2.9-9.6l.4-3.9l-1.2 4.3z"/>
<path color="#4678bf" d="M135.2 292.7l4.3-.2l2.1-6.9l-4.3-.1z"/>
<path class="m" d="M122 285l4.4 4.2"/>
<path color="#17766f" d="M176.6 257.5l4.3-3l2.1-4.6l-4.3 2.8z"/>
<path class="m" d="M209.2 231.8l4.4 -0.7"/>
<path class="m" d="M112.8 205.3l4.4 15.6"/>
<path color="#108190" d="M297 266.9l4.4-2.3l2.1-7.5l-4.4 2.6z"/>
<path class="m" d="M152.5 276.7l4.4 -2.2"/>
<path class="m" d="M331.5 182.6l1.3 -4.3"/>
<path color="#3f8858" d="M191.8 244.8l4.4-2.1l2.1-4.1l-4.4 2z"/>
<path class="m" d="M135.2 292.7l4.4 -0.3"/>
<path color="#37aef0" d="M117.6 278.8l4.4 6.2l2.1-8.4l-4.4-6.6z"/>
<path color="#80b74d" d="M211.5 235l4.4-.2l2.1-3.9l-4.4 .2z"/>
<path class="m" d="M178.7 252.7l4.4 -2.8"/>
<path class="m" d="M297 266.9l4.4 -2.2"/>
<path color="#0f6f81" d="M165.7 268.8l4.4-3.2l2.1-5l-4.4 2.9z"/>
<path class="m" d="M191.8 244.8l4.4 -2.1"/>
<path color="#3a6ca8" d="M139.5 292.5l4.4-1.3l2.1-6.5l-4.4 .9z"/>
<path color="#20c9ec" d="M272.9 267.4l4.4 2.8l2.1-5.9l-4.4-2.5z"/>
<path class="m" d="M117.6 278.8l4.4 6.2"/>
<path color="#22c6f2" d="M277.3 270.2l4.4 2.3l2.1-6.2l-4.4-2z"/>
<path class="m" d="M213.6 231.1l4.4 -0.2"/>
<path color="#1ccce5" d="M268.5 264.2l4.4 3.2l2.1-5.6l-4.4-2.9z"/>
<path color="#23c2f4" d="M281.7 272.5l4.4 1.5l2.1-6.5l-4.4-1.2z"/>
<path color="#225a43" d="M307.9 252.9l4.3-6l2.1-8.3l-4.4 6.3z"/>
<path color="#4d5d20" d="M314.3 238.6l4.4-8.5l2.1-8.8l-4.4 8.9z"/>
<path color="#8cc34f" d="M215.9 234.8l4.4 .2l2.1-3.8l-4.4-.3z"/>
<path class="m" d="M165.7 268.8l4.4 -3.2"/>
<path color="#22cdd7" d="M264.2 260.7l4.3 3.5l2.1-5.3l-4.4-3.3z"/>
<path class="m" d="M139.5 292.5l4.4 -1.3"/>
<path color="#1b688d" d="M154.8 280.4l4.4-3l2.1-5.6l-4.4 2.7z"/>
<path class="m" d="M275 261.8l4.4 2.5"/>
<path class="m" d="M279.4 264.3l4.4 1.9"/>
<path class="m" d="M270.6 258.9l4.4 3"/>
<path color="#28cfc9" d="M259.8 257.1l4.4 3.6l2-5.1l-4.3-3.3z"/>
<path color="#3bceaf" d="M110.9 249.7l4.4 11.4l2.1-9.2l-4.4-11.8z"/>
<path color="#20b5e6" d="M286.1 274l4.4 .6l2.1-6.9l-4.4-.2z"/>
<path class="m" d="M283.8 266.3l4.4 1.2"/>
<path class="m" d="M309.9 244.9l4.4 -6.4"/>
<path class="m" d="M314.3 238.6l4.4 -8.4"/>
<path color="#227866" d="M180.9 254.5l4.4-2.8l2.1-4.4l-4.4 2.6z"/>
<path color="#4e9153" d="M196.2 242.7l4.4-1.7l2.1-4l-4.4 1.6z"/>
<path class="m" d="M218 230.9l4.4 0.3"/>
<path class="m" d="M266.2 255.6l4.4 3.2"/>
<path color="#94ce53" d="M220.3 235l4.3 .8l2.1-3.9l-4.3-.7z"/>
<path class="m" d="M156.9 274.5l4.4 -2.7"/>
<path color="#35d0b9" d="M255.4 253.5l4.4 3.6l2.1-4.8l-4.4-3.4z"/>
<path color="#21c1f2" d="M113.2 270.3l4.4 8.5l2.1-8.8l-4.4-8.9z"/>
<path color="#11696a" d="M301.4 264.6l4.4-3.7l2.1-8l-4.4 4.2z"/>
<path color="#fef028" d="M108.4 186.6l4.4 18.7l2.1-10l-3.4-14.8l-2.3 2.3z"/>
<path class="m" d="M261.9 252.3l4.4 3.4"/>
<path class="m" d="M113 240.1l4.4 11.9"/>
<path color="#75551c" d="M320.8 221.3l4.4-11.1l2.1-9.2l-4.4 11.6z"/>
<path color="#2f6498" d="M143.9 291.2l4.4-2.2l2.1-6.1l-4.4 1.8z"/>
<path class="m" d="M288.2 267.5l4.4 0.3"/>
<path class="m" d="M183 249.9l4.4 -2.7"/>
<path class="m" d="M196.2 242.7l4.4 -1.7"/>
<path color="#44d0a8" d="M251 250l4.4 3.5l2.1-4.6l-4.4-3.3z"/>
<path color="#c6cd3f" d="M108.6 225.4l4.4 14.7l2.1-9.6l-4.4-15.2z"/>
<path color="#96d65a" d="M224.6 235.8l4.4 1.3l2.1-3.9l-4.4-1.3z"/>
<path class="m" d="M222.3 231.2l4.4 0.8"/>
<path class="m" d="M257.5 248.9l4.4 3.4"/>
<path color="#5d87d9" d="M124.3 297.2l4.4 2.1l2.1-7.6l-4.4-2.5z"/>
<path color="#1a9ec6" d="M290.5 274.6l4.4-.5l2.1-7.2l-4.4 .8z"/>
<path color="#53d197" d="M246.6 246.7l4.4 3.3l2.1-4.4l-4.4-3.2z"/>
<path color="#107077" d="M170.1 265.6l4.4-3.2l2.1-4.9l-4.4 3.1z"/>
<path class="m" d="M113.2 270.3l4.4 8.5"/>
<path class="m" d="M301.4 264.6l4.4 -3.8"/>
<path class="m" d="M108.4 186.6l4.4 18.7"/>
<path color="#8ed561" d="M229 237.1l4.4 1.7l2.1-3.9l-4.4-1.7z"/>
<path class="m" d="M322.9 212.6l4.4 -11.6"/>
<path class="m" d="M143.9 291.2l4.4 -2.1"/>
<path color="#5790e0" d="M119.9 293.4l4.4 3.8l2.1-8l-4.4-4.2z"/>
<path color="#65d386" d="M242.2 243.7l4.4 3l2.1-4.3l-4.4-2.8z"/>
<path class="m" d="M253.1 245.6l4.4 3.3"/>
<path color="#557bcc" d="M128.7 299.3l4.4 .6l2.1-7.2l-4.4-1z"/>
<path color="#82d56b" d="M233.4 238.8l4.4 2.3l2.1-4.1l-4.4-2.1z"/>
<path color="#74d477" d="M237.8 241.1l4.4 2.6l2.1-4.1l-4.4-2.6z"/>
<path class="m" d="M108.6 225.4l4.4 14.7"/>
<path class="m" d="M226.7 231.9l4.4 1.2"/>
<path class="m" d="M126.4 289.2l4.4 2.5"/>
<path class="m" d="M292.6 267.7l4.4 -0.9"/>
<path color="#5e9c4f" d="M200.6 241l4.4-1.3l2.1-3.9l-4.4 1.2z"/>
<path class="m" d="M248.7 242.4l4.4 3.1"/>
<path class="m" d="M170.1 265.6l4.4 -3.3"/>
<path color="#136988" d="M159.2 277.4l4.4-3.3l2.1-5.3l-4.4 3z"/>
<path class="m" d="M231.1 233.2l4.4 1.7"/>
<path class="m" d="M122 285l4.4 4.2"/>
<path class="m" d="M244.3 239.6l4.4 2.9"/>
<path class="m" d="M130.8 291.7l4.4 1"/>
<path class="m" d="M235.5 234.9l4.4 2.1"/>
<path color="#2d7d5f" d="M185.3 251.7l4.4-2.6l2.1-4.3l-4.4 2.5z"/>
<path class="m" d="M239.9 237l4.4 2.5"/>
<path color="#486ab1" d="M133.1 299.9l4.4-.6l2-6.8l-4.3 .2z"/>
<path class="m" d="M200.6 241l4.4 -1.3"/>
<path color="#469de7" d="M115.5 287.6l4.4 5.8l2.1-8.4l-4.4-6.2z"/>
<path class="m" d="M161.3 271.8l4.4 -3"/>
<path color="#26608d" d="M148.3 289l4.4-2.8l2.1-5.8l-4.4 2.5z"/>
<path color="#1385a0" d="M294.9 274.1l4.4-1.9l2.1-7.6l-4.4 2.3z"/>
<path class="m" d="M187.4 247.3l4.4 -2.4"/>
<path class="m" d="M135.2 292.7l4.4 -0.3"/>
<path class="m" d="M117.6 278.8l4.4 6.2"/>
<path color="#6fa94d" d="M205 239.7l4.4-.8l2.1-3.9l-4.4 .8z"/>
<path class="m" d="M148.3 289l4.4 -2.8"/>
<path class="m" d="M297 266.9l4.4 -2.2"/>
<path color="#ffd731" d="M106.3 197.1l4.4 18.2l2.1-10l-4.4-18.7z"/>
<path color="#3a5d2d" d="M312.2 246.9l4.4-8l2.1-8.8l-4.4 8.5z"/>
<path color="#15716e" d="M174.5 262.4l4.4-3.2l2-4.7l-4.3 3z"/>
<path color="#185a4e" d="M305.8 260.9l4.4-5.6l2-8.4l-4.3 6z"/>
<path color="#23cccd" d="M108.8 259.3l4.4 11l2.1-9.2l-4.4-11.4z"/>
<path color="#747111" d="M327.3 201l4.4-14.2l.2-1l.4-3.6l-2.9 9.6z"/>
<path color="#3d5e9b" d="M137.5 299.3l4.3-1.6l2.1-6.5l-4.4 1.3z"/>
<path class="m" d="M205 239.7l4.4 -0.8"/>
<path class="m" d="M108.4 186.6l4.4 18.7"/>
<path class="m" d="M314.3 238.6l4.4 -8.4"/>
<path class="m" d="M174.5 262.4l4.4 -3.2"/>
<path color="#26c2f9" d="M275.2 276.1l4.4 2.5l2.1-6.1l-4.4-2.3z"/>
<path color="#3b8558" d="M189.7 249.1l4.4-2.2l2.1-4.2l-4.4 2.1z"/>
<path class="m" d="M305.8 260.9l4.4 -5.6"/>
<path color="#22c6f2" d="M270.8 273l4.4 3.1l2.1-5.9l-4.4-2.8z"/>
<path color="#0f6a7e" d="M163.6 274.1l4.4-3.4l2.1-5.1l-4.4 3.2z"/>
<path class="m" d="M108.8 259.3l4.4 11"/>
<path color="#2abcf6" d="M279.6 278.6l4.4 1.9l2.1-6.5l-4.4-1.5z"/>
<path color="#2fb2f0" d="M111.1 279.5l4.4 8.1l2.1-8.8l-4.4-8.5z"/>
<path color="#8bd05d" d="M106.5 235.4l4.4 14.3l2.1-9.6l-4.4-14.7z"/>
<path class="m" d="M327.3 201l4.4 -14.2"/>
<path color="#7fb64d" d="M209.4 238.9l4.4-.3l2.1-3.8l-4.4 .2z"/>
<path class="m" d="M139.5 292.5l4.4 -1.3"/>
<path color="#6e5719" d="M318.7 230.1l4.4-10.8l2.1-9.1l-4.4 11.1z"/>
<path color="#1ec9ea" d="M266.5 269.5l4.3 3.5l2.1-5.6l-4.4-3.2z"/>
<path class="m" d="M275.2 276.1l4.4 2.6"/>
<path class="m" d="M191.8 244.8l4.4 -2.1"/>
<path color="#29b3ed" d="M284 280.5l4.4 .9l2.1-6.8l-4.4-.6z"/>
<path color="#1d6085" d="M152.7 286.2l4.4-3.2l2.1-5.6l-4.4 3z"/>
<path color="#0d6d7a" d="M299.3 272.2l4.4-3.4l2.1-7.9l-4.4 3.7z"/>
<path class="m" d="M270.8 273l4.4 3.1"/>
<path class="m" d="M165.7 268.8l4.4 -3.2"/>
<path color="#1eccde" d="M262.1 265.7l4.4 3.8l2-5.3l-4.3-3.5z"/>
<path class="m" d="M279.6 278.6l4.4 1.8"/>
<path class="m" d="M113.2 270.3l4.4 8.5"/>
<path class="m" d="M108.6 225.4l4.4 14.7"/>
<path color="#f7f324" d="M107.9 184.1l.5 2.5l.8-3.8z"/>
<path class="m" d="M209.4 238.9l4.4 -0.3"/>
<path class="m" d="M318.7 230.1l4.4 -10.8"/>
<path class="m" d="M266.5 269.5l4.4 3.5"/>
<path color="#5e7dd2" d="M122.2 305.2l4.4 1.7l2.1-7.6l-4.4-2.1z"/>
<path color="#25cecf" d="M257.7 261.9l4.4 3.8l2.1-5l-4.4-3.6z"/>
<path color="#8cc34f" d="M213.8 238.6l4.4 .2l2.1-3.8l-4.4-.2z"/>
<path class="m" d="M284 280.5l4.4 0.9"/>
<path class="m" d="M152.7 286.2l4.4 -3.3"/>
<path class="m" d="M301.4 264.6l4.4 -3.8"/>
<path color="#5f84d8" d="M117.8 301.7l4.4 3.5l2.1-8l-4.4-3.8z"/>
<path color="#32588c" d="M141.8 297.7l4.4-2.5l2.1-6.2l-4.4 2.2z"/>
<path class="m" d="M262.1 265.7l4.4 3.7"/>
<path class="m" d="M107.9 184.1l0.5 2.5"/>
<path color="#1f7566" d="M178.9 259.2l4.3-3.1l2.1-4.4l-4.4 2.8z"/>
<path color="#229ed1" d="M288.4 281.4l4.4-.1l2.1-7.2l-4.4 .5z"/>
<path color="#536ebf" d="M126.6 306.9l4.4 .2l2.1-7.2l-4.4-.6z"/>
<path color="#30cfbe" d="M253.3 258.1l4.4 3.8l2.1-4.8l-4.4-3.6z"/>
<path color="#4b8f53" d="M194.1 246.9l4.4-1.9l2.1-4l-4.4 1.7z"/>
<path class="m" d="M122.2 305.2l4.4 1.7"/>
<path class="m" d="M257.7 261.9l4.4 3.8"/>
<path class="m" d="M213.8 238.6l4.4 0.2"/>
<path class="m" d="M117.8 301.7l4.4 3.4"/>
<path class="m" d="M143.9 291.2l4.4 -2.1"/>
<path color="#94ce54" d="M218.2 238.8l4.4 .8l2-3.8l-4.3-.8z"/>
<path class="m" d="M178.9 259.2l4.4 -3"/>
<path class="m" d="M288.4 281.4l4.4 -0.2"/>
<path color="#548bdb" d="M113.4 296.3l4.4 5.4l2.1-8.3l-4.4-5.8z"/>
<path color="#40d0ac" d="M248.9 254.4l4.4 3.7l2.1-4.6l-4.4-3.5z"/>
<path class="m" d="M126.6 306.9l4.4 0.3"/>
<path class="m" d="M253.3 258.1l4.4 3.8"/>
<path class="m" d="M196.2 242.7l4.4 -1.7"/>
<path color="#0e6b76" d="M168 270.7l4.4-3.5l2.1-4.8l-4.4 3.2z"/>
<path color="#ffbe3e" d="M104.2 207.5l4.4 17.9l2.1-10.1l-4.4-18.2z"/>
<path color="#95d65b" d="M222.6 239.6l4.3 1.3l2.1-3.8l-4.4-1.3z"/>
<path color="#4fd19b" d="M244.5 251l4.4 3.4l2.1-4.4l-4.4-3.3z"/>
<path class="m" d="M218.2 238.8l4.4 0.8"/>
<path color="#766a14" d="M325.2 210.2l4.4-13.8l2.1-9.6l-4.4 14.2z"/>
<path color="#465fa5" d="M131 307.1l4.4-.9l2.1-6.9l-4.4 .6z"/>
<path class="m" d="M113.4 296.3l4.4 5.4"/>
<path class="m" d="M248.9 254.4l4.4 3.7"/>
<path color="#1987af" d="M292.8 281.3l4.4-1.5l2.1-7.6l-4.4 1.9z"/>
<path color="#156281" d="M157.1 283l4.4-3.6l2.1-5.3l-4.4 3.3z"/>
<path color="#62d289" d="M240.1 247.8l4.4 3.2l2.1-4.3l-4.4-3z"/>
<path color="#8dd562" d="M226.9 240.9l4.4 1.9l2.1-4l-4.4-1.7z"/>
<path color="#1bc7e6" d="M106.7 268.9l4.4 10.6l2.1-9.2l-4.4-11z"/>
<path class="m" d="M170.1 265.6l4.4 -3.3"/>
<path class="m" d="M104.2 207.5l4.4 17.9"/>
<path color="#72d479" d="M235.7 245.1l4.4 2.7l2.1-4.1l-4.4-2.6z"/>
<path color="#80d56c" d="M231.3 242.8l4.4 2.3l2.1-4l-4.4-2.3z"/>
<path color="#2b5b3a" d="M310.2 255.3l4.3-7.7l2.1-8.7l-4.4 8z"/>
<path class="m" d="M222.6 239.6l4.4 1.3"/>
<path class="m" d="M244.5 251l4.4 3.5"/>
<path class="m" d="M327.3 201l4.4 -14.2"/>
<path color="#5b9a4f" d="M198.5 245l4.4-1.4l2.1-3.9l-4.4 1.3z"/>
<path class="m" d="M131 307.1l4.4 -1"/>
<path color="#285783" d="M146.2 295.2l4.4-3.1l2.1-5.9l-4.4 2.8z"/>
<path color="#105958" d="M303.7 268.8l4.4-5.2l2.1-8.3l-4.4 5.6z"/>
<path color="#f7f324" d="M104.4 187.7l1.9 9.4l2.1-10.5l-.5-2.5z"/>
<path class="m" d="M292.8 281.3l4.4 -1.5"/>
<path class="m" d="M157.1 283l4.4 -3.6"/>
<path color="#5fcd85" d="M104.4 245.4l4.4 13.9l2.1-9.6l-4.4-14.3z"/>
<path class="m" d="M240.1 247.8l4.4 3.1"/>
<path class="m" d="M226.9 240.9l4.4 1.8"/>
<path color="#2a7a5f" d="M183.2 256.1l4.4-2.7l2.1-4.3l-4.4 2.6z"/>
<path class="m" d="M108.8 259.3l4.4 11"/>
<path class="m" d="M235.7 245.1l4.4 2.8"/>
<path class="m" d="M231.3 242.8l4.4 2.3"/>
<path class="m" d="M310.1 255.3l4.4 -7.6"/>
<path color="#40a0e8" d="M109 288.7l4.4 7.6l2.1-8.7l-4.4-8.1z"/>
<path class="m" d="M200.6 241l4.4 -1.3"/>
<path color="#625a19" d="M316.6 238.9l4.4-10.4l2.1-9.2l-4.4 10.8z"/>
<path class="m" d="M148.3 289l4.4 -2.8"/>
<path class="m" d="M305.8 260.9l4.4 -5.6"/>
<path class="m" d="M107.9 184.1l0.5 2.5"/>
<path class="m" d="M104.4 245.4l4.4 13.9"/>
<path color="#737111" d="M331.7 186.8l.1-.6l.1-.4z"/>
<path class="m" d="M183.2 256.1l4.4 -2.7"/>
<path color="#3c5590" d="M135.4 306.2l4.4-2l2-6.5l-4.3 1.6z"/>
<path class="m" d="M109 288.7l4.4 7.6"/>
<path class="m" d="M318.7 230.1l4.4 -10.8"/>
<path color="#136d6d" d="M172.4 267.2l4.4-3.4l2.1-4.6l-4.4 3.2z"/>
<path color="#6da74d" d="M202.9 243.6l4.4-.8l2.1-3.9l-4.4 .8z"/>
<path class="m" d="M331.7 186.8l0.1 -0.6"/>
<path color="#2ebbf6" d="M273.1 281.9l4.4 2.9l2.1-6.2l-4.4-2.5z"/>
<path color="#116f88" d="M297.2 279.8l4.4-3l2.1-8l-4.4 3.4z"/>
<path class="m" d="M135.4 306.2l4.4 -2"/>
<path color="#33b4f3" d="M277.5 284.8l4.4 2.2l2.1-6.5l-4.4-1.9z"/>
<path color="#25c2f8" d="M268.7 278.5l4.4 3.4l2.1-5.8l-4.4-3.1z"/>
<path color="#35aeef" d="M281.9 287l4.4 1.3l2.1-6.9l-4.4-.9z"/>
<path color="#10647c" d="M161.5 279.4l4.4-3.7l2.1-5l-4.4 3.4z"/>
<path class="m" d="M174.5 262.4l4.4 -3.2"/>
<path class="m" d="M205 239.7l4.4 -0.8"/>
<path color="#20c6ee" d="M264.4 274.8l4.3 3.7l2.1-5.5l-4.3-3.5z"/>
<path class="m" d="M275.2 276.1l4.4 2.6"/>
<path class="m" d="M297.2 279.8l4.4 -3"/>
<path class="m" d="M279.6 278.6l4.4 1.8"/>
<path color="#388258" d="M187.6 253.4l4.4-2.4l2.1-4.1l-4.4 2.2z"/>
<path color="#f8bd39" d="M102.1 218l4.4 17.4l2.1-10l-4.4-17.9z"/>
<path color="#1f587e" d="M150.6 292.1l4.4-3.5l2.1-5.6l-4.4 3.2z"/>
<path class="m" d="M270.8 273l4.4 3.1"/>
<path class="m" d="M284 280.5l4.4 0.9"/>
<path class="m" d="M161.5 279.4l4.4 -3.7"/>
<path color="#1bcbe4" d="M260 270.8l4.4 4l2.1-5.3l-4.4-3.8z"/>
<path color="#2e9bd5" d="M286.3 288.3l4.4 .2l2.1-7.2l-4.4 .1z"/>
<path color="#7eb54d" d="M207.3 242.8l4.4-.4l2.1-3.8l-4.4 .3z"/>
<path class="m" d="M266.5 269.5l4.4 3.5"/>
<path color="#334e81" d="M139.8 304.2l4.3-2.8l2.1-6.2l-4.4 2.5z"/>
<path color="#785f18" d="M323.1 219.3l4.4-13.3l2.1-9.6l-4.4 13.8z"/>
<path class="m" d="M187.6 253.4l4.4 -2.4"/>
<path class="m" d="M104.2 207.5l4.4 17.9"/>
<path class="m" d="M152.7 286.2l4.4 -3.3"/>
<path color="#23bdf5" d="M104.6 278.5l4.4 10.2l2.1-9.2l-4.4-10.6z"/>
<path color="#22cdd4" d="M255.6 266.7l4.4 4.1l2.1-5.1l-4.4-3.8z"/>
<path class="m" d="M262.1 265.7l4.4 3.7"/>
<path class="m" d="M288.4 281.4l4.4 -0.2"/>
<path class="m" d="M209.4 238.9l4.4 -0.3"/>
<path color="#737111" d="M329.6 196.4l1.6-6.3l.6-3.9l-.1 .6z"/>
<path class="m" d="M139.8 304.2l4.4 -2.8"/>
<path class="m" d="M323.1 219.3l4.4 -13.4"/>
<path color="#3ccba9" d="M102.3 255.5l4.4 13.4l2.1-9.6l-4.4-13.9z"/>
<path color="#1e5a47" d="M308.1 263.6l4.3-7.2l2.1-8.8l-4.3 7.7z"/>
<path color="#1c7165" d="M176.8 263.8l4.4-3.2l2-4.5l-4.3 3.1z"/>
<path color="#8bc24f" d="M211.7 242.4l4.4 .2l2.1-3.8l-4.4-.2z"/>
<path color="#2bcfc3" d="M251.2 262.7l4.4 4l2.1-4.8l-4.4-3.8z"/>
<path class="m" d="M104.6 278.5l4.4 10.2"/>
<path class="m" d="M257.7 261.9l4.4 3.8"/>
<path color="#2385b5" d="M290.7 288.5l4.4-1.1l2.1-7.6l-4.4 1.5z"/>
<path class="m" d="M331.7 186.8l0.1 -0.6"/>
<path color="#488c53" d="M192 251l4.4-2l2.1-4l-4.4 1.9z"/>
<path color="#0c5b65" d="M301.6 276.8l4.4-4.8l2.1-8.4l-4.4 5.2z"/>
<path class="m" d="M104.4 245.4l4.4 13.9"/>
<path class="m" d="M310.1 255.3l4.4 -7.6"/>
<path class="m" d="M178.9 259.2l4.4 -3"/>
<path class="m" d="M213.8 238.6l4.4 0.2"/>
<path color="#3cd0b0" d="M246.8 258.9l4.4 3.8l2.1-4.6l-4.4-3.7z"/>
<path color="#4d5d20" d="M314.5 247.6l4.4-9.9l2.1-9.2l-4.4 10.4z"/>
<path color="#0d6774" d="M165.9 275.7l4.4-3.7l2.1-4.8l-4.4 3.5z"/>
<path class="m" d="M253.3 258.1l4.4 3.8"/>
<path color="#93ce54" d="M216.1 242.6l4.4 .8l2.1-3.8l-4.4-.8z"/>
<path color="#faf026" d="M100.9 191.3l3.3 16.2l2.1-10.4l-1.9-9.4z"/>
<path class="m" d="M292.8 281.3l4.4 -1.5"/>
<path color="#175b7b" d="M155 288.6l4.4-3.9l2.1-5.3l-4.4 3.6z"/>
<path class="m" d="M192 251l4.4 -2"/>
<path class="m" d="M301.6 276.8l4.4 -4.8"/>
<path color="#4cd09f" d="M242.4 255.3l4.4 3.6l2.1-4.5l-4.4-3.4z"/>
<path color="#294e79" d="M144.1 301.4l4.4-3.4l2.1-5.9l-4.4 3.1z"/>
<path class="m" d="M248.9 254.4l4.4 3.7"/>
<path class="m" d="M314.5 247.6l4.4 -9.9"/>
<path color="#94d65b" d="M220.5 243.4l4.3 1.4l2.1-3.9l-4.3-1.3z"/>
<path class="m" d="M165.9 275.7l4.4 -3.7"/>
<path class="m" d="M218.2 238.8l4.4 0.8"/>
<path class="m" d="M100.9 191.3l3.3 16.2"/>
<path color="#5fd28c" d="M238 252l4.4 3.3l2.1-4.3l-4.4-3.2z"/>
<path class="m" d="M157.1 283l4.4 -3.6"/>
<path color="#8cd563" d="M224.8 244.8l4.4 1.9l2.1-3.9l-4.4-1.9z"/>
<path color="#70d47c" d="M233.6 249.1l4.4 2.9l2.1-4.2l-4.4-2.7z"/>
<path class="m" d="M244.5 251l4.4 3.5"/>
<path color="#7fd56e" d="M229.2 246.7l4.4 2.4l2.1-4l-4.4-2.3z"/>
<path color="#d9c638" d="M100 228.4l4.4 17l2.1-10l-4.4-17.4z"/>
<path class="m" d="M144.1 301.4l4.4 -3.4"/>
<path class="m" d="M222.6 239.6l4.4 1.3"/>
<path color="#177093" d="M295.1 287.4l4.4-2.6l2.1-8l-4.4 3z"/>
<path color="#59984f" d="M196.4 249l4.4-1.4l2.1-4l-4.4 1.4z"/>
<path class="m" d="M240.1 247.8l4.4 3.1"/>
<path color="#27775e" d="M181.2 260.6l4.3-2.9l2.1-4.3l-4.4 2.7z"/>
<path class="m" d="M226.9 240.9l4.4 1.8"/>
<path class="m" d="M235.7 245.1l4.4 2.8"/>
<path class="m" d="M231.3 242.8l4.4 2.3"/>
<path class="m" d="M100 228.4l4.4 17"/>
<path color="#3cacf0" d="M275.4 291l4.4 2.5l2.1-6.5l-4.4-2.2z"/>
<path class="m" d="M297.2 279.8l4.4 -3"/>
<path class="m" d="M196.4 249l4.4 -1.5"/>
<path color="#77551d" d="M321 228.5l4.4-12.9l2.1-9.6l-4.4 13.3z"/>
<path color="#35b3f2" d="M271 287.8l4.4 3.2l2.1-6.2l-4.4-2.9z"/>
<path class="m" d="M183.2 256.1l4.4 -2.7"/>
<path color="#3fa5ec" d="M279.8 293.5l4.4 1.6l2.1-6.8l-4.4-1.3z"/>
<path color="#2bbbf6" d="M266.7 284.1l4.3 3.7l2.1-5.9l-4.4-3.4z"/>
<path color="#116a6c" d="M170.3 272l4.4-3.6l2.1-4.6l-4.4 3.4z"/>
<path class="m" d="M275.4 291l4.4 2.5"/>
<path color="#22c9ca" d="M100.2 265.5l4.4 13l2.1-9.6l-4.4-13.4z"/>
<path class="m" d="M323.1 219.3l4.4 -13.4"/>
<path class="m" d="M271 287.8l4.4 3.2"/>
<path color="#3a97da" d="M284.2 295.1l4.4 .6l2.1-7.2l-4.4-.2z"/>
<path class="m" d="M279.8 293.5l4.4 1.6"/>
<path color="#6ba64d" d="M200.8 247.6l4.4-1l2.1-3.8l-4.4 .8z"/>
<path color="#105f79" d="M159.4 284.7l4.4-3.9l2.1-5.1l-4.4 3.7z"/>
<path color="#22c3f3" d="M262.3 280.1l4.4 4l2-5.6l-4.3-3.7z"/>
<path color="#215076" d="M148.5 298l4.4-3.9l2.1-5.5l-4.4 3.5z"/>
<path class="m" d="M266.7 284.1l4.4 3.7"/>
<path class="m" d="M170.3 272l4.4 -3.6"/>
<path color="#135953" d="M306 272l4.4-6.8l2-8.8l-4.3 7.2z"/>
<path class="m" d="M100.2 265.5l4.4 13"/>
<path class="m" d="M284.2 295.1l4.4 0.6"/>
<path class="m" d="M200.8 247.6l4.4 -0.9"/>
<path class="m" d="M161.5 279.4l4.4 -3.7"/>
<path color="#1dc8e8" d="M257.9 275.9l4.4 4.2l2.1-5.3l-4.4-4z"/>
<path class="m" d="M262.3 280.1l4.4 4"/>
<path color="#357f58" d="M185.5 257.7l4.4-2.6l2.1-4.1l-4.4 2.4z"/>
<path class="m" d="M148.5 298l4.4 -3.8"/>
<path color="#385c2e" d="M312.4 256.4l4.4-9.5l2.1-9.2l-4.4 9.9z"/>
<path color="#737111" d="M327.5 206l3.2-11.9l.5-4l-1.6 6.3z"/>
<path class="m" d="M306 272l4.4 -6.8"/>
<path color="#0e5d71" d="M299.5 284.8l4.4-4.4l2.1-8.4l-4.4 4.8z"/>
<path color="#2e82ba" d="M288.6 295.7l4.4-.7l2.1-7.6l-4.4 1.1z"/>
<path color="#7cb44d" d="M205.2 246.6l4.4-.3l2.1-3.9l-4.4 .4z"/>
<path class="m" d="M257.9 275.9l4.4 4.2"/>
<path class="m" d="M187.6 253.4l4.4 -2.4"/>
<path color="#1fccd9" d="M253.5 271.6l4.4 4.3l2.1-5.1l-4.4-4.1z"/>
<path color="#9dce4c" d="M97.9 238.9l4.4 16.6l2.1-10.1l-4.4-17z"/>
<path class="m" d="M314.5 247.6l4.4 -9.9"/>
<path class="m" d="M327.5 206l3.2 -11.9"/>
<path class="m" d="M301.6 276.8l4.4 -4.8"/>
<path class="m" d="M288.6 295.7l4.4 -0.7"/>
<path class="m" d="M205.2 246.6l4.4 -0.4"/>
<path color="#196e64" d="M174.7 268.4l4.4-3.4l2.1-4.4l-4.4 3.2z"/>
<path class="m" d="M253.5 271.6l4.4 4.3"/>
<path color="#27cec8" d="M249.1 267.3l4.4 4.3l2.1-4.9l-4.4-4z"/>
<path class="m" d="M100 228.4l4.4 17"/>
<path color="#8ac250" d="M209.6 246.3l4.4 .2l2.1-3.9l-4.4-.2z"/>
<path color="#fcec28" d="M97.7 197.1l4.4 20.9l2.1-10.5l-3.3-16.2l-2.5 2.5z"/>
<path color="#0d6272" d="M163.8 280.8l4.4-4l2.1-4.8l-4.4 3.7z"/>
<path color="#458953" d="M189.9 255.1l4.4-2l2.1-4.1l-4.4 2z"/>
<path class="m" d="M174.7 268.4l4.4 -3.4"/>
<path color="#195475" d="M152.9 294.1l4.4-4l2.1-5.4l-4.4 3.9z"/>
<path class="m" d="M249.1 267.3l4.4 4.2"/>
<path color="#38cfb5" d="M244.7 263.3l4.4 4l2.1-4.6l-4.4-3.8z"/>
<path color="#216d98" d="M293 295l4.4-2.3l2.1-7.9l-4.4 2.6z"/>
<path color="#71561a" d="M318.9 237.7l4.4-12.5l2.1-9.6l-4.4 12.9z"/>
<path class="m" d="M209.6 246.3l4.4 0.2"/>
<path class="m" d="M100.9 191.3l3.3 16.2"/>
<path color="#93cf55" d="M214 246.5l4.4 .8l2.1-3.9l-4.4-.8z"/>
<path class="m" d="M165.9 275.7l4.4 -3.7"/>
<path class="m" d="M192 251l4.4 -2"/>
<path color="#49d0a2" d="M240.3 259.5l4.4 3.8l2.1-4.4l-4.4-3.6z"/>
<path class="m" d="M152.9 294.1l4.4 -4.1"/>
<path class="m" d="M244.7 263.3l4.4 4"/>
<path class="m" d="M293 295l4.4 -2.2"/>
<path class="m" d="M318.9 237.7l4.4 -12.5"/>
<path color="#94d65c" d="M218.4 247.3l4.4 1.4l2-3.9l-4.3-1.4z"/>
<path color="#5cd28f" d="M235.9 256.1l4.4 3.4l2.1-4.2l-4.4-3.3z"/>
<path class="m" d="M214 246.5l4.4 0.8"/>
<path class="m" d="M240.3 259.5l4.4 3.8"/>
<path color="#45a3eb" d="M273.3 297.2l4.4 2.8l2.1-6.5l-4.4-2.5z"/>
<path color="#8ad564" d="M222.8 248.7l4.3 1.9l2.1-3.9l-4.4-1.9z"/>
<path color="#6ed37e" d="M231.5 253.1l4.4 3l2.1-4.1l-4.4-2.9z"/>
<path color="#499be6" d="M277.7 300l4.4 2l2.1-6.9l-4.4-1.6z"/>
<path color="#7dd56f" d="M227.1 250.6l4.4 2.5l2.1-4l-4.4-2.4z"/>
<path color="#3cabef" d="M269 293.7l4.3 3.5l2.1-6.2l-4.4-3.2z"/>
<path class="m" d="M218.4 247.3l4.4 1.4"/>
<path color="#24745e" d="M179.1 265l4.3-3.1l2.1-4.2l-4.3 2.9z"/>
<path color="#0d585d" d="M303.9 280.4l4.4-6.4l2.1-8.8l-4.4 6.8z"/>
<path color="#56964f" d="M194.3 253.1l4.4-1.6l2.1-3.9l-4.4 1.4z"/>
<path class="m" d="M235.9 256.1l4.4 3.4"/>
<path color="#4691da" d="M282.1 302l4.4 .9l2.1-7.2l-4.4-.6z"/>
<path class="m" d="M275.4 291l4.4 2.5"/>
<path class="m" d="M222.8 248.7l4.4 2"/>
<path class="m" d="M231.5 253.1l4.4 3"/>
<path color="#31b4f2" d="M264.6 289.7l4.4 4l2-5.9l-4.3-3.7z"/>
<path color="#285b3d" d="M310.4 265.2l4.3-9.1l2.1-9.2l-4.4 9.5z"/>
<path class="m" d="M279.8 293.5l4.4 1.6"/>
<path class="m" d="M227.1 250.6l4.4 2.5"/>
<path color="#6ccb75" d="M95.8 249.4l4.4 16.1l2.1-10l-4.4-16.6z"/>
<path class="m" d="M271 287.8l4.4 3.2"/>
<path class="m" d="M179.1 265l4.4 -3.1"/>
<path class="m" d="M306 272l4.4 -6.8"/>
<path class="m" d="M196.4 249l4.4 -1.5"/>
<path color="#ffd133" d="M95.6 208l4.4 20.4l2.1-10.4l-4.4-20.9z"/>
<path color="#135c7a" d="M297.4 292.7l4.4-4l2.1-8.3l-4.4 4.4z"/>
<path color="#10666b" d="M168.2 276.8l4.4-3.8l2.1-4.6l-4.4 3.6z"/>
<path class="m" d="M284.2 295.1l4.4 0.6"/>
<path color="#25c0f7" d="M260.2 285.4l4.4 4.3l2.1-5.6l-4.4-4z"/>
<path class="m" d="M266.7 284.1l4.4 3.7"/>
<path class="m" d="M310.4 265.2l4.4 -9.1"/>
<path color="#115a75" d="M157.3 290.1l4.4-4.3l2.1-5l-4.4 3.9z"/>
<path class="m" d="M95.8 249.4l4.4 16.1"/>
<path color="#3a7dbc" d="M286.5 302.9l4.4-.3l2.1-7.6l-4.4 .7z"/>
<path class="m" d="M95.6 208l4.4 20.5"/>
<path class="m" d="M297.4 292.7l4.4 -4"/>
<path class="m" d="M170.3 272l4.4 -3.6"/>
<path color="#69a44d" d="M198.7 251.5l4.4-1l2.1-3.9l-4.4 1z"/>
<path class="m" d="M262.3 280.1l4.4 4"/>
<path class="m" d="M157.3 290.1l4.4 -4.2"/>
<path color="#1fc6ec" d="M255.8 280.9l4.4 4.5l2.1-5.3l-4.4-4.2z"/>
<path class="m" d="M288.6 295.7l4.4 -0.7"/>
<path color="#655a19" d="M316.8 246.9l4.4-12.1l2.1-9.6l-4.4 12.5z"/>
<path color="#327c58" d="M183.4 261.9l4.4-2.6l2.1-4.2l-4.4 2.6z"/>
<path class="m" d="M200.8 247.6l4.4 -0.9"/>
<path color="#746f12" d="M325.4 215.6l4.4-15.8l.6-2.9l.3-2.8l-3.2 11.9z"/>
<path class="m" d="M257.9 275.9l4.4 4.2"/>
<path color="#1dcbdf" d="M251.4 276.4l4.4 4.5l2.1-5l-4.4-4.3z"/>
<path color="#2b6a9b" d="M290.9 302.6l4.4-1.9l2.1-8l-4.4 2.3z"/>
<path class="m" d="M318.9 237.7l4.4 -12.5"/>
<path class="m" d="M183.4 261.9l4.4 -2.7"/>
<path color="#7bb34d" d="M203.1 250.5l4.4-.4l2.1-3.8l-4.4 .3z"/>
<path color="#f5f124" d="M97.4 194.9l.3 2.2l.7-3.3z"/>
<path class="m" d="M327.5 206l3.2 -11.9"/>
<path class="m" d="M253.5 271.6l4.4 4.3"/>
<path color="#25cdcc" d="M247 272l4.4 4.4l2.1-4.8l-4.4-4.3z"/>
<path color="#166b64" d="M172.6 273l4.4-3.6l2.1-4.4l-4.4 3.4z"/>
<path class="m" d="M293 295l4.4 -2.2"/>
<path class="m" d="M205.2 246.6l4.4 -0.4"/>
<path color="#0d5e70" d="M161.7 285.8l4.4-4.1l2.1-4.9l-4.4 4z"/>
<path color="#ffb73e" d="M93.6 218.9l4.3 20l2.1-10.5l-4.4-20.4z"/>
<path color="#89c250" d="M207.5 250.1l4.4 .2l2.1-3.8l-4.4-.2z"/>
<path class="m" d="M249.1 267.3l4.4 4.2"/>
<path color="#0c5665" d="M301.8 288.7l4.4-6l2.1-8.7l-4.4 6.4z"/>
<path class="m" d="M174.7 268.4l4.4 -3.4"/>
<path color="#34cfb9" d="M242.6 267.7l4.4 4.3l2.1-4.7l-4.4-4z"/>
<path color="#438652" d="M187.8 259.3l4.4-2.2l2.1-4l-4.4 2z"/>
<path color="#1b5a4b" d="M308.3 274l4.3-8.7l2.1-9.2l-4.3 9.1z"/>
<path class="m" d="M161.7 285.8l4.4 -4.2"/>
<path class="m" d="M95.6 208l4.4 20.5"/>
<path color="#5291df" d="M275.6 306.5l4.4 2.3l2.1-6.8l-4.4-2z"/>
<path class="m" d="M209.6 246.3l4.4 0.2"/>
<path color="#4c99e5" d="M271.2 303.4l4.4 3.1l2.1-6.5l-4.4-2.8z"/>
<path class="m" d="M301.8 288.7l4.4 -6"/>
<path color="#46d0a5" d="M238.2 263.8l4.4 3.9l2.1-4.4l-4.4-3.8z"/>
<path class="m" d="M244.7 263.3l4.4 4"/>
<path color="#93cf55" d="M211.9 250.3l4.4 .8l2.1-3.8l-4.4-.8z"/>
<path class="m" d="M187.8 259.3l4.4 -2.2"/>
<path class="m" d="M310.4 265.2l4.4 -9.1"/>
<path color="#5289d9" d="M280 308.8l4.4 1.3l2.1-7.2l-4.4-.9z"/>
<path color="#43a2ea" d="M266.9 299.5l4.3 3.9l2.1-6.2l-4.3-3.5z"/>
<path color="#1c597d" d="M295.3 300.7l4.4-3.6l2.1-8.4l-4.4 4z"/>
<path class="m" d="M275.6 306.5l4.4 2.3"/>
<path color="#59d192" d="M233.8 260.2l4.4 3.6l2.1-4.3l-4.4-3.4z"/>
<path class="m" d="M271.2 303.4l4.4 3.2"/>
<path color="#93d65c" d="M216.3 251.1l4.4 1.4l2.1-3.8l-4.4-1.4z"/>
<path class="m" d="M240.3 259.5l4.4 3.8"/>
<path color="#776615" d="M323.3 225.2l4.4-15.4l2.1-10l-4.4 15.8z"/>
<path class="m" d="M214 246.5l4.4 0.8"/>
<path class="m" d="M280 308.8l4.4 1.3"/>
<path color="#37adef" d="M262.5 295.3l4.4 4.2l2.1-5.8l-4.4-4z"/>
<path color="#6bd380" d="M229.4 257.2l4.4 3l2.1-4.1l-4.4-3z"/>
<path color="#f5f124" d="M93.9 198.5l1.7 9.5l2.1-10.9l-.3-2.2z"/>
<path class="m" d="M266.9 299.5l4.4 3.8"/>
<path color="#89d565" d="M220.7 252.5l4.4 2.1l2-4l-4.3-1.9z"/>
<path class="m" d="M297.4 292.7l4.4 -4"/>
<path color="#7bd471" d="M225.1 254.6l4.3 2.6l2.1-4.1l-4.4-2.5z"/>
<path color="#4577bd" d="M284.4 310.1l4.4 0l2.1-7.5l-4.4 .3z"/>
<path color="#22705d" d="M177 269.4l4.4-3.2l2-4.3l-4.3 3.1z"/>
<path color="#505d1f" d="M314.7 256.1l4.4-11.7l2.1-9.6l-4.4 12.1z"/>
<path class="m" d="M235.9 256.1l4.4 3.4"/>
<path class="m" d="M218.4 247.3l4.4 1.4"/>
<path color="#54934f" d="M192.2 257.1l4.4-1.7l2.1-3.9l-4.4 1.6z"/>
<path class="m" d="M323.3 225.2l4.4 -15.4"/>
<path class="m" d="M262.5 295.3l4.4 4.3"/>
<path class="m" d="M231.5 253.1l4.4 3"/>
<path class="m" d="M93.9 198.5l1.7 9.5"/>
<path class="m" d="M222.8 248.7l4.4 2"/>
<path color="#2ab9f4" d="M258.1 290.7l4.4 4.6l2.1-5.6l-4.4-4.3z"/>
<path class="m" d="M227.1 250.6l4.4 2.5"/>
<path class="m" d="M284.4 310.1l4.4 0"/>
<path class="m" d="M179.1 265l4.4 -3.1"/>
<path color="#0e636a" d="M166.1 281.7l4.4-4.1l2.1-4.6l-4.4 3.8z"/>
<path class="m" d="M314.7 256.1l4.4 -11.7"/>
<path class="m" d="M192.2 257.1l4.4 -1.6"/>
<path class="m" d="M258.1 290.7l4.4 4.6"/>
<path color="#edbd36" d="M91.5 229.8l4.3 19.6l2.1-10.5l-4.3-20z"/>
<path class="m" d="M166.1 281.7l4.4 -4"/>
<path color="#35659d" d="M288.8 310.1l4.4-1.4l2.1-8l-4.4 1.9z"/>
<path color="#20c3f0" d="M253.7 286l4.4 4.7l2.1-5.3l-4.4-4.5z"/>
<path color="#737111" d="M329.8 199.8l.4-1.8l.2-1.1z"/>
<path color="#67a24d" d="M196.6 255.4l4.4-1l2.1-3.9l-4.4 1z"/>
<path class="m" d="M91.5 229.8l4.4 19.6"/>
<path class="m" d="M288.8 310.1l4.4 -1.5"/>
<path class="m" d="M253.7 286l4.4 4.7"/>
<path color="#2f7958" d="M181.4 266.2l4.3-2.8l2.1-4.1l-4.4 2.6z"/>
<path color="#10516a" d="M299.7 297.1l4.4-5.6l2.1-8.8l-4.4 6z"/>
<path color="#1acae4" d="M249.3 281.2l4.4 4.8l2.1-5.1l-4.4-4.5z"/>
<path color="#105957" d="M306.2 282.7l4.4-8.2l2-9.2l-4.3 8.7z"/>
<path class="m" d="M196.6 255.4l4.4 -1.1"/>
<path class="m" d="M183.4 261.9l4.4 -2.7"/>
<path class="m" d="M301.8 288.7l4.4 -6"/>
<path class="m" d="M249.3 281.2l4.4 4.7"/>
<path class="m" d="M306.2 282.7l4.4 -8.3"/>
<path color="#7ab24d" d="M201 254.4l4.4-.5l2.1-3.8l-4.4 .4z"/>
<path color="#785b1b" d="M321.2 234.8l4.4-15l2.1-10l-4.4 15.4z"/>
<path color="#23cdd1" d="M244.9 276.6l4.4 4.6l2.1-4.8l-4.4-4.4z"/>
<path color="#136763" d="M170.5 277.6l4.4-3.7l2.1-4.5l-4.4 3.6z"/>
<path color="#25557f" d="M293.2 308.7l4.4-3.2l2.1-8.4l-4.4 3.6z"/>
<path color="#5a86d8" d="M273.5 313l4.4 2.7l2.1-6.9l-4.4-2.3z"/>
<path color="#395c2d" d="M312.6 265.3l4.4-11.3l2.1-9.6l-4.4 11.7z"/>
<path class="m" d="M201 254.4l4.4 -0.4"/>
<path class="m" d="M323.3 225.2l4.4 -15.4"/>
<path color="#538ede" d="M269.2 309.5l4.3 3.5l2.1-6.5l-4.4-3.1z"/>
<path color="#5981d4" d="M277.9 315.7l4.4 1.6l2.1-7.2l-4.4-1.3z"/>
<path class="m" d="M244.9 276.6l4.4 4.6"/>
<path class="m" d="M170.5 277.6l4.4 -3.8"/>
<path color="#30cfbd" d="M240.5 272.2l4.4 4.4l2.1-4.6l-4.4-4.3z"/>
<path class="m" d="M293.2 308.7l4.4 -3.2"/>
<path color="#89c150" d="M205.4 253.9l4.4 .2l2.1-3.8l-4.4-.2z"/>
<path class="m" d="M275.6 306.5l4.4 2.3"/>
<path color="#f8ed26" d="M90.5 202.1l3.1 16.8l2-10.9l-1.7-9.5z"/>
<path color="#4999e4" d="M264.8 305.4l4.4 4.1l2-6.1l-4.3-3.9z"/>
<path color="#408452" d="M185.7 263.4l4.4-2.3l2.1-4l-4.4 2.2z"/>
<path class="m" d="M314.7 256.1l4.4 -11.7"/>
<path class="m" d="M271.2 303.4l4.4 3.2"/>
<path class="m" d="M280 308.8l4.4 1.3"/>
<path color="#4f72bf" d="M282.3 317.3l4.4 .4l2.1-7.6l-4.4 0z"/>
<path color="#737111" d="M327.7 209.8l1.9-7.9l.6-3.9l-.4 1.8z"/>
<path class="m" d="M240.5 272.2l4.4 4.4"/>
<path color="#43d0a8" d="M236.1 268.1l4.4 4.1l2.1-4.5l-4.4-3.9z"/>
<path class="m" d="M205.4 253.9l4.4 0.2"/>
<path class="m" d="M93.9 198.5l1.7 9.5"/>
<path class="m" d="M266.9 299.5l4.4 3.8"/>
<path class="m" d="M187.8 259.3l4.4 -2.2"/>
<path color="#92cf56" d="M209.8 254.1l4.4 .8l2.1-3.8l-4.4-.8z"/>
<path color="#3da6ec" d="M260.4 300.9l4.4 4.5l2.1-5.9l-4.4-4.2z"/>
<path class="m" d="M284.4 310.1l4.4 0"/>
<path class="m" d="M327.7 209.8l1.9 -7.9"/>
<path color="#55d195" d="M231.7 264.4l4.4 3.7l2.1-4.3l-4.4-3.6z"/>
<path class="m" d="M236.1 268.1l4.4 4.1"/>
<path color="#92d65d" d="M214.2 254.9l4.4 1.5l2.1-3.9l-4.4-1.4z"/>
<path class="m" d="M209.8 254.1l4.4 0.8"/>
<path class="m" d="M262.5 295.3l4.4 4.3"/>
<path color="#69d382" d="M227.3 261.2l4.4 3.2l2.1-4.2l-4.4-3z"/>
<path color="#405f9e" d="M286.7 317.7l4.4-1.1l2.1-7.9l-4.4 1.4z"/>
<path color="#1f6e5c" d="M174.9 273.9l4.4-3.4l2.1-4.3l-4.4 3.2z"/>
<path color="#88d566" d="M218.6 256.4l4.4 2.1l2.1-3.9l-4.4-2.1z"/>
<path color="#79d472" d="M223 258.5l4.3 2.7l2.1-4l-4.3-2.6z"/>
<path color="#2fb3f1" d="M256 296l4.4 4.9l2.1-5.6l-4.4-4.6z"/>
<path class="m" d="M231.7 264.4l4.4 3.7"/>
<path color="#52914f" d="M190.1 261.1l4.4-1.7l2.1-4l-4.4 1.7z"/>
<path color="#0b5762" d="M304.1 291.5l4.4-7.9l2.1-9.1l-4.4 8.2z"/>
<path class="m" d="M214.2 254.9l4.4 1.5"/>
<path color="#164a67" d="M297.6 305.5l4.4-5.2l2.1-8.8l-4.4 5.6z"/>
<path class="m" d="M227.3 261.2l4.4 3.2"/>
<path class="m" d="M288.8 310.1l4.4 -1.5"/>
<path class="m" d="M174.9 273.9l4.4 -3.4"/>
<path class="m" d="M218.6 256.4l4.4 2.1"/>
<path class="m" d="M223 258.5l4.4 2.7"/>
<path class="m" d="M258.1 290.7l4.4 4.6"/>
<path color="#74551b" d="M319.1 244.4l4.4-14.5l2.1-10.1l-4.4 15z"/>
<path class="m" d="M192.2 257.1l4.4 -1.6"/>
<path class="m" d="M306.2 282.7l4.4 -8.3"/>
<path color="#22c0f4" d="M251.6 291l4.4 5l2.1-5.3l-4.4-4.7z"/>
<path class="m" d="M297.6 305.5l4.4 -5.2"/>
<path class="m" d="M319.1 244.4l4.4 -14.5"/>
<path color="#285b3e" d="M310.6 274.5l4.3-10.9l2.1-9.6l-4.4 11.3z"/>
<path class="m" d="M253.7 286l4.4 4.7"/>
<path color="#2e507f" d="M291.1 316.6l4.4-2.8l2.1-8.3l-4.4 3.2z"/>
<path color="#65a14d" d="M194.5 259.4l4.4-1.2l2.1-3.8l-4.4 1z"/>
<path color="#1cc8e7" d="M247.2 286l4.4 5l2.1-5l-4.4-4.8z"/>
<path class="m" d="M310.6 274.5l4.4 -10.8"/>
<path color="#2c7657" d="M179.3 270.5l4.3-3l2.1-4.1l-4.3 2.8z"/>
<path class="m" d="M293.2 308.7l4.4 -3.2"/>
<path class="m" d="M196.6 255.4l4.4 -1.1"/>
<path color="#5c80d4" d="M271.4 319.5l4.4 3l2.1-6.8l-4.4-2.7z"/>
<path color="#5d7bd1" d="M275.8 322.5l4.4 2l2.1-7.2l-4.4-1.6z"/>
<path class="m" d="M249.3 281.2l4.4 4.7"/>
<path class="m" d="M179.3 270.5l4.4 -2.9"/>
<path color="#5984d7" d="M267.1 315.7l4.3 3.8l2.1-6.5l-4.3-3.5z"/>
<path color="#20ccd5" d="M242.8 281.2l4.4 4.8l2.1-4.8l-4.4-4.6z"/>
<path color="#5570c2" d="M280.2 324.5l4.4 .8l2.1-7.6l-4.4-.4z"/>
<path class="m" d="M271.4 319.5l4.4 3"/>
<path color="#78b14d" d="M198.9 258.2l4.4-.4l2.1-3.9l-4.4 .5z"/>
<path class="m" d="M275.8 322.5l4.4 2"/>
<path color="#4e90de" d="M262.7 311.3l4.4 4.4l2.1-6.2l-4.4-4.1z"/>
<path color="#747011" d="M325.6 219.8l3.4-13.9l.6-4l-1.9 7.9z"/>
<path class="m" d="M267.1 315.7l4.4 3.8"/>
<path class="m" d="M244.9 276.6l4.4 4.6"/>
<path class="m" d="M280.2 324.5l4.4 0.8"/>
<path color="#2ccec1" d="M238.4 276.6l4.4 4.6l2.1-4.6l-4.4-4.4z"/>
<path class="m" d="M201 254.4l4.4 -0.4"/>
<path color="#faea28" d="M87.1 206.3l4.4 23.5l2.1-10.9l-3.1-16.8l-3.3 3.3z"/>
<path class="m" d="M262.7 311.3l4.4 4.4"/>
<path class="m" d="M327.7 209.8l1.9 -7.9"/>
<path color="#0e5469" d="M302 300.3l4.4-7.5l2.1-9.2l-4.4 7.9z"/>
<path color="#455ea2" d="M284.6 325.3l4.4-.7l2.1-8l-4.4 1.1z"/>
<path color="#6a5818" d="M317 254l4.4-14.1l2.1-10l-4.4 14.5z"/>
<path color="#88c151" d="M203.3 257.8l4.4 .1l2.1-3.8l-4.4-.2z"/>
<path color="#3d8152" d="M183.6 267.5l4.4-2.4l2.1-4l-4.4 2.3z"/>
<path color="#429ee7" d="M258.3 306.4l4.4 4.9l2.1-5.9l-4.4-4.5z"/>
<path color="#1e4667" d="M295.5 313.8l4.4-4.8l2.1-8.7l-4.4 5.2z"/>
<path class="m" d="M240.5 272.2l4.4 4.4"/>
<path class="m" d="M87.1 206.3l4.4 23.4"/>
<path color="#40cfac" d="M234 272.3l4.4 4.3l2.1-4.4l-4.4-4.1z"/>
<path class="m" d="M302 300.3l4.4 -7.4"/>
<path class="m" d="M284.6 325.3l4.4 -0.7"/>
<path class="m" d="M319.1 244.4l4.4 -14.5"/>
<path class="m" d="M205.4 253.9l4.4 0.2"/>
<path class="m" d="M183.7 267.5l4.4 -2.4"/>
<path class="m" d="M258.3 306.4l4.4 4.9"/>
<path class="m" d="M297.6 305.5l4.4 -5.2"/>
<path color="#92cf56" d="M207.7 257.9l4.4 .9l2.1-3.9l-4.4-.8z"/>
<path color="#195a4c" d="M308.5 283.6l4.4-10.4l2-9.6l-4.3 10.9z"/>
<path color="#52d198" d="M229.6 268.5l4.4 3.8l2.1-4.2l-4.4-3.7z"/>
<path class="m" d="M236.1 268.1l4.4 4.1"/>
<path color="#34adee" d="M253.9 301.3l4.4 5.1l2.1-5.5l-4.4-4.9z"/>
<path color="#91d65e" d="M212.1 258.8l4.4 1.5l2.1-3.9l-4.4-1.5z"/>
<path color="#67d384" d="M225.3 265.2l4.3 3.3l2.1-4.1l-4.4-3.2z"/>
<path class="m" d="M209.8 254.1l4.4 0.8"/>
<path class="m" d="M310.6 274.5l4.4 -10.8"/>
<path color="#87d567" d="M216.5 260.3l4.4 2.1l2.1-3.9l-4.4-2.1z"/>
<path class="m" d="M231.7 264.4l4.4 3.7"/>
<path color="#78d474" d="M220.9 262.4l4.4 2.8l2-4l-4.3-2.7z"/>
<path color="#354d81" d="M289 324.6l4.4-2.4l2.1-8.4l-4.4 2.8z"/>
<path class="m" d="M253.9 301.3l4.4 5.1"/>
<path color="#4f8f4f" d="M188 265.1l4.4-1.8l2.1-3.9l-4.4 1.7z"/>
<path class="m" d="M214.2 254.9l4.4 1.5"/>
<path class="m" d="M227.3 261.2l4.4 3.2"/>
<path color="#25bdf5" d="M249.5 296.1l4.4 5.2l2.1-5.3l-4.4-5z"/>
<path class="m" d="M218.6 256.4l4.4 2.1"/>
<path class="m" d="M223 258.5l4.4 2.7"/>
<path class="m" d="M289 324.6l4.4 -2.4"/>
<path class="m" d="M188 265.1l4.4 -1.8"/>
<path class="m" d="M249.5 296.1l4.4 5.2"/>
<path color="#1dc6ea" d="M245.1 290.9l4.4 5.2l2.1-5.1l-4.4-5z"/>
<path color="#595c1c" d="M314.9 263.6l4.4-13.7l2.1-10l-4.4 14.1z"/>
<path color="#639f4d" d="M192.4 263.3l4.4-1.2l2.1-3.9l-4.4 1.2z"/>
<path color="#144d68" d="M299.9 309l4.4-7l2.1-9.2l-4.4 7.5z"/>
<path class="m" d="M245.1 290.9l4.4 5.2"/>
<path class="m" d="M314.9 263.6l4.4 -13.7"/>
<path color="#264067" d="M293.4 322.2l4.4-4.4l2.1-8.8l-4.4 4.8z"/>
<path class="m" d="M192.4 263.3l4.4 -1.2"/>
<path color="#1ecbda" d="M240.7 285.8l4.4 5.1l2.1-4.9l-4.4-4.8z"/>
<path class="m" d="M302 300.3l4.4 -7.4"/>
<path color="#0f5959" d="M306.4 292.8l4.4-10l2.1-9.6l-4.4 10.4z"/>
<path color="#756e12" d="M323.5 229.9l4.4-17.7l.8-3.8l.3-2.5l-3.4 13.9z"/>
<path class="m" d="M293.4 322.2l4.4 -4.4"/>
<path color="#77b04e" d="M196.8 262.1l4.4-.5l2.1-3.8l-4.4 .4z"/>
<path class="m" d="M240.7 285.8l4.4 5.1"/>
<path color="#f3ef23" d="M87 205.7l.1 .6l.1-.9z"/>
<path class="m" d="M306.4 292.8l4.4 -10"/>
<path color="#28cec5" d="M236.3 281l4.4 4.8l2.1-4.6l-4.4-4.6z"/>
<path class="m" d="M323.5 229.9l4.4 -17.7"/>
<path class="m" d="M196.8 262.1l4.4 -0.5"/>
<path class="m" d="M87 205.7l0.1 0.6"/>
<path class="m" d="M236.3 281l4.4 4.8"/>
<path color="#87c151" d="M201.2 261.6l4.4 .2l2.1-3.9l-4.4-.1z"/>
<path color="#3ccfaf" d="M231.9 276.6l4.4 4.4l2.1-4.4l-4.4-4.3z"/>
<path class="m" d="M201.2 261.6l4.4 0.2"/>
<path class="m" d="M231.9 276.6l4.4 4.4"/>
<path color="#91cf57" d="M205.6 261.8l4.4 .8l2.1-3.8l-4.4-.9z"/>
<path color="#4fd09b" d="M227.6 272.7l4.3 3.9l2.1-4.3l-4.4-3.8z"/>
<path color="#3e5d2a" d="M312.9 273.2l4.3-13.2l2.1-10.1l-4.4 13.7z"/>
<path color="#65d286" d="M223.2 269.2l4.4 3.5l2-4.2l-4.3-3.3z"/>
<path color="#90d55e" d="M210 262.6l4.4 1.6l2.1-3.9l-4.4-1.5z"/>
<path class="m" d="M205.6 261.8l4.4 0.9"/>
<path class="m" d="M227.6 272.7l4.4 4"/>
<path color="#1b4564" d="M297.8 317.8l4.4-6.6l2.1-9.2l-4.4 7z"/>
<path color="#76d475" d="M218.8 266.4l4.4 2.8l2.1-4l-4.4-2.8z"/>
<path color="#86d568" d="M214.4 264.2l4.4 2.2l2.1-4l-4.4-2.1z"/>
<path color="#776217" d="M321.4 239.9l4.4-17.3l2.1-10.4l-4.4 17.7z"/>
<path class="m" d="M314.9 263.6l4.4 -13.7"/>
<path class="m" d="M223.2 269.2l4.4 3.4"/>
<path class="m" d="M210 262.6l4.4 1.5"/>
<path class="m" d="M297.8 317.8l4.4 -6.6"/>
<path class="m" d="M218.8 266.4l4.4 2.8"/>
<path class="m" d="M214.4 264.2l4.4 2.2"/>
<path class="m" d="M323.5 229.9l4.4 -17.7"/>
<path color="#0b5764" d="M304.3 302l4.4-9.6l2.1-9.6l-4.4 10z"/>
<path class="m" d="M306.4 292.8l4.4 -10"/>
<path color="#737111" d="M327.9 212.2l.5-2.4l.3-1.4z"/>
<path color="#2a5b3b" d="M310.8 282.8l4.3-12.8l2.1-10l-4.3 13.2z"/>
<path class="m" d="M327.9 212.2l0.5 -2.4"/>
<path color="#77571c" d="M319.3 249.9l4.4-16.8l2.1-10.5l-4.4 17.3z"/>
<path class="m" d="M310.8 282.8l4.4 -12.8"/>
<path class="m" d="M319.3 249.9l4.4 -16.8"/>
<path color="#0f526a" d="M302.2 311.2l4.4-9.2l2.1-9.6l-4.4 9.6z"/>
<path class="m" d="M302.2 311.2l4.4 -9.1"/>
<path color="#737111" d="M325.8 222.6l1.9-8.9l.7-3.9l-.5 2.4z"/>
<path class="m" d="M327.9 212.2l0.5 -2.4"/>
<path color="#1a5a4b" d="M308.7 292.4l4.4-12.4l2-10l-4.3 12.8z"/>
<path color="#71561a" d="M317.2 260l4.4-16.4l2.1-10.5l-4.4 16.8z"/>
<path class="m" d="M310.8 282.8l4.4 -12.8"/>
<path class="m" d="M319.3 249.9l4.4 -16.8"/>
<path color="#0f5959" d="M306.6 302l4.4-11.9l2.1-10.1l-4.4 12.4z"/>
<path color="#635a19" d="M315.1 270l4.4-16l2.1-10.4l-4.4 16.4z"/>
<path color="#746f12" d="M323.7 233.1l3.4-15.4l.6-4l-1.9 8.9z"/>
<path class="m" d="M306.6 302l4.4 -12"/>
<path class="m" d="M315.1 270l4.4 -16"/>
<path class="m" d="M323.7 233.1l3.3 -15.4"/>
<path color="#475e22" d="M313.1 280l4.3-15.5l2.1-10.5l-4.4 16z"/>
<path class="m" d="M315.1 270l4.4 -16"/>
<path color="#756e12" d="M321.6 243.6l4.4-19.9l.6-3.3l.5-2.7l-3.4 15.4z"/>
<path class="m" d="M323.7 233.1l3.3 -15.4"/>
<path color="#315c35" d="M311 290.1l4.3-15.2l2.1-10.4l-4.3 15.5z"/>
<path class="m" d="M311 290.1l4.4 -15.1"/>
<path color="#776118" d="M319.5 254l4.4-19.4l2.1-10.9l-4.4 19.9z"/>
<path class="m" d="M319.5 254l4.4 -19.4"/>
<path color="#595812" d="M326 223.7l.4-2.1l.2-1.2z"/>
<path color="#76551d" d="M317.4 264.5l4.4-19l2.1-10.9l-4.4 19.4z"/>
<path class="m" d="M319.5 254l4.4 -19.4"/>
<path color="#595812" d="M323.9 234.6l1.7-9.1l.8-3.9l-.4 2.1z"/>
<path color="#6d5719" d="M315.3 274.9l4.4-18.5l2.1-10.9l-4.4 19z"/>
<path class="m" d="M323.9 234.6l1.7 -9.1"/>
<path class="m" d="M315.3 274.9l4.4 -18.6"/>
<path color="#746f12" d="M321.8 245.5l3.1-16.1l.7-3.9l-1.7 9.1z"/>
<path class="m" d="M323.9 234.6l1.7 -9.1"/>
<path color="#756e12" d="M319.7 256.4l4.4-22.4l.2-1l.6-3.6l-3.1 16.1z"/>
<path class="m" d="M319.7 256.4l4.4 -22.4"/>
<path color="#595812" d="M324.1 234l.1-.6l.1-.4z"/>
<path class="m" d="M324.1 234l0.1 -0.6"/>
</g>
<path d="M127.9 307.1 L130.2 302 L132.6 296.9 L134.9 291.9 L137.3 286.9 L139.7 282 L142.1 277.1 L144.5 272.3 L147 267.6 L149.4 262.9 L151.9 258.2 L154.4 253.6 L157 249.1 L159.6 244.7 L162.2 240.3 L164.8 235.9 L167.5 231.7 L170.2 227.4 L172.9 223.3 L175.7 219.2 L178.5 215.2 L181.3 211.3 L184.2 207.4 L187.2 203.6 L190.2 199.8 L193.3 196.1 L196.5 192.6 L199.7 189 L203 185.6 L206.4 182.2 L210 178.9 L213.6 175.8 L217.4 172.6 L221.5 169.6 L225.7 166.7 L230.3 163.9 L235.3 161.2 L241 158.7 L248.1 156.4 L263.1 155.2 L263.1 155.2 L275.2 159.6 L279.2 163.2 L282 166.7 L284.1 170.2 L285.7 173.7 L287 177.3 L288.1 180.9 L289 184.5 L289.7 188.2 L290.3 192 L290.7 195.8 L291.1 199.7 L291.4 203.6 L291.6 207.6 L291.7 211.6 L291.8 215.8 L291.8 219.9 L291.8 224.1 L291.7 228.4 L291.5 232.7 L291.4 237.1 L291.2 241.6 L290.9 246 L290.6 250.6 L290.3 255.2 L290 259.9 L289.6 264.6 L289.2 269.4 L288.7 274.2 L288.3 279 L287.8 284 L287.3 288.9 L286.8 294 L286.3 299.1 L285.7 304.2 L285.1 309.4 L284.5 314.6 L283.9 319.9 L283.3 325.2" stroke="#b4b4b4" stroke-width="3.2" fill="none" stroke-linejoin="round"/>
<path d="M263.1 155.2 L272.6 136.8" stroke="#b4b4b4" stroke-width="3.2" fill="none"/>
<path d="M127.9 307.1 L130.2 302 L132.6 296.9 L134.9 291.9 L137.3 286.9 L139.7 282 L142.1 277.1 L144.5 272.3 L147 267.6 L149.4 262.9 L151.9 258.2 L154.4 253.6 L157 249.1 L159.6 244.7 L162.2 240.3 L164.8 235.9 L167.5 231.7 L170.2 227.4 L172.9 223.3 L175.7 219.2 L178.5 215.2 L181.3 211.3 L184.2 207.4 L187.2 203.6 L190.2 199.8 L193.3 196.1 L196.5 192.6 L199.7 189 L203 185.6 L206.4 182.2 L210 178.9 L213.6 175.8 L217.4 172.6 L221.5 169.6 L225.7 166.7 L230.3 163.9 L235.3 161.2 L241 158.7 L248.1 156.4 L263.1 155.2 L263.1 155.2 L275.2 159.6 L279.2 163.2 L282 166.7 L284.1 170.2 L285.7 173.7 L287 177.3 L288.1 180.9 L289 184.5 L289.7 188.2 L290.3 192 L290.7 195.8 L291.1 199.7 L291.4 203.6 L291.6 207.6 L291.7 211.6 L291.8 215.8 L291.8 219.9 L291.8 224.1 L291.7 228.4 L291.5 232.7 L291.4 237.1 L291.2 241.6 L290.9 246 L290.6 250.6 L290.3 255.2 L290 259.9 L289.6 264.6 L289.2 269.4 L288.7 274.2 L288.3 279 L287.8 284 L287.3 288.9 L286.8 294 L286.3 299.1 L285.7 304.2 L285.1 309.4 L284.5 314.6 L283.9 319.9 L283.3 325.2" stroke="#e8202a" stroke-width="3.3" fill="none" stroke-dasharray="10 6"/>
<path d="M73.9 204.2 L73.9 314.8 L337.3 345.5 L404.3 225.2" stroke="#3c3c3c" stroke-width="1.6" fill="none"/>
<path d="M66.9 314.8L73.9 314.8" stroke="#3c3c3c" stroke-width="1.6" fill="none"/>
<path d="M66.9 248.4L73.9 248.4" stroke="#3c3c3c" stroke-width="1.6" fill="none"/>
<path d="M73.9 314.8L71 320" stroke="#3c3c3c" stroke-width="1.6" fill="none"/>
<path d="M139.8 322.5L136.8 327.7" stroke="#3c3c3c" stroke-width="1.6" fill="none"/>
<path d="M205.6 330.2L202.7 335.4" stroke="#3c3c3c" stroke-width="1.6" fill="none"/>
<path d="M271.4 337.8L268.5 343.1" stroke="#3c3c3c" stroke-width="1.6" fill="none"/>
<path d="M337.3 345.5L334.4 350.7" stroke="#3c3c3c" stroke-width="1.6" fill="none"/>
<path d="M350.2 322.3L357.2 323.1" stroke="#3c3c3c" stroke-width="1.6" fill="none"/>
<path d="M373.7 280.1L380.7 280.9" stroke="#3c3c3c" stroke-width="1.6" fill="none"/>
<path d="M397.2 237.9L404.2 238.7" stroke="#3c3c3c" stroke-width="1.6" fill="none"/>
<text x="-1.8" y="26.5" font-size="36" font-weight="bold" fill="#000">(a)</text>
<text x="188.3" y="32.9" font-size="40" fill="#000">F(ψ, T</text>
<text x="299.8" y="45.6" font-size="23" fill="#000">e</text>
<text x="314.6" y="32.9" font-size="40" fill="#000">)</text>
<defs><linearGradient id="cba"><stop offset="0.000" stop-color="#5455a7"/><stop offset="0.016" stop-color="#5457a8"/><stop offset="0.032" stop-color="#5358aa"/><stop offset="0.048" stop-color="#535aab"/><stop offset="0.063" stop-color="#535cad"/><stop offset="0.079" stop-color="#525daf"/><stop offset="0.095" stop-color="#525fb0"/><stop offset="0.111" stop-color="#5162b2"/><stop offset="0.127" stop-color="#5066b5"/><stop offset="0.143" stop-color="#4f69b7"/><stop offset="0.159" stop-color="#4e6cb9"/><stop offset="0.175" stop-color="#4d6fbb"/><stop offset="0.190" stop-color="#4c72bd"/><stop offset="0.206" stop-color="#4977c1"/><stop offset="0.222" stop-color="#457dc5"/><stop offset="0.238" stop-color="#4183c9"/><stop offset="0.254" stop-color="#3d89cc"/><stop offset="0.270" stop-color="#398fd0"/><stop offset="0.286" stop-color="#3494d3"/><stop offset="0.302" stop-color="#2f99d6"/><stop offset="0.317" stop-color="#2a9fd8"/><stop offset="0.333" stop-color="#26a4da"/><stop offset="0.349" stop-color="#21a9dd"/><stop offset="0.365" stop-color="#1daddc"/><stop offset="0.381" stop-color="#1bb0d8"/><stop offset="0.397" stop-color="#19b2d3"/><stop offset="0.413" stop-color="#17b5cf"/><stop offset="0.429" stop-color="#18b7c9"/><stop offset="0.444" stop-color="#1bb8c2"/><stop offset="0.460" stop-color="#1fb9bb"/><stop offset="0.476" stop-color="#22bab4"/><stop offset="0.492" stop-color="#29baab"/><stop offset="0.508" stop-color="#31bba3"/><stop offset="0.524" stop-color="#39bb9a"/><stop offset="0.540" stop-color="#41bc92"/><stop offset="0.556" stop-color="#49bc89"/><stop offset="0.571" stop-color="#54bd7f"/><stop offset="0.587" stop-color="#5ebe75"/><stop offset="0.603" stop-color="#68bf6b"/><stop offset="0.619" stop-color="#74c061"/><stop offset="0.635" stop-color="#80c157"/><stop offset="0.651" stop-color="#8dc24d"/><stop offset="0.667" stop-color="#9bc244"/><stop offset="0.683" stop-color="#acc13f"/><stop offset="0.698" stop-color="#bebf39"/><stop offset="0.714" stop-color="#c9bd36"/><stop offset="0.730" stop-color="#d2bb34"/><stop offset="0.746" stop-color="#dbb932"/><stop offset="0.762" stop-color="#e2b734"/><stop offset="0.778" stop-color="#e9b435"/><stop offset="0.794" stop-color="#f0b237"/><stop offset="0.810" stop-color="#f3b139"/><stop offset="0.825" stop-color="#f5b03b"/><stop offset="0.841" stop-color="#f7b23b"/><stop offset="0.857" stop-color="#f9b939"/><stop offset="0.873" stop-color="#fabf37"/><stop offset="0.889" stop-color="#f9c534"/><stop offset="0.905" stop-color="#f9cb30"/><stop offset="0.921" stop-color="#f8d22c"/><stop offset="0.937" stop-color="#f7d82b"/><stop offset="0.952" stop-color="#f5df29"/><stop offset="0.968" stop-color="#f4e327"/><stop offset="0.984" stop-color="#f2e725"/><stop offset="1.000" stop-color="#f1ea24"/></linearGradient></defs>
<rect x="103.9" y="48.2" width="298.3" height="15.2" fill="url(#cba)" stroke="#000" stroke-width="1.8"/>
<path d="M196.4 63.4L196.4 60.4" stroke="#000" stroke-width="1.2" fill="none"/>
<path d="M288.9 63.4L288.9 60.4" stroke="#000" stroke-width="1.2" fill="none"/>
<path d="M362.8 63.4L362.8 60.4" stroke="#000" stroke-width="1.2" fill="none"/>
<text x="88.1" y="92.8" font-size="32" fill="#000">-1</text>
<text x="164.6" y="92.9" font-size="32" fill="#000">-0.5</text>
<text x="277.2" y="92.9" font-size="32" fill="#000">0</text>
<text x="339.8" y="92.9" font-size="32" fill="#000">0.5</text>
<text x="47.1" y="250.2" font-size="31" fill="#000">0</text>
<text x="36" y="317.6" font-size="31" fill="#000">-1</text>
<text x="51.1" y="349" font-size="32" fill="#000">-1</text>
<text x="106.7" y="356.6" font-size="32" fill="#000">-0.5</text>
<text x="189.9" y="363.4" font-size="32" fill="#000">0</text>
<text x="249.8" y="369.8" font-size="32" fill="#000">0.5</text>
<text x="320.2" y="377.6" font-size="32" fill="#000">1</text>
<text transform="translate(165.1 394.9) scale(1 .84)" font-size="40">ψ</text>
<text x="356.9" y="336.9" font-size="32" fill="#000">100</text>
<text x="382.8" y="295.4" font-size="32" fill="#000">200</text>
<text x="404.7" y="249.5" font-size="32" fill="#000">300</text>
<text x="371.3" y="373.7" font-size="41" fill="#000">T</text>
<text x="395.5" y="386.7" font-size="23" fill="#000">e</text>
<text x="415.1" y="373.7" font-size="40" fill="#000">[K]</text>
<g transform="translate(32,313.5) rotate(-90)">
<text x="-3.3" y="0" font-size="40" fill="#000">F(ψ, T</text>
<text x="108.2" y="12.7" font-size="23" fill="#000">e</text>
<text x="123" y="0" font-size="40" fill="#000">)</text>
</g>
<g stroke="#d8d8d8" stroke-width="1.45" fill="none">
<path d="M659.4 183.1L659.4 66.7"/>
<path d="M715.8 189.6L715.8 73.2"/>
<path d="M772.2 196.1L772.2 79.6"/>
<path d="M828.7 202.5L828.7 86.1"/>
<path d="M885.1 209L885.1 92.6"/>
<path d="M941.5 215.5L941.5 99.1"/>
<path d="M659.4 155.9L941.5 188.3"/>
<path d="M659.4 128.7L941.5 161.1"/>
<path d="M659.4 101.5L941.5 133.9"/>
<path d="M659.4 74.3L941.5 106.7"/>
<path d="M602.8 285.2L602.8 168.8"/>
<path d="M617 259.7L617 143.2"/>
<path d="M631.1 234.1L631.1 117.7"/>
<path d="M645.3 208.6L645.3 92.2"/>
<path d="M659.4 183.1L659.4 66.7"/>
<path d="M588.7 283.5L659.4 155.9"/>
<path d="M588.7 256.3L659.4 128.7"/>
<path d="M588.7 229.1L659.4 101.5"/>
<path d="M588.7 201.9L659.4 74.3"/>
<path d="M645.1 317.2L715.8 189.6"/>
<path d="M701.5 323.7L772.2 196.1"/>
<path d="M758 330.1L828.7 202.5"/>
<path d="M814.4 336.6L885.1 209"/>
<path d="M870.8 343.1L941.5 215.5"/>
<path d="M602.8 285.2L884.9 317.6"/>
<path d="M617 259.7L899.1 292.1"/>
<path d="M631.1 234.1L913.2 266.5"/>
<path d="M645.3 208.6L927.4 241"/>
<path d="M659.4 183.1L941.5 215.5"/>
</g>
<path d="M654.1 334.5L705 242.6" stroke="#000" stroke-width="1.8" fill="none" stroke-dasharray="6 4"/>
<path d="M810.1 344.3L817.9 330.2" stroke="#000" stroke-width="1.8" fill="none" stroke-dasharray="6 4"/>
<g class="s">
<path color="#5757ab" d="M657.2 187l4.7 .5l2.2-3.9l-4.7-.5z"/>
<path class="m" d="M659.4 183.1l4.7 0.5"/>
<path color="#5757ab" d="M661.9 187.5l4.7 .6l2.2-3.9l-4.7-.6z"/>
<path class="m" d="M664.1 183.6l4.7 0.5"/>
<path color="#5757ab" d="M666.6 188.1l4.7 .5l2.2-3.9l-4.7-.5z"/>
<path class="m" d="M668.8 184.2l4.7 0.5"/>
<path color="#5757ab" d="M671.3 188.6l4.7 .6l2.2-3.9l-4.7-.6z"/>
<path class="m" d="M673.5 184.7l4.7 0.5"/>
<path color="#5757ab" d="M676 189.2l4.7 .5l2.2-3.9l-4.7-.5z"/>
<path class="m" d="M678.2 185.3l4.7 0.5"/>
<path color="#5757ab" d="M680.7 189.7l4.7 .6l2.2-4l-4.7-.5z"/>
<path class="m" d="M682.9 185.8l4.7 0.5"/>
<path color="#5757ab" d="M685.4 190.3l4.7 .5l2.2-3.9l-4.7-.6z"/>
<path class="m" d="M687.6 186.3l4.7 0.5"/>
<path color="#5757ab" d="M690.1 190.8l4.7 .5l2.2-3.9l-4.7-.5z"/>
<path color="#5657ab" d="M655 190.7l4.7 .6l2.2-3.8l-4.7-.5z"/>
<path class="m" d="M692.3 186.9l4.7 0.5"/>
<path color="#5757ab" d="M694.8 191.3l4.7 .6l2.2-3.9l-4.7-.6z"/>
<path class="m" d="M655 190.7l4.7 0.5"/>
<path color="#5657ab" d="M659.7 191.3l4.7 .5l2.2-3.7l-4.7-.6z"/>
<path class="m" d="M697 187.4l4.7 0.5"/>
<path color="#5757ab" d="M699.5 191.9l4.7 .5l2.2-3.9l-4.7-.5z"/>
<path class="m" d="M659.7 191.3l4.7 0.5"/>
<path color="#5657ab" d="M664.4 191.8l4.7 .6l2.2-3.8l-4.7-.5z"/>
<path class="m" d="M701.7 188l4.7 0.5"/>
<path color="#5757ab" d="M704.2 192.4l4.7 .6l2.2-4l-4.7-.5z"/>
<path class="m" d="M664.4 191.8l4.7 0.5"/>
<path color="#5657ab" d="M669.1 192.4l4.7 .5l2.2-3.7l-4.7-.6z"/>
<path class="m" d="M706.4 188.5l4.7 0.5"/>
<path color="#5757ab" d="M708.9 193l4.7 .5l2.2-3.9l-4.7-.6z"/>
<path class="m" d="M669.1 192.4l4.7 0.5"/>
<path color="#5657ab" d="M673.8 192.9l4.7 .6l2.2-3.8l-4.7-.5z"/>
<path class="m" d="M711.1 189l4.7 0.5"/>
<path color="#5757ab" d="M713.6 193.5l4.7 .6l2.2-4l-4.7-.5z"/>
<path class="m" d="M673.8 192.9l4.7 0.6"/>
<path color="#5657ab" d="M678.5 193.5l4.7 .5l2.2-3.7l-4.7-.6z"/>
<path class="m" d="M715.8 189.6l4.7 0.5"/>
<path color="#5757ab" d="M718.3 194.1l4.7 .5l2.2-3.9l-4.7-.6z"/>
<path class="m" d="M678.5 193.5l4.7 0.6"/>
<path color="#5657ab" d="M683.2 194l4.7 .6l2.2-3.8l-4.7-.5z"/>
<path class="m" d="M720.5 190.1l4.7 0.5"/>
<path color="#5757ab" d="M723 194.6l4.7 .6l2.2-4l-4.7-.5z"/>
<path class="m" d="M683.2 194l4.7 0.6"/>
<path color="#5657ab" d="M687.9 194.6l4.7 .6l2.2-3.9l-4.7-.5z"/>
<path class="m" d="M725.2 190.7l4.7 0.5"/>
<path color="#5757ab" d="M727.7 195.2l4.7 .5l2.2-4l-4.7-.5z"/>
<path color="#5657ab" d="M652.8 194.3l4.7 .6l2.2-3.6l-4.7-.6z"/>
<path class="m" d="M687.9 194.6l4.7 0.6"/>
<path color="#5757ab" d="M692.6 195.2l4.7 .5l2.2-3.8l-4.7-.6z"/>
<path class="m" d="M729.9 191.2l4.7 0.5"/>
<path class="m" d="M655 190.7l4.7 0.5"/>
<path color="#5757ab" d="M732.4 195.7l4.7 .5l2.2-3.9l-4.7-.6z"/>
<path color="#5657ab" d="M657.5 194.9l4.7 .5l2.2-3.6l-4.7-.5z"/>
<path class="m" d="M692.6 195.2l4.7 0.6"/>
<path color="#5757ab" d="M697.3 195.7l4.7 .6l2.2-3.9l-4.7-.5z"/>
<path class="m" d="M734.6 191.7l4.7 0.5"/>
<path class="m" d="M659.7 191.3l4.7 0.5"/>
<path color="#5757ab" d="M737.1 196.2l4.7 .6l2.2-4l-4.7-.5z"/>
<path color="#5657ab" d="M662.2 195.4l4.7 .6l2.2-3.6l-4.7-.6z"/>
<path class="m" d="M697.3 195.7l4.7 0.6"/>
<path color="#5757ab" d="M702 196.3l4.7 .5l2.2-3.8l-4.7-.6z"/>
<path class="m" d="M739.3 192.3l4.7 0.5"/>
<path class="m" d="M664.4 191.8l4.7 0.5"/>
<path color="#5757ab" d="M741.8 196.8l4.7 .5l2.2-3.9l-4.7-.6z"/>
<path color="#5657ab" d="M666.9 196l4.7 .6l2.2-3.7l-4.7-.5z"/>
<path class="m" d="M702 196.3l4.7 0.6"/>
<path color="#5757ab" d="M706.7 196.8l4.7 .6l2.2-3.9l-4.7-.5z"/>
<path class="m" d="M744 192.8l4.7 0.5"/>
<path class="m" d="M669.1 192.4l4.7 0.5"/>
<path color="#5757ab" d="M746.5 197.3l4.7 .6l2.2-4l-4.7-.5z"/>
<path color="#5657ab" d="M671.6 196.6l4.7 .5l2.2-3.6l-4.7-.6z"/>
<path class="m" d="M706.7 196.8l4.7 0.6"/>
<path color="#5757ab" d="M711.4 197.4l4.7 .5l2.2-3.8l-4.7-.6z"/>
<path class="m" d="M748.7 193.4l4.7 0.5"/>
<path class="m" d="M673.8 192.9l4.7 0.6"/>
<path color="#5757ab" d="M751.2 197.9l4.7 .5l2.2-4l-4.7-.5z"/>
<path color="#5657ab" d="M676.3 197.1l4.7 .6l2.2-3.7l-4.7-.5z"/>
<path class="m" d="M711.4 197.4l4.7 0.6"/>
<path color="#5757ab" d="M716.1 197.9l4.7 .6l2.2-3.9l-4.7-.5z"/>
<path class="m" d="M753.4 193.9l4.7 0.5"/>
<path class="m" d="M678.5 193.5l4.7 0.6"/>
<path color="#5757ab" d="M755.9 198.4l4.7 .5l2.2-3.9l-4.7-.6z"/>
<path color="#5657ab" d="M681 197.7l4.7 .6l2.2-3.7l-4.7-.6z"/>
<path class="m" d="M716.1 197.9l4.7 0.6"/>
<path color="#5757ab" d="M720.8 198.5l4.7 .6l2.2-3.9l-4.7-.6z"/>
<path class="m" d="M758.1 194.4l4.7 0.5"/>
<path class="m" d="M683.2 194l4.7 0.6"/>
<path color="#5657ab" d="M685.7 198.3l4.7 .5l2.2-3.6l-4.7-.6z"/>
<path color="#5757ab" d="M760.6 198.9l4.7 .6l2.2-4l-4.7-.5z"/>
<path class="m" d="M720.8 198.5l4.7 0.6"/>
<path color="#5757ab" d="M725.5 199.1l4.7 .5l2.2-3.9l-4.7-.5z"/>
<path color="#5658ab" d="M650.6 197.7l4.7 .6l2.2-3.4l-4.7-.6z"/>
<path class="m" d="M687.9 194.6l4.7 0.6"/>
<path class="m" d="M762.8 195l4.7 0.5"/>
<path color="#5657ab" d="M690.4 198.8l4.7 .6l2.2-3.7l-4.7-.5z"/>
<path color="#5757ab" d="M765.3 199.5l4.7 .5l2.2-3.9l-4.7-.6z"/>
<path class="m" d="M725.5 199.1l4.7 0.5"/>
<path color="#5757ab" d="M730.2 199.6l4.7 .5l2.2-3.9l-4.7-.5z"/>
<path class="m" d="M650.6 197.7l4.7 0.6"/>
<path color="#5658ab" d="M655.3 198.3l4.7 .6l2.2-3.5l-4.7-.5z"/>
<path class="m" d="M692.6 195.2l4.7 0.6"/>
<path class="m" d="M767.5 195.5l4.7 0.5"/>
<path color="#5657ac" d="M695.1 199.4l4.7 .6l2.2-3.7l-4.7-.6z"/>
<path color="#5757ab" d="M770 200l4.7 .5l2.2-3.9l-4.7-.5z"/>
<path class="m" d="M730.2 199.6l4.7 0.5"/>
<path color="#5757ab" d="M734.9 200.1l4.7 .6l2.2-3.9l-4.7-.6z"/>
<path class="m" d="M655.3 198.3l4.7 0.6"/>
<path color="#5658ab" d="M660 198.9l4.7 .5l2.2-3.4l-4.7-.6z"/>
<path class="m" d="M697.3 195.7l4.7 0.6"/>
<path class="m" d="M772.2 196.1l4.7 0.5"/>
<path color="#5757ac" d="M699.8 200l4.7 .6l2.2-3.8l-4.7-.5z"/>
<path color="#5757ab" d="M774.7 200.5l4.7 .6l2.2-4l-4.7-.5z"/>
<path class="m" d="M734.9 200.1l4.7 0.5"/>
<path class="m" d="M660 198.9l4.7 0.6"/>
<path color="#5757ab" d="M739.6 200.7l4.7 .5l2.2-3.9l-4.7-.5z"/>
<path color="#5658ab" d="M664.7 199.4l4.7 .6l2.2-3.4l-4.7-.6z"/>
<path class="m" d="M702 196.3l4.7 0.6"/>
<path class="m" d="M776.9 196.6l4.7 0.5"/>
<path color="#5757ac" d="M704.5 200.6l4.7 .6l2.2-3.8l-4.7-.6z"/>
<path color="#5757ab" d="M779.4 201.1l4.7 .5l2.2-3.9l-4.7-.6z"/>
<path class="m" d="M739.6 200.7l4.7 0.5"/>
<path class="m" d="M664.7 199.4l4.7 0.6"/>
<path color="#5757ab" d="M744.3 201.2l4.7 .6l2.2-3.9l-4.7-.6z"/>
<path color="#5658ac" d="M669.4 200l4.7 .6l2.2-3.5l-4.7-.5z"/>
<path class="m" d="M706.7 196.8l4.7 0.6"/>
<path class="m" d="M781.6 197.1l4.7 0.5"/>
<path color="#5757ac" d="M709.2 201.2l4.7 .5l2.2-3.8l-4.7-.5z"/>
<path color="#5757ab" d="M784.1 201.6l4.7 .5l2.2-3.9l-4.7-.5z"/>
<path class="m" d="M744.3 201.2l4.7 0.5"/>
<path class="m" d="M669.4 200l4.7 0.6"/>
<path color="#5657ab" d="M749 201.8l4.7 .5l2.2-3.9l-4.7-.5z"/>
<path color="#5658ac" d="M674.1 200.6l4.7 .6l2.2-3.5l-4.7-.6z"/>
<path class="m" d="M711.4 197.4l4.7 0.6"/>
<path class="m" d="M786.3 197.7l4.7 0.5"/>
<path color="#5757ac" d="M713.9 201.7l4.7 .6l2.2-3.8l-4.7-.6z"/>
<path color="#5757ab" d="M788.8 202.1l4.7 .6l2.2-3.9l-4.7-.6z"/>
<path class="m" d="M749 201.8l4.7 0.5"/>
<path class="m" d="M674.1 200.6l4.7 0.6"/>
<path color="#5657ab" d="M753.7 202.3l4.7 .5l2.2-3.9l-4.7-.5z"/>
<path color="#5658ac" d="M678.8 201.2l4.7 .6l2.2-3.5l-4.7-.6z"/>
<path class="m" d="M716.1 197.9l4.7 0.6"/>
<path class="m" d="M791 198.2l4.7 0.5"/>
<path color="#5757ac" d="M718.6 202.3l4.7 .6l2.2-3.8l-4.7-.6z"/>
<path color="#5757ab" d="M793.5 202.7l4.7 .5l2.2-3.9l-4.7-.5z"/>
<path class="m" d="M753.7 202.3l4.7 0.5"/>
<path class="m" d="M678.8 201.2l4.7 0.6"/>
<path color="#5657ab" d="M758.4 202.8l4.7 .5l2.2-3.8l-4.7-.6z"/>
<path color="#5658ac" d="M683.5 201.8l4.7 .6l2.2-3.6l-4.7-.5z"/>
<path class="m" d="M720.8 198.5l4.7 0.6"/>
<path class="m" d="M795.7 198.8l4.7 0.5"/>
<path color="#5757ab" d="M723.3 202.9l4.7 .5l2.2-3.8l-4.7-.5z"/>
<path color="#5757ab" d="M798.2 203.2l4.7 .5l2.3-3.9l-4.8-.5z"/>
<path class="m" d="M758.4 202.8l4.7 0.5"/>
<path class="m" d="M683.5 201.8l4.7 0.6"/>
<path color="#5559ac" d="M648.4 201l4.7 .6l2.2-3.3l-4.7-.6z"/>
<path color="#5657ab" d="M763.1 203.3l4.7 .5l2.2-3.8l-4.7-.5z"/>
<path color="#5658ac" d="M688.2 202.4l4.7 .6l2.2-3.6l-4.7-.6z"/>
<path class="m" d="M725.5 199.1l4.7 0.5"/>
<path class="m" d="M800.5 199.3l4.7 0.5"/>
<path color="#5757ab" d="M728 203.4l4.7 .6l2.2-3.9l-4.7-.5z"/>
<path color="#5757ab" d="M802.9 203.7l4.7 .6l2.3-3.9l-4.7-.6z"/>
<path class="m" d="M650.6 197.7l4.7 0.6"/>
<path class="m" d="M763.1 203.3l4.7 0.5"/>
<path class="m" d="M688.2 202.4l4.7 0.6"/>
<path color="#5559ac" d="M653.1 201.6l4.7 .6l2.2-3.3l-4.7-.6z"/>
<path color="#5657ab" d="M767.8 203.8l4.7 .5l2.2-3.8l-4.7-.5z"/>
<path color="#5658ac" d="M692.9 203l4.7 .6l2.2-3.6l-4.7-.6z"/>
<path class="m" d="M730.2 199.6l4.7 0.5"/>
<path class="m" d="M805.2 199.8l4.7 0.5"/>
<path color="#5757ab" d="M732.7 204l4.7 .5l2.2-3.8l-4.7-.6z"/>
<path color="#5757ab" d="M807.6 204.3l4.7 .5l2.3-3.9l-4.7-.5z"/>
<path class="m" d="M655.3 198.3l4.7 0.6"/>
<path class="m" d="M767.8 203.8l4.7 0.5"/>
<path class="m" d="M692.9 203l4.7 0.6"/>
<path color="#5559ac" d="M657.8 202.2l4.7 .5l2.2-3.3l-4.7-.5z"/>
<path color="#5657ab" d="M772.5 204.3l4.7 .6l2.2-3.8l-4.7-.6z"/>
<path color="#5658ac" d="M697.6 203.6l4.7 .7l2.2-3.7l-4.7-.6z"/>
<path class="m" d="M734.9 200.1l4.7 0.5"/>
<path class="m" d="M809.9 200.4l4.7 0.5"/>
<path color="#5657ab" d="M737.4 204.5l4.7 .6l2.2-3.9l-4.7-.5z"/>
<path color="#5757ab" d="M812.3 204.8l4.7 .6l2.3-3.9l-4.7-.6z"/>
<path class="m" d="M660 198.9l4.7 0.6"/>
<path class="m" d="M772.5 204.3l4.7 0.5"/>
<path class="m" d="M697.6 203.6l4.7 0.6"/>
<path color="#5559ac" d="M662.5 202.7l4.7 .6l2.2-3.3l-4.7-.6z"/>
<path color="#5758ac" d="M702.3 204.3l4.7 .6l2.2-3.7l-4.7-.6z"/>
<path color="#5657ab" d="M777.2 204.9l4.7 .5l2.2-3.8l-4.7-.5z"/>
<path class="m" d="M739.6 200.7l4.7 0.5"/>
<path class="m" d="M814.6 200.9l4.7 0.5"/>
<path color="#5657ab" d="M742.1 205.1l4.7 .5l2.2-3.8l-4.7-.6z"/>
<path color="#5757ab" d="M817 205.4l4.7 .5l2.3-3.9l-4.7-.5z"/>
<path class="m" d="M664.7 199.4l4.7 0.6"/>
<path class="m" d="M702.3 204.3l4.7 0.6"/>
<path class="m" d="M777.2 204.9l4.7 0.5"/>
<path color="#5659ac" d="M667.2 203.3l4.7 .6l2.2-3.3l-4.7-.6z"/>
<path color="#5758ac" d="M707 204.9l4.7 .6l2.2-3.8l-4.7-.5z"/>
<path color="#5657ab" d="M781.9 205.4l4.7 .5l2.2-3.8l-4.7-.5z"/>
<path class="m" d="M744.3 201.2l4.7 0.5"/>
<path class="m" d="M819.3 201.5l4.7 0.5"/>
<path color="#5657ab" d="M746.8 205.6l4.7 .5l2.2-3.8l-4.7-.5z"/>
<path color="#5757ab" d="M821.7 205.9l4.8 .6l2.2-4l-4.7-.5z"/>
<path class="m" d="M669.4 200l4.7 0.6"/>
<path class="m" d="M707 204.9l4.7 0.6"/>
<path class="m" d="M781.9 205.4l4.7 0.5"/>
<path color="#5659ad" d="M671.9 203.9l4.7 .7l2.2-3.4l-4.7-.6z"/>
<path color="#5758ac" d="M711.7 205.5l4.7 .6l2.2-3.8l-4.7-.6z"/>
<path color="#5657ab" d="M786.6 205.9l4.7 .5l2.2-3.7l-4.7-.6z"/>
<path class="m" d="M749 201.8l4.7 0.5"/>
<path class="m" d="M824 202l4.7 0.5"/>
<path color="#5657ab" d="M751.5 206.1l4.7 .5l2.2-3.8l-4.7-.5z"/>
<path color="#5757ab" d="M826.5 206.5l4.7 .5l2.2-3.9l-4.7-.6z"/>
<path class="m" d="M674.1 200.6l4.7 0.6"/>
<path class="m" d="M711.7 205.5l4.7 0.6"/>
<path class="m" d="M786.6 205.9l4.7 0.5"/>
<path color="#5659ad" d="M676.6 204.6l4.7 .6l2.2-3.4l-4.7-.6z"/>
<path color="#5757ac" d="M716.4 206.1l4.7 .6l2.2-3.8l-4.7-.6z"/>
<path color="#5657ab" d="M791.3 206.4l4.7 .5l2.2-3.7l-4.7-.5z"/>
<path class="m" d="M753.7 202.3l4.7 0.5"/>
<path class="m" d="M828.7 202.5l4.7 0.5"/>
<path color="#5657aa" d="M756.2 206.6l4.7 .5l2.2-3.8l-4.7-.5z"/>
<path color="#5757ab" d="M831.2 207l4.7 .5l2.2-3.9l-4.7-.5z"/>
<path class="m" d="M678.8 201.2l4.7 0.6"/>
<path class="m" d="M716.4 206.1l4.7 0.6"/>
<path color="#5659ad" d="M681.3 205.2l4.7 .7l2.2-3.5l-4.7-.6z"/>
<path class="m" d="M791.3 206.4l4.7 0.5"/>
<path color="#5757ac" d="M721.1 206.7l4.7 .5l2.2-3.8l-4.7-.5z"/>
<path color="#5657ab" d="M796 206.9l4.7 .6l2.2-3.8l-4.7-.5z"/>
<path class="m" d="M758.4 202.8l4.7 0.5"/>
<path class="m" d="M833.4 203.1l4.7 0.5"/>
<path color="#5657aa" d="M760.9 207.1l4.7 .5l2.2-3.8l-4.7-.5z"/>
<path class="m" d="M683.5 201.8l4.7 0.6"/>
<path color="#5757ab" d="M835.9 207.5l4.7 .6l2.2-3.9l-4.7-.6z"/>
<path class="m" d="M721.1 206.7l4.7 0.6"/>
<path color="#5659ad" d="M686 205.9l4.7 .6l2.2-3.5l-4.7-.6z"/>
<path color="#555aad" d="M646.1 204.1l4.7 .6l2.3-3.1l-4.7-.6z"/>
<path class="m" d="M796 206.9l4.7 0.5"/>
<path color="#5657ac" d="M725.8 207.2l4.7 .6l2.2-3.8l-4.7-.6z"/>
<path color="#5657ab" d="M800.7 207.5l4.7 .5l2.2-3.7l-4.7-.6z"/>
<path class="m" d="M763.1 203.3l4.7 0.5"/>
<path class="m" d="M838.1 203.6l4.7 0.5"/>
<path class="m" d="M688.2 202.4l4.7 0.6"/>
<path class="m" d="M646.1 204.1l4.7 0.6"/>
<path color="#5657aa" d="M765.6 207.6l4.7 .4l2.2-3.7l-4.7-.5z"/>
<path color="#5757ab" d="M840.6 208.1l4.7 .5l2.2-3.9l-4.7-.5z"/>
<path class="m" d="M725.8 207.2l4.7 0.6"/>
<path color="#5659ad" d="M690.7 206.5l4.7 .7l2.2-3.6l-4.7-.6z"/>
<path color="#555aad" d="M650.8 204.7l4.7 .6l2.3-3.1l-4.7-.6z"/>
<path class="m" d="M800.7 207.5l4.7 0.5"/>
<path color="#5657ab" d="M730.5 207.8l4.7 .5l2.2-3.8l-4.7-.5z"/>
<path color="#5657ab" d="M805.4 208l4.7 .6l2.2-3.8l-4.7-.5z"/>
<path class="m" d="M767.8 203.8l4.7 0.5"/>
<path class="m" d="M842.8 204.2l4.7 0.5"/>
<path class="m" d="M692.9 203l4.7 0.6"/>
<path class="m" d="M650.8 204.7l4.7 0.6"/>
<path color="#5657aa" d="M770.3 208l4.7 .5l2.2-3.6l-4.7-.6z"/>
<path color="#5757ab" d="M845.3 208.6l4.7 .6l2.2-4l-4.7-.5z"/>
<path color="#5659ad" d="M695.4 207.2l4.7 .6l2.2-3.5l-4.7-.7z"/>
<path class="m" d="M730.5 207.8l4.7 0.5"/>
<path color="#555aad" d="M655.5 205.3l4.7 .6l2.3-3.2l-4.7-.5z"/>
<path class="m" d="M805.4 208l4.7 0.5"/>
<path color="#5657ab" d="M735.2 208.3l4.7 .6l2.2-3.8l-4.7-.6z"/>
<path color="#5657ab" d="M810.1 208.6l4.7 .5l2.2-3.7l-4.7-.6z"/>
<path class="m" d="M772.5 204.3l4.7 0.5"/>
<path class="m" d="M847.5 204.7l4.7 0.5"/>
<path class="m" d="M697.6 203.6l4.7 0.6"/>
<path class="m" d="M655.5 205.3l4.7 0.6"/>
<path color="#5757ab" d="M850 209.2l4.7 .5l2.2-3.9l-4.7-.6z"/>
<path color="#5657aa" d="M775 208.5l4.7 .5l2.2-3.6l-4.7-.5z"/>
<path color="#5758ad" d="M700.1 207.8l4.7 .7l2.2-3.6l-4.7-.6z"/>
<path color="#555aad" d="M660.2 205.9l4.8 .6l2.2-3.2l-4.7-.6z"/>
<path class="m" d="M735.2 208.3l4.7 0.5"/>
<path class="m" d="M810.1 208.6l4.7 0.6"/>
<path color="#5657ab" d="M739.9 208.9l4.7 .5l2.2-3.8l-4.7-.5z"/>
<path color="#5657ab" d="M814.8 209.1l4.7 .6l2.2-3.8l-4.7-.5z"/>
<path class="m" d="M852.2 205.2l4.7 0.5"/>
<path class="m" d="M777.2 204.9l4.7 0.5"/>
<path class="m" d="M702.3 204.3l4.7 0.6"/>
<path class="m" d="M660.2 205.9l4.7 0.6"/>
<path color="#5758ad" d="M704.8 208.5l4.7 .6l2.2-3.6l-4.7-.6z"/>
<path color="#5757ab" d="M854.7 209.7l4.7 .6l2.2-4l-4.7-.5z"/>
<path color="#5657aa" d="M779.7 209l4.7 .5l2.2-3.6l-4.7-.5z"/>
<path color="#555aad" d="M665 206.5l4.7 .6l2.2-3.2l-4.7-.6z"/>
<path class="m" d="M739.9 208.9l4.7 0.5"/>
<path class="m" d="M814.8 209.1l4.7 0.6"/>
<path color="#5657aa" d="M744.6 209.4l4.7 .4l2.2-3.7l-4.7-.5z"/>
<path color="#5657ab" d="M819.5 209.7l4.7 .5l2.3-3.7l-4.8-.6z"/>
<path class="m" d="M707 204.9l4.7 0.6"/>
<path class="m" d="M856.9 205.8l4.7 0.5"/>
<path class="m" d="M781.9 205.4l4.7 0.5"/>
<path class="m" d="M665 206.5l4.7 0.6"/>
<path color="#5758ad" d="M709.5 209.1l4.7 .6l2.2-3.6l-4.7-.6z"/>
<path color="#5757ab" d="M859.4 210.3l4.7 .5l2.2-3.9l-4.7-.6z"/>
<path color="#565aae" d="M669.7 207.1l4.7 .7l2.2-3.2l-4.7-.7z"/>
<path color="#5657aa" d="M784.4 209.5l4.7 .5l2.2-3.6l-4.7-.5z"/>
<path class="m" d="M744.6 209.4l4.7 0.5"/>
<path class="m" d="M819.5 209.7l4.7 0.6"/>
<path color="#5657aa" d="M749.3 209.8l4.7 .5l2.2-3.7l-4.7-.5z"/>
<path color="#5757ab" d="M824.2 210.2l4.7 .6l2.3-3.8l-4.7-.5z"/>
<path class="m" d="M711.7 205.5l4.7 0.6"/>
<path class="m" d="M861.6 206.3l4.7 0.5"/>
<path class="m" d="M669.7 207.1l4.7 0.7"/>
<path class="m" d="M786.6 205.9l4.7 0.5"/>
<path color="#5758ad" d="M714.2 209.7l4.7 .7l2.2-3.7l-4.7-.6z"/>
<path color="#565aae" d="M674.4 207.8l4.7 .7l2.2-3.3l-4.7-.6z"/>
<path color="#5757ab" d="M864.1 210.8l4.7 .6l2.2-4l-4.7-.5z"/>
<path color="#5657aa" d="M789.1 210l4.7 .5l2.2-3.6l-4.7-.5z"/>
<path class="m" d="M749.3 209.8l4.7 0.5"/>
<path class="m" d="M824.2 210.2l4.7 0.6"/>
<path color="#5557aa" d="M754 210.3l4.7 .5l2.2-3.7l-4.7-.5z"/>
<path color="#5757ab" d="M828.9 210.8l4.7 .6l2.3-3.9l-4.7-.5z"/>
<path class="m" d="M716.4 206.1l4.7 0.6"/>
<path class="m" d="M674.4 207.8l4.7 0.7"/>
<path class="m" d="M866.3 206.9l4.7 0.5"/>
<path class="m" d="M791.3 206.4l4.7 0.5"/>
<path color="#5758ac" d="M718.9 210.4l4.7 .6l2.2-3.8l-4.7-.5z"/>
<path color="#565aae" d="M679.1 208.5l4.7 .7l2.2-3.3l-4.7-.7z"/>
<path color="#5757ab" d="M868.8 211.4l4.7 .5l2.2-4l-4.7-.5z"/>
<path color="#5657ab" d="M793.8 210.5l4.7 .5l2.2-3.5l-4.7-.6z"/>
<path class="m" d="M754 210.3l4.7 0.4"/>
<path class="m" d="M828.9 210.8l4.7 0.6"/>
<path color="#5757ab" d="M833.6 211.4l4.7 .5l2.3-3.8l-4.7-.6z"/>
<path color="#5557aa" d="M758.7 210.8l4.7 .4l2.2-3.6l-4.7-.5z"/>
<path class="m" d="M721.1 206.7l4.7 0.6"/>
<path class="m" d="M679.1 208.5l4.7 0.7"/>
<path class="m" d="M871 207.4l4.7 0.5"/>
<path class="m" d="M796 206.9l4.7 0.5"/>
<path color="#565aae" d="M683.8 209.2l4.7 .7l2.2-3.4l-4.7-.6z"/>
<path color="#5658ac" d="M723.6 211l4.7 .5l2.2-3.7l-4.7-.6z"/>
<path color="#5757ab" d="M873.5 211.9l4.7 .6l2.2-4l-4.7-.6z"/>
<path color="#545bae" d="M643.9 207l4.7 .6l2.2-2.9l-4.7-.6z"/>
<path color="#5657ab" d="M798.5 211l4.7 .6l2.2-3.6l-4.7-.5z"/>
<path class="m" d="M833.6 211.4l4.7 0.6"/>
<path class="m" d="M758.7 210.8l4.7 0.4"/>
<path color="#5757ab" d="M838.3 211.9l4.7 .6l2.3-3.9l-4.7-.5z"/>
<path color="#5557aa" d="M763.4 211.2l4.7 .4l2.2-3.6l-4.7-.4z"/>
<path class="m" d="M683.8 209.2l4.7 0.7"/>
<path class="m" d="M725.8 207.2l4.7 0.6"/>
<path class="m" d="M875.7 207.9l4.7 0.5"/>
<path color="#565aae" d="M688.5 209.9l4.7 .7l2.2-3.4l-4.7-.7z"/>
<path class="m" d="M646.1 204.1l4.7 0.6"/>
<path class="m" d="M800.7 207.5l4.7 0.5"/>
<path color="#5657ac" d="M728.3 211.5l4.7 .6l2.2-3.8l-4.7-.5z"/>
<path color="#5757ab" d="M878.2 212.5l4.7 .5l2.2-4l-4.7-.5z"/>
<path color="#545bae" d="M648.6 207.6l4.7 .6l2.2-2.9l-4.7-.6z"/>
<path color="#5657ab" d="M803.2 211.6l4.7 .5l2.2-3.5l-4.7-.6z"/>
<path class="m" d="M838.3 211.9l4.7 0.6"/>
<path class="m" d="M763.4 211.2l4.7 0.4"/>
<path color="#5757ab" d="M843 212.5l4.7 .6l2.3-3.9l-4.7-.6z"/>
<path class="m" d="M688.5 209.9l4.7 0.7"/>
<path color="#5557aa" d="M768.1 211.6l4.7 .5l2.2-3.6l-4.7-.5z"/>
<path class="m" d="M730.5 207.8l4.7 0.5"/>
<path color="#575aae" d="M693.2 210.6l4.7 .7l2.2-3.5l-4.7-.6z"/>
<path class="m" d="M880.4 208.5l4.7 0.5"/>
<path class="m" d="M650.8 204.7l4.7 0.6"/>
<path class="m" d="M805.4 208l4.7 0.5"/>
<path color="#5657ab" d="M733 212.1l4.7 .5l2.2-3.7l-4.7-.6z"/>
<path color="#5757ab" d="M882.9 213l4.7 .5l2.2-3.9l-4.7-.6z"/>
<path color="#545bae" d="M653.3 208.2l4.7 .7l2.2-3l-4.7-.6z"/>
<path color="#5657ab" d="M807.9 212.1l4.7 .6l2.2-3.6l-4.7-.5z"/>
<path class="m" d="M843 212.5l4.7 0.6"/>
<path class="m" d="M768.1 211.6l4.7 0.4"/>
<path color="#5757ac" d="M847.7 213.1l4.8 .5l2.2-3.9l-4.7-.5z"/>
<path class="m" d="M693.2 210.6l4.7 0.7"/>
<path color="#5557aa" d="M772.8 212.1l4.7 .4l2.2-3.5l-4.7-.5z"/>
<path class="m" d="M735.2 208.3l4.7 0.5"/>
<path color="#5759ae" d="M697.9 211.3l4.7 .7l2.2-3.5l-4.7-.7z"/>
<path class="m" d="M885.1 209l4.7 0.5"/>
<path class="m" d="M655.5 205.3l4.7 0.6"/>
<path class="m" d="M810.1 208.6l4.7 0.6"/>
<path color="#5657ab" d="M737.7 212.6l4.7 .5l2.2-3.7l-4.7-.5z"/>
<path color="#555bae" d="M658 208.9l4.7 .6l2.3-3l-4.8-.6z"/>
<path color="#5757ab" d="M887.6 213.5l4.7 .6l2.2-4l-4.7-.5z"/>
<path color="#5657ab" d="M812.6 212.7l4.7 .6l2.2-3.6l-4.7-.6z"/>
<path class="m" d="M847.7 213.1l4.7 0.6"/>
<path class="m" d="M772.8 212.1l4.7 0.4"/>
<path class="m" d="M697.9 211.3l4.7 0.7"/>
<path color="#5757ac" d="M852.5 213.6l4.7 .6l2.2-3.9l-4.7-.6z"/>
<path color="#5759ae" d="M702.6 212l4.7 .7l2.2-3.6l-4.7-.6z"/>
<path color="#5557aa" d="M777.5 212.5l4.7 .5l2.2-3.5l-4.7-.5z"/>
<path class="m" d="M739.9 208.9l4.7 0.5"/>
<path class="m" d="M660.2 205.9l4.7 0.6"/>
<path class="m" d="M889.8 209.6l4.7 0.5"/>
<path class="m" d="M814.8 209.1l4.7 0.6"/>
<path color="#555baf" d="M662.7 209.5l4.7 .7l2.3-3.1l-4.7-.6z"/>
<path color="#5557aa" d="M742.4 213.1l4.7 .4l2.2-3.7l-4.7-.4z"/>
<path color="#5757ab" d="M892.3 214.1l4.7 .5l2.2-4l-4.7-.5z"/>
<path color="#5657ab" d="M817.3 213.3l4.7 .6l2.2-3.7l-4.7-.5z"/>
<path class="m" d="M852.5 213.6l4.7 0.6"/>
<path class="m" d="M702.6 212l4.7 0.7"/>
<path class="m" d="M777.5 212.5l4.7 0.5"/>
<path color="#5757ac" d="M857.2 214.2l4.7 .6l2.2-4l-4.7-.5z"/>
<path color="#5759ae" d="M707.3 212.7l4.7 .7l2.2-3.7l-4.7-.6z"/>
<path class="m" d="M665 206.5l4.7 0.6"/>
<path color="#5557aa" d="M782.2 213l4.7 .4l2.2-3.4l-4.7-.5z"/>
<path class="m" d="M744.6 209.4l4.7 0.5"/>
<path class="m" d="M894.5 210.1l4.7 0.5"/>
<path class="m" d="M819.5 209.7l4.7 0.6"/>
<path color="#555baf" d="M667.4 210.2l4.7 .7l2.3-3.1l-4.7-.7z"/>
<path color="#5557aa" d="M747.1 213.5l4.7 .5l2.2-3.7l-4.7-.5z"/>
<path color="#5757ab" d="M897 214.6l4.7 .6l2.2-4l-4.7-.6z"/>
<path color="#5657ac" d="M822 213.9l4.7 .6l2.2-3.7l-4.7-.6z"/>
<path class="m" d="M857.2 214.2l4.7 0.6"/>
<path class="m" d="M707.3 212.7l4.7 0.7"/>
<path color="#5757ac" d="M861.9 214.8l4.7 .5l2.2-3.9l-4.7-.6z"/>
<path class="m" d="M782.2 213l4.7 0.5"/>
<path color="#5759ad" d="M712 213.4l4.7 .6l2.2-3.6l-4.7-.7z"/>
<path class="m" d="M669.7 207.1l4.7 0.7"/>
<path color="#5557aa" d="M786.9 213.4l4.7 .5l2.2-3.4l-4.7-.5z"/>
<path class="m" d="M749.3 209.8l4.7 0.5"/>
<path class="m" d="M899.2 210.6l4.7 0.5"/>
<path color="#565baf" d="M672.1 210.9l4.7 .7l2.3-3.1l-4.7-.7z"/>
<path class="m" d="M824.2 210.2l4.7 0.6"/>
<path color="#5757ac" d="M826.7 214.5l4.7 .6l2.2-3.7l-4.7-.6z"/>
<path color="#5757ab" d="M901.7 215.2l4.7 .5l2.2-4l-4.7-.5z"/>
<path color="#5557a9" d="M751.8 214l4.7 .3l2.2-3.5l-4.7-.5z"/>
<path class="m" d="M861.9 214.8l4.7 0.6"/>
<path class="m" d="M712 213.4l4.7 0.7"/>
<path color="#5757ab" d="M866.6 215.3l4.7 .6l2.2-4l-4.7-.5z"/>
<path color="#5758ad" d="M716.7 214l4.7 .6l2.2-3.6l-4.7-.6z"/>
<path class="m" d="M786.9 213.4l4.7 0.5"/>
<path class="m" d="M674.4 207.8l4.7 0.7"/>
<path color="#565bb0" d="M676.8 211.6l4.7 .8l2.3-3.2l-4.7-.7z"/>
<path color="#5557aa" d="M791.6 213.9l4.7 .5l2.2-3.4l-4.7-.5z"/>
<path class="m" d="M828.9 210.8l4.7 0.6"/>
<path class="m" d="M903.9 211.2l4.7 0.5"/>
<path class="m" d="M754 210.3l4.7 0.4"/>
<path color="#5757ac" d="M831.4 215.1l4.7 .6l2.2-3.8l-4.7-.5z"/>
<path color="#5757ab" d="M906.4 215.7l4.7 .5l2.2-3.9l-4.7-.6z"/>
<path color="#5557a9" d="M756.5 214.3l4.7 .4l2.2-3.5l-4.7-.4z"/>
<path class="m" d="M866.6 215.3l4.7 0.6"/>
<path class="m" d="M716.7 214l4.7 0.6"/>
<path color="#5757ab" d="M871.3 215.9l4.7 .6l2.2-4l-4.7-.6z"/>
<path color="#5658ac" d="M721.4 214.6l4.7 .6l2.2-3.7l-4.7-.5z"/>
<path class="m" d="M679.1 208.5l4.7 0.7"/>
<path class="m" d="M791.6 213.9l4.7 0.5"/>
<path color="#565bb0" d="M681.5 212.4l4.7 .8l2.3-3.3l-4.7-.7z"/>
<path color="#5557ab" d="M796.3 214.4l4.7 .6l2.2-3.4l-4.7-.6z"/>
<path class="m" d="M833.6 211.4l4.7 0.6"/>
<path class="m" d="M908.6 211.7l4.7 0.5"/>
<path class="m" d="M758.7 210.8l4.7 0.4"/>
<path color="#5757ac" d="M836.1 215.7l4.7 .6l2.2-3.8l-4.7-.6z"/>
<path color="#5757ab" d="M911.1 216.2l4.7 .6l2.2-4l-4.7-.5z"/>
<path color="#545daf" d="M641.7 209.8l4.7 .6l2.2-2.8l-4.7-.6z"/>
<path color="#5457a9" d="M761.2 214.7l4.7 .4l2.2-3.5l-4.7-.4z"/>
<path class="m" d="M871.3 215.9l4.7 0.6"/>
<path class="m" d="M721.4 214.6l4.7 0.6"/>
<path class="m" d="M683.8 209.2l4.7 0.7"/>
<path color="#5757ab" d="M876 216.5l4.7 .5l2.2-4l-4.7-.5z"/>
<path color="#5658ac" d="M726.1 215.2l4.7 .6l2.2-3.7l-4.7-.6z"/>
<path class="m" d="M796.3 214.4l4.7 0.5"/>
<path color="#565bb0" d="M686.2 213.2l4.8 .7l2.2-3.3l-4.7-.7z"/>
<path class="m" d="M838.3 211.9l4.7 0.6"/>
<path color="#5558ab" d="M801 215l4.7 .5l2.2-3.4l-4.7-.5z"/>
<path class="m" d="M913.3 212.3l4.7 0.5"/>
<path class="m" d="M641.7 209.8l4.7 0.6"/>
<path class="m" d="M763.4 211.2l4.7 0.4"/>
<path color="#5757ac" d="M840.8 216.3l4.7 .6l2.2-3.8l-4.7-.6z"/>
<path color="#545daf" d="M646.4 210.4l4.7 .6l2.2-2.8l-4.7-.6z"/>
<path color="#5757ab" d="M915.8 216.8l4.7 .5l2.2-4l-4.7-.5z"/>
<path class="m" d="M876 216.5l4.7 0.5"/>
<path class="m" d="M726.1 215.2l4.7 0.6"/>
<path color="#5457a9" d="M765.9 215.1l4.7 .4l2.2-3.4l-4.7-.5z"/>
<path class="m" d="M688.5 209.9l4.7 0.7"/>
<path color="#5757ab" d="M880.7 217l4.7 .5l2.2-4l-4.7-.5z"/>
<path color="#575bb0" d="M691 213.9l4.7 .8l2.2-3.4l-4.7-.7z"/>
<path color="#5657ab" d="M730.8 215.8l4.7 .5l2.2-3.7l-4.7-.5z"/>
<path class="m" d="M801 215l4.7 0.6"/>
<path class="m" d="M843 212.5l4.7 0.6"/>
<path color="#5658ac" d="M805.7 215.5l4.7 .6l2.2-3.4l-4.7-.6z"/>
<path class="m" d="M646.4 210.4l4.7 0.6"/>
<path class="m" d="M918 212.8l4.7 0.5"/>
<path color="#5757ac" d="M845.5 216.9l4.7 .6l2.3-3.9l-4.8-.5z"/>
<path color="#545db0" d="M651.1 211l4.7 .7l2.2-2.8l-4.7-.7z"/>
<path class="m" d="M768.1 211.6l4.7 0.4"/>
<path color="#5757ab" d="M920.5 217.3l4.7 .5l2.2-3.9l-4.7-.6z"/>
<path class="m" d="M880.7 217l4.7 0.5"/>
<path class="m" d="M693.2 210.6l4.7 0.7"/>
<path class="m" d="M730.8 215.8l4.7 0.5"/>
<path color="#5457a9" d="M770.6 215.5l4.7 .4l2.2-3.4l-4.7-.4z"/>
<path color="#575baf" d="M695.7 214.7l4.7 .7l2.2-3.4l-4.7-.7z"/>
<path color="#5757ab" d="M885.4 217.5l4.7 .6l2.2-4l-4.7-.6z"/>
<path color="#5557aa" d="M735.5 216.3l4.7 .4l2.2-3.6l-4.7-.5z"/>
<path class="m" d="M805.7 215.5l4.7 0.6"/>
<path class="m" d="M847.7 213.1l4.7 0.6"/>
<path class="m" d="M651.1 211l4.7 0.7"/>
<path color="#5658ac" d="M810.4 216.1l4.7 .6l2.2-3.4l-4.7-.6z"/>
<path class="m" d="M922.7 213.3l4.7 0.5"/>
<path color="#545db0" d="M655.8 211.7l4.7 .7l2.2-2.9l-4.7-.6z"/>
<path color="#5757ac" d="M850.2 217.5l4.7 .6l2.3-3.9l-4.7-.6z"/>
<path color="#5757ab" d="M925.2 217.8l4.7 .5l2.2-3.9l-4.7-.5z"/>
<path class="m" d="M772.8 212.1l4.7 0.4"/>
<path class="m" d="M697.9 211.3l4.7 0.7"/>
<path class="m" d="M885.4 217.5l4.7 0.5"/>
<path class="m" d="M735.5 216.3l4.7 0.5"/>
<path color="#575aaf" d="M700.4 215.4l4.7 .8l2.2-3.5l-4.7-.7z"/>
<path color="#5457a9" d="M775.3 215.9l4.7 .4l2.2-3.3l-4.7-.5z"/>
<path color="#5757ab" d="M890.1 218.1l4.7 .5l2.2-4l-4.7-.5z"/>
<path class="m" d="M810.4 216.1l4.7 0.6"/>
<path color="#5557aa" d="M740.2 216.7l4.7 .4l2.2-3.6l-4.7-.4z"/>
<path class="m" d="M655.8 211.7l4.7 0.7"/>
<path class="m" d="M852.5 213.6l4.7 0.6"/>
<path color="#5658ac" d="M815.1 216.7l4.7 .6l2.2-3.4l-4.7-.6z"/>
<path class="m" d="M927.4 213.9l4.7 0.5"/>
<path color="#555db0" d="M660.5 212.4l4.7 .7l2.2-2.9l-4.7-.7z"/>
<path color="#5757ac" d="M854.9 218.1l4.7 .6l2.3-3.9l-4.7-.6z"/>
<path class="m" d="M702.6 212l4.7 0.7"/>
<path color="#5757ab" d="M929.9 218.3l4.7 .6l2.2-3.9l-4.7-.6z"/>
<path class="m" d="M777.5 212.5l4.7 0.5"/>
<path color="#575aaf" d="M705.1 216.2l4.7 .7l2.2-3.5l-4.7-.7z"/>
<path class="m" d="M890.1 218.1l4.7 0.5"/>
<path class="m" d="M740.2 216.7l4.7 0.4"/>
<path color="#5457aa" d="M780 216.3l4.7 .4l2.2-3.3l-4.7-.4z"/>
<path class="m" d="M815.1 216.7l4.7 0.6"/>
<path color="#5757ab" d="M894.8 218.6l4.7 .5l2.2-3.9l-4.7-.6z"/>
<path color="#5457a9" d="M744.9 217.1l4.7 .4l2.2-3.5l-4.7-.5z"/>
<path class="m" d="M660.5 212.4l4.7 0.7"/>
<path class="m" d="M857.2 214.2l4.7 0.6"/>
<path color="#5658ac" d="M819.8 217.3l4.7 .7l2.2-3.5l-4.7-.6z"/>
<path color="#555db1" d="M665.2 213.1l4.7 .8l2.2-3l-4.7-.7z"/>
<path class="m" d="M932.1 214.4l4.7 0.5"/>
<path color="#5757ac" d="M859.6 218.7l4.7 .6l2.3-4l-4.7-.5z"/>
<path class="m" d="M707.3 212.7l4.7 0.7"/>
<path color="#5757ab" d="M934.6 218.9l4.7 .5l2.2-3.9l-4.7-.5z"/>
<path color="#575aae" d="M709.8 216.9l4.7 .7l2.2-3.6l-4.7-.6z"/>
<path class="m" d="M782.2 213l4.7 0.5"/>
<path class="m" d="M894.8 218.6l4.7 0.5"/>
<path class="m" d="M744.9 217.1l4.7 0.4"/>
<path class="m" d="M819.8 217.3l4.7 0.6"/>
<path color="#5458aa" d="M784.7 216.7l4.7 .5l2.2-3.3l-4.7-.5z"/>
<path color="#5757ab" d="M899.5 219.1l4.7 .5l2.2-3.9l-4.7-.5z"/>
<path class="m" d="M665.2 213.1l4.7 0.8"/>
<path color="#5758ad" d="M824.5 218l4.7 .6l2.2-3.5l-4.7-.6z"/>
<path class="m" d="M861.9 214.8l4.7 0.6"/>
<path color="#565db1" d="M669.9 213.9l4.7 .8l2.2-3.1l-4.7-.7z"/>
<path color="#5457a9" d="M749.6 217.5l4.7 .3l2.2-3.5l-4.7-.3z"/>
<path class="m" d="M936.8 215l4.7 0.5"/>
<path color="#5757ac" d="M864.3 219.3l4.7 .6l2.3-4l-4.7-.6z"/>
<path class="m" d="M712 213.4l4.7 0.7"/>
<path color="#5759ae" d="M714.5 217.6l4.7 .7l2.2-3.7l-4.7-.6z"/>
<path class="m" d="M786.9 213.4l4.7 0.5"/>
<path class="m" d="M899.5 219.1l4.7 0.5"/>
<path class="m" d="M824.5 218l4.7 0.7"/>
<path class="m" d="M669.9 213.9l4.7 0.8"/>
<path class="m" d="M749.6 217.5l4.7 0.3"/>
<path color="#5657ab" d="M904.2 219.6l4.7 .5l2.2-3.9l-4.7-.5z"/>
<path color="#5458ab" d="M789.4 217.2l4.7 .4l2.2-3.2l-4.7-.5z"/>
<path color="#565db1" d="M674.6 214.7l4.7 .8l2.2-3.1l-4.7-.8z"/>
<path color="#5758ad" d="M829.2 218.6l4.7 .7l2.2-3.6l-4.7-.6z"/>
<path class="m" d="M866.6 215.3l4.7 0.6"/>
<path color="#5457a9" d="M754.3 217.8l4.7 .4l2.2-3.5l-4.7-.4z"/>
<path class="m" d="M716.7 214l4.7 0.6"/>
<path color="#5757ac" d="M869 219.9l4.8 .5l2.2-3.9l-4.7-.6z"/>
<path color="#5659ad" d="M719.2 218.3l4.7 .6l2.2-3.7l-4.7-.6z"/>
<path class="m" d="M904.2 219.6l4.7 0.5"/>
<path class="m" d="M791.6 213.9l4.7 0.5"/>
<path class="m" d="M674.6 214.7l4.7 0.8"/>
<path class="m" d="M829.2 218.6l4.7 0.7"/>
<path color="#565db2" d="M679.3 215.5l4.7 .8l2.2-3.1l-4.7-.8z"/>
<path color="#5657ab" d="M908.9 220.1l4.7 .6l2.2-3.9l-4.7-.6z"/>
<path color="#5558ab" d="M794.1 217.6l4.7 .6l2.2-3.2l-4.7-.6z"/>
<path class="m" d="M754.3 217.8l4.7 0.3"/>
<path color="#5758ad" d="M833.9 219.3l4.7 .7l2.2-3.7l-4.7-.6z"/>
<path class="m" d="M871.3 215.9l4.7 0.6"/>
<path class="m" d="M721.4 214.6l4.7 0.6"/>
<path color="#5357a8" d="M759 218.2l4.7 .3l2.2-3.4l-4.7-.4z"/>
<path color="#5757ab" d="M873.8 220.4l4.7 .6l2.2-4l-4.7-.5z"/>
<path color="#5658ac" d="M723.9 218.9l4.7 .5l2.2-3.6l-4.7-.6z"/>
<path color="#535fb1" d="M639.5 212.4l4.7 .6l2.2-2.6l-4.7-.6z"/>
<path class="m" d="M679.3 215.5l4.7 0.8"/>
<path class="m" d="M908.9 220.1l4.7 0.5"/>
<path class="m" d="M796.3 214.4l4.7 0.5"/>
<path class="m" d="M833.9 219.3l4.7 0.7"/>
<path color="#565db2" d="M684 216.3l4.7 .9l2.3-3.3l-4.8-.7z"/>
<path color="#5758ad" d="M838.6 220l4.7 .6l2.2-3.7l-4.7-.6z"/>
<path color="#5657ab" d="M913.6 220.7l4.7 .5l2.2-3.9l-4.7-.5z"/>
<path color="#5559ac" d="M798.8 218.2l4.7 .5l2.2-3.2l-4.7-.5z"/>
<path class="m" d="M759 218.2l4.7 0.3"/>
<path class="m" d="M876 216.5l4.7 0.5"/>
<path class="m" d="M726.1 215.2l4.7 0.6"/>
<path class="m" d="M641.7 209.8l4.7 0.6"/>
<path color="#5757ab" d="M878.5 221l4.7 .5l2.2-4l-4.7-.5z"/>
<path color="#5357a8" d="M763.7 218.5l4.7 .3l2.2-3.3l-4.7-.4z"/>
<path color="#5558ab" d="M728.6 219.4l4.7 .5l2.2-3.6l-4.7-.5z"/>
<path color="#535fb1" d="M644.2 213l4.7 .7l2.2-2.7l-4.7-.6z"/>
<path class="m" d="M684 216.3l4.7 0.8"/>
<path color="#575cb1" d="M688.7 217.2l4.7 .8l2.3-3.3l-4.7-.8z"/>
<path class="m" d="M838.6 220l4.7 0.7"/>
<path class="m" d="M913.6 220.7l4.7 0.5"/>
<path class="m" d="M801 215l4.7 0.6"/>
<path color="#5758ad" d="M843.3 220.6l4.7 .7l2.2-3.8l-4.7-.6z"/>
<path color="#5559ac" d="M803.5 218.7l4.7 .7l2.2-3.3l-4.7-.6z"/>
<path color="#5657ab" d="M918.3 221.2l4.7 .5l2.2-3.9l-4.7-.5z"/>
<path class="m" d="M880.7 217l4.7 0.5"/>
<path class="m" d="M763.7 218.5l4.7 0.3"/>
<path class="m" d="M730.8 215.8l4.7 0.5"/>
<path class="m" d="M646.4 210.4l4.7 0.6"/>
<path color="#5757ab" d="M883.2 221.5l4.7 .5l2.2-3.9l-4.7-.6z"/>
<path class="m" d="M688.7 217.2l4.7 0.8"/>
<path color="#545fb1" d="M648.9 213.7l4.7 .7l2.2-2.7l-4.7-.7z"/>
<path color="#5357a9" d="M768.4 218.8l4.7 .3l2.2-3.2l-4.7-.4z"/>
<path color="#5557aa" d="M733.3 219.9l4.7 .4l2.2-3.6l-4.7-.4z"/>
<path color="#575cb1" d="M693.4 218l4.7 .8l2.3-3.4l-4.7-.7z"/>
<path class="m" d="M843.3 220.6l4.7 0.7"/>
<path class="m" d="M805.7 215.5l4.7 0.6"/>
<path class="m" d="M918.3 221.2l4.7 0.5"/>
<path color="#5758ad" d="M848 221.3l4.7 .7l2.2-3.9l-4.7-.6z"/>
<path color="#5659ad" d="M808.2 219.4l4.7 .6l2.2-3.3l-4.7-.6z"/>
<path color="#5656ab" d="M923 221.7l4.7 .5l2.2-3.9l-4.7-.5z"/>
<path class="m" d="M885.4 217.5l4.7 0.5"/>
<path class="m" d="M651.1 211l4.7 0.7"/>
<path class="m" d="M768.4 218.8l4.7 0.3"/>
<path class="m" d="M735.5 216.3l4.7 0.5"/>
<path class="m" d="M693.4 218l4.7 0.8"/>
<path color="#5757ab" d="M887.9 222l4.7 .5l2.2-3.9l-4.7-.5z"/>
<path color="#545fb2" d="M653.6 214.4l4.7 .7l2.2-2.7l-4.7-.7z"/>
<path color="#575cb1" d="M698.1 218.8l4.7 .8l2.3-3.4l-4.7-.8z"/>
<path color="#5457a9" d="M738 220.3l4.7 .4l2.2-3.6l-4.7-.4z"/>
<path color="#5358a9" d="M773.1 219.1l4.7 .3l2.2-3.1l-4.7-.4z"/>
<path class="m" d="M848 221.3l4.7 0.7"/>
<path class="m" d="M810.4 216.1l4.7 0.6"/>
<path class="m" d="M923 221.7l4.7 0.5"/>
<path color="#5758ad" d="M852.7 222l4.7 .6l2.2-3.9l-4.7-.6z"/>
<path color="#5659ad" d="M812.9 220l4.7 .7l2.2-3.4l-4.7-.6z"/>
<path color="#5656aa" d="M927.7 222.2l4.7 .5l2.2-3.8l-4.7-.6z"/>
<path class="m" d="M890.1 218.1l4.7 0.5"/>
<path class="m" d="M655.8 211.7l4.7 0.7"/>
<path class="m" d="M698.1 218.8l4.7 0.8"/>
<path color="#545fb2" d="M658.3 215.1l4.7 .8l2.2-2.8l-4.7-.7z"/>
<path color="#575bb0" d="M702.8 219.6l4.7 .8l2.3-3.5l-4.7-.7z"/>
<path class="m" d="M740.2 216.7l4.7 0.4"/>
<path class="m" d="M773.1 219.1l4.7 0.3"/>
<path color="#5657ab" d="M892.6 222.5l4.7 .5l2.2-3.9l-4.7-.5z"/>
<path class="m" d="M852.7 222l4.7 0.6"/>
<path class="m" d="M815.1 216.7l4.7 0.6"/>
<path color="#5358a9" d="M777.8 219.4l4.7 .4l2.2-3.1l-4.7-.4z"/>
<path color="#5457a8" d="M742.7 220.7l4.7 .3l2.2-3.5l-4.7-.4z"/>
<path class="m" d="M927.7 222.2l4.7 0.5"/>
<path color="#5757ac" d="M857.4 222.6l4.7 .6l2.2-3.9l-4.7-.6z"/>
<path color="#5659ae" d="M817.6 220.7l4.7 .7l2.2-3.4l-4.7-.7z"/>
<path color="#5656aa" d="M932.4 222.7l4.7 .4l2.2-3.7l-4.7-.5z"/>
<path class="m" d="M660.5 212.4l4.7 0.7"/>
<path class="m" d="M702.8 219.6l4.7 0.8"/>
<path class="m" d="M894.8 218.6l4.7 0.5"/>
<path color="#555fb3" d="M663 215.9l4.7 .8l2.2-2.8l-4.7-.8z"/>
<path color="#575baf" d="M707.5 220.4l4.7 .7l2.3-3.5l-4.7-.7z"/>
<path color="#5656ab" d="M897.3 223l4.7 .5l2.2-3.9l-4.7-.5z"/>
<path class="m" d="M777.8 219.4l4.7 0.4"/>
<path class="m" d="M744.9 217.1l4.7 0.4"/>
<path class="m" d="M857.4 222.6l4.7 0.6"/>
<path class="m" d="M819.8 217.3l4.7 0.6"/>
<path color="#5358aa" d="M782.5 219.8l4.7 .4l2.2-3l-4.7-.5z"/>
<path color="#5759ae" d="M822.3 221.4l4.7 .7l2.2-3.5l-4.7-.6z"/>
<path color="#5757ac" d="M862.1 223.2l4.7 .6l2.2-3.9l-4.7-.6z"/>
<path class="m" d="M932.4 222.7l4.7 0.5"/>
<path color="#5357a8" d="M747.4 221l4.7 .3l2.2-3.5l-4.7-.3z"/>
<path class="m" d="M665.2 213.1l4.7 0.8"/>
<path class="m" d="M707.5 220.4l4.7 0.7"/>
<path color="#555fb3" d="M667.7 216.7l4.7 .9l2.2-2.9l-4.7-.8z"/>
<path class="m" d="M899.5 219.1l4.7 0.5"/>
<path color="#575aaf" d="M712.2 221.1l4.8 .7l2.2-3.5l-4.7-.7z"/>
<path color="#5656aa" d="M902 223.5l4.7 .5l2.2-3.9l-4.7-.5z"/>
<path class="m" d="M782.5 219.8l4.7 0.4"/>
<path class="m" d="M824.5 218l4.7 0.7"/>
<path class="m" d="M862.1 223.2l4.7 0.6"/>
<path class="m" d="M749.6 217.5l4.7 0.3"/>
<path color="#5759ae" d="M827 222.1l4.7 .7l2.2-3.5l-4.7-.7z"/>
<path color="#5757ac" d="M866.8 223.8l4.7 .6l2.3-4l-4.8-.5z"/>
<path color="#5459ab" d="M787.2 220.2l4.7 .5l2.2-3.1l-4.7-.4z"/>
<path class="m" d="M669.9 213.9l4.7 0.8"/>
<path class="m" d="M712.2 221.1l4.7 0.7"/>
<path color="#565fb4" d="M672.4 217.6l4.7 .9l2.2-3l-4.7-.8z"/>
<path color="#5357a8" d="M752.1 221.3l4.7 .2l2.2-3.3l-4.7-.4z"/>
<path color="#5659ae" d="M717 221.8l4.7 .6l2.2-3.5l-4.7-.6z"/>
<path class="m" d="M904.2 219.6l4.7 0.5"/>
<path color="#5656aa" d="M906.7 224l4.7 .5l2.2-3.8l-4.7-.6z"/>
<path class="m" d="M829.2 218.6l4.7 0.7"/>
<path class="m" d="M866.8 223.8l4.7 0.6"/>
<path class="m" d="M787.2 220.2l4.7 0.5"/>
<path color="#5759ae" d="M831.7 222.8l4.7 .8l2.2-3.6l-4.7-.7z"/>
<path class="m" d="M674.6 214.7l4.7 0.8"/>
<path class="m" d="M754.3 217.8l4.7 0.3"/>
<path color="#5757ac" d="M871.5 224.4l4.7 .6l2.3-4l-4.7-.6z"/>
<path color="#565fb4" d="M677.1 218.5l4.7 .9l2.2-3.1l-4.7-.8z"/>
<path color="#5459ac" d="M791.9 220.7l4.7 .5l2.2-3l-4.7-.6z"/>
<path class="m" d="M717 221.8l4.7 0.6"/>
<path color="#5257a8" d="M756.8 221.5l4.7 .2l2.2-3.2l-4.7-.3z"/>
<path color="#5659ad" d="M721.7 222.4l4.7 .6l2.2-3.6l-4.7-.5z"/>
<path class="m" d="M908.9 220.1l4.7 0.5"/>
<path class="m" d="M833.9 219.3l4.7 0.7"/>
<path color="#5656aa" d="M911.4 224.5l4.7 .4l2.2-3.7l-4.7-.5z"/>
<path class="m" d="M871.5 224.4l4.7 0.6"/>
<path class="m" d="M679.3 215.5l4.7 0.8"/>
<path color="#5759ae" d="M836.4 223.6l4.7 .7l2.2-3.7l-4.7-.6z"/>
<path class="m" d="M791.9 220.7l4.7 0.5"/>
<path color="#575fb4" d="M681.8 219.4l4.7 .9l2.2-3.1l-4.7-.9z"/>
<path color="#5262b3" d="M637.3 214.8l4.7 .7l2.2-2.5l-4.7-.6z"/>
<path color="#5757ab" d="M876.2 225l4.7 .5l2.3-4l-4.7-.5z"/>
<path color="#555aad" d="M796.6 221.2l4.7 .6l2.2-3.1l-4.7-.5z"/>
<path class="m" d="M759 218.2l4.7 0.3"/>
<path class="m" d="M721.7 222.4l4.7 0.6"/>
<path color="#5558ac" d="M726.4 223l4.7 .5l2.2-3.6l-4.7-.5z"/>
<path color="#5257a8" d="M761.5 221.7l4.7 .2l2.2-3.1l-4.7-.3z"/>
<path class="m" d="M913.6 220.7l4.7 0.5"/>
<path class="m" d="M838.6 220l4.7 0.7"/>
<path class="m" d="M684 216.3l4.7 0.8"/>
<path class="m" d="M637.3 214.8l4.7 0.7"/>
<path color="#575eb3" d="M686.5 220.3l4.7 .9l2.2-3.2l-4.7-.8z"/>
<path color="#5759ae" d="M841.1 224.3l4.7 .8l2.2-3.8l-4.7-.7z"/>
<path color="#5656aa" d="M916.1 224.9l4.7 .5l2.2-3.7l-4.7-.5z"/>
<path class="m" d="M876.2 225l4.7 0.5"/>
<path class="m" d="M796.6 221.2l4.7 0.6"/>
<path color="#5262b3" d="M642 215.5l4.7 .7l2.2-2.5l-4.7-.7z"/>
<path color="#5757ab" d="M880.9 225.5l4.7 .5l2.3-4l-4.7-.5z"/>
<path color="#555aae" d="M801.3 221.8l4.7 .6l2.2-3l-4.7-.7z"/>
<path class="m" d="M726.4 223l4.7 0.5"/>
<path class="m" d="M763.7 218.5l4.7 0.3"/>
<path color="#5458aa" d="M731.1 223.5l4.7 .4l2.2-3.6l-4.7-.4z"/>
<path class="m" d="M688.7 217.2l4.7 0.8"/>
<path class="m" d="M843.3 220.6l4.7 0.7"/>
<path class="m" d="M918.3 221.2l4.7 0.5"/>
<path color="#575eb3" d="M691.2 221.2l4.7 .9l2.2-3.3l-4.7-.8z"/>
<path color="#5258a8" d="M766.2 221.9l4.7 .3l2.2-3.1l-4.7-.3z"/>
<path class="m" d="M642 215.5l4.7 0.7"/>
<path color="#5858ae" d="M845.8 225.1l4.7 .7l2.2-3.8l-4.7-.7z"/>
<path class="m" d="M880.9 225.5l4.7 0.5"/>
<path color="#5656aa" d="M920.8 225.4l4.7 .4l2.2-3.6l-4.7-.5z"/>
<path class="m" d="M801.3 221.8l4.7 0.6"/>
<path color="#5362b4" d="M646.7 216.2l4.7 .7l2.2-2.5l-4.7-.7z"/>
<path color="#555aae" d="M806 222.4l4.7 .7l2.2-3.1l-4.7-.6z"/>
<path color="#5656ab" d="M885.6 226l4.7 .5l2.3-4l-4.7-.5z"/>
<path class="m" d="M731.1 223.5l4.7 0.4"/>
<path class="m" d="M693.4 218l4.7 0.8"/>
<path class="m" d="M768.4 218.8l4.7 0.3"/>
<path class="m" d="M848 221.3l4.7 0.7"/>
<path color="#575db2" d="M695.9 222.1l4.7 .9l2.2-3.4l-4.7-.8z"/>
<path color="#5357a9" d="M735.8 223.9l4.7 .3l2.2-3.5l-4.7-.4z"/>
<path class="m" d="M923 221.7l4.7 0.5"/>
<path class="m" d="M646.7 216.2l4.7 0.7"/>
<path color="#5858ae" d="M850.5 225.8l4.7 .7l2.2-3.9l-4.7-.6z"/>
<path color="#5258a8" d="M770.9 222.2l4.7 .3l2.2-3.1l-4.7-.3z"/>
<path color="#5362b4" d="M651.4 216.9l4.7 .8l2.2-2.6l-4.7-.7z"/>
<path class="m" d="M806 222.4l4.7 0.7"/>
<path class="m" d="M885.6 226l4.7 0.5"/>
<path color="#5556aa" d="M925.5 225.8l4.7 .5l2.2-3.6l-4.7-.5z"/>
<path color="#565baf" d="M810.7 223.1l4.7 .8l2.2-3.2l-4.7-.7z"/>
<path color="#5656aa" d="M890.3 226.5l4.7 .5l2.3-4l-4.7-.5z"/>
<path class="m" d="M698.1 218.8l4.7 0.8"/>
<path class="m" d="M735.8 223.9l4.7 0.3"/>
<path color="#575cb2" d="M700.6 223l4.7 .8l2.2-3.4l-4.7-.8z"/>
<path class="m" d="M852.7 222l4.7 0.6"/>
<path class="m" d="M773.1 219.1l4.7 0.3"/>
<path class="m" d="M651.4 216.9l4.7 0.8"/>
<path color="#5758ad" d="M855.2 226.5l4.7 .6l2.2-3.9l-4.7-.6z"/>
<path class="m" d="M927.7 222.2l4.7 0.5"/>
<path color="#5357a8" d="M740.5 224.2l4.7 .2l2.2-3.4l-4.7-.3z"/>
<path color="#5462b5" d="M656.1 217.7l4.7 .8l2.2-2.6l-4.7-.8z"/>
<path class="m" d="M810.7 223.1l4.7 0.7"/>
<path color="#5259a9" d="M775.6 222.5l4.7 .3l2.2-3l-4.7-.4z"/>
<path class="m" d="M890.3 226.5l4.7 0.5"/>
<path color="#565baf" d="M815.4 223.9l4.7 .8l2.2-3.3l-4.7-.7z"/>
<path color="#5556aa" d="M930.2 226.3l4.7 .4l2.2-3.6l-4.7-.4z"/>
<path class="m" d="M702.8 219.6l4.7 0.8"/>
<path color="#5656aa" d="M895 227l4.8 .4l2.2-3.9l-4.7-.5z"/>
<path color="#575cb1" d="M705.3 223.8l4.7 .8l2.2-3.5l-4.7-.7z"/>
<path class="m" d="M857.4 222.6l4.7 0.6"/>
<path class="m" d="M740.5 224.2l4.7 0.2"/>
<path class="m" d="M656.1 217.7l4.7 0.8"/>
<path color="#5562b5" d="M660.8 218.5l4.7 .9l2.2-2.7l-4.7-.8z"/>
<path color="#5758ad" d="M859.9 227.1l4.7 .7l2.2-4l-4.7-.6z"/>
<path class="m" d="M777.8 219.4l4.7 0.4"/>
<path class="m" d="M815.4 223.9l4.7 0.8"/>
<path class="m" d="M932.4 222.7l4.7 0.5"/>
<path color="#575bb0" d="M820.1 224.7l4.7 .8l2.2-3.4l-4.7-.7z"/>
<path color="#5257a7" d="M745.2 224.4l4.7 .2l2.2-3.3l-4.7-.3z"/>
<path class="m" d="M895 227l4.7 0.4"/>
<path color="#5259aa" d="M780.3 222.8l4.7 .3l2.2-2.9l-4.7-.4z"/>
<path class="m" d="M707.5 220.4l4.7 0.7"/>
<path color="#575bb0" d="M710 224.6l4.7 .7l2.3-3.5l-4.8-.7z"/>
<path color="#5656aa" d="M899.8 227.4l4.7 .4l2.2-3.8l-4.7-.5z"/>
<path class="m" d="M660.8 218.5l4.7 0.9"/>
<path class="m" d="M862.1 223.2l4.7 0.6"/>
<path color="#5562b6" d="M665.5 219.4l4.7 .9l2.2-2.7l-4.7-.9z"/>
<path color="#5757ac" d="M864.6 227.8l4.7 .6l2.2-4l-4.7-.6z"/>
<path class="m" d="M820.1 224.7l4.7 0.8"/>
<path class="m" d="M745.2 224.4l4.7 0.2"/>
<path color="#575bb0" d="M824.8 225.5l4.7 .8l2.2-3.5l-4.7-.7z"/>
<path class="m" d="M782.5 219.8l4.7 0.4"/>
<path class="m" d="M712.2 221.1l4.7 0.7"/>
<path class="m" d="M899.8 227.4l4.7 0.4"/>
<path color="#5257a7" d="M749.9 224.6l4.7 .1l2.2-3.2l-4.7-.2z"/>
<path color="#535aab" d="M785 223.1l4.7 .5l2.2-2.9l-4.7-.5z"/>
<path color="#565aaf" d="M714.7 225.3l4.7 .7l2.3-3.6l-4.7-.6z"/>
<path class="m" d="M665.5 219.4l4.7 0.9"/>
<path color="#5661b6" d="M670.2 220.3l4.7 1l2.2-2.8l-4.7-.9z"/>
<path color="#5556aa" d="M904.5 227.8l4.7 .5l2.2-3.8l-4.7-.5z"/>
<path class="m" d="M866.8 223.8l4.7 0.6"/>
<path class="m" d="M824.8 225.5l4.7 0.8"/>
<path color="#5757ac" d="M869.3 228.4l4.7 .6l2.2-4l-4.7-.6z"/>
<path color="#575ab0" d="M829.5 226.3l4.7 .8l2.2-3.5l-4.7-.8z"/>
<path class="m" d="M749.9 224.6l4.7 0.1"/>
<path class="m" d="M787.2 220.2l4.7 0.5"/>
<path class="m" d="M717 221.8l4.7 0.6"/>
<path class="m" d="M670.2 220.3l4.7 1"/>
<path class="m" d="M904.5 227.8l4.7 0.4"/>
<path color="#5661b6" d="M674.9 221.3l4.7 1l2.2-2.9l-4.7-.9z"/>
<path color="#565aae" d="M719.4 226l4.7 .6l2.3-3.6l-4.7-.6z"/>
<path color="#535bac" d="M789.7 223.6l4.7 .5l2.2-2.9l-4.7-.5z"/>
<path color="#5157a7" d="M754.6 224.7l4.7 .2l2.2-3.2l-4.7-.2z"/>
<path class="m" d="M871.5 224.4l4.7 0.6"/>
<path color="#5556a9" d="M909.2 228.3l4.7 .4l2.2-3.8l-4.7-.4z"/>
<path class="m" d="M829.5 226.3l4.7 0.8"/>
<path color="#585ab0" d="M834.2 227.1l4.7 .8l2.2-3.6l-4.7-.7z"/>
<path color="#5757ab" d="M874 229l4.7 .5l2.2-4l-4.7-.5z"/>
<path class="m" d="M674.9 221.3l4.7 1"/>
<path class="m" d="M721.7 222.4l4.7 0.6"/>
<path class="m" d="M791.9 220.7l4.7 0.5"/>
<path color="#5761b6" d="M679.6 222.3l4.7 1l2.2-3l-4.7-.9z"/>
<path class="m" d="M754.6 224.7l4.7 0.1"/>
<path color="#545bae" d="M794.4 224.1l4.7 .6l2.2-2.9l-4.7-.6z"/>
<path color="#5559ac" d="M724.1 226.6l4.7 .4l2.3-3.5l-4.7-.5z"/>
<path class="m" d="M909.2 228.3l4.7 0.4"/>
<path class="m" d="M834.2 227.1l4.7 0.8"/>
<path color="#5067b6" d="M635.1 217.1l4.7 .7l2.2-2.3l-4.7-.7z"/>
<path class="m" d="M876.2 225l4.7 0.5"/>
<path color="#5157a7" d="M759.3 224.9l4.7 .1l2.2-3.1l-4.7-.2z"/>
<path color="#585ab0" d="M838.9 227.9l4.7 .8l2.2-3.6l-4.7-.8z"/>
<path color="#5556a9" d="M913.9 228.7l4.7 .3l2.2-3.6l-4.7-.5z"/>
<path color="#5656ab" d="M878.7 229.5l4.7 .5l2.2-4l-4.7-.5z"/>
<path class="m" d="M679.6 222.3l4.7 1"/>
<path color="#5760b6" d="M684.3 223.3l4.7 1l2.2-3.1l-4.7-.9z"/>
<path class="m" d="M796.6 221.2l4.7 0.6"/>
<path class="m" d="M726.4 223l4.7 0.5"/>
<path class="m" d="M637.3 214.8l4.7 0.7"/>
<path color="#555caf" d="M799.1 224.7l4.7 .7l2.2-3l-4.7-.6z"/>
<path class="m" d="M759.3 224.9l4.7 0.1"/>
<path class="m" d="M838.9 227.9l4.7 0.8"/>
<path color="#5458aa" d="M728.8 227l4.7 .4l2.3-3.5l-4.7-.4z"/>
<path class="m" d="M913.9 228.7l4.7 0.4"/>
<path color="#5167b7" d="M639.8 217.8l4.7 .7l2.2-2.3l-4.7-.7z"/>
<path color="#5859af" d="M843.6 228.7l4.7 .8l2.2-3.7l-4.7-.7z"/>
<path class="m" d="M880.9 225.5l4.7 0.5"/>
<path class="m" d="M684.3 223.3l4.7 1"/>
<path color="#575fb5" d="M689 224.3l4.7 1l2.2-3.2l-4.7-.9z"/>
<path color="#5556a9" d="M918.6 229l4.7 .4l2.2-3.6l-4.7-.4z"/>
<path color="#5158a7" d="M764 225l4.7 .1l2.2-2.9l-4.7-.3z"/>
<path color="#5656aa" d="M883.4 230l4.7 .4l2.2-3.9l-4.7-.5z"/>
<path class="m" d="M801.3 221.8l4.7 0.6"/>
<path class="m" d="M731.1 223.5l4.7 0.4"/>
<path class="m" d="M642 215.5l4.7 0.7"/>
<path color="#555cb0" d="M803.8 225.4l4.7 .7l2.2-3l-4.7-.7z"/>
<path class="m" d="M843.6 228.7l4.7 0.8"/>
<path color="#5167b7" d="M644.5 218.5l4.7 .8l2.2-2.4l-4.7-.7z"/>
<path color="#5859af" d="M848.3 229.5l4.7 .8l2.2-3.8l-4.7-.7z"/>
<path class="m" d="M689 224.3l4.7 1"/>
<path class="m" d="M918.6 229l4.7 0.4"/>
<path color="#5357a8" d="M733.5 227.4l4.8 .2l2.2-3.4l-4.7-.3z"/>
<path color="#575fb4" d="M693.7 225.3l4.7 .9l2.2-3.2l-4.7-.9z"/>
<path class="m" d="M764 225l4.7 0.1"/>
<path class="m" d="M885.6 226l4.7 0.5"/>
<path color="#5456a9" d="M923.3 229.4l4.7 .4l2.2-3.5l-4.7-.5z"/>
<path color="#5656aa" d="M888.1 230.4l4.7 .4l2.2-3.8l-4.7-.5z"/>
<path color="#5159a8" d="M768.7 225.1l4.7 .2l2.2-2.8l-4.7-.3z"/>
<path class="m" d="M806 222.4l4.7 0.7"/>
<path class="m" d="M646.7 216.2l4.7 0.7"/>
<path color="#565cb1" d="M808.5 226.1l4.7 .8l2.2-3l-4.7-.8z"/>
<path class="m" d="M848.3 229.5l4.7 0.8"/>
<path color="#5266b7" d="M649.2 219.3l4.7 .8l2.2-2.4l-4.7-.8z"/>
<path class="m" d="M735.8 223.9l4.7 0.3"/>
<path class="m" d="M693.7 225.3l4.7 0.9"/>
<path color="#5859ae" d="M853 230.3l4.7 .7l2.2-3.9l-4.7-.6z"/>
<path color="#575eb3" d="M698.4 226.2l4.7 .9l2.2-3.3l-4.7-.8z"/>
<path class="m" d="M923.3 229.4l4.7 0.4"/>
<path class="m" d="M890.3 226.5l4.7 0.5"/>
<path color="#5257a7" d="M738.3 227.6l4.7 .1l2.2-3.3l-4.7-.2z"/>
<path class="m" d="M768.7 225.1l4.7 0.2"/>
<path color="#5456a8" d="M928 229.8l4.7 .3l2.2-3.4l-4.7-.4z"/>
<path class="m" d="M810.7 223.1l4.7 0.7"/>
<path color="#5556a9" d="M892.8 230.8l4.7 .4l2.3-3.8l-4.8-.4z"/>
<path class="m" d="M651.4 216.9l4.7 0.8"/>
<path color="#565cb1" d="M813.2 226.9l4.7 .9l2.2-3.1l-4.7-.8z"/>
<path color="#5366b8" d="M653.9 220.1l4.7 .9l2.2-2.5l-4.7-.8z"/>
<path color="#5159a9" d="M773.4 225.3l4.7 .3l2.2-2.8l-4.7-.3z"/>
<path class="m" d="M853 230.3l4.7 0.7"/>
<path class="m" d="M698.4 226.2l4.7 0.9"/>
<path color="#575db2" d="M703.1 227.1l4.7 .9l2.2-3.4l-4.7-.8z"/>
<path color="#5858ae" d="M857.7 231l4.7 .7l2.2-3.9l-4.7-.7z"/>
<path class="m" d="M740.5 224.2l4.7 0.2"/>
<path class="m" d="M928 229.8l4.7 0.4"/>
<path class="m" d="M895 227l4.7 0.4"/>
<path class="m" d="M815.4 223.9l4.7 0.8"/>
<path class="m" d="M656.1 217.7l4.7 0.8"/>
<path color="#5157a6" d="M743 227.7l4.7 .1l2.2-3.2l-4.7-.2z"/>
<path color="#575cb2" d="M817.9 227.8l4.7 .9l2.2-3.2l-4.7-.8z"/>
<path class="m" d="M773.4 225.3l4.7 0.2"/>
<path color="#5466b9" d="M658.6 221l4.7 1l2.2-2.6l-4.7-.9z"/>
<path class="m" d="M703.1 227.1l4.7 0.8"/>
<path color="#5556a9" d="M897.5 231.2l4.7 .4l2.3-3.8l-4.7-.4z"/>
<path class="m" d="M857.7 231l4.7 0.7"/>
<path color="#575cb1" d="M707.8 228l4.7 .8l2.2-3.5l-4.7-.7z"/>
<path color="#515aaa" d="M778.1 225.6l4.7 .3l2.2-2.8l-4.7-.3z"/>
<path color="#5758ad" d="M862.4 231.7l4.7 .7l2.2-4l-4.7-.6z"/>
<path class="m" d="M745.2 224.4l4.7 0.2"/>
<path class="m" d="M820.1 224.7l4.7 0.8"/>
<path class="m" d="M660.8 218.5l4.7 0.9"/>
<path color="#575cb2" d="M822.6 228.7l4.7 .9l2.2-3.3l-4.7-.8z"/>
<path color="#5565b9" d="M663.3 222l4.7 1l2.2-2.7l-4.7-.9z"/>
<path class="m" d="M899.8 227.4l4.7 0.4"/>
<path class="m" d="M707.8 228l4.7 0.8"/>
<path class="m" d="M778.1 225.6l4.7 0.3"/>
<path class="m" d="M862.4 231.7l4.7 0.6"/>
<path color="#565bb0" d="M712.5 228.8l4.7 .6l2.2-3.4l-4.7-.7z"/>
<path color="#5057a6" d="M747.7 227.8l4.7 .1l2.2-3.2l-4.7-.1z"/>
<path color="#5556a9" d="M902.2 231.6l4.7 .4l2.3-3.7l-4.7-.5z"/>
<path color="#5757ac" d="M867.1 232.4l4.7 .5l2.2-3.9l-4.7-.6z"/>
<path color="#525bac" d="M782.8 225.9l4.7 .4l2.2-2.7l-4.7-.5z"/>
<path class="m" d="M824.8 225.5l4.7 0.8"/>
<path class="m" d="M665.5 219.4l4.7 0.9"/>
<path color="#5664b9" d="M668 223l4.7 1l2.2-2.7l-4.7-1z"/>
<path color="#585cb2" d="M827.3 229.6l4.7 .9l2.2-3.4l-4.7-.8z"/>
<path class="m" d="M712.5 228.8l4.7 0.7"/>
<path class="m" d="M749.9 224.6l4.7 0.1"/>
<path class="m" d="M904.5 227.8l4.7 0.4"/>
<path class="m" d="M867.1 232.4l4.7 0.6"/>
<path color="#565aae" d="M717.2 229.4l4.7 .6l2.2-3.4l-4.7-.6z"/>
<path class="m" d="M782.8 225.9l4.7 0.4"/>
<path color="#5456a8" d="M906.9 232l4.7 .3l2.3-3.6l-4.7-.4z"/>
<path color="#5757ab" d="M871.8 232.9l4.7 .6l2.2-4l-4.7-.5z"/>
<path class="m" d="M670.2 220.3l4.7 1"/>
<path color="#5664b9" d="M672.7 224l4.7 1.1l2.2-2.8l-4.7-1z"/>
<path color="#5057a5" d="M752.4 227.9l4.7 0l2.2-3l-4.7-.2z"/>
<path class="m" d="M829.5 226.3l4.7 0.8"/>
<path color="#525cad" d="M787.5 226.3l4.7 .5l2.2-2.7l-4.7-.5z"/>
<path color="#585cb2" d="M832 230.5l4.7 1l2.2-3.6l-4.7-.8z"/>
<path class="m" d="M717.2 229.4l4.7 0.6"/>
<path class="m" d="M909.2 228.3l4.7 0.4"/>
<path class="m" d="M871.8 232.9l4.7 0.5"/>
<path color="#5459ac" d="M721.9 230l4.7 .5l2.2-3.5l-4.7-.4z"/>
<path class="m" d="M674.9 221.3l4.7 1"/>
<path color="#5763b9" d="M677.4 225.1l4.7 1.1l2.2-2.9l-4.7-1z"/>
<path class="m" d="M754.6 224.7l4.7 0.1"/>
<path class="m" d="M787.5 226.3l4.7 0.5"/>
<path class="m" d="M834.2 227.1l4.7 0.8"/>
<path color="#585bb1" d="M836.7 231.5l4.7 .9l2.2-3.7l-4.7-.8z"/>
<path color="#5656aa" d="M876.5 233.5l4.7 .4l2.2-3.9l-4.7-.5z"/>
<path color="#5456a8" d="M911.6 232.3l4.7 .3l2.3-3.6l-4.7-.3z"/>
<path color="#535daf" d="M792.2 226.8l4.7 .6l2.2-2.7l-4.7-.6z"/>
<path color="#4f58a6" d="M757.1 227.9l4.7 0l2.2-2.9l-4.7-.1z"/>
<path class="m" d="M721.9 230l4.7 0.5"/>
<path color="#4f6cba" d="M632.9 219.2l4.7 .7l2.2-2.1l-4.7-.7z"/>
<path class="m" d="M679.6 222.3l4.7 1"/>
<path color="#5762b8" d="M682.1 226.2l4.7 1.1l2.2-3l-4.7-1z"/>
<path class="m" d="M838.9 227.9l4.7 0.8"/>
<path class="m" d="M876.5 233.5l4.7 0.5"/>
<path class="m" d="M913.9 228.7l4.7 0.4"/>
<path color="#5358aa" d="M726.6 230.5l4.7 .3l2.2-3.4l-4.7-.4z"/>
<path color="#585bb1" d="M841.4 232.4l4.7 .9l2.2-3.8l-4.7-.8z"/>
<path class="m" d="M792.2 226.8l4.7 0.6"/>
<path class="m" d="M759.3 224.9l4.7 0.1"/>
<path color="#5656aa" d="M881.2 233.9l4.7 .4l2.2-3.9l-4.7-.4z"/>
<path color="#545eb1" d="M796.9 227.4l4.7 .7l2.2-2.7l-4.7-.7z"/>
<path color="#5456a8" d="M916.3 232.6l4.7 .3l2.3-3.5l-4.7-.4z"/>
<path class="m" d="M632.9 219.2l4.7 0.8"/>
<path class="m" d="M684.3 223.3l4.7 1"/>
<path color="#5762b7" d="M686.8 227.3l4.7 1.1l2.2-3.1l-4.7-1z"/>
<path color="#4f6cba" d="M637.6 219.9l4.7 .8l2.2-2.2l-4.7-.7z"/>
<path color="#4f58a6" d="M761.8 227.9l4.7 0l2.2-2.8l-4.7-.1z"/>
<path class="m" d="M726.6 230.5l4.7 0.3"/>
<path class="m" d="M843.6 228.7l4.7 0.8"/>
<path color="#585ab0" d="M846.1 233.3l4.7 .8l2.2-3.8l-4.7-.8z"/>
<path class="m" d="M881.2 233.9l4.7 0.4"/>
<path class="m" d="M796.9 227.4l4.7 0.7"/>
<path class="m" d="M918.6 229l4.7 0.4"/>
<path color="#555eb2" d="M801.6 228.1l4.7 .9l2.2-2.9l-4.7-.7z"/>
<path color="#5257a7" d="M731.3 230.8l4.7 .1l2.3-3.3l-4.8-.2z"/>
<path class="m" d="M689 224.3l4.7 1"/>
<path color="#5761b7" d="M691.5 228.4l4.7 1l2.2-3.2l-4.7-.9z"/>
<path color="#5556a9" d="M885.9 234.3l4.7 .4l2.2-3.9l-4.7-.4z"/>
<path class="m" d="M637.6 219.9l4.7 0.8"/>
<path color="#5356a7" d="M921 232.9l4.8 .2l2.2-3.3l-4.7-.4z"/>
<path class="m" d="M764 225l4.7 0.1"/>
<path color="#4f6cba" d="M642.3 220.7l4.7 .8l2.2-2.2l-4.7-.8z"/>
<path class="m" d="M848.3 229.5l4.7 0.8"/>
<path color="#5859af" d="M850.8 234.1l4.7 .8l2.2-3.9l-4.7-.7z"/>
<path class="m" d="M801.6 228.1l4.7 0.8"/>
<path color="#4f59a7" d="M766.5 227.9l4.7 .1l2.2-2.7l-4.7-.2z"/>
<path class="m" d="M731.3 230.8l4.7 0.2"/>
<path color="#565fb3" d="M806.3 229l4.7 .9l2.2-3l-4.7-.8z"/>
<path class="m" d="M693.7 225.3l4.7 0.9"/>
<path class="m" d="M885.9 234.3l4.7 0.4"/>
<path color="#5760b5" d="M696.2 229.4l4.7 1l2.2-3.3l-4.7-.9z"/>
<path class="m" d="M923.3 229.4l4.7 0.4"/>
<path class="m" d="M642.3 220.7l4.7 0.8"/>
<path color="#5157a6" d="M736 230.9l4.7 .1l2.3-3.3l-4.7-.1z"/>
<path color="#5556a8" d="M890.6 234.7l4.7 .4l2.2-3.9l-4.7-.4z"/>
<path color="#506cbb" d="M647 221.5l4.7 .9l2.2-2.3l-4.7-.8z"/>
<path color="#5356a7" d="M925.8 233.1l4.7 .3l2.2-3.3l-4.7-.3z"/>
<path class="m" d="M853 230.3l4.7 0.7"/>
<path class="m" d="M768.7 225.1l4.7 0.2"/>
<path color="#5859ae" d="M855.5 234.9l4.7 .8l2.2-4l-4.7-.7z"/>
<path class="m" d="M806.3 229l4.7 0.9"/>
<path color="#575fb4" d="M811 229.9l4.7 .9l2.2-3l-4.7-.9z"/>
<path class="m" d="M698.4 226.2l4.7 0.9"/>
<path color="#575fb4" d="M700.9 230.4l4.7 .9l2.2-3.3l-4.7-.9z"/>
<path color="#4f5aa9" d="M771.2 228l4.7 .2l2.2-2.6l-4.7-.3z"/>
<path class="m" d="M736 230.9l4.7 0.1"/>
<path class="m" d="M890.6 234.7l4.7 0.3"/>
<path class="m" d="M647 221.5l4.7 0.9"/>
<path color="#516bbc" d="M651.7 222.4l4.7 .9l2.2-2.3l-4.7-.9z"/>
<path class="m" d="M928 229.8l4.7 0.4"/>
<path class="m" d="M857.7 231l4.7 0.7"/>
<path color="#5456a8" d="M895.3 235.1l4.7 .2l2.2-3.7l-4.7-.4z"/>
<path color="#5057a5" d="M740.7 231l4.7 0l2.3-3.2l-4.7-.1z"/>
<path class="m" d="M811 229.9l4.7 1"/>
<path color="#5858ad" d="M860.2 235.7l4.7 .6l2.2-3.9l-4.7-.7z"/>
<path color="#575eb4" d="M815.7 230.8l4.7 1l2.2-3.1l-4.7-.9z"/>
<path class="m" d="M703.1 227.1l4.7 0.8"/>
<path color="#575eb3" d="M705.6 231.3l4.7 .8l2.2-3.3l-4.7-.8z"/>
<path class="m" d="M773.4 225.3l4.7 0.2"/>
<path class="m" d="M651.7 222.4l4.7 1"/>
<path color="#526bbc" d="M656.4 223.3l4.7 1.1l2.2-2.4l-4.7-1z"/>
<path class="m" d="M895.3 235.1l4.7 0.3"/>
<path color="#505baa" d="M775.9 228.2l4.7 .2l2.2-2.5l-4.7-.3z"/>
<path class="m" d="M740.7 231l4.7 0"/>
<path class="m" d="M862.4 231.7l4.7 0.6"/>
<path class="m" d="M815.7 230.8l4.7 1"/>
<path color="#585eb4" d="M820.4 231.8l4.7 1l2.2-3.2l-4.7-.9z"/>
<path class="m" d="M707.8 228l4.7 0.8"/>
<path color="#5456a7" d="M900 235.3l4.7 .3l2.2-3.6l-4.7-.4z"/>
<path color="#5757ac" d="M864.9 236.3l4.7 .6l2.2-4l-4.7-.5z"/>
<path color="#565cb1" d="M710.3 232.1l4.7 .8l2.2-3.5l-4.7-.6z"/>
<path class="m" d="M656.4 223.3l4.7 1"/>
<path color="#536abd" d="M661.1 224.4l4.7 1.1l2.2-2.5l-4.7-1z"/>
<path color="#4f57a4" d="M745.4 231l4.7-.1l2.3-3l-4.7-.1z"/>
<path class="m" d="M778.1 225.6l4.7 0.3"/>
<path class="m" d="M820.4 231.8l4.7 1"/>
<path color="#585eb4" d="M825.1 232.8l4.7 1.1l2.2-3.4l-4.7-.9z"/>
<path color="#515dac" d="M780.6 228.4l4.7 .4l2.2-2.5l-4.7-.4z"/>
<path class="m" d="M900 235.3l4.7 0.3"/>
<path class="m" d="M867.1 232.4l4.7 0.6"/>
<path class="m" d="M712.5 228.8l4.7 0.7"/>
<path color="#5569bd" d="M665.8 225.5l4.7 1.1l2.2-2.6l-4.7-1z"/>
<path class="m" d="M661.1 224.4l4.7 1.1"/>
<path color="#5657ab" d="M869.6 236.9l4.7 .5l2.2-3.9l-4.7-.6z"/>
<path class="m" d="M745.4 231l4.7 -0.1"/>
<path color="#555baf" d="M715 232.9l4.7 .6l2.2-3.5l-4.7-.6z"/>
<path color="#5356a7" d="M904.7 235.6l4.7 .2l2.2-3.5l-4.7-.3z"/>
<path class="m" d="M825.1 232.8l4.7 1"/>
<path color="#595db4" d="M829.8 233.9l4.7 1l2.2-3.4l-4.7-1z"/>
<path class="m" d="M782.8 225.9l4.7 0.4"/>
<path color="#4e57a4" d="M750.1 230.9l4.7-.1l2.3-2.9l-4.7 0z"/>
<path color="#5668bc" d="M670.5 226.6l4.7 1.2l2.2-2.7l-4.7-1.1z"/>
<path class="m" d="M665.8 225.5l4.7 1.2"/>
<path class="m" d="M871.8 232.9l4.7 0.5"/>
<path class="m" d="M717.2 229.4l4.7 0.6"/>
<path color="#525eae" d="M785.3 228.8l4.7 .5l2.2-2.5l-4.7-.5z"/>
<path class="m" d="M904.7 235.6l4.7 0.2"/>
<path color="#5656aa" d="M874.3 237.4l4.7 .5l2.2-4l-4.7-.4z"/>
<path color="#545aac" d="M719.7 233.5l4.7 .4l2.2-3.4l-4.7-.5z"/>
<path class="m" d="M829.8 233.9l4.7 1"/>
<path color="#595db3" d="M834.5 234.9l4.7 1.1l2.2-3.6l-4.7-.9z"/>
<path color="#5356a7" d="M909.4 235.8l4.7 .2l2.2-3.4l-4.7-.3z"/>
<path class="m" d="M750.1 230.9l4.7 -0.1"/>
<path color="#5666bc" d="M675.2 227.8l4.7 1.2l2.2-2.8l-4.7-1.1z"/>
<path class="m" d="M670.5 226.6l4.7 1.2"/>
<path class="m" d="M787.5 226.3l4.7 0.5"/>
<path color="#535fb1" d="M790 229.3l4.7 .6l2.2-2.5l-4.7-.6z"/>
<path class="m" d="M876.5 233.5l4.7 0.5"/>
<path class="m" d="M721.9 230l4.7 0.5"/>
<path color="#4e58a5" d="M754.8 230.8l4.7-.1l2.3-2.8l-4.7 0z"/>
<path class="m" d="M834.5 234.9l4.7 1"/>
<path class="m" d="M909.4 235.8l4.7 0.2"/>
<path color="#595cb3" d="M839.2 236l4.7 1l2.2-3.7l-4.7-.9z"/>
<path color="#5556a9" d="M879 237.9l4.7 .4l2.2-4l-4.7-.4z"/>
<path color="#5765bb" d="M679.9 229l4.7 1.2l2.2-2.9l-4.7-1.1z"/>
<path color="#5259a9" d="M724.4 233.9l4.7 .2l2.2-3.3l-4.7-.3z"/>
<path class="m" d="M675.2 227.8l4.7 1.2"/>
<path color="#5256a6" d="M914.1 236l4.7 .2l2.2-3.3l-4.7-.3z"/>
<path color="#4d72be" d="M630.7 221.1l4.7 .8l2.2-2l-4.7-.7z"/>
<path class="m" d="M792.2 226.8l4.7 0.6"/>
<path class="m" d="M754.8 230.8l4.7 -0.1"/>
<path color="#5460b3" d="M794.7 229.9l4.7 .8l2.2-2.6l-4.7-.7z"/>
<path class="m" d="M839.2 236l4.7 1"/>
<path color="#5764ba" d="M684.6 230.2l4.7 1.2l2.2-3l-4.7-1.1z"/>
<path class="m" d="M881.2 233.9l4.7 0.4"/>
<path color="#595bb2" d="M843.9 237l4.7 .9l2.2-3.8l-4.7-.8z"/>
<path class="m" d="M679.9 229l4.7 1.2"/>
<path class="m" d="M726.6 230.5l4.7 0.3"/>
<path color="#4e59a5" d="M759.5 230.7l4.8-.1l2.2-2.7l-4.7 0z"/>
<path class="m" d="M914.1 236l4.7 0.2"/>
<path color="#5555a8" d="M883.7 238.3l4.7 .3l2.2-3.9l-4.7-.4z"/>
<path class="m" d="M632.9 219.2l4.7 0.8"/>
<path color="#5157a7" d="M729.1 234.1l4.7 .1l2.2-3.3l-4.7-.1z"/>
<path color="#4d72be" d="M635.4 221.9l4.7 .8l2.2-2l-4.7-.8z"/>
<path class="m" d="M796.9 227.4l4.7 0.7"/>
<path color="#5863b9" d="M689.3 231.4l4.7 1.1l2.2-3.1l-4.7-1z"/>
<path color="#5256a6" d="M918.8 236.2l4.7 .1l2.3-3.2l-4.8-.2z"/>
<path class="m" d="M684.6 230.2l4.7 1.2"/>
<path color="#5561b4" d="M799.4 230.7l4.7 .9l2.2-2.6l-4.7-.9z"/>
<path class="m" d="M843.9 237l4.7 0.9"/>
<path color="#595ab1" d="M848.6 237.9l4.7 .9l2.2-3.9l-4.7-.8z"/>
<path class="m" d="M759.5 230.7l4.7 -0.1"/>
<path class="m" d="M885.9 234.3l4.7 0.4"/>
<path class="m" d="M731.3 230.8l4.7 0.2"/>
<path class="m" d="M637.6 219.9l4.7 0.8"/>
<path color="#4e72be" d="M640.1 222.7l4.7 .9l2.2-2.1l-4.7-.8z"/>
<path color="#5455a7" d="M888.4 238.6l4.7 .2l2.2-3.7l-4.7-.4z"/>
<path color="#5862b8" d="M694 232.5l4.7 1.1l2.2-3.2l-4.7-1z"/>
<path class="m" d="M689.3 231.4l4.7 1.1"/>
<path class="m" d="M918.8 236.2l4.7 0.1"/>
<path class="m" d="M801.6 228.1l4.7 0.8"/>
<path color="#4e5aa7" d="M764.3 230.6l4.7 0l2.2-2.6l-4.7-.1z"/>
<path color="#5661b6" d="M804.1 231.6l4.7 1l2.2-2.7l-4.7-.9z"/>
<path class="m" d="M848.6 237.9l4.7 0.9"/>
<path color="#4f57a5" d="M733.8 234.2l4.7 0l2.2-3.2l-4.7-.1z"/>
<path color="#5859af" d="M853.3 238.8l4.7 .8l2.2-3.9l-4.7-.8z"/>
<path color="#5156a5" d="M923.5 236.3l4.7 .1l2.3-3l-4.7-.3z"/>
<path class="m" d="M642.3 220.7l4.7 0.8"/>
<path class="m" d="M890.6 234.7l4.7 0.3"/>
<path class="m" d="M694 232.5l4.7 1.1"/>
<path color="#5760b6" d="M698.7 233.6l4.7 1l2.2-3.3l-4.7-.9z"/>
<path color="#4e71bf" d="M644.8 223.6l4.7 .9l2.2-2.1l-4.7-.9z"/>
<path class="m" d="M764.3 230.6l4.7 0"/>
<path class="m" d="M806.3 229l4.7 0.9"/>
<path color="#5761b6" d="M808.8 232.6l4.7 1.1l2.2-2.9l-4.7-.9z"/>
<path class="m" d="M736 230.9l4.7 0.1"/>
<path class="m" d="M853.3 238.8l4.7 0.8"/>
<path color="#5355a7" d="M893.1 238.8l4.7 .2l2.2-3.7l-4.7-.2z"/>
<path color="#5858ae" d="M858 239.6l4.7 .7l2.2-4l-4.7-.6z"/>
<path class="m" d="M923.5 236.3l4.7 0.1"/>
<path color="#4e5ca9" d="M769 230.6l4.7 .1l2.2-2.5l-4.7-.2z"/>
<path color="#4e57a3" d="M738.5 234.2l4.7-.2l2.2-3l-4.7 0z"/>
<path class="m" d="M698.7 233.6l4.7 1"/>
<path class="m" d="M647 221.5l4.7 0.9"/>
<path color="#575fb4" d="M703.4 234.6l4.7 .9l2.2-3.4l-4.7-.8z"/>
<path color="#5071c0" d="M649.5 224.5l4.7 1l2.2-2.2l-4.7-.9z"/>
<path class="m" d="M811 229.9l4.7 1"/>
<path color="#5761b7" d="M813.5 233.7l4.7 1.1l2.2-3l-4.7-1z"/>
<path class="m" d="M895.3 235.1l4.7 0.3"/>
<path class="m" d="M858 239.6l4.7 0.7"/>
<path class="m" d="M769 230.6l4.7 0.1"/>
<path color="#5757ac" d="M862.7 240.3l4.7 .6l2.2-4l-4.7-.6z"/>
<path color="#5355a6" d="M897.8 239l4.7 .2l2.2-3.6l-4.7-.3z"/>
<path class="m" d="M740.7 231l4.7 0"/>
<path class="m" d="M703.4 234.6l4.7 0.9"/>
<path class="m" d="M651.7 222.4l4.7 1"/>
<path color="#5171c1" d="M654.2 225.5l4.7 1.2l2.2-2.3l-4.7-1.1z"/>
<path color="#5860b7" d="M818.2 234.8l4.7 1.2l2.2-3.2l-4.7-1z"/>
<path class="m" d="M815.7 230.8l4.7 1"/>
<path color="#4e5eab" d="M773.7 230.7l4.7 .1l2.2-2.4l-4.7-.2z"/>
<path color="#565eb2" d="M708.1 235.5l4.7 .7l2.2-3.3l-4.7-.8z"/>
<path color="#4d57a3" d="M743.2 234l4.7-.2l2.2-2.9l-4.7 .1z"/>
<path class="m" d="M862.7 240.3l4.7 0.6"/>
<path class="m" d="M900 235.3l4.7 0.3"/>
<path color="#5270c1" d="M658.9 226.7l4.7 1.2l2.2-2.4l-4.7-1.1z"/>
<path color="#5656ab" d="M867.4 240.9l4.7 .5l2.2-4l-4.7-.5z"/>
<path color="#5960b7" d="M822.9 236l4.7 1.2l2.2-3.3l-4.7-1.1z"/>
<path class="m" d="M656.4 223.3l4.7 1"/>
<path class="m" d="M820.4 231.8l4.7 1"/>
<path class="m" d="M773.7 230.7l4.7 0.2"/>
<path class="m" d="M708.1 235.5l4.7 0.8"/>
<path color="#555cb0" d="M712.8 236.2l4.7 .6l2.2-3.3l-4.7-.6z"/>
<path color="#5255a5" d="M902.5 239.2l4.7 .1l2.2-3.5l-4.7-.2z"/>
<path color="#4f60ae" d="M778.4 230.8l4.7 .4l2.2-2.4l-4.7-.4z"/>
<path class="m" d="M745.4 231l4.7 -0.1"/>
<path color="#546fc1" d="M663.6 227.9l4.7 1.2l2.2-2.5l-4.7-1.1z"/>
<path color="#595fb7" d="M827.6 237.2l4.7 1.1l2.2-3.4l-4.7-1z"/>
<path class="m" d="M661.1 224.4l4.7 1.1"/>
<path class="m" d="M867.4 240.9l4.7 0.5"/>
<path class="m" d="M825.1 232.8l4.7 1"/>
<path color="#5656a9" d="M872.1 241.4l4.7 .4l2.2-3.9l-4.7-.5z"/>
<path color="#4c57a3" d="M747.9 233.8l4.7-.2l2.2-2.8l-4.7 .1z"/>
<path class="m" d="M712.8 236.2l4.7 0.6"/>
<path class="m" d="M904.7 235.6l4.7 0.2"/>
<path class="m" d="M778.4 230.8l4.7 0.3"/>
<path color="#545bad" d="M717.5 236.8l4.7 .5l2.2-3.4l-4.7-.4z"/>
<path color="#556dc1" d="M668.3 229.1l4.7 1.3l2.2-2.6l-4.7-1.2z"/>
<path class="m" d="M665.8 225.5l4.7 1.2"/>
<path color="#5a5eb6" d="M832.3 238.3l4.7 1.2l2.2-3.5l-4.7-1.1z"/>
<path class="m" d="M829.8 233.9l4.7 1"/>
<path color="#5155a5" d="M907.2 239.3l4.7 .1l2.2-3.4l-4.7-.2z"/>
<path color="#5062b0" d="M783.1 231.2l4.7 .5l2.2-2.4l-4.7-.5z"/>
<path class="m" d="M872.1 241.4l4.7 0.4"/>
<path class="m" d="M750.1 230.9l4.7 -0.1"/>
<path color="#566bc0" d="M673 230.4l4.7 1.4l2.2-2.8l-4.7-1.2z"/>
<path class="m" d="M717.5 236.8l4.7 0.4"/>
<path class="m" d="M670.5 226.6l4.7 1.2"/>
<path color="#5555a8" d="M876.8 241.8l4.7 .3l2.2-3.8l-4.7-.4z"/>
<path color="#5a5db5" d="M837 239.5l4.7 1.1l2.2-3.6l-4.7-1z"/>
<path class="m" d="M834.5 234.9l4.7 1"/>
<path class="m" d="M909.4 235.8l4.7 0.2"/>
<path class="m" d="M783.1 231.2l4.7 0.5"/>
<path color="#4c58a3" d="M752.6 233.6l4.7-.3l2.2-2.6l-4.7 .1z"/>
<path color="#5159a9" d="M722.2 237.3l4.7 .1l2.2-3.3l-4.7-.2z"/>
<path color="#5163b3" d="M787.8 231.7l4.7 .6l2.2-2.4l-4.7-.6z"/>
<path color="#5769bf" d="M677.7 231.8l4.7 1.3l2.2-2.9l-4.7-1.2z"/>
<path color="#5155a4" d="M911.9 239.4l4.7 0l2.2-3.2l-4.7-.2z"/>
<path class="m" d="M675.2 227.8l4.7 1.2"/>
<path class="m" d="M876.8 241.8l4.7 0.3"/>
<path class="m" d="M839.2 236l4.7 1"/>
<path color="#5a5cb4" d="M841.7 240.6l4.7 1.1l2.2-3.8l-4.7-.9z"/>
<path class="m" d="M754.8 230.8l4.7 -0.1"/>
<path class="m" d="M722.2 237.3l4.7 0.2"/>
<path color="#5455a7" d="M881.5 242.1l4.7 .3l2.2-3.8l-4.7-.3z"/>
<path class="m" d="M787.8 231.7l4.7 0.7"/>
<path color="#5767bd" d="M682.4 233.1l4.7 1.3l2.2-3l-4.7-1.2z"/>
<path class="m" d="M679.9 229l4.7 1.2"/>
<path color="#5364b6" d="M792.5 232.3l4.7 .9l2.2-2.5l-4.7-.8z"/>
<path class="m" d="M914.1 236l4.7 0.2"/>
<path color="#457dc5" d="M628.5 222.9l4.7 .8l2.2-1.8l-4.7-.8z"/>
<path color="#5058a6" d="M726.9 237.4l4.7 0l2.2-3.2l-4.7-.1z"/>
<path class="m" d="M843.9 237l4.7 0.9"/>
<path color="#4b5aa5" d="M757.3 233.3l4.7-.2l2.3-2.5l-4.8 .1z"/>
<path color="#595bb2" d="M846.4 241.7l4.7 1l2.2-3.9l-4.7-.9z"/>
<path color="#5055a4" d="M916.6 239.4l4.7 0l2.2-3.1l-4.7-.1z"/>
<path class="m" d="M881.5 242.1l4.7 0.2"/>
<path color="#5865bc" d="M687.1 234.4l4.7 1.2l2.2-3.1l-4.7-1.1z"/>
<path class="m" d="M684.6 230.2l4.7 1.2"/>
<path class="m" d="M792.5 232.3l4.7 0.8"/>
<path color="#5464b7" d="M797.2 233.2l4.7 .9l2.2-2.5l-4.7-.9z"/>
<path class="m" d="M628.5 222.9l4.7 0.8"/>
<path color="#5355a6" d="M886.2 242.4l4.7 .2l2.2-3.8l-4.7-.2z"/>
<path color="#477cc5" d="M633.2 223.7l4.7 .9l2.2-1.9l-4.7-.8z"/>
<path class="m" d="M726.9 237.4l4.7 0"/>
<path class="m" d="M759.5 230.7l4.7 -0.1"/>
<path class="m" d="M848.6 237.9l4.7 0.9"/>
<path color="#595ab1" d="M851.1 242.7l4.7 .8l2.2-3.9l-4.7-.8z"/>
<path class="m" d="M918.8 236.2l4.7 0.1"/>
<path color="#5864ba" d="M691.8 235.6l4.7 1.1l2.2-3.1l-4.7-1.1z"/>
<path class="m" d="M689.3 231.4l4.7 1.1"/>
<path color="#4e57a4" d="M731.6 237.4l4.7-.1l2.2-3.1l-4.7 0z"/>
<path class="m" d="M797.2 233.2l4.7 1"/>
<path color="#4b5da7" d="M762 233.1l4.7-.1l2.3-2.4l-4.7 0z"/>
<path color="#5664b9" d="M801.9 234.1l4.7 1.1l2.2-2.6l-4.7-1z"/>
<path class="m" d="M886.2 242.4l4.7 0.2"/>
<path class="m" d="M633.2 223.7l4.7 0.9"/>
<path color="#4f56a3" d="M921.3 239.4l4.7 0l2.2-3l-4.7-.1z"/>
<path color="#487bc4" d="M637.9 224.6l4.7 .9l2.2-1.9l-4.7-.9z"/>
<path class="m" d="M853.3 238.8l4.7 0.8"/>
<path color="#5762b8" d="M696.5 236.7l4.7 1.1l2.2-3.2l-4.7-1z"/>
<path class="m" d="M694 232.5l4.7 1.1"/>
<path color="#5859af" d="M855.8 243.5l4.7 .8l2.2-4l-4.7-.7z"/>
<path color="#5255a5" d="M890.9 242.6l4.7 .1l2.2-3.7l-4.7-.2z"/>
<path class="m" d="M731.6 237.4l4.7 -0.2"/>
<path color="#5764b9" d="M806.6 235.2l4.7 1.2l2.2-2.7l-4.7-1.1z"/>
<path class="m" d="M764.3 230.6l4.7 0"/>
<path class="m" d="M801.9 234.1l4.7 1.1"/>
<path class="m" d="M923.5 236.3l4.7 0.1"/>
<path class="m" d="M637.9 224.6l4.7 0.9"/>
<path color="#4a79c4" d="M642.6 225.5l4.7 1l2.2-2l-4.7-.9z"/>
<path class="m" d="M698.7 233.6l4.7 1"/>
<path class="m" d="M858 239.6l4.7 0.7"/>
<path color="#5761b6" d="M701.2 237.8l4.7 .9l2.2-3.2l-4.7-.9z"/>
<path color="#4c57a2" d="M736.3 237.3l4.7-.3l2.2-3l-4.7 .2z"/>
<path class="m" d="M890.9 242.6l4.7 0.1"/>
<path color="#4b5fa9" d="M766.7 233l4.7 0l2.3-2.3l-4.7-.1z"/>
<path color="#5757ad" d="M860.5 244.3l4.7 .6l2.2-4l-4.7-.6z"/>
<path color="#5864ba" d="M811.3 236.4l4.7 1.3l2.2-2.9l-4.7-1.1z"/>
<path class="m" d="M806.6 235.2l4.7 1.2"/>
<path color="#5255a4" d="M895.6 242.7l4.7 0l2.2-3.5l-4.7-.2z"/>
<path class="m" d="M642.6 225.5l4.7 1"/>
<path color="#4d78c5" d="M647.3 226.5l4.7 1.1l2.2-2.1l-4.7-1z"/>
<path class="m" d="M703.4 234.6l4.7 0.9"/>
<path class="m" d="M736.3 237.3l4.7 -0.3"/>
<path class="m" d="M769 230.6l4.7 0.1"/>
<path color="#565fb4" d="M705.9 238.7l4.7 .8l2.2-3.3l-4.7-.7z"/>
<path color="#5963ba" d="M816 237.7l4.7 1.3l2.2-3l-4.7-1.2z"/>
<path class="m" d="M862.7 240.3l4.7 0.6"/>
<path class="m" d="M811.3 236.4l4.7 1.3"/>
<path color="#5656aa" d="M865.2 244.9l4.7 .5l2.2-4l-4.7-.5z"/>
<path class="m" d="M895.6 242.7l4.7 0"/>
<path color="#4c61ac" d="M771.4 233l4.7 .1l2.3-2.3l-4.7-.1z"/>
<path color="#4f77c5" d="M652 227.6l4.7 1.2l2.2-2.1l-4.7-1.2z"/>
<path class="m" d="M647.3 226.5l4.7 1.1"/>
<path color="#4b57a1" d="M741 237l4.7-.4l2.2-2.8l-4.7 .2z"/>
<path color="#5962ba" d="M820.7 239l4.7 1.4l2.2-3.2l-4.7-1.2z"/>
<path class="m" d="M708.1 235.5l4.7 0.8"/>
<path class="m" d="M816 237.7l4.7 1.3"/>
<path color="#5155a4" d="M900.3 242.7l4.7 0l2.2-3.4l-4.7-.1z"/>
<path color="#555eb1" d="M710.6 239.5l4.7 .7l2.2-3.4l-4.7-.6z"/>
<path class="m" d="M867.4 240.9l4.7 0.5"/>
<path color="#5176c6" d="M656.7 228.8l4.7 1.3l2.2-2.2l-4.7-1.2z"/>
<path class="m" d="M773.7 230.7l4.7 0.2"/>
<path class="m" d="M652 227.6l4.7 1.2"/>
<path class="m" d="M741 237l4.7 -0.4"/>
<path color="#5556a9" d="M869.9 245.4l4.7 .4l2.2-4l-4.7-.4z"/>
<path color="#5a61b9" d="M825.4 240.4l4.7 1.3l2.2-3.4l-4.7-1.1z"/>
<path class="m" d="M820.7 239l4.7 1.3"/>
<path color="#4d64af" d="M776.1 233.1l4.7 .3l2.3-2.2l-4.7-.4z"/>
<path class="m" d="M900.3 242.7l4.7 0"/>
<path class="m" d="M712.8 236.2l4.7 0.6"/>
<path color="#5274c6" d="M661.4 230.1l4.7 1.4l2.2-2.4l-4.7-1.2z"/>
<path class="m" d="M656.7 228.8l4.7 1.3"/>
<path color="#4a58a1" d="M745.7 236.6l4.7-.4l2.2-2.6l-4.7 .2z"/>
<path color="#535bad" d="M715.3 240.2l4.7 .4l2.2-3.3l-4.7-.5z"/>
<path color="#5a60b8" d="M830.1 241.7l4.7 1.3l2.2-3.5l-4.7-1.2z"/>
<path color="#5055a3" d="M905 242.7l4.7-.1l2.2-3.2l-4.7-.1z"/>
<path class="m" d="M872.1 241.4l4.7 0.4"/>
<path class="m" d="M825.4 240.4l4.7 1.3"/>
<path class="m" d="M778.4 230.8l4.7 0.3"/>
<path color="#5472c5" d="M666.1 231.5l4.7 1.4l2.2-2.5l-4.7-1.3z"/>
<path color="#5455a7" d="M874.6 245.8l4.7 .2l2.2-3.9l-4.7-.3z"/>
<path class="m" d="M661.4 230.1l4.7 1.4"/>
<path color="#4e66b3" d="M780.8 233.4l4.8 .4l2.2-2.1l-4.7-.5z"/>
<path class="m" d="M745.7 236.6l4.7 -0.4"/>
<path class="m" d="M717.5 236.8l4.7 0.4"/>
<path color="#5a5fb7" d="M834.8 243l4.7 1.2l2.2-3.6l-4.7-1.1z"/>
<path class="m" d="M830.1 241.7l4.7 1.3"/>
<path class="m" d="M905 242.7l4.7 -0.1"/>
<path color="#5570c4" d="M670.8 232.9l4.7 1.5l2.2-2.6l-4.7-1.4z"/>
<path color="#5159a9" d="M720 240.6l4.7 .1l2.2-3.3l-4.7-.1z"/>
<path class="m" d="M666.1 231.5l4.7 1.4"/>
<path class="m" d="M876.8 241.8l4.7 0.3"/>
<path color="#495aa2" d="M750.4 236.2l4.7-.3l2.2-2.6l-4.7 .3z"/>
<path color="#4f55a2" d="M909.7 242.6l4.7-.1l2.2-3.1l-4.7 0z"/>
<path color="#5a5eb6" d="M839.5 244.2l4.7 1.2l2.2-3.7l-4.7-1.1z"/>
<path class="m" d="M783.1 231.2l4.7 0.5"/>
<path class="m" d="M834.8 243l4.7 1.3"/>
<path color="#566ec3" d="M675.5 234.4l4.7 1.4l2.2-2.7l-4.7-1.3z"/>
<path color="#5355a6" d="M879.3 246l4.7 .2l2.2-3.8l-4.7-.3z"/>
<path color="#4f68b7" d="M785.6 233.8l4.7 .7l2.2-2.2l-4.7-.6z"/>
<path class="m" d="M670.8 232.9l4.7 1.4"/>
<path class="m" d="M722.2 237.3l4.7 0.2"/>
<path class="m" d="M750.4 236.2l4.7 -0.4"/>
<path class="m" d="M909.7 242.6l4.7 -0.1"/>
<path color="#5a5cb4" d="M844.2 245.4l4.7 1.1l2.2-3.8l-4.7-1z"/>
<path color="#576bc1" d="M680.2 235.8l4.7 1.4l2.2-2.8l-4.7-1.3z"/>
<path class="m" d="M839.5 244.2l4.7 1.2"/>
<path color="#4e58a5" d="M724.7 240.7l4.7-.1l2.2-3.2l-4.7 0z"/>
<path class="m" d="M675.5 234.4l4.7 1.4"/>
<path class="m" d="M881.5 242.1l4.7 0.2"/>
<path class="m" d="M787.8 231.7l4.7 0.7"/>
<path color="#5169b9" d="M790.3 234.5l4.7 .9l2.2-2.2l-4.7-.9z"/>
<path color="#4e55a2" d="M914.4 242.5l4.7-.2l2.2-2.9l-4.7 0z"/>
<path color="#485da4" d="M755.1 235.9l4.7-.4l2.2-2.4l-4.7 .2z"/>
<path color="#5254a5" d="M884 246.2l4.7 .1l2.2-3.7l-4.7-.2z"/>
<path color="#5769bf" d="M684.9 237.2l4.7 1.4l2.2-3l-4.7-1.2z"/>
<path class="m" d="M844.2 245.4l4.7 1.1"/>
<path color="#3c8acd" d="M626.3 224.5l4.7 .9l2.2-1.7l-4.7-.8z"/>
<path class="m" d="M680.2 235.8l4.7 1.4"/>
<path color="#5a5bb2" d="M848.9 246.5l4.7 1l2.2-4l-4.7-.8z"/>
<path class="m" d="M726.9 237.4l4.7 0"/>
<path class="m" d="M792.5 232.3l4.7 0.8"/>
<path color="#536abb" d="M795 235.4l4.7 1.1l2.2-2.4l-4.7-.9z"/>
<path class="m" d="M914.4 242.5l4.7 -0.2"/>
<path color="#5866bd" d="M689.6 238.6l4.7 1.2l2.2-3.1l-4.7-1.1z"/>
<path class="m" d="M755.1 235.9l4.7 -0.3"/>
<path class="m" d="M886.2 242.4l4.7 0.2"/>
<path class="m" d="M684.9 237.2l4.7 1.3"/>
<path color="#4c57a2" d="M729.4 240.6l4.7-.3l2.2-3l-4.7 .1z"/>
<path class="m" d="M628.5 222.9l4.7 0.8"/>
<path class="m" d="M848.9 246.5l4.7 1"/>
<path color="#3e89cd" d="M631 225.4l4.7 .9l2.2-1.7l-4.7-.9z"/>
<path color="#5959b0" d="M853.6 247.5l4.7 .8l2.2-4l-4.7-.8z"/>
<path color="#4d55a1" d="M919.1 242.3l4.7-.2l2.2-2.7l-4.7 0z"/>
<path color="#5154a3" d="M888.7 246.3l4.7 0l2.2-3.6l-4.7-.1z"/>
<path color="#5569bd" d="M799.7 236.5l4.7 1.2l2.2-2.5l-4.7-1.1z"/>
<path class="m" d="M797.2 233.2l4.7 1"/>
<path color="#485fa7" d="M759.8 235.5l4.7-.2l2.2-2.3l-4.7 .1z"/>
<path color="#5864bb" d="M694.3 239.8l4.7 1.2l2.2-3.2l-4.7-1.1z"/>
<path class="m" d="M689.6 238.6l4.7 1.3"/>
<path class="m" d="M731.6 237.4l4.7 -0.2"/>
<path class="m" d="M633.2 223.7l4.7 0.9"/>
<path class="m" d="M853.6 247.5l4.7 0.8"/>
<path color="#3f87cd" d="M635.7 226.3l4.7 1l2.2-1.8l-4.7-.9z"/>
<path color="#5758ad" d="M858.3 248.3l4.7 .6l2.2-4l-4.7-.6z"/>
<path color="#5668bd" d="M804.4 237.7l4.7 1.4l2.2-2.7l-4.7-1.2z"/>
<path class="m" d="M919.1 242.3l4.7 -0.2"/>
<path class="m" d="M890.9 242.6l4.7 0.1"/>
<path class="m" d="M801.9 234.1l4.7 1.1"/>
<path class="m" d="M759.8 235.5l4.7 -0.3"/>
<path class="m" d="M694.3 239.8l4.7 1.1"/>
<path color="#5762b8" d="M699 241l4.7 1l2.2-3.3l-4.7-.9z"/>
<path color="#4b56a0" d="M734.1 240.3l4.7-.4l2.2-2.9l-4.7 .3z"/>
<path color="#5054a2" d="M893.4 246.3l4.7-.1l2.2-3.5l-4.7 0z"/>
<path class="m" d="M637.9 224.6l4.7 0.9"/>
<path color="#4286cd" d="M640.4 227.3l4.7 1l2.2-1.8l-4.7-1z"/>
<path color="#5867be" d="M809.1 239.1l4.7 1.4l2.2-2.8l-4.7-1.3z"/>
<path color="#4862aa" d="M764.5 235.3l4.7-.2l2.2-2.1l-4.7 0z"/>
<path class="m" d="M858.3 248.3l4.7 0.6"/>
<path class="m" d="M806.6 235.2l4.7 1.2"/>
<path class="m" d="M699 241l4.7 1"/>
<path color="#5656aa" d="M863 248.9l4.7 .5l2.2-4l-4.7-.5z"/>
<path color="#5661b5" d="M703.7 242l4.7 .8l2.2-3.3l-4.7-.8z"/>
<path class="m" d="M736.3 237.3l4.7 -0.3"/>
<path color="#5966bd" d="M813.8 240.5l4.7 1.5l2.2-3l-4.7-1.3z"/>
<path class="m" d="M895.6 242.7l4.7 0"/>
<path color="#4584cd" d="M645.1 228.3l4.7 1.2l2.2-1.9l-4.7-1.1z"/>
<path class="m" d="M642.6 225.5l4.7 1"/>
<path class="m" d="M811.3 236.4l4.7 1.3"/>
<path class="m" d="M764.5 235.3l4.7 -0.1"/>
<path class="m" d="M863 248.9l4.7 0.5"/>
<path color="#4958a0" d="M738.8 239.9l4.7-.5l2.2-2.8l-4.7 .4z"/>
<path class="m" d="M703.7 242l4.7 0.8"/>
<path color="#4f54a1" d="M898.1 246.2l4.7-.2l2.2-3.3l-4.7 0z"/>
<path color="#5a65bd" d="M818.5 242l4.7 1.5l2.2-3.1l-4.7-1.4z"/>
<path color="#555fb2" d="M708.4 242.8l4.7 .6l2.2-3.2l-4.7-.7z"/>
<path color="#4965ad" d="M769.2 235.1l4.7 .1l2.2-2.1l-4.7-.1z"/>
<path class="m" d="M816 237.7l4.7 1.3"/>
<path color="#5555a8" d="M867.7 249.4l4.7 .3l2.2-3.9l-4.7-.4z"/>
<path color="#4882cd" d="M649.8 229.5l4.7 1.3l2.2-2l-4.7-1.2z"/>
<path class="m" d="M647.3 226.5l4.7 1.1"/>
<path color="#5a64bc" d="M823.2 243.5l4.7 1.4l2.2-3.2l-4.7-1.3z"/>
<path class="m" d="M741 237l4.7 -0.4"/>
<path class="m" d="M900.3 242.7l4.7 0"/>
<path class="m" d="M820.7 239l4.7 1.3"/>
<path color="#4d7fcc" d="M654.5 230.8l4.7 1.4l2.2-2.1l-4.7-1.3z"/>
<path class="m" d="M708.4 242.8l4.7 0.6"/>
<path class="m" d="M769.2 235.1l4.7 0"/>
<path class="m" d="M867.7 249.4l4.7 0.3"/>
<path class="m" d="M652 227.6l4.7 1.2"/>
<path color="#525cae" d="M713.1 243.4l4.7 .4l2.2-3.2l-4.7-.4z"/>
<path color="#5b62bb" d="M827.9 244.9l4.7 1.5l2.2-3.4l-4.7-1.3z"/>
<path color="#4e54a1" d="M902.8 246l4.7-.2l2.2-3.2l-4.7 .1z"/>
<path color="#4a68b1" d="M773.9 235.2l4.7 .2l2.2-2l-4.7-.3z"/>
<path class="m" d="M825.4 240.4l4.7 1.3"/>
<path color="#5455a6" d="M872.4 249.7l4.7 .2l2.2-3.9l-4.7-.2z"/>
<path color="#475aa0" d="M743.5 239.4l4.7-.6l2.2-2.6l-4.7 .4z"/>
<path color="#517bca" d="M659.2 232.2l4.7 1.6l2.2-2.3l-4.7-1.4z"/>
<path class="m" d="M656.7 228.8l4.7 1.3"/>
<path color="#5b61ba" d="M832.6 246.4l4.7 1.4l2.2-3.6l-4.7-1.2z"/>
<path class="m" d="M713.1 243.4l4.7 0.4"/>
<path class="m" d="M830.1 241.7l4.7 1.3"/>
<path color="#5278ca" d="M663.9 233.8l4.7 1.5l2.2-2.4l-4.7-1.4z"/>
<path class="m" d="M905 242.7l4.7 -0.1"/>
<path class="m" d="M773.9 235.2l4.7 0.2"/>
<path class="m" d="M872.4 249.7l4.7 0.2"/>
<path class="m" d="M745.7 236.6l4.7 -0.4"/>
<path class="m" d="M661.4 230.1l4.7 1.4"/>
<path color="#505aa8" d="M717.8 243.8l4.7 .1l2.2-3.2l-4.7-.1z"/>
<path color="#4c6bb6" d="M778.6 235.4l4.7 .4l2.3-2l-4.8-.4z"/>
<path color="#5b5fb8" d="M837.3 247.8l4.7 1.3l2.2-3.7l-4.7-1.2z"/>
<path color="#5254a5" d="M877.1 249.9l4.7 .1l2.2-3.8l-4.7-.2z"/>
<path color="#5476c9" d="M668.6 235.3l4.7 1.6l2.2-2.5l-4.7-1.5z"/>
<path class="m" d="M834.8 243l4.7 1.3"/>
<path color="#4d54a0" d="M907.5 245.8l4.7-.3l2.2-3l-4.7 .1z"/>
<path class="m" d="M666.1 231.5l4.7 1.4"/>
<path color="#465ca1" d="M748.2 238.8l4.7-.5l2.2-2.4l-4.7 .3z"/>
<path class="m" d="M717.8 243.8l4.7 0.1"/>
<path color="#5573c7" d="M673.3 236.9l4.7 1.6l2.2-2.7l-4.7-1.4z"/>
<path color="#5b5db6" d="M842 249.1l4.7 1.2l2.2-3.8l-4.7-1.1z"/>
<path class="m" d="M778.6 235.4l4.7 0.5"/>
<path class="m" d="M839.5 244.2l4.7 1.2"/>
<path class="m" d="M877.1 249.9l4.7 0.1"/>
<path class="m" d="M670.8 232.9l4.7 1.4"/>
<path color="#4e6eba" d="M783.3 235.8l4.7 .8l2.3-2.1l-4.7-.7z"/>
<path class="m" d="M909.7 242.6l4.7 -0.1"/>
<path color="#4d58a4" d="M722.5 243.9l4.7-.3l2.2-3l-4.7 .1z"/>
<path color="#5670c5" d="M678 238.5l4.7 1.5l2.2-2.8l-4.7-1.4z"/>
<path class="m" d="M750.4 236.2l4.7 -0.4"/>
<path color="#5154a3" d="M881.8 250l4.7-.1l2.2-3.6l-4.7-.1z"/>
<path class="m" d="M675.5 234.4l4.7 1.4"/>
<path color="#5a5bb3" d="M846.7 250.3l4.7 1.1l2.2-3.9l-4.7-1z"/>
<path class="m" d="M844.2 245.4l4.7 1.1"/>
<path color="#4c549f" d="M912.2 245.5l4.7-.4l2.2-2.8l-4.7 .2z"/>
<path class="m" d="M783.3 235.8l4.7 0.7"/>
<path color="#576dc3" d="M682.7 240l4.7 1.5l2.2-2.9l-4.7-1.4z"/>
<path color="#506fbe" d="M788 236.6l4.7 .9l2.3-2.1l-4.7-.9z"/>
<path class="m" d="M722.5 243.9l4.7 -0.2"/>
<path color="#465fa3" d="M752.9 238.3l4.7-.5l2.2-2.3l-4.7 .4z"/>
<path class="m" d="M680.2 235.8l4.7 1.4"/>
<path class="m" d="M881.8 250l4.7 0"/>
<path class="m" d="M848.9 246.5l4.7 1"/>
<path color="#595ab0" d="M851.4 251.4l4.7 .8l2.2-3.9l-4.7-.8z"/>
<path class="m" d="M914.4 242.5l4.7 -0.2"/>
<path color="#576ac0" d="M687.4 241.5l4.7 1.3l2.2-3l-4.7-1.2z"/>
<path class="m" d="M684.9 237.2l4.7 1.3"/>
<path color="#3197d4" d="M624.1 226l4.7 .9l2.2-1.5l-4.7-.9z"/>
<path color="#4b57a1" d="M727.2 243.6l4.7-.4l2.2-2.9l-4.7 .3z"/>
<path class="m" d="M788 236.6l4.7 1"/>
<path color="#5053a1" d="M886.5 249.9l4.7-.1l2.2-3.5l-4.7 0z"/>
<path color="#5170c0" d="M792.7 237.5l4.7 1.2l2.3-2.2l-4.7-1.1z"/>
<path class="m" d="M755.1 235.9l4.7 -0.3"/>
<path class="m" d="M853.6 247.5l4.7 0.8"/>
<path color="#4b559e" d="M916.9 245.1l4.7-.4l2.2-2.6l-4.7 .2z"/>
<path color="#5867bd" d="M692.1 242.8l4.7 1.2l2.2-3l-4.7-1.2z"/>
<path class="m" d="M689.6 238.6l4.7 1.3"/>
<path color="#5858ad" d="M856.1 252.2l4.7 .7l2.2-4l-4.7-.6z"/>
<path class="m" d="M624.1 226l4.7 0.9"/>
<path class="m" d="M727.2 243.6l4.7 -0.4"/>
<path color="#536fc1" d="M797.4 238.7l4.7 1.4l2.3-2.4l-4.7-1.2z"/>
<path color="#3396d5" d="M628.8 226.9l4.7 1l2.2-1.6l-4.7-.9z"/>
<path class="m" d="M886.5 249.9l4.7 -0.1"/>
<path class="m" d="M792.7 237.5l4.7 1.2"/>
<path color="#4562a6" d="M757.6 237.8l4.7-.4l2.2-2.1l-4.7 .2z"/>
<path color="#5764ba" d="M696.8 244l4.7 1.1l2.2-3.1l-4.7-1z"/>
<path class="m" d="M919.1 242.3l4.7 -0.2"/>
<path class="m" d="M694.3 239.8l4.7 1.1"/>
<path color="#556ec2" d="M802.1 240.1l4.7 1.4l2.3-2.4l-4.7-1.4z"/>
<path class="m" d="M858.3 248.3l4.7 0.6"/>
<path color="#4f53a0" d="M891.2 249.8l4.7-.2l2.2-3.4l-4.7 .1z"/>
<path color="#48579f" d="M731.9 243.2l4.7-.5l2.2-2.8l-4.7 .4z"/>
<path class="m" d="M797.4 238.7l4.7 1.3"/>
<path class="m" d="M628.8 226.9l4.7 1"/>
<path color="#3695d5" d="M633.5 227.9l4.7 1l2.2-1.6l-4.7-1z"/>
<path class="m" d="M759.8 235.5l4.7 -0.3"/>
<path color="#5656aa" d="M860.8 252.9l4.7 .4l2.2-3.9l-4.7-.5z"/>
<path color="#576cc2" d="M806.8 241.5l4.8 1.6l2.2-2.6l-4.7-1.4z"/>
<path class="m" d="M699 241l4.7 1"/>
<path color="#5662b7" d="M701.5 245.1l4.7 .9l2.2-3.2l-4.7-.8z"/>
<path class="m" d="M802.1 240.1l4.7 1.5"/>
<path class="m" d="M891.2 249.8l4.7 -0.2"/>
<path class="m" d="M731.9 243.2l4.7 -0.6"/>
<path color="#4665aa" d="M762.3 237.4l4.7-.3l2.2-2l-4.7 .2z"/>
<path class="m" d="M633.5 227.9l4.7 1"/>
<path color="#3893d5" d="M638.2 228.9l4.7 1.1l2.2-1.7l-4.7-1z"/>
<path class="m" d="M863 248.9l4.7 0.5"/>
<path color="#596ac1" d="M811.6 243.1l4.7 1.7l2.2-2.8l-4.7-1.5z"/>
<path class="m" d="M806.8 241.5l4.7 1.6"/>
<path color="#5555a7" d="M865.5 253.3l4.7 .3l2.2-3.9l-4.7-.3z"/>
<path color="#4d539f" d="M895.9 249.6l4.7-.4l2.2-3.2l-4.7 .2z"/>
<path class="m" d="M703.7 242l4.7 0.8"/>
<path color="#5460b3" d="M706.2 246l4.7 .7l2.2-3.3l-4.7-.6z"/>
<path color="#5a68c0" d="M816.3 244.8l4.7 1.7l2.2-3l-4.7-1.5z"/>
<path color="#46599e" d="M736.6 242.7l4.7-.7l2.2-2.6l-4.7 .5z"/>
<path class="m" d="M764.5 235.3l4.7 -0.1"/>
<path color="#3c92d6" d="M642.9 230l4.7 1.3l2.2-1.8l-4.7-1.2z"/>
<path class="m" d="M638.2 228.9l4.7 1.1"/>
<path class="m" d="M811.6 243.1l4.7 1.7"/>
<path color="#5b66bf" d="M821 246.5l4.7 1.6l2.2-3.2l-4.7-1.4z"/>
<path class="m" d="M867.7 249.4l4.7 0.3"/>
<path class="m" d="M895.9 249.6l4.7 -0.3"/>
<path color="#4669ae" d="M767 237.1l4.7 0l2.2-1.9l-4.7-.1z"/>
<path class="m" d="M708.4 242.8l4.7 0.6"/>
<path color="#408fd6" d="M647.6 231.3l4.7 1.4l2.2-1.9l-4.7-1.3z"/>
<path class="m" d="M816.3 244.8l4.7 1.7"/>
<path class="m" d="M736.6 242.7l4.7 -0.7"/>
<path class="m" d="M642.9 230l4.7 1.3"/>
<path color="#5354a5" d="M870.2 253.6l4.7 .2l2.2-3.9l-4.7-.2z"/>
<path color="#525dae" d="M710.9 246.7l4.7 .3l2.2-3.2l-4.7-.4z"/>
<path color="#5b64be" d="M825.7 248.1l4.7 1.7l2.2-3.4l-4.7-1.5z"/>
<path color="#4c539e" d="M900.6 249.2l4.7-.4l2.2-3l-4.7 .2z"/>
<path class="m" d="M821 246.5l4.7 1.7"/>
<path color="#448bd5" d="M652.3 232.7l4.7 1.5l2.2-2l-4.7-1.4z"/>
<path class="m" d="M769.2 235.1l4.7 0"/>
<path class="m" d="M647.6 231.3l4.7 1.4"/>
<path color="#5c62bc" d="M830.4 249.8l4.7 1.6l2.2-3.6l-4.7-1.4z"/>
<path color="#445b9f" d="M741.3 242l4.7-.7l2.2-2.5l-4.7 .6z"/>
<path class="m" d="M872.4 249.7l4.7 0.2"/>
<path class="m" d="M713.1 243.4l4.7 0.4"/>
<path class="m" d="M825.7 248.1l4.7 1.6"/>
<path color="#476db4" d="M771.7 237.1l4.7 .1l2.2-1.8l-4.7-.2z"/>
<path color="#4987d3" d="M657 234.2l4.7 1.7l2.2-2.1l-4.7-1.6z"/>
<path class="m" d="M900.6 249.2l4.7 -0.4"/>
<path class="m" d="M652.3 232.7l4.7 1.6"/>
<path color="#5c61ba" d="M835.1 251.4l4.7 1.4l2.2-3.7l-4.7-1.3z"/>
<path color="#5253a3" d="M874.9 253.8l4.7-.1l2.2-3.7l-4.7-.1z"/>
<path color="#4f5aa8" d="M715.6 247l4.7 0l2.2-3.1l-4.7-.1z"/>
<path class="m" d="M830.4 249.8l4.7 1.6"/>
<path color="#4f81d0" d="M661.7 235.9l4.7 1.7l2.2-2.3l-4.7-1.5z"/>
<path class="m" d="M741.3 242l4.7 -0.7"/>
<path class="m" d="M773.9 235.2l4.7 0.2"/>
<path class="m" d="M657 234.2l4.7 1.6"/>
<path color="#4b539d" d="M905.3 248.8l4.7-.5l2.2-2.8l-4.7 .3z"/>
<path color="#5b5eb8" d="M839.8 252.8l4.7 1.3l2.2-3.8l-4.7-1.2z"/>
<path color="#537ccd" d="M666.4 237.6l4.7 1.7l2.2-2.4l-4.7-1.6z"/>
<path class="m" d="M835.1 251.4l4.7 1.5"/>
<path class="m" d="M877.1 249.9l4.7 0.1"/>
<path color="#4871b9" d="M776.4 237.2l4.7 .5l2.2-1.9l-4.7-.4z"/>
<path class="m" d="M717.8 243.8l4.7 0.1"/>
<path class="m" d="M661.7 235.9l4.7 1.7"/>
<path color="#435ea0" d="M746 241.3l4.7-.8l2.2-2.2l-4.7 .5z"/>
<path color="#5478cb" d="M671.1 239.3l4.7 1.7l2.2-2.5l-4.7-1.6z"/>
<path color="#5053a1" d="M879.6 253.7l4.7-.1l2.2-3.7l-4.7 .1z"/>
<path class="m" d="M905.3 248.8l4.7 -0.5"/>
<path color="#5b5cb5" d="M844.5 254.1l4.7 1.2l2.2-3.9l-4.7-1.1z"/>
<path class="m" d="M839.8 252.8l4.7 1.3"/>
<path color="#4c58a3" d="M720.3 247l4.7-.3l2.2-3.1l-4.7 .3z"/>
<path class="m" d="M666.4 237.6l4.7 1.7"/>
<path class="m" d="M778.6 235.4l4.7 0.5"/>
<path color="#5575c9" d="M675.8 241l4.7 1.7l2.2-2.7l-4.7-1.5z"/>
<path color="#4b74be" d="M781.1 237.7l4.7 .7l2.2-1.8l-4.7-.8z"/>
<path class="m" d="M746 241.3l4.7 -0.7"/>
<path class="m" d="M671.1 239.3l4.7 1.7"/>
<path color="#49549c" d="M910 248.3l4.7-.6l2.2-2.6l-4.7 .4z"/>
<path class="m" d="M881.8 250l4.7 0"/>
<path class="m" d="M844.5 254.1l4.7 1.1"/>
<path color="#5a5ab1" d="M849.2 255.3l4.7 .9l2.2-4l-4.7-.8z"/>
<path class="m" d="M722.5 243.9l4.7 -0.2"/>
<path color="#5671c7" d="M680.5 242.7l4.7 1.6l2.2-2.8l-4.7-1.5z"/>
<path class="m" d="M675.8 241l4.7 1.7"/>
<path class="m" d="M783.3 235.8l4.7 0.7"/>
<path color="#4261a3" d="M750.7 240.5l4.7-.6l2.2-2.1l-4.7 .5z"/>
<path color="#4e529f" d="M884.3 253.6l4.7-.3l2.2-3.5l-4.7 .1z"/>
<path color="#4e75c2" d="M785.8 238.4l4.7 1.1l2.2-2l-4.7-.9z"/>
<path color="#576ec4" d="M685.2 244.3l4.7 1.4l2.2-2.9l-4.7-1.3z"/>
<path class="m" d="M910 248.3l4.7 -0.6"/>
<path color="#48589f" d="M725 246.7l4.7-.6l2.2-2.9l-4.7 .4z"/>
<path class="m" d="M849.2 255.3l4.7 0.9"/>
<path class="m" d="M680.5 242.7l4.7 1.6"/>
<path color="#5858ae" d="M853.9 256.2l4.7 .7l2.2-4l-4.7-.7z"/>
<path color="#576bc0" d="M689.9 245.7l4.7 1.4l2.2-3.1l-4.7-1.2z"/>
<path color="#5076c5" d="M790.5 239.5l4.7 1.3l2.2-2.1l-4.7-1.2z"/>
<path class="m" d="M750.7 240.5l4.7 -0.7"/>
<path class="m" d="M886.5 249.9l4.7 -0.1"/>
<path class="m" d="M788 236.6l4.7 1"/>
<path class="m" d="M685.2 244.3l4.7 1.5"/>
<path color="#48559b" d="M914.7 247.7l4.7-.6l2.2-2.4l-4.7 .4z"/>
<path class="m" d="M727.2 243.6l4.7 -0.4"/>
<path color="#25a4da" d="M621.8 227.2l4.7 1l2.3-1.3l-4.7-.9z"/>
<path class="m" d="M853.9 256.2l4.7 0.7"/>
<path color="#5276c6" d="M795.2 240.8l4.7 1.5l2.2-2.2l-4.7-1.4z"/>
<path color="#5656aa" d="M858.6 256.9l4.7 .4l2.2-4l-4.7-.4z"/>
<path color="#4d529e" d="M889 253.3l4.7-.4l2.2-3.3l-4.7 .2z"/>
<path color="#5767bd" d="M694.6 247.1l4.7 1.1l2.2-3.1l-4.7-1.1z"/>
<path class="m" d="M689.9 245.7l4.7 1.3"/>
<path class="m" d="M792.7 237.5l4.7 1.2"/>
<path color="#4265a6" d="M755.4 239.9l4.7-.6l2.2-1.9l-4.7 .4z"/>
<path class="m" d="M914.7 247.7l4.7 -0.6"/>
<path class="m" d="M624.1 226l4.7 0.9"/>
<path color="#46599d" d="M729.7 246.1l4.7-.7l2.2-2.7l-4.7 .5z"/>
<path color="#27a3da" d="M626.5 228.2l4.7 1.1l2.3-1.4l-4.7-1z"/>
<path color="#5474c7" d="M799.9 242.3l4.7 1.6l2.2-2.4l-4.7-1.4z"/>
<path class="m" d="M797.4 238.7l4.7 1.3"/>
<path class="m" d="M858.6 256.9l4.7 0.4"/>
<path class="m" d="M891.2 249.8l4.7 -0.2"/>
<path class="m" d="M694.6 247.1l4.7 1.1"/>
<path color="#5664b9" d="M699.3 248.2l4.7 .9l2.2-3.1l-4.7-.9z"/>
<path class="m" d="M755.4 239.9l4.7 -0.5"/>
<path color="#5672c7" d="M804.6 243.9l4.7 1.8l2.3-2.6l-4.8-1.6z"/>
<path color="#5455a7" d="M863.3 257.3l4.7 .3l2.2-4l-4.7-.3z"/>
<path class="m" d="M731.9 243.2l4.7 -0.6"/>
<path class="m" d="M628.8 226.9l4.7 1"/>
<path color="#2aa1db" d="M631.2 229.3l4.7 1l2.3-1.4l-4.7-1z"/>
<path class="m" d="M802.1 240.1l4.7 1.5"/>
<path color="#586fc6" d="M809.3 245.7l4.7 1.8l2.3-2.7l-4.7-1.7z"/>
<path color="#4b529c" d="M893.7 252.9l4.7-.5l2.2-3.2l-4.7 .4z"/>
<path class="m" d="M699.3 248.2l4.7 0.9"/>
<path color="#406bac" d="M760.1 239.3l4.7-.3l2.2-1.9l-4.7 .3z"/>
<path color="#5461b5" d="M704 249.1l4.7 .7l2.2-3.1l-4.7-.7z"/>
<path class="m" d="M806.8 241.5l4.7 1.6"/>
<path class="m" d="M863.3 257.3l4.7 0.2"/>
<path color="#5a6bc3" d="M814 247.5l4.7 1.9l2.3-2.9l-4.7-1.7z"/>
<path color="#2da0db" d="M635.9 230.3l4.7 1.2l2.3-1.5l-4.7-1.1z"/>
<path class="m" d="M633.5 227.9l4.7 1"/>
<path color="#435a9c" d="M734.4 245.4l4.7-.9l2.2-2.5l-4.7 .7z"/>
<path class="m" d="M811.6 243.1l4.7 1.7"/>
<path class="m" d="M895.9 249.6l4.7 -0.3"/>
<path color="#5b68c1" d="M818.7 249.4l4.7 1.9l2.3-3.2l-4.7-1.6z"/>
<path color="#5253a4" d="M868 257.6l4.7 0l2.2-3.8l-4.7-.2z"/>
<path class="m" d="M760.1 239.3l4.7 -0.4"/>
<path class="m" d="M704 249.1l4.7 0.7"/>
<path color="#319fdd" d="M640.6 231.5l4.7 1.4l2.3-1.6l-4.7-1.3z"/>
<path class="m" d="M816.3 244.8l4.7 1.7"/>
<path class="m" d="M638.2 228.9l4.7 1.1"/>
<path color="#5b65bf" d="M823.4 251.3l4.7 1.8l2.3-3.3l-4.7-1.7z"/>
<path color="#515eae" d="M708.7 249.8l4.7 .3l2.2-3.1l-4.7-.3z"/>
<path class="m" d="M736.6 242.7l4.7 -0.7"/>
<path color="#3e72b2" d="M764.8 239l4.7-.2l2.2-1.7l-4.7 0z"/>
<path color="#4a529b" d="M898.4 252.4l4.7-.6l2.2-3l-4.7 .4z"/>
<path class="m" d="M821 246.5l4.7 1.7"/>
<path class="m" d="M868 257.6l4.7 0.1"/>
<path color="#5b63bd" d="M828.1 253.1l4.7 1.8l2.3-3.5l-4.7-1.6z"/>
<path color="#369ddf" d="M645.3 232.9l4.8 1.5l2.2-1.7l-4.7-1.4z"/>
<path class="m" d="M642.9 230l4.7 1.3"/>
<path class="m" d="M825.7 248.1l4.7 1.6"/>
<path class="m" d="M708.7 249.8l4.7 0.3"/>
<path color="#5053a1" d="M872.7 257.6l4.7-.1l2.2-3.8l-4.7 .1z"/>
<path color="#5c61bb" d="M832.8 254.9l4.8 1.6l2.2-3.7l-4.7-1.4z"/>
<path color="#415c9d" d="M739.1 244.5l4.7-.9l2.2-2.3l-4.7 .7z"/>
<path color="#3c99df" d="M650.1 234.4l4.7 1.7l2.2-1.9l-4.7-1.5z"/>
<path class="m" d="M764.8 239l4.7 -0.2"/>
<path class="m" d="M900.6 249.2l4.7 -0.4"/>
<path class="m" d="M830.4 249.8l4.7 1.6"/>
<path class="m" d="M647.6 231.3l4.7 1.4"/>
<path color="#4d5ba8" d="M713.4 250.1l4.7-.1l2.2-3l-4.7 0z"/>
<path color="#4193dc" d="M654.8 236.1l4.7 1.8l2.2-2l-4.7-1.7z"/>
<path color="#5c60ba" d="M837.6 256.5l4.7 1.4l2.2-3.8l-4.7-1.3z"/>
<path color="#3e78b9" d="M769.5 238.8l4.7 .1l2.2-1.7l-4.7-.1z"/>
<path class="m" d="M872.7 257.6l4.7 -0.1"/>
<path class="m" d="M835.1 251.4l4.7 1.5"/>
<path class="m" d="M741.3 242l4.7 -0.7"/>
<path class="m" d="M652.3 232.7l4.7 1.6"/>
<path color="#48539a" d="M903.1 251.8l4.7-.8l2.2-2.7l-4.7 .5z"/>
<path color="#478dd9" d="M659.5 237.9l4.7 1.9l2.2-2.2l-4.7-1.7z"/>
<path class="m" d="M713.4 250.1l4.7 -0.1"/>
<path color="#5b5db6" d="M842.3 257.9l4.7 1.3l2.2-3.9l-4.7-1.2z"/>
<path color="#4f529f" d="M877.4 257.5l4.7-.3l2.2-3.6l-4.7 .1z"/>
<path class="m" d="M657 234.2l4.7 1.6"/>
<path class="m" d="M839.8 252.8l4.7 1.3"/>
<path color="#4d86d5" d="M664.2 239.8l4.7 1.8l2.2-2.3l-4.7-1.7z"/>
<path class="m" d="M769.5 238.8l4.7 0.1"/>
<path class="m" d="M905.3 248.8l4.7 -0.5"/>
<path color="#4959a2" d="M718.1 250l4.7-.4l2.2-2.9l-4.7 .3z"/>
<path color="#405f9f" d="M743.8 243.6l4.7-.9l2.2-2.2l-4.7 .8z"/>
<path class="m" d="M661.7 235.9l4.7 1.7"/>
<path color="#3f7dc0" d="M774.2 238.9l4.7 .4l2.2-1.6l-4.7-.5z"/>
<path color="#537fd1" d="M668.9 241.6l4.7 1.9l2.2-2.5l-4.7-1.7z"/>
<path color="#5a5bb2" d="M847 259.2l4.7 1l2.2-4l-4.7-.9z"/>
<path class="m" d="M844.5 254.1l4.7 1.1"/>
<path class="m" d="M877.4 257.5l4.7 -0.3"/>
<path class="m" d="M666.4 237.6l4.7 1.7"/>
<path color="#547ace" d="M673.6 243.5l4.7 1.8l2.2-2.6l-4.7-1.7z"/>
<path class="m" d="M718.1 250l4.7 -0.4"/>
<path class="m" d="M746 241.3l4.7 -0.7"/>
<path color="#465499" d="M907.8 251l4.7-.8l2.2-2.5l-4.7 .6z"/>
<path class="m" d="M774.2 238.9l4.7 0.4"/>
<path class="m" d="M671.1 239.3l4.7 1.7"/>
<path color="#5576cb" d="M678.3 245.3l4.7 1.7l2.2-2.7l-4.7-1.6z"/>
<path color="#4d519d" d="M882.1 257.2l4.7-.4l2.2-3.5l-4.7 .3z"/>
<path color="#4181c6" d="M778.9 239.3l4.7 .8l2.2-1.7l-4.7-.7z"/>
<path class="m" d="M849.2 255.3l4.7 0.9"/>
<path color="#5858ae" d="M851.7 260.2l4.7 .7l2.2-4l-4.7-.7z"/>
<path class="m" d="M675.8 241l4.7 1.7"/>
<path color="#5672c7" d="M683 247l4.7 1.6l2.2-2.9l-4.7-1.4z"/>
<path color="#46599e" d="M722.8 249.6l4.7-.7l2.2-2.8l-4.7 .6z"/>
<path class="m" d="M910 248.3l4.7 -0.6"/>
<path color="#3d65a3" d="M748.5 242.7l4.7-.8l2.2-2l-4.7 .6z"/>
<path class="m" d="M680.5 242.7l4.7 1.6"/>
<path class="m" d="M882.1 257.2l4.7 -0.4"/>
<path class="m" d="M778.9 239.3l4.7 0.8"/>
<path color="#4582cb" d="M783.6 240.1l4.7 1.2l2.2-1.8l-4.7-1.1z"/>
<path class="m" d="M853.9 256.2l4.7 0.7"/>
<path color="#566fc4" d="M687.7 248.6l4.7 1.4l2.2-2.9l-4.7-1.4z"/>
<path color="#5656a9" d="M856.4 260.9l4.7 .4l2.2-4l-4.7-.4z"/>
<path class="m" d="M685.2 244.3l4.7 1.5"/>
<path class="m" d="M722.8 249.6l4.7 -0.7"/>
<path class="m" d="M750.7 240.5l4.7 -0.7"/>
<path color="#445699" d="M912.5 250.2l4.7-.9l2.2-2.2l-4.7 .6z"/>
<path color="#4b519b" d="M886.8 256.8l4.7-.6l2.2-3.3l-4.7 .4z"/>
<path color="#4981cd" d="M788.3 241.3l4.7 1.4l2.2-1.9l-4.7-1.3z"/>
<path class="m" d="M783.6 240.1l4.7 1.1"/>
<path color="#566bc0" d="M692.4 250l4.7 1.3l2.2-3.1l-4.7-1.1z"/>
<path class="m" d="M689.9 245.7l4.7 1.3"/>
<path class="m" d="M858.6 256.9l4.7 0.4"/>
<path color="#4f7ecd" d="M793 242.7l4.7 1.6l2.2-2l-4.7-1.5z"/>
<path color="#1bafd7" d="M619.6 228.4l4.7 1l2.2-1.2l-4.7-1z"/>
<path color="#43599b" d="M727.5 248.9l4.7-.9l2.2-2.6l-4.7 .7z"/>
<path class="m" d="M914.7 247.7l4.7 -0.6"/>
<path class="m" d="M886.8 256.8l4.7 -0.6"/>
<path color="#396ca9" d="M753.2 241.9l4.7-.7l2.2-1.9l-4.7 .6z"/>
<path color="#5454a6" d="M861.1 261.3l4.7 .2l2.2-3.9l-4.7-.3z"/>
<path class="m" d="M788.3 241.3l4.7 1.4"/>
<path color="#5567bb" d="M697.1 251.3l4.7 .9l2.2-3.1l-4.7-.9z"/>
<path class="m" d="M694.6 247.1l4.7 1.1"/>
<path color="#537bcd" d="M797.7 244.3l4.7 1.8l2.2-2.2l-4.7-1.6z"/>
<path class="m" d="M793 242.7l4.7 1.6"/>
<path class="m" d="M619.6 228.4l4.7 1"/>
<path color="#1caedb" d="M624.3 229.4l4.7 1.1l2.2-1.2l-4.7-1.1z"/>
<path class="m" d="M727.5 248.9l4.7 -0.9"/>
<path color="#5578cc" d="M802.4 246.1l4.7 2l2.2-2.4l-4.7-1.8z"/>
<path color="#495199" d="M891.5 256.2l4.7-.8l2.2-3l-4.7 .5z"/>
<path class="m" d="M755.4 239.9l4.7 -0.5"/>
<path class="m" d="M863.3 257.3l4.7 0.2"/>
<path class="m" d="M699.3 248.2l4.7 0.9"/>
<path color="#5464b7" d="M701.8 252.2l4.7 .7l2.2-3.1l-4.7-.7z"/>
<path color="#5774ca" d="M807.1 248.1l4.7 2.1l2.2-2.7l-4.7-1.8z"/>
<path class="m" d="M797.7 244.3l4.7 1.8"/>
<path color="#5153a2" d="M865.8 261.5l4.7-.1l2.2-3.8l-4.7 0z"/>
<path color="#1eaedf" d="M629 230.5l4.7 1.1l2.2-1.3l-4.7-1z"/>
<path color="#586fc6" d="M811.8 250.2l4.7 2l2.2-2.8l-4.7-1.9z"/>
<path class="m" d="M624.3 229.4l4.7 1.1"/>
<path class="m" d="M802.4 246.1l4.7 2"/>
<path class="m" d="M891.5 256.2l4.7 -0.7"/>
<path color="#3774af" d="M757.9 241.2l4.7-.6l2.2-1.6l-4.7 .3z"/>
<path color="#405b9a" d="M732.2 248l4.7-1.1l2.2-2.4l-4.7 .9z"/>
<path color="#5a6ac3" d="M816.5 252.2l4.7 2.1l2.2-3l-4.7-1.9z"/>
<path class="m" d="M704 249.1l4.7 0.7"/>
<path class="m" d="M807.1 248.1l4.7 2.1"/>
<path color="#5b67c0" d="M821.2 254.3l4.7 2.1l2.2-3.3l-4.7-1.8z"/>
<path class="m" d="M868 257.6l4.7 0.1"/>
<path color="#5060b0" d="M706.5 252.9l4.7 .3l2.2-3.1l-4.7-.3z"/>
<path color="#20aee2" d="M633.7 231.6l4.7 1.3l2.2-1.4l-4.7-1.2z"/>
<path class="m" d="M629 230.5l4.7 1.2"/>
<path class="m" d="M811.8 250.2l4.7 2.1"/>
<path class="m" d="M760.1 239.3l4.7 -0.4"/>
<path color="#5b65be" d="M825.9 256.4l4.7 1.9l2.2-3.4l-4.7-1.8z"/>
<path color="#475197" d="M896.2 255.4l4.7-.8l2.2-2.8l-4.7 .6z"/>
<path class="m" d="M732.2 248l4.7 -1"/>
<path class="m" d="M816.5 252.2l4.7 2.1"/>
<path color="#4f529f" d="M870.5 261.4l4.7-.2l2.2-3.7l-4.7 .1z"/>
<path color="#25ade4" d="M638.4 232.9l4.7 1.5l2.2-1.5l-4.7-1.4z"/>
<path class="m" d="M821.2 254.3l4.7 2"/>
<path color="#5c62bc" d="M830.6 258.3l4.7 1.8l2.3-3.6l-4.8-1.6z"/>
<path class="m" d="M708.7 249.8l4.7 0.3"/>
<path class="m" d="M633.7 231.6l4.7 1.3"/>
<path color="#357bb7" d="M762.6 240.6l4.7-.2l2.2-1.6l-4.7 .2z"/>
<path class="m" d="M825.9 256.4l4.7 1.9"/>
<path class="m" d="M896.2 255.4l4.7 -0.8"/>
<path color="#2aaae5" d="M643.1 234.4l4.7 1.6l2.3-1.6l-4.8-1.5z"/>
<path color="#5c60ba" d="M835.3 260.1l4.7 1.6l2.3-3.8l-4.7-1.4z"/>
<path color="#4c5da7" d="M711.2 253.2l4.7-.2l2.2-3l-4.7 .1z"/>
<path class="m" d="M872.7 257.6l4.7 -0.1"/>
<path color="#3e5e9b" d="M736.9 246.9l4.7-1.1l2.2-2.2l-4.7 .9z"/>
<path class="m" d="M638.4 232.9l4.7 1.5"/>
<path class="m" d="M830.6 258.3l4.7 1.8"/>
<path color="#31a6e5" d="M647.8 236l4.7 1.9l2.3-1.8l-4.7-1.7z"/>
<path class="m" d="M764.8 239l4.7 -0.2"/>
<path color="#5c5eb8" d="M840 261.7l4.7 1.4l2.3-3.9l-4.7-1.3z"/>
<path color="#4d519c" d="M875.2 261.2l4.7-.4l2.2-3.6l-4.7 .3z"/>
<path class="m" d="M643.1 234.4l4.7 1.7"/>
<path class="m" d="M835.3 260.1l4.7 1.6"/>
<path color="#455296" d="M900.9 254.6l4.7-1l2.2-2.6l-4.7 .8z"/>
<path class="m" d="M713.4 250.1l4.7 -0.1"/>
<path color="#38a1e5" d="M652.5 237.9l4.7 1.9l2.3-1.9l-4.7-1.8z"/>
<path class="m" d="M736.9 246.9l4.7 -1.1"/>
<path color="#3483bf" d="M767.3 240.4l4.7 0l2.2-1.5l-4.7-.1z"/>
<path color="#3f9ae2" d="M657.2 239.8l4.7 2l2.3-2l-4.7-1.9z"/>
<path class="m" d="M647.8 236l4.7 1.8"/>
<path color="#5a5bb4" d="M844.7 263.1l4.7 1l2.3-3.9l-4.7-1z"/>
<path class="m" d="M840 261.7l4.7 1.4"/>
<path class="m" d="M877.4 257.5l4.7 -0.3"/>
<path color="#475ba1" d="M715.9 253l4.7-.5l2.2-2.9l-4.7 .4z"/>
<path color="#4592de" d="M661.9 241.8l4.7 2l2.3-2.2l-4.7-1.8z"/>
<path class="m" d="M900.9 254.6l4.7 -1"/>
<path class="m" d="M652.5 237.9l4.7 1.9"/>
<path class="m" d="M769.5 238.8l4.7 0.1"/>
<path color="#4c8ad9" d="M666.6 243.8l4.7 2.1l2.3-2.4l-4.7-1.9z"/>
<path color="#39649f" d="M741.6 245.8l4.7-1.1l2.2-2l-4.7 .9z"/>
<path class="m" d="M657.2 239.8l4.7 2"/>
<path class="m" d="M844.7 263.1l4.7 1.1"/>
<path color="#5858ae" d="M849.4 264.1l4.7 .7l2.3-3.9l-4.7-.7z"/>
<path color="#3589c8" d="M772 240.4l4.7 .4l2.2-1.5l-4.7-.4z"/>
<path color="#5281d3" d="M671.3 245.9l4.8 1.9l2.2-2.5l-4.7-1.8z"/>
<path color="#4b509a" d="M879.9 260.8l4.7-.6l2.2-3.4l-4.7 .4z"/>
<path class="m" d="M718.1 250l4.7 -0.4"/>
<path class="m" d="M661.9 241.8l4.7 2"/>
<path color="#425496" d="M905.6 253.6l4.7-1l2.2-2.4l-4.7 .8z"/>
<path color="#557ccf" d="M676.1 247.8l4.7 1.9l2.2-2.7l-4.7-1.7z"/>
<path class="m" d="M666.6 243.8l4.7 2"/>
<path class="m" d="M741.6 245.8l4.7 -1.1"/>
<path class="m" d="M849.4 264.1l4.7 0.7"/>
<path class="m" d="M774.2 238.9l4.7 0.4"/>
<path class="m" d="M671.3 245.9l4.7 2"/>
<path class="m" d="M882.1 257.2l4.7 -0.4"/>
<path color="#5577cb" d="M680.8 249.7l4.7 1.7l2.2-2.8l-4.7-1.6z"/>
<path color="#435a9c" d="M720.6 252.5l4.7-.9l2.2-2.7l-4.7 .7z"/>
<path color="#5656a9" d="M854.1 264.8l4.8 .4l2.2-3.9l-4.7-.4z"/>
<path color="#388ecf" d="M776.7 240.8l4.7 .9l2.2-1.6l-4.7-.8z"/>
<path class="m" d="M905.6 253.6l4.7 -1.1"/>
<path class="m" d="M676.1 247.8l4.7 1.9"/>
<path color="#5673c7" d="M685.5 251.4l4.7 1.5l2.2-2.9l-4.7-1.4z"/>
<path color="#346ca4" d="M746.3 244.7l4.7-1l2.2-1.8l-4.7 .8z"/>
<path color="#495097" d="M884.6 260.2l4.7-.8l2.2-3.2l-4.7 .6z"/>
<path class="m" d="M680.8 249.7l4.7 1.7"/>
<path class="m" d="M722.8 249.6l4.7 -0.7"/>
<path class="m" d="M854.1 264.8l4.7 0.4"/>
<path class="m" d="M778.9 239.3l4.7 0.8"/>
<path color="#3b90d4" d="M781.4 241.7l4.7 1.2l2.2-1.6l-4.7-1.2z"/>
<path color="#566fc3" d="M690.2 252.9l4.7 1.3l2.2-2.9l-4.7-1.3z"/>
<path color="#405695" d="M910.3 252.6l4.7-1.2l2.2-2.1l-4.7 .9z"/>
<path class="m" d="M685.5 251.4l4.7 1.5"/>
<path color="#5354a5" d="M858.9 265.2l4.7 .2l2.2-3.9l-4.7-.2z"/>
<path class="m" d="M746.3 244.7l4.7 -1"/>
<path class="m" d="M886.8 256.8l4.7 -0.6"/>
<path color="#408fd6" d="M786.1 242.9l4.7 1.5l2.2-1.7l-4.7-1.4z"/>
<path class="m" d="M783.6 240.1l4.7 1.1"/>
<path color="#405a99" d="M725.3 251.6l4.7-1.1l2.2-2.5l-4.7 .9z"/>
<path color="#556bbe" d="M694.9 254.2l4.7 1.1l2.2-3.1l-4.7-.9z"/>
<path class="m" d="M690.2 252.9l4.7 1.3"/>
<path class="m" d="M910.3 252.6l4.7 -1.2"/>
<path class="m" d="M858.9 265.2l4.7 0.1"/>
<path color="#468bd6" d="M790.8 244.4l4.7 1.8l2.2-1.9l-4.7-1.6z"/>
<path color="#3174ab" d="M751 243.7l4.7-.9l2.2-1.6l-4.7 .7z"/>
<path class="m" d="M788.3 241.3l4.7 1.4"/>
<path color="#465095" d="M889.3 259.4l4.7-1l2.2-3l-4.7 .8z"/>
<path color="#4d86d5" d="M795.5 246.2l4.7 2l2.2-2.1l-4.7-1.8z"/>
<path color="#17b5c9" d="M617.4 229.3l4.7 1.1l2.2-1l-4.7-1z"/>
<path color="#5152a1" d="M863.6 265.4l4.7-.1l2.2-3.9l-4.7 .1z"/>
<path class="m" d="M727.5 248.9l4.7 -0.9"/>
<path class="m" d="M694.9 254.2l4.7 1"/>
<path color="#5367b9" d="M699.6 255.3l4.7 .7l2.2-3.1l-4.7-.7z"/>
<path color="#547ed1" d="M800.2 248.2l4.7 2.2l2.2-2.3l-4.7-2z"/>
<path class="m" d="M793 242.7l4.7 1.6"/>
<path color="#5579cd" d="M804.9 250.4l4.7 2.3l2.2-2.5l-4.7-2.1z"/>
<path class="m" d="M751 243.7l4.7 -0.9"/>
<path class="m" d="M891.5 256.2l4.7 -0.7"/>
<path color="#5773c9" d="M809.6 252.7l4.7 2.3l2.2-2.8l-4.7-2z"/>
<path class="m" d="M797.7 244.3l4.7 1.8"/>
<path color="#16b6ce" d="M622.1 230.4l4.7 1.2l2.2-1.1l-4.7-1.1z"/>
<path class="m" d="M619.6 228.4l4.7 1"/>
<path class="m" d="M863.6 265.4l4.7 -0.1"/>
<path color="#596ec5" d="M814.3 255l4.7 2.3l2.2-3l-4.7-2.1z"/>
<path class="m" d="M699.6 255.3l4.7 0.7"/>
<path class="m" d="M802.4 246.1l4.7 2"/>
<path color="#3d5c98" d="M730 250.5l4.7-1.3l2.2-2.3l-4.7 1.1z"/>
<path color="#5b69c2" d="M819 257.3l4.7 2.3l2.2-3.2l-4.7-2.1z"/>
<path color="#4f63b1" d="M704.3 256l4.7 .2l2.2-3l-4.7-.3z"/>
<path class="m" d="M807.1 248.1l4.7 2.1"/>
<path color="#4e519d" d="M868.3 265.3l4.7-.4l2.2-3.7l-4.7 .2z"/>
<path color="#5b66bf" d="M823.7 259.6l4.7 2.1l2.2-3.4l-4.7-1.9z"/>
<path color="#2d7cb2" d="M755.7 242.8l4.7-.6l2.2-1.6l-4.7 .6z"/>
<path color="#18b6d2" d="M626.8 231.6l4.7 1.2l2.2-1.2l-4.7-1.1z"/>
<path class="m" d="M811.8 250.2l4.7 2.1"/>
<path class="m" d="M624.3 229.4l4.7 1.1"/>
<path color="#445094" d="M894 258.4l4.7-1l2.2-2.8l-4.7 .8z"/>
<path class="m" d="M816.5 252.2l4.7 2.1"/>
<path color="#5c63bd" d="M828.4 261.7l4.7 2l2.2-3.6l-4.7-1.8z"/>
<path class="m" d="M732.2 248l4.7 -1"/>
<path class="m" d="M821.2 254.3l4.7 2"/>
<path class="m" d="M704.3 256l4.7 0.3"/>
<path color="#5c61bb" d="M833.1 263.7l4.7 1.8l2.2-3.8l-4.7-1.6z"/>
<path color="#1ab6d8" d="M631.5 232.8l4.7 1.3l2.2-1.2l-4.7-1.3z"/>
<path class="m" d="M868.3 265.3l4.7 -0.4"/>
<path class="m" d="M825.9 256.4l4.7 1.9"/>
<path class="m" d="M755.7 242.8l4.7 -0.7"/>
<path class="m" d="M629 230.5l4.7 1.2"/>
<path class="m" d="M896.2 255.4l4.7 -0.8"/>
<path class="m" d="M830.6 258.3l4.7 1.8"/>
<path color="#4a5ea7" d="M709 256.2l4.7-.2l2.2-3l-4.7 .2z"/>
<path color="#5c5fb9" d="M837.8 265.5l4.7 1.4l2.2-3.8l-4.7-1.4z"/>
<path color="#1cb7e0" d="M636.2 234.1l4.7 1.6l2.2-1.3l-4.7-1.5z"/>
<path color="#4b509a" d="M873 264.9l4.7-.6l2.2-3.5l-4.7 .4z"/>
<path class="m" d="M835.3 260.1l4.7 1.6"/>
<path class="m" d="M633.7 231.6l4.7 1.3"/>
<path color="#2a85ba" d="M760.4 242.2l4.7-.4l2.2-1.4l-4.7 .2z"/>
<path color="#37629b" d="M734.7 249.2l4.7-1.3l2.2-2.1l-4.7 1.1z"/>
<path color="#1fb7e9" d="M640.9 235.7l4.7 1.8l2.2-1.5l-4.7-1.6z"/>
<path class="m" d="M709 256.2l4.7 -0.3"/>
<path color="#5b5cb5" d="M842.5 266.9l4.7 1.2l2.2-4l-4.7-1z"/>
<path color="#415293" d="M898.7 257.4l4.7-1.3l2.2-2.5l-4.7 1z"/>
<path class="m" d="M840 261.7l4.7 1.4"/>
<path class="m" d="M638.4 232.9l4.7 1.5"/>
<path color="#24b4ec" d="M645.6 237.5l4.7 2l2.2-1.6l-4.7-1.9z"/>
<path class="m" d="M873 264.9l4.7 -0.6"/>
<path class="m" d="M760.4 242.2l4.7 -0.4"/>
<path class="m" d="M736.9 246.9l4.7 -1.1"/>
<path color="#2caeeb" d="M650.3 239.5l4.7 2.1l2.2-1.8l-4.7-1.9z"/>
<path class="m" d="M643.1 234.4l4.7 1.7"/>
<path color="#455ca0" d="M713.7 256l4.7-.7l2.2-2.8l-4.7 .5z"/>
<path class="m" d="M844.7 263.1l4.7 1.1"/>
<path color="#5859af" d="M847.2 268.1l4.7 .7l2.2-4l-4.7-.7z"/>
<path class="m" d="M900.9 254.6l4.7 -1"/>
<path color="#35a7e9" d="M655 241.6l4.7 2.1l2.2-1.9l-4.7-2z"/>
<path color="#298dc3" d="M765.1 241.8l4.7 0l2.2-1.4l-4.7 0z"/>
<path class="m" d="M647.8 236l4.7 1.8"/>
<path color="#494f97" d="M877.7 264.3l4.7-.8l2.2-3.3l-4.7 .6z"/>
<path color="#3d9fe7" d="M659.7 243.7l4.7 2.2l2.2-2.1l-4.7-2z"/>
<path class="m" d="M652.5 237.9l4.7 1.9"/>
<path color="#4495e0" d="M664.4 245.9l4.7 2.2l2.2-2.2l-4.7-2.1z"/>
<path class="m" d="M713.7 256l4.7 -0.7"/>
<path color="#31699f" d="M739.4 247.9l4.7-1.3l2.2-1.9l-4.7 1.1z"/>
<path class="m" d="M849.4 264.1l4.7 0.7"/>
<path color="#4b8bda" d="M669.1 248.1l4.7 2.2l2.3-2.5l-4.8-1.9z"/>
<path class="m" d="M657.2 239.8l4.7 2"/>
<path class="m" d="M765.1 241.8l4.7 0"/>
<path color="#5556a9" d="M851.9 268.8l4.7 .4l2.3-4l-4.8-.4z"/>
<path class="m" d="M877.7 264.3l4.7 -0.8"/>
<path class="m" d="M661.9 241.8l4.7 2"/>
<path color="#3e5592" d="M903.4 256.1l4.7-1.3l2.2-2.2l-4.7 1z"/>
<path color="#5182d3" d="M673.8 250.3l4.7 2l2.3-2.6l-4.7-1.9z"/>
<path color="#2995cc" d="M769.8 241.8l4.7 .4l2.2-1.4l-4.7-.4z"/>
<path class="m" d="M666.6 243.8l4.7 2"/>
<path class="m" d="M741.6 245.8l4.7 -1.1"/>
<path color="#547ccf" d="M678.5 252.3l4.7 1.8l2.3-2.7l-4.7-1.7z"/>
<path color="#415b9b" d="M718.4 255.3l4.7-1.1l2.2-2.6l-4.7 .9z"/>
<path class="m" d="M671.3 245.9l4.7 2"/>
<path class="m" d="M854.1 264.8l4.7 0.4"/>
<path class="m" d="M905.6 253.6l4.7 -1.1"/>
<path class="m" d="M676.1 247.8l4.7 1.9"/>
<path color="#5577cb" d="M683.2 254.1l4.7 1.7l2.3-2.9l-4.7-1.5z"/>
<path color="#464f94" d="M882.4 263.5l4.7-1l2.2-3.1l-4.7 .8z"/>
<path class="m" d="M769.8 241.8l4.7 0.4"/>
<path color="#5353a4" d="M856.6 269.2l4.7 .1l2.3-3.9l-4.7-.2z"/>
<path class="m" d="M680.8 249.7l4.7 1.7"/>
<path color="#2c9bd5" d="M774.5 242.2l4.7 .8l2.2-1.3l-4.7-.9z"/>
<path class="m" d="M718.4 255.3l4.7 -1"/>
<path color="#2c72a5" d="M744.1 246.6l4.7-1.2l2.2-1.7l-4.7 1z"/>
<path color="#5573c6" d="M687.9 255.8l4.7 1.4l2.3-3l-4.7-1.3z"/>
<path class="m" d="M685.5 251.4l4.7 1.5"/>
<path class="m" d="M882.4 263.5l4.7 -1"/>
<path class="m" d="M858.9 265.2l4.7 0.1"/>
<path color="#3c5792" d="M908.1 254.8l4.7-1.5l2.2-1.9l-4.7 1.2z"/>
<path color="#309edb" d="M779.2 243l4.7 1.3l2.2-1.4l-4.7-1.2z"/>
<path class="m" d="M774.5 242.2l4.7 0.9"/>
<path color="#546ec1" d="M692.6 257.2l4.8 1.1l2.2-3l-4.7-1.1z"/>
<path class="m" d="M746.3 244.7l4.7 -1"/>
<path class="m" d="M690.2 252.9l4.7 1.3"/>
<path color="#3d5b97" d="M723.1 254.2l4.7-1.3l2.2-2.4l-4.7 1.1z"/>
<path color="#50519f" d="M861.3 269.3l4.7-.2l2.3-3.8l-4.7 .1z"/>
<path color="#369ddf" d="M783.9 244.3l4.7 1.7l2.2-1.6l-4.7-1.5z"/>
<path color="#444e91" d="M887.1 262.5l4.7-1.1l2.2-3l-4.7 1z"/>
<path class="m" d="M910.3 252.6l4.7 -1.2"/>
<path class="m" d="M779.2 243l4.7 1.3"/>
<path class="m" d="M694.9 254.2l4.7 1"/>
<path color="#3d9ae1" d="M788.6 246l4.7 2l2.2-1.8l-4.7-1.8z"/>
<path color="#526abb" d="M697.4 258.3l4.7 .7l2.2-3l-4.7-.7z"/>
<path class="m" d="M723.1 254.2l4.7 -1.3"/>
<path class="m" d="M863.6 265.4l4.7 -0.1"/>
<path color="#277aab" d="M748.8 245.4l4.7-1.1l2.2-1.5l-4.7 .9z"/>
<path color="#4493de" d="M793.3 248l4.7 2.2l2.2-2l-4.7-2z"/>
<path class="m" d="M783.9 244.3l4.7 1.7"/>
<path class="m" d="M887.1 262.5l4.7 -1.2"/>
<path color="#4c8ad8" d="M798 250.2l4.7 2.4l2.2-2.2l-4.7-2.2z"/>
<path color="#547ed1" d="M802.7 252.6l4.7 2.5l2.2-2.4l-4.7-2.3z"/>
<path color="#5678cd" d="M807.4 255.1l4.7 2.6l2.2-2.7l-4.7-2.3z"/>
<path class="m" d="M788.6 246l4.7 2"/>
<path class="m" d="M699.6 255.3l4.7 0.7"/>
<path color="#5872c8" d="M812.1 257.7l4.7 2.6l2.2-3l-4.7-2.3z"/>
<path color="#21b8b4" d="M615.2 230.1l4.7 1.2l2.2-.9l-4.7-1.1z"/>
<path color="#4d509b" d="M866 269.1l4.7-.5l2.3-3.7l-4.7 .4z"/>
<path color="#5a6cc4" d="M816.8 260.3l4.7 2.5l2.2-3.2l-4.7-2.3z"/>
<path class="m" d="M751 243.7l4.7 -0.9"/>
<path color="#4e65b2" d="M702.1 259l4.7 .2l2.2-3l-4.7-.2z"/>
<path class="m" d="M793.3 248l4.7 2.2"/>
<path color="#5b67c0" d="M821.5 262.8l4.7 2.3l2.2-3.4l-4.7-2.1z"/>
<path color="#366098" d="M727.8 252.9l4.7-1.4l2.2-2.3l-4.7 1.3z"/>
<path class="m" d="M798 250.2l4.7 2.4"/>
<path color="#5b64be" d="M826.2 265.1l4.7 2.2l2.2-3.6l-4.7-2z"/>
<path class="m" d="M802.7 252.6l4.7 2.5"/>
<path class="m" d="M807.4 255.1l4.7 2.6"/>
<path color="#415090" d="M891.8 261.4l4.7-1.4l2.2-2.6l-4.7 1z"/>
<path color="#1fb9ba" d="M619.9 231.3l4.7 1.2l2.2-.9l-4.7-1.2z"/>
<path class="m" d="M812.1 257.7l4.7 2.6"/>
<path class="m" d="M615.2 230.1l4.7 1.1"/>
<path class="m" d="M868.3 265.3l4.7 -0.4"/>
<path color="#5c61bb" d="M830.9 267.3l4.7 1.9l2.2-3.7l-4.7-1.8z"/>
<path class="m" d="M816.8 260.3l4.7 2.5"/>
<path class="m" d="M704.3 256l4.7 0.3"/>
<path class="m" d="M821.5 262.8l4.7 2.4"/>
<path color="#2284b3" d="M753.5 244.3l4.7-.8l2.2-1.3l-4.7 .6z"/>
<path class="m" d="M727.8 252.9l4.7 -1.5"/>
<path class="m" d="M826.2 265.1l4.7 2.2"/>
<path color="#5c5fb9" d="M835.6 269.2l4.7 1.6l2.2-3.9l-4.7-1.4z"/>
<path color="#1dbac0" d="M624.6 232.5l4.7 1.3l2.2-1l-4.7-1.2z"/>
<path class="m" d="M891.8 261.4l4.7 -1.3"/>
<path class="m" d="M619.9 231.3l4.7 1.2"/>
<path color="#4860a7" d="M706.8 259.2l4.7-.3l2.2-2.9l-4.7 .2z"/>
<path class="m" d="M830.9 267.3l4.7 1.9"/>
<path color="#4a4f97" d="M870.7 268.6l4.7-.8l2.3-3.5l-4.7 .6z"/>
<path color="#5c5db6" d="M840.3 270.8l4.7 1.2l2.2-3.9l-4.7-1.2z"/>
<path class="m" d="M755.7 242.8l4.7 -0.7"/>
<path class="m" d="M835.6 269.2l4.7 1.6"/>
<path color="#1bbbc8" d="M629.3 233.8l4.7 1.4l2.2-1.1l-4.7-1.3z"/>
<path class="m" d="M624.6 232.5l4.7 1.3"/>
<path class="m" d="M709 256.2l4.7 -0.3"/>
<path color="#2f679b" d="M732.5 251.5l4.7-1.6l2.2-2l-4.7 1.3z"/>
<path class="m" d="M873 264.9l4.7 -0.6"/>
<path color="#18bed3" d="M634 235.2l4.7 1.7l2.2-1.2l-4.7-1.6z"/>
<path color="#3d528f" d="M896.5 260l4.7-1.5l2.2-2.4l-4.7 1.3z"/>
<path class="m" d="M840.3 270.8l4.7 1.2"/>
<path color="#5959af" d="M845 272l4.7 .8l2.2-4l-4.7-.7z"/>
<path color="#1f8dbb" d="M758.2 243.5l4.7-.5l2.2-1.2l-4.7 .4z"/>
<path class="m" d="M629.3 233.8l4.7 1.4"/>
<path color="#19bfdd" d="M638.7 236.9l4.7 1.9l2.2-1.3l-4.7-1.8z"/>
<path color="#435d9f" d="M711.5 258.9l4.7-.9l2.2-2.7l-4.7 .7z"/>
<path class="m" d="M732.5 251.5l4.7 -1.5"/>
<path color="#474e93" d="M875.4 267.8l4.7-1l2.3-3.3l-4.7 .8z"/>
<path color="#1dbee7" d="M643.4 238.8l4.7 2.1l2.2-1.4l-4.7-2z"/>
<path class="m" d="M634 235.2l4.7 1.7"/>
<path class="m" d="M896.5 260l4.7 -1.5"/>
<path class="m" d="M845 272l4.7 0.8"/>
<path class="m" d="M760.4 242.2l4.7 -0.4"/>
<path color="#20bcf1" d="M648.1 240.9l4.7 2.3l2.2-1.6l-4.7-2.1z"/>
<path color="#5555a8" d="M849.7 272.8l4.7 .4l2.2-4l-4.7-.4z"/>
<path color="#29b4f0" d="M652.8 243.2l4.7 2.4l2.2-1.9l-4.7-2.1z"/>
<path class="m" d="M638.7 236.9l4.7 1.9"/>
<path class="m" d="M713.7 256l4.7 -0.7"/>
<path color="#33aaec" d="M657.5 245.6l4.7 2.4l2.2-2.1l-4.7-2.2z"/>
<path class="m" d="M877.7 264.3l4.7 -0.8"/>
<path color="#1d97c5" d="M762.9 243l4.7-.1l2.2-1.1l-4.7 0z"/>
<path color="#3ca0e7" d="M662.2 248l4.7 2.3l2.2-2.2l-4.7-2.2z"/>
<path class="m" d="M643.4 238.8l4.7 2.1"/>
<path color="#4396e1" d="M666.9 250.3l4.7 2.3l2.2-2.3l-4.7-2.2z"/>
<path color="#296fa0" d="M737.2 249.9l4.7-1.5l2.2-1.8l-4.7 1.3z"/>
<path class="m" d="M648.1 240.9l4.7 2.3"/>
<path class="m" d="M849.7 272.8l4.7 0.4"/>
<path color="#4b8cda" d="M671.6 252.6l4.7 2.2l2.2-2.5l-4.7-2z"/>
<path class="m" d="M652.8 243.2l4.7 2.4"/>
<path color="#3a558e" d="M901.2 258.5l4.7-1.6l2.2-2.1l-4.7 1.3z"/>
<path class="m" d="M657.5 245.6l4.7 2.4"/>
<path color="#5182d4" d="M676.3 254.8l4.7 2l2.2-2.7l-4.7-1.8z"/>
<path color="#3e5b99" d="M716.2 258l4.7-1.2l2.2-2.6l-4.7 1.1z"/>
<path color="#5253a3" d="M854.4 273.2l4.7 0l2.2-3.9l-4.7-.1z"/>
<path class="m" d="M765.1 241.8l4.7 0"/>
<path class="m" d="M662.2 248l4.7 2.4"/>
<path color="#444d90" d="M880.1 266.8l4.8-1.2l2.2-3.1l-4.7 1z"/>
<path class="m" d="M666.9 250.3l4.7 2.3"/>
<path class="m" d="M737.2 249.9l4.7 -1.5"/>
<path color="#547ccf" d="M681 256.8l4.7 1.8l2.2-2.8l-4.7-1.7z"/>
<path class="m" d="M671.6 252.6l4.7 2.2"/>
<path color="#1da1d0" d="M767.6 242.9l4.7 .4l2.2-1.1l-4.7-.4z"/>
<path class="m" d="M901.2 258.5l4.7 -1.6"/>
<path class="m" d="M676.3 254.8l4.7 2"/>
<path class="m" d="M718.4 255.3l4.7 -1"/>
<path class="m" d="M854.4 273.2l4.7 0"/>
<path color="#5477ca" d="M685.7 258.6l4.7 1.4l2.2-2.8l-4.7-1.4z"/>
<path class="m" d="M882.4 263.5l4.7 -1"/>
<path class="m" d="M681 256.8l4.7 1.8"/>
<path class="m" d="M769.8 241.8l4.7 0.4"/>
<path color="#4f519d" d="M859.1 273.2l4.7-.3l2.2-3.8l-4.7 .2z"/>
<path color="#1fa8da" d="M772.3 243.3l4.7 .9l2.2-1.2l-4.7-.8z"/>
<path color="#2277a4" d="M741.9 248.4l4.7-1.5l2.2-1.5l-4.7 1.2z"/>
<path color="#5372c4" d="M690.4 260l4.7 1.2l2.3-2.9l-4.8-1.1z"/>
<path class="m" d="M685.7 258.6l4.7 1.5"/>
<path color="#35598f" d="M905.9 256.9l4.7-1.8l2.2-1.8l-4.7 1.5z"/>
<path color="#375e96" d="M720.9 256.8l4.7-1.5l2.2-2.4l-4.7 1.3z"/>
<path color="#414e8e" d="M884.9 265.6l4.7-1.4l2.2-2.8l-4.7 1.1z"/>
<path class="m" d="M859.1 273.2l4.7 -0.3"/>
<path color="#23ace2" d="M777 244.2l4.7 1.4l2.2-1.3l-4.7-1.3z"/>
<path class="m" d="M774.5 242.2l4.7 0.9"/>
<path class="m" d="M741.9 248.4l4.7 -1.4"/>
<path class="m" d="M690.4 260l4.7 1.1"/>
<path color="#516dbd" d="M695.1 261.2l4.7 .7l2.3-2.9l-4.7-.7z"/>
<path class="m" d="M905.9 256.9l4.7 -1.8"/>
<path class="m" d="M723.1 254.2l4.7 -1.3"/>
<path color="#29ace6" d="M781.7 245.6l4.7 1.8l2.2-1.4l-4.7-1.7z"/>
<path class="m" d="M887.1 262.5l4.7 -1.2"/>
<path color="#4b4f98" d="M863.8 272.9l4.7-.7l2.2-3.6l-4.7 .5z"/>
<path class="m" d="M779.2 243l4.7 1.3"/>
<path color="#31a8e8" d="M786.4 247.4l4.7 2.2l2.2-1.6l-4.7-2z"/>
<path class="m" d="M695.1 261.2l4.7 0.8"/>
<path color="#3ba2e8" d="M791.1 249.6l4.7 2.4l2.2-1.8l-4.7-2.2z"/>
<path color="#596fc6" d="M814.6 263.1l4.7 2.8l2.2-3.1l-4.7-2.5z"/>
<path color="#5676cb" d="M809.9 260.3l4.7 2.8l2.2-2.8l-4.7-2.6z"/>
<path color="#5b68c2" d="M819.3 265.9l4.7 2.6l2.2-3.4l-4.7-2.3z"/>
<path color="#1c80aa" d="M746.6 246.9l4.7-1.2l2.2-1.4l-4.7 1.1z"/>
<path color="#547dd0" d="M805.2 257.4l4.7 2.9l2.2-2.6l-4.7-2.6z"/>
<path color="#4396e1" d="M795.8 252l4.7 2.7l2.2-2.1l-4.7-2.4z"/>
<path color="#4c89d8" d="M800.5 254.7l4.7 2.7l2.2-2.3l-4.7-2.5z"/>
<path color="#5b65bf" d="M824 268.5l4.7 2.3l2.2-3.5l-4.7-2.2z"/>
<path color="#4c68b3" d="M699.8 261.9l4.7 .2l2.3-2.9l-4.7-.2z"/>
<path class="m" d="M783.9 244.3l4.7 1.7"/>
<path class="m" d="M863.8 272.9l4.7 -0.6"/>
<path color="#5c62bc" d="M828.7 270.8l4.7 2.1l2.2-3.7l-4.7-1.9z"/>
<path class="m" d="M788.6 246l4.7 2"/>
<path color="#2f6497" d="M725.6 255.3l4.7-1.7l2.2-2.1l-4.7 1.4z"/>
<path color="#3d508c" d="M889.6 264.2l4.7-1.6l2.2-2.6l-4.7 1.4z"/>
<path class="m" d="M793.3 248l4.7 2.2"/>
<path color="#5c60ba" d="M833.4 272.9l4.7 1.8l2.2-3.9l-4.7-1.6z"/>
<path class="m" d="M816.8 260.3l4.7 2.5"/>
<path class="m" d="M812.1 257.7l4.7 2.6"/>
<path class="m" d="M821.5 262.8l4.7 2.4"/>
<path class="m" d="M746.6 246.9l4.7 -1.3"/>
<path class="m" d="M807.4 255.1l4.7 2.6"/>
<path class="m" d="M798 250.2l4.7 2.4"/>
<path class="m" d="M802.7 252.6l4.7 2.5"/>
<path class="m" d="M826.2 265.1l4.7 2.2"/>
<path class="m" d="M699.8 261.9l4.7 0.2"/>
<path color="#38ba9a" d="M613 230.8l4.7 1.2l2.2-.7l-4.7-1.2z"/>
<path class="m" d="M830.9 267.3l4.7 1.9"/>
<path color="#484d94" d="M868.5 272.2l4.7-.9l2.2-3.5l-4.7 .8z"/>
<path color="#5c5db7" d="M838.1 274.7l4.7 1.3l2.2-4l-4.7-1.2z"/>
<path class="m" d="M727.8 252.9l4.7 -1.5"/>
<path color="#4662a7" d="M704.5 262.1l4.7-.4l2.3-2.8l-4.7 .3z"/>
<path class="m" d="M891.8 261.4l4.7 -1.3"/>
<path class="m" d="M835.6 269.2l4.7 1.6"/>
<path color="#33bba1" d="M617.7 232l4.7 1.3l2.2-.8l-4.7-1.2z"/>
<path class="m" d="M615.2 230.1l4.7 1.1"/>
<path color="#188bb2" d="M751.3 245.7l4.7-1l2.2-1.2l-4.7 .8z"/>
<path class="m" d="M868.5 272.2l4.7 -0.9"/>
<path class="m" d="M840.3 270.8l4.7 1.2"/>
<path color="#5959b0" d="M842.8 276l4.7 .8l2.2-4l-4.7-.8z"/>
<path class="m" d="M704.5 262.1l4.7 -0.5"/>
<path color="#2ebca9" d="M622.4 233.3l4.7 1.3l2.2-.8l-4.7-1.3z"/>
<path class="m" d="M619.9 231.3l4.7 1.2"/>
<path class="m" d="M751.3 245.7l4.7 -1"/>
<path color="#286b9a" d="M730.3 253.6l4.7-1.8l2.2-1.9l-4.7 1.6z"/>
<path color="#3a528b" d="M894.3 262.6l4.7-1.9l2.2-2.2l-4.7 1.5z"/>
<path class="m" d="M845 272l4.7 0.8"/>
<path color="#27beb2" d="M627.1 234.6l4.7 1.5l2.2-.9l-4.7-1.4z"/>
<path color="#444c90" d="M873.2 271.3l4.7-1.2l2.2-3.3l-4.7 1z"/>
<path color="#405e9d" d="M709.2 261.7l4.7-1l2.3-2.7l-4.7 .9z"/>
<path color="#5555a8" d="M847.5 276.8l4.7 .3l2.2-3.9l-4.7-.4z"/>
<path class="m" d="M624.6 232.5l4.7 1.3"/>
<path color="#22c1be" d="M631.8 236.1l4.7 1.8l2.2-1l-4.7-1.7z"/>
<path class="m" d="M732.5 251.5l4.7 -1.5"/>
<path color="#1793b4" d="M756 244.7l4.7-.6l2.2-1.1l-4.7 .5z"/>
<path class="m" d="M896.5 260l4.7 -1.5"/>
<path class="m" d="M629.3 233.8l4.7 1.4"/>
<path class="m" d="M873.2 271.3l4.7 -1.2"/>
<path color="#1ec4cc" d="M636.5 237.9l4.7 2.1l2.2-1.2l-4.7-1.9z"/>
<path class="m" d="M709.2 261.7l4.7 -1"/>
<path class="m" d="M849.7 272.8l4.7 0.4"/>
<path color="#19c5da" d="M641.2 240l4.7 2.3l2.2-1.4l-4.7-2.1z"/>
<path class="m" d="M634 235.2l4.7 1.7"/>
<path color="#1bc3e6" d="M645.9 242.3l4.7 2.4l2.2-1.5l-4.7-2.3z"/>
<path class="m" d="M756 244.7l4.7 -0.6"/>
<path color="#5152a2" d="M852.2 277.1l4.7 0l2.2-3.9l-4.7 0z"/>
<path color="#1fbff1" d="M650.6 244.7l4.7 2.6l2.2-1.7l-4.7-2.4z"/>
<path color="#27b6f1" d="M655.3 247.3l4.7 2.6l2.2-1.9l-4.7-2.4z"/>
<path color="#32abec" d="M660 249.9l4.7 2.5l2.2-2.1l-4.7-2.3z"/>
<path color="#3ca1e8" d="M664.7 252.4l4.7 2.5l2.2-2.3l-4.7-2.3z"/>
<path class="m" d="M638.7 236.9l4.7 1.9"/>
<path color="#4496e0" d="M669.4 254.9l4.7 2.3l2.2-2.4l-4.7-2.2z"/>
<path color="#20739d" d="M735 251.8l4.7-1.8l2.2-1.6l-4.7 1.5z"/>
<path color="#414c8c" d="M877.9 270.1l4.7-1.5l2.3-3l-4.8 1.2z"/>
<path class="m" d="M643.4 238.8l4.7 2.1"/>
<path color="#35568b" d="M899 260.7l4.7-1.9l2.2-1.9l-4.7 1.6z"/>
<path color="#395e97" d="M713.9 260.7l4.7-1.4l2.3-2.5l-4.7 1.2z"/>
<path color="#169dba" d="M760.7 244.1l4.7-.2l2.2-1l-4.7 .1z"/>
<path color="#4b8bda" d="M674.1 257.2l4.7 2.2l2.2-2.6l-4.7-2z"/>
<path class="m" d="M648.1 240.9l4.7 2.3"/>
<path class="m" d="M854.4 273.2l4.7 0"/>
<path class="m" d="M652.8 243.2l4.7 2.4"/>
<path class="m" d="M657.5 245.6l4.7 2.4"/>
<path class="m" d="M662.2 248l4.7 2.4"/>
<path color="#5182d4" d="M678.8 259.4l4.7 1.9l2.2-2.7l-4.7-1.8z"/>
<path class="m" d="M666.9 250.3l4.7 2.3"/>
<path class="m" d="M671.6 252.6l4.7 2.2"/>
<path class="m" d="M737.2 249.9l4.7 -1.5"/>
<path class="m" d="M877.9 270.1l4.7 -1.5"/>
<path class="m" d="M901.2 258.5l4.7 -1.6"/>
<path color="#4d509b" d="M856.9 277.1l4.7-.4l2.2-3.8l-4.7 .3z"/>
<path class="m" d="M713.9 260.7l4.7 -1.4"/>
<path class="m" d="M760.7 244.1l4.7 -0.2"/>
<path class="m" d="M676.3 254.8l4.7 2"/>
<path color="#537bce" d="M683.5 261.3l4.7 1.6l2.2-2.9l-4.7-1.4z"/>
<path class="m" d="M681 256.8l4.7 1.8"/>
<path color="#17a7c4" d="M765.4 243.9l4.7 .4l2.2-1l-4.7-.4z"/>
<path color="#5276c7" d="M688.2 262.9l4.7 1.2l2.2-2.9l-4.7-1.2z"/>
<path class="m" d="M859.1 273.2l4.7 -0.3"/>
<path class="m" d="M685.7 258.6l4.7 1.5"/>
<path color="#3d4d8a" d="M882.6 268.6l4.7-1.7l2.3-2.7l-4.7 1.4z"/>
<path color="#197ca2" d="M739.7 250l4.7-1.6l2.2-1.5l-4.7 1.5z"/>
<path class="m" d="M765.4 243.9l4.7 0.4"/>
<path color="#316296" d="M718.6 259.3l4.8-1.8l2.2-2.2l-4.7 1.5z"/>
<path color="#18b0cf" d="M770.1 244.3l4.7 .9l2.2-1l-4.7-.9z"/>
<path color="#2c5d8d" d="M903.7 258.8l4.7-2.1l2.2-1.6l-4.7 1.8z"/>
<path class="m" d="M690.4 260l4.7 1.1"/>
<path color="#5071c0" d="M692.9 264.1l4.7 .7l2.2-2.9l-4.7-.7z"/>
<path color="#4a4e96" d="M861.6 276.7l4.7-.8l2.2-3.7l-4.7 .7z"/>
<path class="m" d="M882.6 268.6l4.7 -1.7"/>
<path class="m" d="M741.9 248.4l4.7 -1.4"/>
<path class="m" d="M718.6 259.3l4.7 -1.7"/>
<path color="#1bb6db" d="M774.8 245.2l4.7 1.6l2.2-1.2l-4.7-1.4z"/>
<path class="m" d="M770.1 244.3l4.7 1"/>
<path class="m" d="M905.9 256.9l4.7 -1.8"/>
<path class="m" d="M695.1 261.2l4.7 0.8"/>
<path color="#5a6bc3" d="M817.1 268.9l4.7 2.9l2.2-3.3l-4.7-2.6z"/>
<path color="#5b66c0" d="M821.8 271.8l4.7 2.6l2.2-3.6l-4.7-2.3z"/>
<path class="m" d="M863.8 272.9l4.7 -0.6"/>
<path color="#5872c9" d="M812.4 265.9l4.7 3l2.2-3l-4.7-2.8z"/>
<path color="#5c63bd" d="M826.5 274.4l4.7 2.3l2.2-3.8l-4.7-2.1z"/>
<path color="#557ace" d="M807.7 262.8l4.7 3.1l2.2-2.8l-4.7-2.8z"/>
<path color="#4b6ab4" d="M697.6 264.8l4.7 .2l2.2-2.9l-4.7-.2z"/>
<path color="#1eb9e7" d="M779.5 246.8l4.7 1.9l2.2-1.3l-4.7-1.8z"/>
<path color="#4f86d6" d="M803 259.7l4.7 3.1l2.2-2.5l-4.7-2.9z"/>
<path color="#5c60ba" d="M831.2 276.7l4.7 1.8l2.2-3.8l-4.7-1.8z"/>
<path color="#4495e0" d="M798.3 256.6l4.7 3.1l2.2-2.3l-4.7-2.7z"/>
<path color="#24b7ef" d="M784.2 248.7l4.7 2.4l2.2-1.5l-4.7-2.2z"/>
<path class="m" d="M774.8 245.2l4.7 1.5"/>
<path color="#3aa3e9" d="M793.6 253.7l4.7 2.9l2.2-1.9l-4.7-2.7z"/>
<path color="#2eafee" d="M788.9 251.1l4.7 2.6l2.2-1.7l-4.7-2.4z"/>
<path class="m" d="M817.1 268.9l4.7 2.9"/>
<path class="m" d="M821.8 271.8l4.7 2.6"/>
<path class="m" d="M812.4 265.9l4.7 3"/>
<path class="m" d="M826.5 274.4l4.7 2.3"/>
<path color="#1584a3" d="M744.4 248.4l4.7-1.5l2.2-1.2l-4.7 1.2z"/>
<path color="#5d5eb8" d="M835.9 278.5l4.7 1.4l2.2-3.9l-4.7-1.3z"/>
<path color="#394f88" d="M887.3 266.9l4.7-1.9l2.3-2.4l-4.7 1.6z"/>
<path color="#464c90" d="M866.3 275.9l4.7-1.2l2.2-3.4l-4.7 .9z"/>
<path class="m" d="M807.7 262.8l4.7 3.1"/>
<path class="m" d="M699.8 261.9l4.7 0.2"/>
<path class="m" d="M779.5 246.8l4.7 2"/>
<path color="#286797" d="M723.4 257.5l4.7-1.9l2.2-2l-4.7 1.7z"/>
<path class="m" d="M803 259.7l4.7 3.1"/>
<path class="m" d="M831.2 276.7l4.7 1.9"/>
<path class="m" d="M798.3 256.6l4.7 3"/>
<path class="m" d="M784.2 248.7l4.7 2.4"/>
<path class="m" d="M793.6 253.7l4.7 2.9"/>
<path class="m" d="M788.9 251.1l4.7 2.7"/>
<path color="#4463a7" d="M702.3 265l4.7-.6l2.2-2.7l-4.7 .4z"/>
<path class="m" d="M746.6 246.9l4.7 -1.3"/>
<path color="#5959b0" d="M840.6 279.9l4.7 .9l2.2-4l-4.7-.8z"/>
<path class="m" d="M835.9 278.5l4.7 1.4"/>
<path class="m" d="M887.3 266.9l4.7 -1.9"/>
<path class="m" d="M868.5 272.2l4.7 -0.9"/>
<path class="m" d="M723.4 257.5l4.7 -1.9"/>
<path color="#55bc7b" d="M610.8 231.2l4.7 1.3l2.2-.5l-4.7-1.2z"/>
<path class="m" d="M704.5 262.1l4.7 -0.5"/>
<path class="m" d="M840.6 279.9l4.7 0.8"/>
<path color="#5555a8" d="M845.3 280.8l4.7 .3l2.2-4l-4.7-.3z"/>
<path color="#138ca3" d="M749.1 246.9l4.7-1.2l2.2-1l-4.7 1z"/>
<path color="#424b8c" d="M871 274.7l4.7-1.4l2.2-3.2l-4.7 1.2z"/>
<path color="#4ebd84" d="M615.5 232.5l4.7 1.4l2.2-.6l-4.7-1.3z"/>
<path class="m" d="M610.8 231.2l4.7 1.3"/>
<path color="#355287" d="M892 265l4.7-2.1l2.3-2.2l-4.7 1.9z"/>
<path color="#1f6e98" d="M728.1 255.6l4.7-2l2.2-1.8l-4.7 1.8z"/>
<path color="#3d609c" d="M707 264.4l4.7-1.1l2.2-2.6l-4.7 1z"/>
<path class="m" d="M845.3 280.8l4.7 0.3"/>
<path color="#47be8d" d="M620.2 233.9l4.7 1.4l2.2-.7l-4.7-1.3z"/>
<path class="m" d="M751.3 245.7l4.7 -1"/>
<path class="m" d="M873.2 271.3l4.7 -1.2"/>
<path class="m" d="M615.5 232.5l4.7 1.4"/>
<path color="#5152a0" d="M850 281.1l4.7-.1l2.2-3.9l-4.7 0z"/>
<path class="m" d="M892 265l4.7 -2.1"/>
<path class="m" d="M728.1 255.6l4.7 -2"/>
<path class="m" d="M709.2 261.7l4.7 -1"/>
<path color="#40c097" d="M624.9 235.3l4.7 1.6l2.2-.8l-4.7-1.5z"/>
<path class="m" d="M620.2 233.9l4.7 1.5"/>
<path color="#1395a5" d="M753.8 245.7l4.7-.7l2.2-.9l-4.7 .6z"/>
<path color="#38c4a5" d="M629.6 236.9l4.7 1.9l2.2-.9l-4.7-1.8z"/>
<path class="m" d="M850 281.1l4.7 -0.1"/>
<path color="#2dc7b5" d="M634.3 238.8l4.7 2.3l2.2-1.1l-4.7-2.1z"/>
<path color="#3e4b88" d="M875.7 273.3l4.7-1.7l2.2-3l-4.7 1.5z"/>
<path class="m" d="M624.9 235.3l4.7 1.6"/>
<path color="#23c9c6" d="M639 241.1l4.7 2.4l2.2-1.2l-4.7-2.3z"/>
<path color="#27b7f2" d="M657.8 251.7l4.7 2.7l2.2-2l-4.7-2.5z"/>
<path color="#32abec" d="M662.5 254.4l4.7 2.7l2.2-2.2l-4.7-2.5z"/>
<path color="#1fc0ef" d="M653.1 248.9l4.7 2.8l2.2-1.8l-4.7-2.6z"/>
<path color="#1dc9d7" d="M643.7 243.5l4.7 2.7l2.2-1.5l-4.7-2.4z"/>
<path color="#1ac6e5" d="M648.4 246.2l4.7 2.7l2.2-1.6l-4.7-2.6z"/>
<path color="#3ca0e7" d="M667.2 257.1l4.7 2.5l2.2-2.4l-4.7-2.3z"/>
<path color="#336197" d="M711.7 263.3l4.7-1.6l2.2-2.4l-4.7 1.4z"/>
<path class="m" d="M756 244.7l4.7 -0.6"/>
<path color="#4495e0" d="M671.9 259.6l4.7 2.3l2.2-2.5l-4.7-2.2z"/>
<path class="m" d="M629.6 236.9l4.7 1.9"/>
<path color="#4c4f99" d="M854.7 281l4.7-.6l2.2-3.7l-4.7 .4z"/>
<path color="#2c5989" d="M896.7 262.9l4.7-2.3l2.3-1.8l-4.7 1.9z"/>
<path color="#17769b" d="M732.8 253.6l4.7-2.1l2.2-1.5l-4.7 1.8z"/>
<path color="#4b8bd9" d="M676.6 261.9l4.7 2l2.2-2.6l-4.7-1.9z"/>
<path class="m" d="M634.3 238.8l4.7 2.2"/>
<path class="m" d="M877.9 270.1l4.7 -1.5"/>
<path class="m" d="M639 241.1l4.7 2.5"/>
<path class="m" d="M657.8 251.7l4.7 2.8"/>
<path class="m" d="M662.5 254.4l4.7 2.7"/>
<path class="m" d="M653.1 248.9l4.7 2.8"/>
<path class="m" d="M643.7 243.5l4.7 2.6"/>
<path class="m" d="M648.4 246.2l4.7 2.7"/>
<path class="m" d="M667.2 257.1l4.7 2.5"/>
<path color="#5082d3" d="M681.3 263.9l4.7 1.7l2.2-2.7l-4.7-1.6z"/>
<path class="m" d="M713.9 260.7l4.7 -1.4"/>
<path color="#179fa9" d="M758.5 245l4.7-.3l2.2-.8l-4.7 .2z"/>
<path class="m" d="M671.9 259.6l4.7 2.3"/>
<path class="m" d="M854.7 281l4.7 -0.5"/>
<path class="m" d="M896.7 262.9l4.7 -2.3"/>
<path class="m" d="M732.8 253.6l4.7 -2"/>
<path class="m" d="M676.6 261.9l4.7 2"/>
<path color="#517acb" d="M686 265.6l4.7 1.3l2.2-2.8l-4.7-1.2z"/>
<path class="m" d="M681.3 263.9l4.7 1.7"/>
<path class="m" d="M760.7 244.1l4.7 -0.2"/>
<path color="#484c93" d="M859.4 280.4l4.7-.9l2.2-3.6l-4.7 .8z"/>
<path color="#3a4c85" d="M880.4 271.6l4.7-2l2.2-2.7l-4.7 1.7z"/>
<path color="#1aaab1" d="M763.2 244.7l4.7 .4l2.2-.8l-4.7-.4z"/>
<path class="m" d="M686 265.6l4.7 1.3"/>
<path color="#4f74c2" d="M690.7 266.9l4.7 .8l2.2-2.9l-4.7-.7z"/>
<path color="#2a6595" d="M716.4 261.7l4.7-2l2.3-2.2l-4.8 1.8z"/>
<path color="#137d98" d="M737.5 251.5l4.7-1.9l2.2-1.2l-4.7 1.6z"/>
<path class="m" d="M859.4 280.4l4.7 -0.9"/>
<path class="m" d="M882.6 268.6l4.7 -1.7"/>
<path color="#5b67c1" d="M819.6 275l4.7 2.9l2.2-3.5l-4.7-2.6z"/>
<path color="#23608b" d="M901.4 260.6l4.8-2.5l2.2-1.4l-4.7 2.1z"/>
<path color="#5c64bd" d="M824.3 277.9l4.7 2.5l2.2-3.7l-4.7-2.3z"/>
<path color="#596ec5" d="M814.9 271.9l4.7 3.1l2.2-3.2l-4.7-2.9z"/>
<path class="m" d="M765.4 243.9l4.7 0.4"/>
<path class="m" d="M690.7 266.9l4.7 0.8"/>
<path color="#5c61ba" d="M829 280.4l4.7 2l2.2-3.9l-4.7-1.8z"/>
<path class="m" d="M718.6 259.3l4.7 -1.7"/>
<path color="#5776cb" d="M810.2 268.6l4.7 3.3l2.2-3l-4.7-3z"/>
<path color="#1cb5bd" d="M767.9 245.1l4.7 1l2.2-.9l-4.7-.9z"/>
<path color="#4a6db6" d="M695.4 267.7l4.7 .1l2.2-2.8l-4.7-.2z"/>
<path color="#547fd1" d="M805.5 265.2l4.7 3.4l2.2-2.7l-4.7-3.1z"/>
<path class="m" d="M737.5 251.5l4.7 -1.9"/>
<path color="#5d5eb8" d="M833.7 282.4l4.7 1.5l2.2-4l-4.7-1.4z"/>
<path class="m" d="M821.8 271.8l4.7 2.6"/>
<path class="m" d="M901.4 260.6l4.7 -2.5"/>
<path class="m" d="M826.5 274.4l4.7 2.3"/>
<path class="m" d="M817.1 268.9l4.7 2.9"/>
<path color="#444a8d" d="M864.1 279.5l4.7-1.3l2.2-3.5l-4.7 1.2z"/>
<path color="#4890dd" d="M800.8 261.8l4.7 3.4l2.2-2.4l-4.7-3.1z"/>
<path class="m" d="M831.2 276.7l4.7 1.9"/>
<path color="#1abccb" d="M772.6 246.1l4.7 1.6l2.2-.9l-4.7-1.6z"/>
<path class="m" d="M812.4 265.9l4.7 3"/>
<path class="m" d="M770.1 244.3l4.7 1"/>
<path color="#3ba1e8" d="M796.1 258.5l4.7 3.3l2.2-2.1l-4.7-3.1z"/>
<path class="m" d="M695.4 267.7l4.7 0.1"/>
<path color="#364e83" d="M885.1 269.6l4.7-2.2l2.2-2.4l-4.7 1.9z"/>
<path class="m" d="M807.7 262.8l4.7 3.1"/>
<path color="#595ab1" d="M838.4 283.9l4.7 .9l2.2-4l-4.7-.9z"/>
<path color="#18c1db" d="M777.3 247.7l4.7 2.2l2.2-1.2l-4.7-1.9z"/>
<path class="m" d="M835.9 278.5l4.7 1.4"/>
<path color="#2eafee" d="M791.4 255.3l4.7 3.2l2.2-1.9l-4.7-2.9z"/>
<path color="#21bdf4" d="M786.7 252.4l4.7 2.9l2.2-1.6l-4.7-2.6z"/>
<path color="#1cc1e8" d="M782 249.9l4.7 2.5l2.2-1.3l-4.7-2.4z"/>
<path class="m" d="M864.1 279.5l4.7 -1.3"/>
<path class="m" d="M803 259.7l4.7 3.1"/>
<path color="#216a94" d="M721.1 259.7l4.7-2.2l2.3-1.9l-4.7 1.9z"/>
<path class="m" d="M774.8 245.2l4.7 1.5"/>
<path color="#4266a7" d="M700.1 267.8l4.7-.7l2.2-2.7l-4.7 .6z"/>
<path color="#108495" d="M742.2 249.6l4.7-1.6l2.2-1.1l-4.7 1.5z"/>
<path class="m" d="M798.3 256.6l4.7 3"/>
<path class="m" d="M887.3 266.9l4.7 -1.9"/>
<path class="m" d="M840.6 279.9l4.7 0.8"/>
<path class="m" d="M779.5 246.8l4.7 2"/>
<path class="m" d="M793.6 253.7l4.7 2.9"/>
<path class="m" d="M788.9 251.1l4.7 2.7"/>
<path class="m" d="M784.2 248.7l4.7 2.4"/>
<path color="#5555a7" d="M843.1 284.8l4.7 .3l2.2-4l-4.7-.3z"/>
<path class="m" d="M723.4 257.5l4.7 -1.9"/>
<path class="m" d="M700.1 267.8l4.7 -0.7"/>
<path class="m" d="M742.2 249.6l4.7 -1.7"/>
<path color="#3f4988" d="M868.8 278.2l4.7-1.7l2.2-3.2l-4.7 1.4z"/>
<path class="m" d="M845.3 280.8l4.7 0.3"/>
<path class="m" d="M868.8 278.2l4.7 -1.7"/>
<path color="#50519f" d="M847.8 285.1l4.7-.2l2.2-3.9l-4.7 .1z"/>
<path color="#37639d" d="M704.8 267.1l4.7-1.3l2.2-2.5l-4.7 1.1z"/>
<path color="#7cbf59" d="M608.6 231.5l4.7 1.4l2.2-.4l-4.7-1.3z"/>
<path color="#2e5484" d="M889.8 267.4l4.7-2.5l2.2-2l-4.7 2.1z"/>
<path color="#168b91" d="M746.9 248l4.7-1.4l2.2-.9l-4.7 1.2z"/>
<path color="#177195" d="M725.8 257.5l4.7-2.3l2.3-1.6l-4.7 2z"/>
<path color="#73c062" d="M613.3 232.9l4.7 1.4l2.2-.4l-4.7-1.4z"/>
<path class="m" d="M850 281.1l4.7 -0.1"/>
<path class="m" d="M704.8 267.1l4.7 -1.3"/>
<path class="m" d="M610.8 231.2l4.7 1.3"/>
<path class="m" d="M892 265l4.7 -2.1"/>
<path class="m" d="M746.9 248l4.7 -1.3"/>
<path class="m" d="M728.1 255.6l4.7 -2"/>
<path color="#6ac16c" d="M618 234.3l4.7 1.6l2.2-.6l-4.7-1.4z"/>
<path color="#3b4a84" d="M873.5 276.5l4.7-2l2.2-2.9l-4.7 1.7z"/>
<path class="m" d="M615.5 232.5l4.7 1.4"/>
<path color="#4b4e97" d="M852.5 284.9l4.7-.7l2.2-3.8l-4.7 .6z"/>
<path color="#61c377" d="M622.7 235.9l4.7 1.7l2.2-.7l-4.7-1.6z"/>
<path color="#2d6496" d="M709.5 265.8l4.7-1.8l2.2-2.3l-4.7 1.6z"/>
<path class="m" d="M620.2 233.9l4.7 1.5"/>
<path color="#33aaec" d="M665 259.2l4.7 2.7l2.2-2.3l-4.7-2.5z"/>
<path color="#1b9490" d="M751.6 246.6l4.7-.9l2.2-.7l-4.7 .7z"/>
<path color="#28b6f1" d="M660.3 256.3l4.7 2.9l2.2-2.1l-4.7-2.7z"/>
<path color="#3d9fe7" d="M669.7 261.9l4.7 2.5l2.2-2.5l-4.7-2.3z"/>
<path class="m" d="M873.5 276.5l4.7 -2"/>
<path color="#55c687" d="M627.4 237.6l4.7 2l2.2-.8l-4.7-1.9z"/>
<path color="#1fc0ef" d="M655.6 253.4l4.7 2.9l2.2-1.9l-4.7-2.7z"/>
<path class="m" d="M854.7 281l4.7 -0.5"/>
<path color="#4594df" d="M674.4 264.4l4.7 2.1l2.2-2.6l-4.7-2z"/>
<path color="#19c7e4" d="M650.9 250.4l4.7 3l2.2-1.7l-4.7-2.8z"/>
<path color="#47c99a" d="M632.1 239.6l4.7 2.4l2.2-.9l-4.7-2.3z"/>
<path color="#1fcad4" d="M646.2 247.5l4.7 2.9l2.2-1.5l-4.7-2.7z"/>
<path color="#27ccc3" d="M641.5 244.6l4.7 2.9l2.2-1.3l-4.7-2.7z"/>
<path color="#38cbad" d="M636.8 242l4.7 2.6l2.2-1.1l-4.7-2.4z"/>
<path class="m" d="M624.9 235.3l4.7 1.6"/>
<path color="#245c86" d="M894.5 264.9l4.7-2.7l2.2-1.6l-4.7 2.3z"/>
<path color="#4b8bd9" d="M679.1 266.5l4.7 1.8l2.2-2.7l-4.7-1.7z"/>
<path color="#127790" d="M730.5 255.2l4.7-2.3l2.3-1.4l-4.7 2.1z"/>
<path class="m" d="M709.5 265.8l4.7 -1.8"/>
<path class="m" d="M667.2 257.1l4.7 2.5"/>
<path class="m" d="M751.6 246.6l4.7 -0.9"/>
<path class="m" d="M662.5 254.4l4.7 2.7"/>
<path class="m" d="M671.9 259.6l4.7 2.3"/>
<path class="m" d="M629.6 236.9l4.7 1.9"/>
<path class="m" d="M657.8 251.7l4.7 2.8"/>
<path class="m" d="M676.6 261.9l4.7 2"/>
<path class="m" d="M653.1 248.9l4.7 2.8"/>
<path class="m" d="M634.3 238.8l4.7 2.2"/>
<path color="#464b90" d="M857.2 284.2l4.7-1.1l2.2-3.6l-4.7 .9z"/>
<path color="#4d82d0" d="M683.8 268.3l4.7 1.4l2.2-2.8l-4.7-1.3z"/>
<path class="m" d="M648.4 246.2l4.7 2.7"/>
<path class="m" d="M643.7 243.5l4.7 2.6"/>
<path class="m" d="M639 241.1l4.7 2.5"/>
<path class="m" d="M896.7 262.9l4.7 -2.3"/>
<path class="m" d="M681.3 263.9l4.7 1.7"/>
<path class="m" d="M732.8 253.6l4.7 -2"/>
<path color="#364b81" d="M878.2 274.5l4.7-2.3l2.2-2.6l-4.7 2z"/>
<path color="#239f92" d="M756.3 245.7l4.7-.3l2.2-.7l-4.7 .3z"/>
<path color="#4c7ac6" d="M688.5 269.7l4.7 .8l2.2-2.8l-4.7-.8z"/>
<path class="m" d="M859.4 280.4l4.7 -0.9"/>
<path class="m" d="M686 265.6l4.7 1.3"/>
<path color="#5c64be" d="M822.1 281.4l4.7 2.6l2.2-3.6l-4.7-2.5z"/>
<path color="#5b68c2" d="M817.4 278.3l4.7 3.1l2.2-3.5l-4.7-2.9z"/>
<path color="#236893" d="M714.2 264l4.7-2.2l2.2-2.1l-4.7 2z"/>
<path color="#5c61bb" d="M826.8 284l4.7 2.2l2.2-3.8l-4.7-2z"/>
<path class="m" d="M878.2 274.5l4.7 -2.3"/>
<path class="m" d="M756.3 245.7l4.7 -0.3"/>
<path color="#5871c7" d="M812.7 274.9l4.7 3.4l2.2-3.3l-4.7-3.1z"/>
<path color="#5d5eb8" d="M831.5 286.2l4.7 1.7l2.2-4l-4.7-1.5z"/>
<path class="m" d="M690.7 266.9l4.7 0.8"/>
<path color="#557ace" d="M808 271.3l4.7 3.6l2.2-3l-4.7-3.3z"/>
<path class="m" d="M822.1 281.4l4.7 2.7"/>
<path color="#29ab99" d="M761 245.4l4.7 .3l2.2-.6l-4.7-.4z"/>
<path class="m" d="M817.4 278.3l4.7 3.1"/>
<path color="#4671b8" d="M693.2 270.5l4.7 0l2.2-2.7l-4.7-.1z"/>
<path class="m" d="M714.2 264l4.7 -2.2"/>
<path class="m" d="M826.8 284l4.7 2.2"/>
<path color="#107c89" d="M735.2 252.9l4.7-2.1l2.3-1.2l-4.7 1.9z"/>
<path color="#414989" d="M861.9 283.1l4.7-1.6l2.2-3.3l-4.7 1.3z"/>
<path color="#1a6286" d="M899.2 262.2l4.7-2.9l2.3-1.2l-4.8 2.5z"/>
<path class="m" d="M812.7 274.9l4.7 3.4"/>
<path color="#4d88d8" d="M803.3 267.6l4.7 3.7l2.2-2.7l-4.7-3.4z"/>
<path color="#5a5ab1" d="M836.2 287.9l4.7 .9l2.2-4l-4.7-.9z"/>
<path class="m" d="M831.5 286.2l4.7 1.6"/>
<path class="m" d="M808 271.3l4.7 3.6"/>
<path class="m" d="M761 245.4l4.7 0.3"/>
<path color="#409be4" d="M798.6 263.8l4.7 3.8l2.2-2.4l-4.7-3.4z"/>
<path class="m" d="M695.4 267.7l4.7 0.1"/>
<path class="m" d="M737.5 251.5l4.7 -1.9"/>
<path class="m" d="M864.1 279.5l4.7 -1.3"/>
<path color="#2bb7a5" d="M765.7 245.7l4.7 1.1l2.2-.7l-4.7-1z"/>
<path class="m" d="M901.4 260.6l4.7 -2.5"/>
<path class="m" d="M803.3 267.6l4.7 3.7"/>
<path color="#314f7f" d="M882.9 272.2l4.7-2.6l2.2-2.2l-4.7 2.2z"/>
<path class="m" d="M836.2 287.9l4.7 0.9"/>
<path color="#31aded" d="M793.9 260.2l4.7 3.6l2.2-2l-4.7-3.3z"/>
<path color="#5455a7" d="M840.9 288.8l4.7 .2l2.2-3.9l-4.7-.3z"/>
<path color="#3c6aa8" d="M697.9 270.5l4.7-.7l2.2-2.7l-4.7 .7z"/>
<path class="m" d="M798.6 263.8l4.7 3.7"/>
<path color="#27c0b4" d="M770.4 246.8l4.7 1.7l2.2-.8l-4.7-1.6z"/>
<path color="#22bdf4" d="M789.2 256.8l4.7 3.4l2.2-1.7l-4.7-3.2z"/>
<path color="#196d91" d="M718.9 261.8l4.7-2.5l2.2-1.8l-4.7 2.2z"/>
<path class="m" d="M765.7 245.7l4.7 1.1"/>
<path color="#1bc4e8" d="M784.5 253.6l4.7 3.2l2.2-1.5l-4.7-2.9z"/>
<path class="m" d="M882.9 272.2l4.7 -2.6"/>
<path color="#22c5c6" d="M775.1 248.5l4.7 2.3l2.2-.9l-4.7-2.2z"/>
<path color="#1bc8d9" d="M779.8 250.8l4.7 2.8l2.2-1.2l-4.7-2.5z"/>
<path class="m" d="M793.9 260.2l4.7 3.6"/>
<path class="m" d="M840.9 288.8l4.7 0.3"/>
<path color="#3d4783" d="M866.6 281.5l4.7-1.9l2.2-3.1l-4.7 1.7z"/>
<path class="m" d="M700.1 267.8l4.7 -0.7"/>
<path class="m" d="M770.4 246.8l4.7 1.7"/>
<path color="#168181" d="M739.9 250.8l4.7-1.9l2.3-.9l-4.7 1.6z"/>
<path class="m" d="M789.2 256.8l4.7 3.4"/>
<path class="m" d="M718.9 261.8l4.7 -2.5"/>
<path class="m" d="M784.5 253.6l4.7 3.2"/>
<path class="m" d="M775.1 248.5l4.7 2.3"/>
<path color="#4f509d" d="M845.6 289l4.7-.3l2.2-3.8l-4.7 .2z"/>
<path class="m" d="M779.8 250.8l4.7 2.8"/>
<path class="m" d="M868.8 278.2l4.7 -1.7"/>
<path class="m" d="M742.2 249.6l4.7 -1.7"/>
<path color="#31679d" d="M702.6 269.8l4.7-1.5l2.2-2.5l-4.7 1.3z"/>
<path class="m" d="M845.6 289l4.7 -0.3"/>
<path color="#275681" d="M887.6 269.6l4.7-2.8l2.2-1.9l-4.7 2.5z"/>
<path class="m" d="M704.8 267.1l4.7 -1.3"/>
<path color="#12718c" d="M723.6 259.3l4.7-2.5l2.2-1.6l-4.7 2.3z"/>
<path color="#4a4d94" d="M850.3 288.7l4.7-.8l2.2-3.7l-4.7 .7z"/>
<path class="m" d="M887.6 269.6l4.7 -2.8"/>
<path color="#20897b" d="M744.6 248.9l4.8-1.6l2.2-.7l-4.7 1.4z"/>
<path color="#38497f" d="M871.3 279.6l4.7-2.3l2.2-2.8l-4.7 2z"/>
<path color="#b1bd3c" d="M606.4 231.7l4.7 1.4l2.2-.2l-4.7-1.4z"/>
<path class="m" d="M723.6 259.3l4.7 -2.6"/>
<path class="m" d="M850.3 288.7l4.7 -0.8"/>
<path color="#a4c141" d="M611.1 233.1l4.7 1.5l2.2-.3l-4.7-1.4z"/>
<path class="m" d="M746.9 248l4.7 -1.3"/>
<path class="m" d="M873.5 276.5l4.7 -2"/>
<path class="m" d="M606.4 231.7l4.7 1.4"/>
<path color="#276795" d="M707.3 268.3l4.7-2.1l2.2-2.2l-4.7 1.8z"/>
<path color="#35a8eb" d="M667.5 264.1l4.7 2.7l2.2-2.4l-4.7-2.5z"/>
<path color="#29b4f0" d="M662.8 261.2l4.7 2.9l2.2-2.2l-4.7-2.7z"/>
<path color="#95c548" d="M615.8 234.6l4.7 1.6l2.2-.3l-4.7-1.6z"/>
<path color="#3e9ee6" d="M672.2 266.8l4.7 2.3l2.2-2.6l-4.7-2.1z"/>
<path color="#1fbff1" d="M658.1 258.2l4.7 3l2.2-2l-4.7-2.9z"/>
<path class="m" d="M611.1 233.1l4.7 1.5"/>
<path color="#1ac6e5" d="M653.4 255l4.7 3.2l2.2-1.9l-4.7-2.9z"/>
<path color="#4594df" d="M676.9 269.1l4.7 1.9l2.2-2.7l-4.7-1.8z"/>
<path color="#44498c" d="M855 287.9l4.7-1.3l2.2-3.5l-4.7 1.1z"/>
<path color="#89c655" d="M620.5 236.2l4.7 1.8l2.2-.4l-4.7-1.7z"/>
<path color="#1fcad3" d="M648.7 251.8l4.7 3.2l2.2-1.6l-4.7-3z"/>
<path class="m" d="M709.5 265.8l4.7 -1.8"/>
<path color="#1c5d81" d="M892.3 266.8l4.7-3.1l2.2-1.5l-4.7 2.7z"/>
<path color="#2d9278" d="M749.4 247.3l4.7-1l2.2-.6l-4.7 .9z"/>
<path class="m" d="M667.5 264.1l4.7 2.6"/>
<path class="m" d="M662.8 261.2l4.7 2.9"/>
<path color="#2bcdbf" d="M644 248.6l4.7 3.2l2.2-1.4l-4.7-2.9z"/>
<path class="m" d="M615.8 234.6l4.7 1.6"/>
<path class="m" d="M672.2 266.8l4.7 2.3"/>
<path color="#488ad6" d="M681.6 271l4.7 1.4l2.2-2.7l-4.7-1.4z"/>
<path color="#7aca65" d="M625.2 238l4.7 2.2l2.2-.6l-4.7-2z"/>
<path class="m" d="M658.1 258.2l4.7 3.1"/>
<path color="#3fcea9" d="M639.3 245.6l4.7 3l2.2-1.1l-4.7-2.9z"/>
<path color="#69cc7a" d="M629.9 240.2l4.7 2.6l2.2-.8l-4.7-2.4z"/>
<path color="#0f7582" d="M728.3 256.8l4.7-2.6l2.2-1.3l-4.7 2.3z"/>
<path color="#53cd91" d="M634.6 242.8l4.7 2.8l2.2-1l-4.7-2.6z"/>
<path class="m" d="M653.4 255l4.7 3.2"/>
<path class="m" d="M676.9 269.1l4.7 1.9"/>
<path class="m" d="M855 287.9l4.7 -1.3"/>
<path color="#334a7c" d="M876 277.3l4.7-2.6l2.2-2.5l-4.7 2.3z"/>
<path class="m" d="M620.5 236.2l4.7 1.8"/>
<path class="m" d="M648.7 251.8l4.7 3.2"/>
<path color="#5c65bf" d="M819.9 284.8l4.7 2.9l2.2-3.7l-4.7-2.6z"/>
<path color="#5c61bb" d="M824.6 287.7l4.7 2.4l2.2-3.9l-4.7-2.2z"/>
<path class="m" d="M892.3 266.8l4.7 -3.1"/>
<path class="m" d="M751.6 246.6l4.7 -0.9"/>
<path class="m" d="M644 248.6l4.7 3.2"/>
<path color="#5a6ac3" d="M815.2 281.4l4.7 3.4l2.2-3.4l-4.7-3.1z"/>
<path color="#4781cb" d="M686.3 272.4l4.7 .8l2.2-2.7l-4.7-.8z"/>
<path class="m" d="M681.6 271l4.7 1.4"/>
<path class="m" d="M625.2 238l4.7 2.2"/>
<path class="m" d="M639.3 245.6l4.7 3"/>
<path color="#5d5fb9" d="M829.3 290.1l4.7 1.7l2.2-3.9l-4.7-1.7z"/>
<path class="m" d="M629.9 240.2l4.7 2.5"/>
<path class="m" d="M728.3 256.8l4.7 -2.6"/>
<path class="m" d="M634.6 242.8l4.7 2.8"/>
<path color="#5774ca" d="M810.5 277.8l4.7 3.6l2.2-3.1l-4.7-3.4z"/>
<path class="m" d="M878.2 274.5l4.7 -2.3"/>
<path class="m" d="M822.1 281.4l4.7 2.7"/>
<path class="m" d="M826.8 284l4.7 2.2"/>
<path color="#1c6a90" d="M712 266.2l4.7-2.4l2.2-2l-4.7 2.2z"/>
<path class="m" d="M817.4 278.3l4.7 3.1"/>
<path color="#389d78" d="M754.1 246.3l4.7-.4l2.2-.5l-4.7 .3z"/>
<path color="#3f4785" d="M859.7 286.6l4.7-1.7l2.2-3.4l-4.7 1.6z"/>
<path class="m" d="M686.3 272.4l4.7 0.8"/>
<path color="#5a5ab2" d="M834 291.8l4.7 1l2.2-4l-4.7-.9z"/>
<path color="#547ed1" d="M805.8 273.8l4.7 4l2.2-2.9l-4.7-3.6z"/>
<path class="m" d="M831.5 286.2l4.7 1.6"/>
<path color="#4177bb" d="M691 273.2l4.7 0l2.2-2.7l-4.7 0z"/>
<path class="m" d="M812.7 274.9l4.7 3.4"/>
<path class="m" d="M714.2 264l4.7 -2.2"/>
<path color="#4692de" d="M801.1 269.8l4.7 4l2.2-2.5l-4.7-3.7z"/>
<path class="m" d="M756.3 245.7l4.7 -0.3"/>
<path class="m" d="M859.7 286.6l4.7 -1.8"/>
<path class="m" d="M836.2 287.9l4.7 0.9"/>
<path class="m" d="M808 271.3l4.7 3.6"/>
<path color="#5454a6" d="M838.7 292.8l4.7 .2l2.2-4l-4.7-.2z"/>
<path class="m" d="M691 273.2l4.7 0"/>
<path color="#14434f" d="M897 263.7l4.7-3.3l2.2-1.1l-4.7 2.9z"/>
<path color="#157977" d="M733 254.2l4.7-2.4l2.2-1l-4.7 2.1z"/>
<path color="#41ab7e" d="M758.8 245.9l4.7 .3l2.2-.5l-4.7-.3z"/>
<path color="#37a6ea" d="M796.4 265.8l4.7 4l2.2-2.2l-4.7-3.8z"/>
<path class="m" d="M803.3 267.6l4.7 3.7"/>
<path color="#2a507c" d="M880.7 274.7l4.7-2.9l2.2-2.2l-4.7 2.6z"/>
<path class="m" d="M840.9 288.8l4.7 0.3"/>
<path color="#376fa9" d="M695.7 273.2l4.7-.9l2.2-2.5l-4.7 .7z"/>
<path class="m" d="M897 263.7l4.7 -3.3"/>
<path color="#25b9f2" d="M791.7 261.8l4.7 4l2.2-2l-4.7-3.6z"/>
<path class="m" d="M733 254.2l4.7 -2.4"/>
<path class="m" d="M761 245.4l4.7 0.3"/>
<path class="m" d="M798.6 263.8l4.7 3.7"/>
<path color="#3a467f" d="M864.4 284.9l4.7-2.2l2.2-3.1l-4.7 1.9z"/>
<path color="#44b889" d="M763.5 246.2l4.7 1.1l2.2-.5l-4.7-1.1z"/>
<path class="m" d="M882.9 272.2l4.7 -2.6"/>
<path color="#4e4f9c" d="M843.4 293l4.7-.4l2.2-3.9l-4.7 .3z"/>
<path color="#126e8b" d="M716.7 263.8l4.7-2.8l2.2-1.7l-4.7 2.5z"/>
<path color="#1cc4e9" d="M787 258.1l4.7 3.7l2.2-1.6l-4.7-3.4z"/>
<path class="m" d="M695.7 273.2l4.7 -0.9"/>
<path class="m" d="M793.9 260.2l4.7 3.6"/>
<path color="#41c198" d="M768.2 247.3l4.7 1.9l2.2-.7l-4.7-1.7z"/>
<path color="#1dcad7" d="M782.3 254.7l4.7 3.4l2.2-1.3l-4.7-3.2z"/>
<path class="m" d="M864.4 284.9l4.7 -2.2"/>
<path class="m" d="M765.7 245.7l4.7 1.1"/>
<path color="#26ccc3" d="M777.6 251.6l4.7 3.1l2.2-1.1l-4.7-2.8z"/>
<path color="#37c8ac" d="M772.9 249.2l4.7 2.4l2.2-.8l-4.7-2.3z"/>
<path class="m" d="M845.6 289l4.7 -0.3"/>
<path class="m" d="M718.9 261.8l4.7 -2.5"/>
<path class="m" d="M789.2 256.8l4.7 3.4"/>
<path color="#1b483b" d="M737.7 251.8l4.7-2.2l2.2-.7l-4.7 1.9z"/>
<path class="m" d="M770.4 246.8l4.7 1.7"/>
<path class="m" d="M784.5 253.6l4.7 3.2"/>
<path color="#2c6a9c" d="M700.4 272.3l4.7-1.6l2.2-2.4l-4.7 1.5z"/>
<path class="m" d="M779.8 250.8l4.7 2.8"/>
<path class="m" d="M775.1 248.5l4.7 2.3"/>
<path color="#484b92" d="M848.1 292.6l4.7-.9l2.2-3.8l-4.7 .8z"/>
<path color="#1f587e" d="M885.4 271.8l4.7-3.2l2.2-1.8l-4.7 2.8z"/>
<path class="m" d="M737.7 251.8l4.7 -2.1"/>
<path class="m" d="M700.4 272.3l4.7 -1.7"/>
<path color="#34477b" d="M869.1 282.7l4.7-2.6l2.2-2.8l-4.7 2.3z"/>
<path class="m" d="M850.3 288.7l4.7 -0.8"/>
<path color="#0e707f" d="M721.4 261l4.7-2.8l2.2-1.4l-4.7 2.5z"/>
<path class="m" d="M887.6 269.6l4.7 -2.8"/>
<path class="m" d="M869.1 282.7l4.7 -2.6"/>
<path color="#214835" d="M742.4 249.6l4.7-1.7l2.3-.6l-4.8 1.6z"/>
<path class="m" d="M723.6 259.3l4.7 -2.6"/>
<path color="#424889" d="M852.8 291.7l4.7-1.5l2.2-3.6l-4.7 1.3z"/>
<path color="#206a93" d="M705.1 270.7l4.7-2.3l2.2-2.2l-4.7 2.1z"/>
<path color="#2cb2ef" d="M665.3 266.3l4.7 2.8l2.2-2.3l-4.7-2.7z"/>
<path color="#36a7ea" d="M670 269.1l4.7 2.4l2.2-2.4l-4.7-2.3z"/>
<path color="#d9b632" d="M604.2 231.7l4.7 1.4l2.2 0l-4.7-1.4z"/>
<path color="#20bef3" d="M660.6 263.2l4.7 3.1l2.2-2.2l-4.7-2.9z"/>
<path color="#3e9de5" d="M674.7 271.5l4.7 2l2.2-2.5l-4.7-1.9z"/>
<path color="#1bc5e6" d="M655.9 259.9l4.7 3.3l2.2-2l-4.7-3z"/>
<path class="m" d="M742.4 249.6l4.7 -1.7"/>
<path class="m" d="M855 287.9l4.7 -1.3"/>
<path color="#d4ba33" d="M608.9 233.1l4.7 1.6l2.2-.1l-4.7-1.5z"/>
<path class="m" d="M705.1 270.7l4.7 -2.3"/>
<path color="#1ecad5" d="M651.2 256.5l4.7 3.4l2.2-1.7l-4.7-3.2z"/>
<path color="#4293dc" d="M679.4 273.5l4.7 1.5l2.2-2.6l-4.7-1.4z"/>
<path color="#5c62bc" d="M822.4 291.4l4.7 2.5l2.2-3.8l-4.7-2.4z"/>
<path class="m" d="M667.5 264.1l4.7 2.6"/>
<path color="#5b66bf" d="M817.7 288.2l4.7 3.2l2.2-3.7l-4.7-2.9z"/>
<path class="m" d="M672.2 266.8l4.7 2.3"/>
<path class="m" d="M606.4 231.7l4.7 1.4"/>
<path class="m" d="M662.8 261.2l4.7 2.9"/>
<path color="#5d5fb9" d="M827.1 293.9l4.7 1.8l2.2-3.9l-4.7-1.7z"/>
<path color="#2bcdbf" d="M646.5 253.1l4.7 3.4l2.2-1.5l-4.7-3.2z"/>
<path class="m" d="M676.9 269.1l4.7 1.9"/>
<path color="#145e7d" d="M890.1 268.6l4.7-3.5l2.2-1.4l-4.7 3.1z"/>
<path color="#cdbe36" d="M613.6 234.7l4.7 1.8l2.2-.3l-4.7-1.6z"/>
<path color="#5a6dc5" d="M813 284.6l4.7 3.6l2.2-3.4l-4.7-3.4z"/>
<path class="m" d="M658.1 258.2l4.7 3.1"/>
<path color="#2f4a78" d="M873.8 280.1l4.7-3l2.2-2.4l-4.7 2.6z"/>
<path color="#42cea6" d="M641.8 249.7l4.7 3.4l2.2-1.3l-4.7-3.2z"/>
<path class="m" d="M611.1 233.1l4.7 1.5"/>
<path class="m" d="M653.4 255l4.7 3.2"/>
<path color="#4289d0" d="M684.1 275l4.7 .9l2.2-2.7l-4.7-.8z"/>
<path class="m" d="M681.6 271l4.7 1.4"/>
<path class="m" d="M822.4 291.4l4.7 2.5"/>
<path color="#c2c33a" d="M618.3 236.5l4.7 1.9l2.2-.4l-4.7-1.8z"/>
<path color="#147271" d="M726.1 258.2l4.7-2.9l2.2-1.1l-4.7 2.6z"/>
<path class="m" d="M817.7 288.2l4.7 3.1"/>
<path color="#5a5bb3" d="M831.8 295.7l4.7 1l2.2-3.9l-4.7-1z"/>
<path color="#5cd08c" d="M637.1 246.4l4.7 3.3l2.2-1.1l-4.7-3z"/>
<path color="#27492e" d="M747.1 247.9l4.7-1.2l2.3-.4l-4.7 1z"/>
<path color="#5677cc" d="M808.3 280.6l4.7 4l2.2-3.2l-4.7-3.6z"/>
<path class="m" d="M827.1 293.9l4.7 1.8"/>
<path class="m" d="M648.7 251.8l4.7 3.2"/>
<path color="#accb45" d="M623 238.4l4.7 2.3l2.2-.5l-4.7-2.2z"/>
<path color="#77d170" d="M632.4 243.4l4.7 3l2.2-.8l-4.7-2.8z"/>
<path class="m" d="M892.3 266.8l4.7 -3.1"/>
<path color="#3d4581" d="M857.5 290.2l4.7-2l2.2-3.3l-4.7 1.7z"/>
<path class="m" d="M615.8 234.6l4.7 1.6"/>
<path class="m" d="M813 284.6l4.7 3.6"/>
<path color="#92d057" d="M627.7 240.7l4.7 2.7l2.2-.6l-4.7-2.6z"/>
<path class="m" d="M873.8 280.1l4.7 -3"/>
<path class="m" d="M644 248.6l4.7 3.2"/>
<path class="m" d="M686.3 272.4l4.7 0.8"/>
<path color="#4f85d6" d="M803.6 276.4l4.7 4.2l2.2-2.8l-4.7-4z"/>
<path class="m" d="M620.5 236.2l4.7 1.8"/>
<path class="m" d="M728.3 256.8l4.7 -2.6"/>
<path color="#156c8d" d="M709.8 268.4l4.7-2.7l2.2-1.9l-4.7 2.4z"/>
<path class="m" d="M831.8 295.7l4.7 1"/>
<path class="m" d="M639.3 245.6l4.7 3"/>
<path class="m" d="M747.1 247.9l4.7 -1.2"/>
<path class="m" d="M808.3 280.6l4.7 4"/>
<path color="#3c7ebf" d="M688.8 275.9l4.7 0l2.2-2.7l-4.7 0z"/>
<path class="m" d="M625.2 238l4.7 2.2"/>
<path class="m" d="M634.6 242.8l4.7 2.8"/>
<path color="#5454a6" d="M836.5 296.7l4.7 .2l2.2-3.9l-4.7-.2z"/>
<path class="m" d="M859.7 286.6l4.7 -1.8"/>
<path class="m" d="M629.9 240.2l4.7 2.5"/>
<path color="#3f9ce5" d="M798.9 272l4.7 4.4l2.2-2.6l-4.7-4z"/>
<path class="m" d="M803.6 276.4l4.7 4.2"/>
<path class="m" d="M709.8 268.4l4.7 -2.7"/>
<path class="m" d="M691 273.2l4.7 0"/>
<path color="#549d5a" d="M751.8 246.7l4.7-.5l2.3-.3l-4.7 .4z"/>
<path class="m" d="M836.5 296.7l4.7 0.2"/>
<path class="m" d="M798.9 272l4.7 4.4"/>
<path color="#2cb1ef" d="M794.2 267.6l4.7 4.4l2.2-2.2l-4.7-4z"/>
<path color="#245179" d="M878.5 277.1l4.7-3.3l2.2-2l-4.7 2.9z"/>
<path color="#4d4f9a" d="M841.2 296.9l4.7-.4l2.2-3.9l-4.7 .4z"/>
<path color="#12454b" d="M894.8 265.1l4.7-3.8l2.2-.9l-4.7 3.3z"/>
<path color="#3173ab" d="M693.5 275.9l4.7-1l2.2-2.6l-4.7 .9z"/>
<path class="m" d="M751.8 246.7l4.7 -0.5"/>
<path color="#1b483a" d="M730.8 255.3l4.7-2.7l2.2-.8l-4.7 2.4z"/>
<path color="#37457b" d="M862.2 288.2l4.7-2.5l2.2-3l-4.7 2.2z"/>
<path color="#1ec1ed" d="M789.5 263.3l4.7 4.3l2.2-1.8l-4.7-4z"/>
<path class="m" d="M794.2 267.6l4.7 4.4"/>
<path color="#61ac5d" d="M756.5 246.2l4.7 .3l2.3-.3l-4.7-.3z"/>
<path class="m" d="M878.5 277.1l4.7 -3.3"/>
<path class="m" d="M841.2 296.9l4.7 -0.5"/>
<path class="m" d="M897 263.7l4.7 -3.3"/>
<path class="m" d="M695.7 273.2l4.7 -0.9"/>
<path class="m" d="M733 254.2l4.7 -2.4"/>
<path class="m" d="M864.4 284.9l4.7 -2.2"/>
<path color="#0f6c7f" d="M714.5 265.7l4.7-3l2.2-1.7l-4.7 2.8z"/>
<path color="#1cc9da" d="M784.8 259.3l4.7 4l2.2-1.5l-4.7-3.7z"/>
<path class="m" d="M789.5 263.3l4.7 4.3"/>
<path class="m" d="M756.5 246.2l4.7 0.3"/>
<path color="#68bb67" d="M761.2 246.5l4.7 1.1l2.3-.3l-4.7-1.1z"/>
<path color="#474a8f" d="M845.9 296.5l4.7-1.1l2.2-3.7l-4.7 .9z"/>
<path class="m" d="M714.5 265.7l4.7 -3"/>
<path color="#29cdc1" d="M780.1 255.6l4.7 3.7l2.2-1.2l-4.7-3.4z"/>
<path color="#256d9b" d="M698.2 274.9l4.7-1.9l2.2-2.3l-4.7 1.6z"/>
<path class="m" d="M784.8 259.3l4.7 4.1"/>
<path color="#64c577" d="M765.9 247.6l4.8 2l2.2-.4l-4.7-1.9z"/>
<path color="#41cda7" d="M775.4 252.3l4.7 3.3l2.2-.9l-4.7-3.1z"/>
<path color="#55ca8d" d="M770.7 249.6l4.7 2.7l2.2-.7l-4.7-2.4z"/>
<path class="m" d="M761.2 246.5l4.7 1.2"/>
<path class="m" d="M845.9 296.5l4.7 -1.1"/>
<path class="m" d="M780.1 255.6l4.7 3.7"/>
<path color="#234832" d="M735.5 252.6l4.7-2.3l2.2-.7l-4.7 2.2z"/>
<path color="#314677" d="M866.9 285.7l4.7-2.9l2.2-2.7l-4.7 2.6z"/>
<path class="m" d="M700.4 272.3l4.7 -1.7"/>
<path color="#185879" d="M883.2 273.8l4.7-3.6l2.2-1.6l-4.7 3.2z"/>
<path class="m" d="M765.9 247.6l4.7 2"/>
<path class="m" d="M775.4 252.3l4.7 3.3"/>
<path class="m" d="M770.7 249.6l4.7 2.7"/>
<path class="m" d="M737.7 251.8l4.7 -2.1"/>
<path class="m" d="M869.1 282.7l4.7 -2.6"/>
<path color="#404685" d="M850.6 295.4l4.7-1.7l2.2-3.5l-4.7 1.5z"/>
<path class="m" d="M883.2 273.8l4.7 -3.6"/>
<path color="#116c6f" d="M719.2 262.7l4.7-3.2l2.2-1.3l-4.7 2.8z"/>
<path class="m" d="M850.6 295.4l4.7 -1.7"/>
<path color="#196c90" d="M702.9 273l4.7-2.5l2.2-2.1l-4.7 2.3z"/>
<path color="#2eb0ee" d="M667.8 271.3l4.7 2.6l2.2-2.4l-4.7-2.4z"/>
<path color="#5c62bc" d="M820.2 295l4.7 2.7l2.2-3.8l-4.7-2.5z"/>
<path color="#22bcf4" d="M663.1 268.3l4.7 3l2.2-2.2l-4.7-2.8z"/>
<path class="m" d="M719.2 262.7l4.7 -3.2"/>
<path color="#37a6ea" d="M672.5 273.9l4.7 2.2l2.2-2.6l-4.7-2z"/>
<path color="#5b67c0" d="M815.5 291.6l4.7 3.4l2.2-3.6l-4.7-3.2z"/>
<path color="#5d5fb9" d="M824.9 297.7l4.7 2l2.2-4l-4.7-1.8z"/>
<path color="#1cc4e9" d="M658.4 265l4.7 3.3l2.2-2l-4.7-3.1z"/>
<path color="#2c492a" d="M740.2 250.3l4.7-2l2.2-.4l-4.7 1.7z"/>
<path color="#3c9ce3" d="M677.2 276.1l4.7 1.5l2.2-2.6l-4.7-1.5z"/>
<path color="#1dcad9" d="M653.7 261.5l4.7 3.5l2.2-1.8l-4.7-3.3z"/>
<path color="#596fc6" d="M810.8 287.7l4.7 3.9l2.2-3.4l-4.7-3.6z"/>
<path class="m" d="M705.1 270.7l4.7 -2.3"/>
<path color="#5b5bb3" d="M829.6 299.7l4.7 1l2.2-4l-4.7-1z"/>
<path class="m" d="M667.8 271.3l4.7 2.6"/>
<path class="m" d="M822.4 291.4l4.7 2.5"/>
<path class="m" d="M663.1 268.3l4.7 3"/>
<path class="m" d="M672.5 273.9l4.7 2.1"/>
<path class="m" d="M817.7 288.2l4.7 3.1"/>
<path class="m" d="M827.1 293.9l4.7 1.8"/>
<path color="#28cdc2" d="M649 257.9l4.7 3.6l2.2-1.6l-4.7-3.4z"/>
<path color="#294b75" d="M871.6 282.8l4.7-3.3l2.2-2.4l-4.7 3z"/>
<path class="m" d="M658.4 265l4.7 3.3"/>
<path color="#f0af38" d="M602 231.5l4.7 1.5l2.2 .1l-4.7-1.4z"/>
<path class="m" d="M742.4 249.6l4.7 -1.7"/>
<path color="#3c91d6" d="M681.9 277.6l4.7 .9l2.2-2.6l-4.7-.9z"/>
<path color="#3a437d" d="M855.3 293.7l4.7-2.2l2.2-3.3l-4.7 2z"/>
<path color="#557ace" d="M806.1 283.4l4.7 4.3l2.2-3.1l-4.7-4z"/>
<path class="m" d="M677.2 276.1l4.7 1.6"/>
<path class="m" d="M653.7 261.5l4.7 3.5"/>
<path class="m" d="M813 284.6l4.7 3.6"/>
<path color="#13444d" d="M887.9 270.2l4.7-3.9l2.2-1.2l-4.7 3.5z"/>
<path color="#41cea7" d="M644.3 254.2l4.7 3.7l2.2-1.4l-4.7-3.4z"/>
<path class="m" d="M831.8 295.7l4.7 1"/>
<path color="#efb137" d="M606.7 233l4.7 1.7l2.2 0l-4.7-1.6z"/>
<path color="#5354a5" d="M834.3 300.7l4.7 .2l2.2-4l-4.7-.2z"/>
<path class="m" d="M649 257.9l4.7 3.6"/>
<path class="m" d="M873.8 280.1l4.7 -3"/>
<path color="#5fd189" d="M639.6 250.6l4.7 3.6l2.2-1.1l-4.7-3.4z"/>
<path class="m" d="M602 231.5l4.7 1.6"/>
<path class="m" d="M681.9 277.6l4.7 0.9"/>
<path class="m" d="M855.3 293.7l4.7 -2.2"/>
<path class="m" d="M808.3 280.6l4.7 4"/>
<path color="#1a483c" d="M723.9 259.5l4.7-3.2l2.2-1l-4.7 2.9z"/>
<path color="#498edb" d="M801.4 278.8l4.7 4.6l2.2-2.8l-4.7-4.2z"/>
<path color="#ebb636" d="M611.4 234.7l4.7 1.8l2.2 0l-4.7-1.8z"/>
<path class="m" d="M887.9 270.2l4.7 -3.9"/>
<path class="m" d="M644.3 254.2l4.7 3.7"/>
<path color="#80d46a" d="M634.9 247.2l4.7 3.4l2.2-.9l-4.7-3.3z"/>
<path color="#3684c2" d="M686.6 278.5l4.7 0l2.2-2.6l-4.7 0z"/>
<path color="#116b84" d="M707.6 270.5l4.7-3l2.2-1.8l-4.7 2.7z"/>
<path class="m" d="M606.7 233l4.7 1.7"/>
<path class="m" d="M836.5 296.7l4.7 0.2"/>
<path color="#344a23" d="M744.9 248.3l4.7-1.3l2.2-.3l-4.7 1.2z"/>
<path color="#e5bc35" d="M616.1 236.5l4.7 2.1l2.2-.2l-4.7-1.9z"/>
<path color="#a3d54d" d="M630.2 243.9l4.7 3.3l2.2-.8l-4.7-3z"/>
<path class="m" d="M639.6 250.6l4.7 3.6"/>
<path color="#dec436" d="M620.8 238.6l4.7 2.4l2.2-.3l-4.7-2.3z"/>
<path color="#cdcc3c" d="M625.5 241l4.7 2.9l2.2-.5l-4.7-2.7z"/>
<path class="m" d="M723.9 259.5l4.7 -3.2"/>
<path class="m" d="M803.6 276.4l4.7 4.2"/>
<path class="m" d="M611.4 234.7l4.7 1.8"/>
<path color="#37a6ea" d="M796.7 274.1l4.7 4.7l2.2-2.4l-4.7-4.4z"/>
<path class="m" d="M634.9 247.2l4.7 3.5"/>
<path class="m" d="M686.6 278.5l4.7 -0.1"/>
<path color="#4c4e98" d="M839 300.9l4.7-.6l2.2-3.8l-4.7 .4z"/>
<path class="m" d="M709.8 268.4l4.7 -2.7"/>
<path class="m" d="M747.1 247.9l4.7 -1.2"/>
<path class="m" d="M616.1 236.5l4.7 2"/>
<path class="m" d="M630.2 243.9l4.7 3.2"/>
<path class="m" d="M620.8 238.6l4.7 2.5"/>
<path class="m" d="M625.5 241l4.7 2.9"/>
<path color="#344377" d="M860 291.5l4.7-2.8l2.2-3l-4.7 2.5z"/>
<path class="m" d="M798.9 272l4.7 4.4"/>
<path class="m" d="M841.2 296.9l4.7 -0.5"/>
<path color="#2b77ab" d="M691.3 278.5l4.7-1.2l2.2-2.4l-4.7 1z"/>
<path color="#1d5276" d="M876.3 279.5l4.7-3.7l2.2-2l-4.7 3.3z"/>
<path color="#22bdf4" d="M791.9 269.3l4.8 4.8l2.2-2.1l-4.7-4.4z"/>
<path color="#3a4a1e" d="M749.6 247l4.7-.7l2.2-.1l-4.7 .5z"/>
<path class="m" d="M860 291.5l4.7 -2.8"/>
<path color="#134745" d="M892.6 266.3l4.7-4.2l2.2-.8l-4.7 3.8z"/>
<path class="m" d="M691.3 278.5l4.7 -1.1"/>
<path class="m" d="M878.5 277.1l4.7 -3.3"/>
<path class="m" d="M794.2 267.6l4.7 4.4"/>
<path color="#244832" d="M728.6 256.3l4.7-2.9l2.2-.8l-4.7 2.7z"/>
<path color="#45498c" d="M843.7 300.3l4.7-1.2l2.2-3.7l-4.7 1.1z"/>
<path color="#18c8e2" d="M787.2 264.7l4.7 4.6l2.3-1.7l-4.7-4.3z"/>
<path class="m" d="M751.8 246.7l4.7 -0.5"/>
<path color="#0f6a72" d="M712.3 267.5l4.7-3.3l2.2-1.5l-4.7 3z"/>
<path class="m" d="M892.6 266.3l4.7 -4.2"/>
<path class="m" d="M728.6 256.3l4.7 -3"/>
<path class="m" d="M845.9 296.5l4.7 -1.1"/>
<path color="#8bad3d" d="M754.3 246.3l4.7 .3l2.2-.1l-4.7-.3z"/>
<path class="m" d="M789.5 263.3l4.7 4.3"/>
<path color="#26ccc5" d="M782.5 260.3l4.7 4.4l2.3-1.4l-4.7-4z"/>
<path color="#1f7099" d="M696 277.3l4.7-2l2.2-2.3l-4.7 1.9z"/>
<path class="m" d="M714.5 265.7l4.7 -3"/>
<path class="m" d="M756.5 246.2l4.7 0.3"/>
<path color="#2e4572" d="M864.7 288.7l4.7-3.2l2.2-2.7l-4.7 2.9z"/>
<path color="#43cea5" d="M777.8 256.3l4.7 4l2.3-1l-4.7-3.7z"/>
<path class="m" d="M784.8 259.3l4.7 4.1"/>
<path color="#95bd43" d="M759 246.6l4.7 1.2l2.2-.2l-4.7-1.1z"/>
<path class="m" d="M696 277.3l4.7 -2"/>
<path color="#3e4582" d="M848.4 299.1l4.7-1.9l2.2-3.5l-4.7 1.7z"/>
<path color="#61d086" d="M773.1 252.8l4.7 3.5l2.3-.7l-4.7-3.3z"/>
<path color="#15424f" d="M881 275.8l4.7-4.1l2.2-1.5l-4.7 3.6z"/>
<path color="#8fc952" d="M763.7 247.8l4.7 2.1l2.3-.3l-4.8-2z"/>
<path color="#7cce69" d="M768.4 249.9l4.7 2.9l2.3-.5l-4.7-2.7z"/>
<path class="m" d="M864.7 288.7l4.7 -3.2"/>
<path class="m" d="M780.1 255.6l4.7 3.7"/>
<path class="m" d="M761.2 246.5l4.7 1.2"/>
<path color="#2f4927" d="M733.3 253.4l4.7-2.7l2.2-.4l-4.7 2.3z"/>
<path class="m" d="M850.6 295.4l4.7 -1.7"/>
<path class="m" d="M775.4 252.3l4.7 3.3"/>
<path color="#5c63bd" d="M818 298.6l4.7 3l2.2-3.9l-4.7-2.7z"/>
<path color="#5d5fb9" d="M822.7 301.6l4.7 2l2.2-3.9l-4.7-2z"/>
<path class="m" d="M883.2 273.8l4.7 -3.6"/>
<path class="m" d="M765.9 247.6l4.7 2"/>
<path class="m" d="M770.7 249.6l4.7 2.7"/>
<path color="#5b68c1" d="M813.2 295l4.8 3.6l2.2-3.6l-4.7-3.4z"/>
<path color="#18483e" d="M717 264.2l4.7-3.5l2.2-1.2l-4.7 3.2z"/>
<path class="m" d="M733.3 253.4l4.7 -2.6"/>
<path color="#5b5bb4" d="M827.4 303.6l4.7 1.1l2.2-4l-4.7-1z"/>
<path color="#136d8d" d="M700.7 275.3l4.7-2.8l2.2-2l-4.7 2.5z"/>
<path color="#25b9f3" d="M665.6 273.5l4.7 2.8l2.2-2.4l-4.7-2.6z"/>
<path class="m" d="M818 298.6l4.7 2.9"/>
<path color="#2fafee" d="M670.3 276.3l4.7 2.2l2.2-2.4l-4.7-2.2z"/>
<path color="#1dc2ec" d="M660.9 270.3l4.7 3.2l2.2-2.2l-4.7-3z"/>
<path color="#5871c8" d="M808.5 290.8l4.7 4.2l2.3-3.4l-4.7-3.9z"/>
<path class="m" d="M822.7 301.6l4.7 2.1"/>
<path class="m" d="M813.2 295l4.7 3.6"/>
<path color="#35a5e7" d="M675 278.5l4.7 1.7l2.2-2.6l-4.7-1.5z"/>
<path color="#1ac9de" d="M656.2 266.8l4.7 3.5l2.2-2l-4.7-3.3z"/>
<path class="m" d="M719.2 262.7l4.7 -3.2"/>
<path class="m" d="M827.4 303.6l4.7 1.1"/>
<path class="m" d="M700.7 275.3l4.7 -2.8"/>
<path color="#384279" d="M853.1 297.2l4.7-2.5l2.2-3.2l-4.7 2.2z"/>
<path class="m" d="M667.8 271.3l4.7 2.6"/>
<path class="m" d="M672.5 273.9l4.7 2.1"/>
<path color="#25ccc7" d="M651.5 263.1l4.7 3.7l2.2-1.8l-4.7-3.5z"/>
<path class="m" d="M663.1 268.3l4.7 3"/>
<path color="#234b72" d="M869.4 285.5l4.7-3.7l2.2-2.3l-4.7 3.3z"/>
<path color="#5353a5" d="M832.1 304.7l4.7 .2l2.2-4l-4.7-.2z"/>
<path class="m" d="M808.5 290.8l4.7 4.2"/>
<path color="#547ed1" d="M803.8 286.1l4.7 4.7l2.3-3.1l-4.7-4.3z"/>
<path color="#3699db" d="M679.7 280.2l4.7 .9l2.2-2.6l-4.7-.9z"/>
<path class="m" d="M677.2 276.1l4.7 1.6"/>
<path class="m" d="M658.4 265l4.7 3.3"/>
<path color="#3a4a1e" d="M738 250.7l4.7-2.2l2.2-.2l-4.7 2z"/>
<path color="#3dceab" d="M646.8 259.2l4.7 3.9l2.2-1.6l-4.7-3.6z"/>
<path class="m" d="M855.3 293.7l4.7 -2.2"/>
<path class="m" d="M653.7 261.5l4.7 3.5"/>
<path class="m" d="M869.4 285.5l4.7 -3.7"/>
<path class="m" d="M832.1 304.7l4.7 0.1"/>
<path class="m" d="M803.8 286.1l4.7 4.7"/>
<path class="m" d="M681.9 277.6l4.7 0.9"/>
<path color="#114649" d="M885.7 271.7l4.7-4.3l2.2-1.1l-4.7 3.9z"/>
<path color="#4397e1" d="M799.1 281.2l4.7 4.9l2.3-2.7l-4.7-4.6z"/>
<path color="#5cd08c" d="M642.1 255.3l4.7 3.9l2.2-1.3l-4.7-3.7z"/>
<path class="m" d="M738 250.7l4.7 -2.2"/>
<path class="m" d="M649 257.9l4.7 3.6"/>
<path color="#308ac5" d="M684.4 281.1l4.7-.1l2.2-2.5l-4.7 0z"/>
<path color="#4b4d97" d="M836.8 304.9l4.7-.7l2.2-3.9l-4.7 .6z"/>
<path color="#f6be36" d="M599.7 231.1l4.7 1.7l2.3 .2l-4.7-1.5z"/>
<path color="#82d469" d="M637.4 251.4l4.7 3.9l2.2-1.1l-4.7-3.6z"/>
<path color="#224833" d="M721.7 260.7l4.7-3.5l2.2-.9l-4.7 3.2z"/>
<path color="#0d6979" d="M705.4 272.5l4.7-3.3l2.2-1.7l-4.7 3z"/>
<path class="m" d="M887.9 270.2l4.7 -3.9"/>
<path class="m" d="M799.1 281.2l4.7 4.9"/>
<path class="m" d="M644.3 254.2l4.7 3.7"/>
<path color="#f8b939" d="M604.4 232.8l4.8 1.7l2.2 .2l-4.7-1.7z"/>
<path class="m" d="M686.6 278.5l4.7 -0.1"/>
<path color="#afd54a" d="M632.7 247.7l4.7 3.7l2.2-.8l-4.7-3.4z"/>
<path color="#2eb0ee" d="M794.4 276.1l4.7 5.1l2.3-2.4l-4.7-4.7z"/>
<path class="m" d="M836.8 304.9l4.7 -0.7"/>
<path class="m" d="M602 231.5l4.7 1.6"/>
<path class="m" d="M639.6 250.6l4.7 3.6"/>
<path color="#fab43c" d="M609.2 234.5l4.7 2l2.2 0l-4.7-1.8z"/>
<path color="#314272" d="M857.8 294.7l4.7-3l2.2-3l-4.7 2.8z"/>
<path class="m" d="M723.9 259.5l4.7 -3.2"/>
<path class="m" d="M705.4 272.5l4.7 -3.3"/>
<path color="#dcce3a" d="M628 244.3l4.7 3.4l2.2-.5l-4.7-3.3z"/>
<path color="#474919" d="M742.7 248.5l4.7-1.5l2.2 0l-4.7 1.3z"/>
<path color="#fab53b" d="M613.9 236.5l4.7 2.1l2.2 0l-4.7-2.1z"/>
<path class="m" d="M606.7 233l4.7 1.7"/>
<path color="#f0c537" d="M623.3 241.2l4.7 3.1l2.2-.4l-4.7-2.9z"/>
<path color="#fbbc39" d="M618.6 238.6l4.7 2.6l2.2-.2l-4.7-2.4z"/>
<path color="#257bab" d="M689.1 281l4.7-1.3l2.2-2.4l-4.7 1.2z"/>
<path class="m" d="M634.9 247.2l4.7 3.5"/>
<path class="m" d="M794.4 276.1l4.7 5.1"/>
<path color="#175271" d="M874.1 281.8l4.7-4.2l2.2-1.8l-4.7 3.7z"/>
<path color="#434789" d="M841.5 304.2l4.7-1.4l2.2-3.7l-4.7 1.2z"/>
<path class="m" d="M611.4 234.7l4.7 1.8"/>
<path class="m" d="M860 291.5l4.7 -2.8"/>
<path color="#1dc3eb" d="M789.7 271l4.7 5.1l2.3-2l-4.8-4.8z"/>
<path class="m" d="M630.2 243.9l4.7 3.2"/>
<path class="m" d="M742.7 248.5l4.7 -1.5"/>
<path class="m" d="M616.1 236.5l4.7 2"/>
<path class="m" d="M625.5 241l4.7 2.9"/>
<path class="m" d="M620.8 238.6l4.7 2.5"/>
<path class="m" d="M691.3 278.5l4.7 -1.1"/>
<path class="m" d="M874.1 281.8l4.7 -4.1"/>
<path class="m" d="M841.5 304.2l4.7 -1.4"/>
<path class="m" d="M789.7 271l4.7 5.1"/>
<path color="#21cbcf" d="M785 266l4.7 5l2.2-1.7l-4.7-4.6z"/>
<path color="#18483e" d="M890.4 267.4l4.7-4.7l2.2-.6l-4.7 4.2z"/>
<path color="#4d4818" d="M747.4 247l4.7-.7l2.2 0l-4.7 .7z"/>
<path color="#2f4927" d="M726.4 257.2l4.7-3.3l2.2-.5l-4.7 2.9z"/>
<path color="#154742" d="M710.1 269.2l4.7-3.6l2.2-1.4l-4.7 3.3z"/>
<path color="#187297" d="M693.8 279.7l4.7-2.2l2.2-2.2l-4.7 2z"/>
<path class="m" d="M785 266l4.7 5"/>
<path class="m" d="M892.6 266.3l4.7 -4.2"/>
<path class="m" d="M747.4 247l4.7 -0.7"/>
<path color="#2a446e" d="M862.5 291.7l4.7-3.6l2.2-2.6l-4.7 3.2z"/>
<path color="#3c437e" d="M846.2 302.8l4.7-2.1l2.2-3.5l-4.7 1.9z"/>
<path class="m" d="M728.6 256.3l4.7 -3"/>
<path color="#3dceac" d="M780.3 261.3l4.7 4.7l2.2-1.3l-4.7-4.4z"/>
<path class="m" d="M710.1 269.2l4.7 -3.6"/>
<path class="m" d="M696 277.3l4.7 -2"/>
<path color="#b9a52e" d="M752.1 246.3l4.7 .2l2.2 .1l-4.7-.3z"/>
<path class="m" d="M864.7 288.7l4.7 -3.2"/>
<path class="m" d="M846.2 302.8l4.7 -2.1"/>
<path color="#5c64bd" d="M815.7 302.2l4.7 3.2l2.3-3.8l-4.7-3z"/>
<path color="#5d60ba" d="M820.4 305.4l4.7 2.2l2.3-4l-4.7-2z"/>
<path class="m" d="M780.3 261.3l4.7 4.7"/>
<path color="#62d186" d="M775.6 256.9l4.7 4.4l2.2-1l-4.7-4z"/>
<path color="#13444d" d="M878.8 277.6l4.7-4.5l2.2-1.4l-4.7 4.1z"/>
<path color="#5b69c2" d="M811 298.3l4.7 3.9l2.3-3.6l-4.8-3.6z"/>
<path class="m" d="M752.1 246.3l4.7 0.2"/>
<path color="#5b5cb5" d="M825.1 307.6l4.7 1.1l2.3-4l-4.7-1.1z"/>
<path color="#cab633" d="M756.8 246.5l4.7 1.3l2.2 0l-4.7-1.2z"/>
<path color="#8bd461" d="M770.9 253.2l4.7 3.7l2.2-.6l-4.7-3.5z"/>
<path class="m" d="M818 298.6l4.7 2.9"/>
<path class="m" d="M822.7 301.6l4.7 2.1"/>
<path class="m" d="M775.6 256.9l4.7 4.3"/>
<path color="#ccc438" d="M761.5 247.8l4.7 2.3l2.2-.2l-4.7-2.1z"/>
<path class="m" d="M878.8 277.6l4.7 -4.5"/>
<path color="#5774ca" d="M806.3 293.8l4.7 4.5l2.2-3.3l-4.7-4.2z"/>
<path color="#b1cf46" d="M766.2 250.1l4.7 3.1l2.2-.4l-4.7-2.9z"/>
<path class="m" d="M813.2 295l4.7 3.6"/>
<path color="#3d4a1d" d="M731.1 253.9l4.7-2.9l2.2-.3l-4.7 2.7z"/>
<path class="m" d="M827.4 303.6l4.7 1.1"/>
<path color="#1fc0ef" d="M663.4 275.6l4.7 3l2.2-2.3l-4.7-2.8z"/>
<path class="m" d="M756.8 246.5l4.7 1.3"/>
<path color="#106c82" d="M698.5 277.5l4.7-3l2.2-2l-4.7 2.8z"/>
<path color="#26b8f2" d="M668.1 278.6l4.7 2.4l2.2-2.5l-4.7-2.2z"/>
<path color="#5353a4" d="M829.8 308.7l4.7 .1l2.3-3.9l-4.7-.2z"/>
<path class="m" d="M770.9 253.2l4.7 3.8"/>
<path color="#354075" d="M850.9 300.7l4.7-2.8l2.2-3.2l-4.7 2.5z"/>
<path color="#1f4837" d="M714.8 265.6l4.7-3.8l2.2-1.1l-4.7 3.5z"/>
<path color="#19c7e3" d="M658.7 272.2l4.7 3.4l2.2-2.1l-4.7-3.2z"/>
<path color="#2daeec" d="M672.8 281l4.7 1.7l2.2-2.5l-4.7-1.7z"/>
<path class="m" d="M761.5 247.8l4.7 2.3"/>
<path class="m" d="M808.5 290.8l4.7 4.2"/>
<path class="m" d="M766.2 250.1l4.7 3.1"/>
<path class="m" d="M733.3 253.4l4.7 -2.6"/>
<path color="#22cbce" d="M654 268.5l4.7 3.7l2.2-1.9l-4.7-3.5z"/>
<path color="#5084d5" d="M801.6 288.8l4.7 5l2.2-3l-4.7-4.7z"/>
<path class="m" d="M663.4 275.6l4.7 2.9"/>
<path class="m" d="M700.7 275.3l4.7 -2.8"/>
<path class="m" d="M668.1 278.6l4.7 2.4"/>
<path color="#1e4c6e" d="M867.2 288.1l4.7-4.1l2.2-2.2l-4.7 3.7z"/>
<path class="m" d="M832.1 304.7l4.7 0.1"/>
<path class="m" d="M850.9 300.7l4.7 -2.8"/>
<path color="#2fa1de" d="M677.5 282.7l4.7 .9l2.2-2.5l-4.7-.9z"/>
<path class="m" d="M714.8 265.6l4.7 -3.8"/>
<path class="m" d="M658.7 272.2l4.7 3.4"/>
<path class="m" d="M672.8 281l4.7 1.7"/>
<path color="#37ceb2" d="M649.3 264.5l4.7 4l2.2-1.7l-4.7-3.7z"/>
<path class="m" d="M654 268.5l4.7 3.7"/>
<path class="m" d="M803.8 286.1l4.7 4.7"/>
<path color="#4a4c95" d="M834.5 308.8l4.7-.7l2.3-3.9l-4.7 .7z"/>
<path class="m" d="M869.4 285.5l4.7 -3.7"/>
<path class="m" d="M677.5 282.7l4.7 1"/>
<path color="#3da0e7" d="M796.9 283.5l4.7 5.3l2.2-2.7l-4.7-4.9z"/>
<path color="#55d092" d="M644.6 260.4l4.7 4.1l2.2-1.4l-4.7-3.9z"/>
<path class="m" d="M649.3 264.5l4.7 4"/>
<path color="#2990c7" d="M682.2 283.6l4.7-.1l2.2-2.5l-4.7 .1z"/>
<path class="m" d="M836.8 304.9l4.7 -0.7"/>
<path color="#4d4818" d="M735.8 251l4.7-2.4l2.2-.1l-4.7 2.2z"/>
<path color="#144743" d="M883.5 273.1l4.7-4.8l2.2-.9l-4.7 4.3z"/>
<path color="#7dd46d" d="M639.9 256.2l4.7 4.2l2.2-1.2l-4.7-3.9z"/>
<path class="m" d="M799.1 281.2l4.7 4.9"/>
<path class="m" d="M644.6 260.4l4.7 4.1"/>
<path class="m" d="M682.2 283.6l4.7 -0.2"/>
<path color="#0f666b" d="M703.2 274.5l4.7-3.6l2.2-1.7l-4.7 3.3z"/>
<path color="#2e406e" d="M855.6 297.9l4.7-3.3l2.2-2.9l-4.7 3z"/>
<path color="#24baf3" d="M792.2 278l4.7 5.5l2.2-2.3l-4.7-5.1z"/>
<path class="m" d="M738 250.7l4.7 -2.2"/>
<path class="m" d="M883.5 273.1l4.7 -4.9"/>
<path color="#afd54a" d="M635.2 252.1l4.7 4.1l2.2-.9l-4.7-3.9z"/>
<path color="#2c492a" d="M719.5 261.8l4.7-3.8l2.2-.8l-4.7 3.5z"/>
<path class="m" d="M639.9 256.2l4.7 4.2"/>
<path color="#424686" d="M839.2 308.1l4.8-1.6l2.2-3.7l-4.7 1.4z"/>
<path class="m" d="M705.4 272.5l4.7 -3.3"/>
<path class="m" d="M855.6 297.9l4.7 -3.4"/>
<path color="#1e7faa" d="M686.9 283.5l4.7-1.4l2.2-2.4l-4.7 1.3z"/>
<path color="#f2d929" d="M597.5 230.6l4.7 1.7l2.2 .5l-4.7-1.7z"/>
<path color="#e3ce3a" d="M630.4 248.2l4.8 3.9l2.2-.7l-4.7-3.7z"/>
<path class="m" d="M794.4 276.1l4.7 5.1"/>
<path class="m" d="M635.2 252.1l4.7 4.1"/>
<path class="m" d="M719.5 261.8l4.7 -3.8"/>
<path class="m" d="M841.5 304.2l4.7 -1.4"/>
<path color="#15414f" d="M871.9 284l4.7-4.6l2.2-1.8l-4.7 4.2z"/>
<path color="#f6d32b" d="M602.2 232.3l4.7 1.9l2.3 .3l-4.8-1.7z"/>
<path color="#fbc639" d="M625.7 244.5l4.7 3.7l2.3-.5l-4.7-3.4z"/>
<path color="#19c9df" d="M787.5 272.5l4.7 5.5l2.2-1.9l-4.7-5.1z"/>
<path class="m" d="M686.9 283.5l4.7 -1.4"/>
<path class="m" d="M597.5 230.6l4.7 1.7"/>
<path color="#fbce30" d="M606.9 234.2l4.7 2l2.3 .3l-4.7-2z"/>
<path class="m" d="M630.4 248.2l4.7 3.9"/>
<path color="#534717" d="M740.5 248.6l4.7-1.7l2.2 .1l-4.7 1.5z"/>
<path color="#ffbe3e" d="M621 241.3l4.7 3.2l2.3-.2l-4.7-3.1z"/>
<path color="#ffc737" d="M611.6 236.2l4.7 2.3l2.3 .1l-4.7-2.1z"/>
<path color="#ffc03d" d="M616.3 238.5l4.7 2.8l2.3-.1l-4.7-2.6z"/>
<path class="m" d="M874.1 281.8l4.7 -4.1"/>
<path class="m" d="M602.2 232.3l4.7 1.9"/>
<path class="m" d="M625.7 244.5l4.7 3.6"/>
<path class="m" d="M789.7 271l4.7 5.1"/>
<path class="m" d="M606.9 234.2l4.7 2"/>
<path class="m" d="M742.7 248.5l4.7 -1.5"/>
<path class="m" d="M621 241.3l4.7 3.3"/>
<path color="#3a417a" d="M844 306.5l4.7-2.3l2.2-3.5l-4.7 2.1z"/>
<path class="m" d="M611.6 236.2l4.7 2.3"/>
<path class="m" d="M616.3 238.5l4.7 2.8"/>
<path color="#30cdba" d="M782.8 267.1l4.7 5.4l2.2-1.5l-4.7-5z"/>
<path color="#137392" d="M691.6 282.1l4.7-2.5l2.2-2.1l-4.7 2.2z"/>
<path color="#25446b" d="M860.3 294.6l4.7-4l2.2-2.5l-4.7 3.6z"/>
<path color="#1b483b" d="M707.9 270.9l4.7-4l2.2-1.3l-4.7 3.6z"/>
<path color="#204835" d="M888.2 268.3l4.7-5.2l2.2-.4l-4.7 4.7z"/>
<path color="#5d60ba" d="M818.2 309.2l4.7 2.3l2.2-3.9l-4.7-2.2z"/>
<path color="#3c4a1d" d="M724.2 258l4.7-3.6l2.2-.5l-4.7 3.3z"/>
<path color="#5c64be" d="M813.5 305.8l4.7 3.4l2.2-3.8l-4.7-3.2z"/>
<path class="m" d="M846.2 302.8l4.7 -2.1"/>
<path class="m" d="M785 266l4.7 5"/>
<path color="#574518" d="M745.2 246.9l4.7-.8l2.2 .2l-4.7 .7z"/>
<path color="#5c5cb5" d="M822.9 311.5l4.7 1.2l2.2-4l-4.7-1.1z"/>
<path class="m" d="M691.6 282.1l4.7 -2.5"/>
<path class="m" d="M860.3 294.6l4.7 -4"/>
<path class="m" d="M710.1 269.2l4.7 -3.6"/>
<path class="m" d="M888.2 268.3l4.7 -5.2"/>
<path color="#5b6ac3" d="M808.8 301.6l4.7 4.2l2.2-3.6l-4.7-3.9z"/>
<path color="#59d08f" d="M778.1 262l4.7 5.1l2.2-1.1l-4.7-4.7z"/>
<path class="m" d="M818.2 309.2l4.7 2.3"/>
<path class="m" d="M724.2 258l4.7 -3.6"/>
<path class="m" d="M813.5 305.8l4.7 3.3"/>
<path class="m" d="M747.4 247l4.7 -0.7"/>
<path class="m" d="M822.9 311.5l4.7 1.2"/>
<path class="m" d="M808.8 301.6l4.7 4.2"/>
<path color="#5253a3" d="M827.6 312.7l4.7 .1l2.2-4l-4.7-.1z"/>
<path color="#5677cc" d="M804.1 296.8l4.7 4.8l2.2-3.3l-4.7-4.5z"/>
<path class="m" d="M780.3 261.3l4.7 4.7"/>
<path color="#124649" d="M876.6 279.4l4.7-5l2.2-1.3l-4.7 4.5z"/>
<path color="#8ad563" d="M773.4 257.4l4.7 4.6l2.2-.7l-4.7-4.4z"/>
<path color="#594518" d="M749.9 246.1l4.7 .2l2.2 .2l-4.7-.2z"/>
<path color="#323f71" d="M848.7 304.2l4.7-3.1l2.2-3.2l-4.7 2.8z"/>
<path color="#20bff1" d="M665.9 280.8l4.7 2.5l2.2-2.3l-4.7-2.4z"/>
<path class="m" d="M827.6 312.7l4.7 0.1"/>
<path class="m" d="M804.1 296.8l4.7 4.9"/>
<path class="m" d="M878.8 277.6l4.7 -4.5"/>
<path color="#1bc5e6" d="M661.2 277.7l4.7 3.1l2.2-2.2l-4.7-3z"/>
<path color="#0d6a78" d="M696.3 279.6l4.7-3.3l2.2-1.8l-4.7 3z"/>
<path color="#25b7f1" d="M670.6 283.3l4.7 1.8l2.2-2.4l-4.7-1.7z"/>
<path class="m" d="M775.6 256.9l4.7 4.3"/>
<path color="#c4d242" d="M768.7 253.4l4.7 4l2.2-.5l-4.7-3.7z"/>
<path class="m" d="M752.1 246.3l4.7 0.2"/>
<path color="#1fcad5" d="M656.4 274.1l4.8 3.6l2.2-2.1l-4.7-3.4z"/>
<path color="#4b8bda" d="M799.4 291.4l4.7 5.4l2.2-3l-4.7-5z"/>
<path color="#e7ad35" d="M754.6 246.3l4.7 1.4l2.2 .1l-4.7-1.3z"/>
<path class="m" d="M850.9 300.7l4.7 -2.8"/>
<path color="#494b93" d="M832.3 312.8l4.7-.9l2.2-3.8l-4.7 .7z"/>
<path color="#27492e" d="M712.6 266.9l4.7-4.2l2.2-.9l-4.7 3.8z"/>
<path color="#e5c837" d="M764 250.1l4.7 3.3l2.2-.2l-4.7-3.1z"/>
<path color="#4e4817" d="M728.9 254.4l4.7-3.2l2.2-.2l-4.7 2.9z"/>
<path class="m" d="M668.1 278.6l4.7 2.4"/>
<path color="#184c6a" d="M865 290.6l4.7-4.5l2.2-2.1l-4.7 4.1z"/>
<path color="#edbc36" d="M759.3 247.7l4.7 2.4l2.2 0l-4.7-2.3z"/>
<path class="m" d="M663.4 275.6l4.7 2.9"/>
<path color="#28a9e2" d="M675.3 285.1l4.7 1l2.2-2.5l-4.7-.9z"/>
<path color="#2ecdbb" d="M651.7 270.1l4.7 4l2.3-1.9l-4.7-3.7z"/>
<path class="m" d="M696.3 279.6l4.7 -3.3"/>
<path class="m" d="M672.8 281l4.7 1.7"/>
<path class="m" d="M770.9 253.2l4.7 3.8"/>
<path class="m" d="M658.7 272.2l4.7 3.4"/>
<path class="m" d="M799.4 291.4l4.7 5.4"/>
<path class="m" d="M756.8 246.5l4.7 1.3"/>
<path class="m" d="M832.3 312.8l4.7 -0.9"/>
<path class="m" d="M714.8 265.6l4.7 -3.8"/>
<path class="m" d="M766.2 250.1l4.7 3.1"/>
<path class="m" d="M728.9 254.4l4.7 -3.2"/>
<path class="m" d="M865 290.6l4.7 -4.5"/>
<path color="#4bcf9c" d="M647 265.9l4.7 4.2l2.3-1.6l-4.7-4z"/>
<path class="m" d="M761.5 247.8l4.7 2.3"/>
<path class="m" d="M677.5 282.7l4.7 1"/>
<path class="m" d="M654 268.5l4.7 3.7"/>
<path color="#34a9eb" d="M794.7 285.7l4.7 5.7l2.2-2.6l-4.7-5.3z"/>
<path color="#2296c8" d="M680 286.1l4.7-.2l2.2-2.4l-4.7 .1z"/>
<path color="#74d375" d="M642.3 261.5l4.7 4.4l2.3-1.4l-4.7-4.1z"/>
<path class="m" d="M649.3 264.5l4.7 4"/>
<path class="m" d="M794.7 285.7l4.7 5.7"/>
<path color="#2c3f6a" d="M853.4 301.1l4.7-3.7l2.2-2.8l-4.7 3.3z"/>
<path color="#404483" d="M837 311.9l4.7-1.7l2.3-3.7l-4.8 1.6z"/>
<path class="m" d="M682.2 283.6l4.7 -0.2"/>
<path color="#1a483c" d="M881.3 274.4l4.7-5.3l2.2-.8l-4.7 4.8z"/>
<path class="m" d="M644.6 260.4l4.7 4.1"/>
<path color="#164741" d="M701 276.3l4.7-3.9l2.2-1.5l-4.7 3.6z"/>
<path color="#a5d74d" d="M637.6 257l4.7 4.5l2.3-1.1l-4.7-4.2z"/>
<path color="#1ec1ee" d="M790 279.8l4.7 5.9l2.2-2.2l-4.7-5.5z"/>
<path class="m" d="M855.6 297.9l4.7 -3.4"/>
<path class="m" d="M837 311.9l4.7 -1.7"/>
<path color="#564618" d="M733.6 251.2l4.7-2.6l2.2 0l-4.7 2.4z"/>
<path color="#1882a9" d="M684.7 285.9l4.7-1.6l2.2-2.2l-4.7 1.4z"/>
<path class="m" d="M883.5 273.1l4.7 -4.9"/>
<path class="m" d="M701 276.3l4.7 -3.9"/>
<path class="m" d="M639.9 256.2l4.7 4.2"/>
<path color="#e1cf3a" d="M632.9 252.7l4.7 4.3l2.3-.8l-4.7-4.1z"/>
<path color="#384a20" d="M717.3 262.7l4.7-4.1l2.2-.6l-4.7 3.8z"/>
<path class="m" d="M790 279.8l4.7 5.9"/>
<path class="m" d="M733.6 251.2l4.7 -2.6"/>
<path color="#13444e" d="M869.7 286.1l4.7-5l2.2-1.7l-4.7 4.6z"/>
<path class="m" d="M686.9 283.5l4.7 -1.4"/>
<path color="#ffc73b" d="M628.2 248.5l4.7 4.2l2.3-.6l-4.8-3.9z"/>
<path color="#22cbce" d="M785.3 273.9l4.7 5.9l2.2-1.8l-4.7-5.5z"/>
<path class="m" d="M635.2 252.1l4.7 4.1"/>
<path class="m" d="M719.5 261.8l4.7 -3.8"/>
<path color="#383f76" d="M841.7 310.2l4.7-2.6l2.3-3.4l-4.7 2.3z"/>
<path class="m" d="M869.7 286.1l4.7 -5"/>
<path color="#ece822" d="M595.3 229.9l4.7 1.8l2.2 .6l-4.7-1.7z"/>
<path color="#ffc041" d="M623.5 244.6l4.7 3.9l2.2-.3l-4.7-3.7z"/>
<path color="#5d60ba" d="M816 313l4.7 2.5l2.2-4l-4.7-2.3z"/>
<path class="m" d="M630.4 248.2l4.7 3.9"/>
<path class="m" d="M785.3 273.9l4.7 5.9"/>
<path color="#f0e824" d="M600 231.7l4.7 2l2.2 .5l-4.7-1.9z"/>
<path color="#5c65be" d="M811.3 309.4l4.7 3.6l2.2-3.8l-4.7-3.4z"/>
<path class="m" d="M841.7 310.2l4.7 -2.6"/>
<path color="#204568" d="M858.1 297.4l4.7-4.4l2.2-2.4l-4.7 4z"/>
<path color="#5a4419" d="M738.3 248.6l4.7-1.9l2.2 .2l-4.7 1.7z"/>
<path color="#ffce3b" d="M618.8 241.2l4.7 3.4l2.2-.1l-4.7-3.2z"/>
<path color="#f5e627" d="M604.7 233.7l4.7 2.2l2.2 .3l-4.7-2z"/>
<path color="#5c5db6" d="M820.7 315.5l4.7 1.2l2.2-4l-4.7-1.2z"/>
<path class="m" d="M597.5 230.6l4.7 1.7"/>
<path color="#107288" d="M689.4 284.3l4.7-2.6l2.2-2.1l-4.7 2.5z"/>
<path color="#fce32a" d="M609.4 235.9l4.7 2.3l2.2 .3l-4.7-2.3z"/>
<path color="#ffdb30" d="M614.1 238.2l4.7 3l2.2 .1l-4.7-2.8z"/>
<path class="m" d="M625.7 244.5l4.7 3.6"/>
<path color="#47cea1" d="M780.6 268.2l4.7 5.7l2.2-1.4l-4.7-5.4z"/>
<path class="m" d="M818.2 309.2l4.7 2.3"/>
<path color="#5a6cc4" d="M806.6 304.9l4.7 4.5l2.2-3.6l-4.7-4.2z"/>
<path class="m" d="M602.2 232.3l4.7 1.9"/>
<path color="#214834" d="M705.7 272.4l4.7-4.3l2.2-1.2l-4.7 4z"/>
<path class="m" d="M813.5 305.8l4.7 3.3"/>
<path class="m" d="M860.3 294.6l4.7 -4"/>
<path class="m" d="M738.3 248.6l4.7 -1.9"/>
<path class="m" d="M621 241.3l4.7 3.3"/>
<path class="m" d="M606.9 234.2l4.7 2"/>
<path class="m" d="M822.9 311.5l4.7 1.2"/>
<path class="m" d="M691.6 282.1l4.7 -2.5"/>
<path class="m" d="M611.6 236.2l4.7 2.3"/>
<path class="m" d="M616.3 238.5l4.7 2.8"/>
<path color="#5253a3" d="M825.4 316.7l4.7 0l2.2-3.9l-4.7-.1z"/>
<path color="#2b492a" d="M886 269.1l4.7-5.7l2.2-.3l-4.7 5.2z"/>
<path class="m" d="M780.6 268.2l4.7 5.8"/>
<path class="m" d="M808.8 301.6l4.7 4.2"/>
<path class="m" d="M705.7 272.4l4.7 -4.3"/>
<path color="#4d4818" d="M722 258.6l4.7-3.9l2.2-.3l-4.7 3.6z"/>
<path color="#567ace" d="M801.9 299.7l4.7 5.2l2.2-3.3l-4.7-4.8z"/>
<path color="#7cd36e" d="M775.9 262.7l4.7 5.5l2.2-1.1l-4.7-5.1z"/>
<path color="#303d6d" d="M846.4 307.6l4.7-3.3l2.3-3.2l-4.7 3.1z"/>
<path class="m" d="M827.6 312.7l4.7 0.1"/>
<path class="m" d="M888.2 268.3l4.7 -5.2"/>
<path color="#5c4619" d="M743 246.7l4.7-1l2.2 .4l-4.7 .8z"/>
<path class="m" d="M724.2 258l4.7 -3.6"/>
<path class="m" d="M804.1 296.8l4.7 4.9"/>
<path color="#144743" d="M874.4 281.1l4.7-5.5l2.2-1.2l-4.7 5z"/>
<path color="#484a90" d="M830.1 316.7l4.7-1l2.2-3.8l-4.7 .9z"/>
<path class="m" d="M775.9 262.7l4.7 5.4"/>
<path class="m" d="M846.4 307.6l4.7 -3.3"/>
<path color="#1cc4e9" d="M663.6 283l4.7 2.6l2.3-2.3l-4.7-2.5z"/>
<path class="m" d="M743 246.7l4.7 -0.9"/>
<path color="#4693df" d="M797.2 294l4.7 5.7l2.2-2.9l-4.7-5.4z"/>
<path color="#1bc9db" d="M658.9 279.7l4.7 3.3l2.3-2.2l-4.7-3.1z"/>
<path color="#1fbff0" d="M668.3 285.6l4.7 1.9l2.3-2.4l-4.7-1.8z"/>
<path color="#10676b" d="M694.1 281.7l4.7-3.6l2.2-1.8l-4.7 3.3z"/>
<path color="#c0d444" d="M771.2 257.7l4.7 5l2.2-.7l-4.7-4.6z"/>
<path class="m" d="M874.4 281.1l4.7 -5.5"/>
<path color="#26cdc5" d="M654.2 275.8l4.7 3.9l2.3-2l-4.8-3.6z"/>
<path class="m" d="M832.3 312.8l4.7 -0.9"/>
<path color="#5c4719" d="M747.7 245.7l4.7 .2l2.2 .4l-4.7-.2z"/>
<path class="m" d="M663.6 283l4.7 2.7"/>
<path color="#20b2e6" d="M673 287.5l4.7 1l2.3-2.4l-4.7-1z"/>
<path color="#134d68" d="M862.8 293l4.7-4.9l2.2-2l-4.7 4.5z"/>
<path class="m" d="M799.4 291.4l4.7 5.4"/>
<path class="m" d="M658.9 279.7l4.7 3.3"/>
<path class="m" d="M668.3 285.6l4.7 1.9"/>
<path class="m" d="M696.3 279.6l4.7 -3.3"/>
<path class="m" d="M771.2 257.7l4.7 5"/>
<path color="#42cea6" d="M649.5 271.6l4.7 4.2l2.2-1.7l-4.7-4z"/>
<path color="#f0ca37" d="M766.5 253.4l4.7 4.3l2.2-.3l-4.7-4z"/>
<path color="#324a25" d="M710.4 268.1l4.7-4.5l2.2-.9l-4.7 4.2z"/>
<path class="m" d="M654.2 275.8l4.7 3.8"/>
<path class="m" d="M747.7 245.7l4.7 0.2"/>
<path class="m" d="M673 287.5l4.7 1"/>
<path class="m" d="M865 290.6l4.7 -4.5"/>
<path color="#f0b238" d="M752.4 245.9l4.7 1.4l2.2 .4l-4.7-1.4z"/>
<path color="#2cb2ef" d="M792.5 287.9l4.7 6.1l2.2-2.6l-4.7-5.7z"/>
<path color="#574518" d="M726.7 254.7l4.7-3.5l2.2 0l-4.7 3.2z"/>
<path color="#ffbf3b" d="M761.8 249.9l4.7 3.5l2.2 0l-4.7-3.3z"/>
<path color="#3e4380" d="M834.8 315.7l4.7-1.9l2.2-3.6l-4.7 1.7z"/>
<path color="#1b9cca" d="M677.7 288.5l4.8-.2l2.2-2.4l-4.7 .2z"/>
<path class="m" d="M649.5 271.6l4.7 4.2"/>
<path color="#68d281" d="M644.8 267.1l4.7 4.5l2.2-1.5l-4.7-4.2z"/>
<path color="#ffb63e" d="M757.1 247.3l4.7 2.6l2.2 .2l-4.7-2.4z"/>
<path class="m" d="M766.5 253.4l4.7 4.3"/>
<path class="m" d="M710.4 268.1l4.7 -4.5"/>
<path color="#293e66" d="M851.1 304.3l4.7-4.1l2.3-2.8l-4.7 3.7z"/>
<path class="m" d="M752.4 245.9l4.7 1.4"/>
<path class="m" d="M794.7 285.7l4.7 5.7"/>
<path class="m" d="M728.9 254.4l4.7 -3.2"/>
<path class="m" d="M761.8 249.9l4.7 3.5"/>
<path class="m" d="M837 311.9l4.7 -1.7"/>
<path class="m" d="M677.7 288.5l4.7 -0.3"/>
<path class="m" d="M644.8 267.1l4.7 4.5"/>
<path class="m" d="M757.1 247.3l4.7 2.6"/>
<path color="#99d657" d="M640.1 262.5l4.7 4.6l2.2-1.2l-4.7-4.4z"/>
<path class="m" d="M851.1 304.3l4.7 -4.1"/>
<path color="#19c7e4" d="M787.8 281.6l4.7 6.3l2.2-2.2l-4.7-5.9z"/>
<path color="#1c483a" d="M698.8 278.1l4.7-4.2l2.2-1.5l-4.7 3.9z"/>
<path color="#224833" d="M879.1 275.6l4.7-5.9l2.2-.6l-4.7 5.3z"/>
<path color="#1483a0" d="M682.5 288.3l4.7-1.7l2.2-2.3l-4.7 1.6z"/>
<path class="m" d="M640.1 262.5l4.7 4.7"/>
<path color="#dbd03c" d="M635.4 257.8l4.7 4.7l2.2-1l-4.7-4.5z"/>
<path class="m" d="M790 279.8l4.7 5.9"/>
<path class="m" d="M701 276.3l4.7 -3.9"/>
<path color="#363d72" d="M839.5 313.8l4.7-2.8l2.2-3.4l-4.7 2.6z"/>
<path class="m" d="M879.1 275.6l4.7 -5.9"/>
<path class="m" d="M682.5 288.3l4.7 -1.7"/>
<path color="#12464a" d="M867.5 288.1l4.7-5.5l2.2-1.5l-4.7 5z"/>
<path color="#5c441a" d="M731.4 251.2l4.7-2.9l2.2 .3l-4.7 2.6z"/>
<path class="m" d="M635.4 257.8l4.7 4.7"/>
<path color="#5d60ba" d="M813.8 316.8l4.7 2.6l2.2-3.9l-4.7-2.5z"/>
<path color="#494918" d="M715.1 263.6l4.7-4.5l2.2-.5l-4.7 4.1z"/>
<path color="#fec73a" d="M630.7 253.1l4.7 4.7l2.2-.8l-4.7-4.3z"/>
<path color="#5c65bf" d="M809.1 313l4.7 3.8l2.2-3.8l-4.7-3.6z"/>
<path color="#5c5db7" d="M818.5 319.4l4.7 1.3l2.2-4l-4.7-1.2z"/>
<path class="m" d="M841.7 310.2l4.7 -2.6"/>
<path color="#30cdba" d="M783.1 275.2l4.7 6.4l2.2-1.8l-4.7-5.9z"/>
<path class="m" d="M869.7 286.1l4.7 -5"/>
<path class="m" d="M733.6 251.2l4.7 -2.6"/>
<path class="m" d="M813.8 316.8l4.7 2.6"/>
<path class="m" d="M715.1 263.6l4.7 -4.5"/>
<path class="m" d="M630.7 253.1l4.7 4.6"/>
<path color="#1c4565" d="M855.8 300.2l4.7-4.8l2.3-2.4l-4.7 4.4z"/>
<path color="#ffc242" d="M626 248.7l4.7 4.4l2.2-.4l-4.7-4.2z"/>
<path color="#596ec5" d="M804.4 308.2l4.7 4.8l2.2-3.6l-4.7-4.5z"/>
<path class="m" d="M809.1 313l4.7 3.8"/>
<path class="m" d="M818.5 319.4l4.7 1.3"/>
<path class="m" d="M785.3 273.9l4.7 5.9"/>
<path color="#5252a2" d="M823.2 320.7l4.7 0l2.2-4l-4.7 0z"/>
<path color="#0e717e" d="M687.2 286.6l4.7-2.9l2.2-2l-4.7 2.6z"/>
<path class="m" d="M855.8 300.2l4.7 -4.8"/>
<path color="#ffd739" d="M621.3 244.6l4.7 4.1l2.2-.2l-4.7-3.9z"/>
<path class="m" d="M626 248.7l4.7 4.4"/>
<path class="m" d="M804.4 308.2l4.7 4.8"/>
<path color="#ebe722" d="M593.1 229.1l4.7 1.9l2.2 .7l-4.7-1.8z"/>
<path color="#64d184" d="M778.4 269.1l4.7 6.1l2.2-1.3l-4.7-5.7z"/>
<path class="m" d="M823.2 320.7l4.7 0"/>
<path class="m" d="M687.2 286.6l4.7 -2.9"/>
<path color="#2a492c" d="M703.5 273.9l4.7-4.7l2.2-1.1l-4.7 4.3z"/>
<path color="#557dd0" d="M799.7 302.7l4.7 5.5l2.2-3.3l-4.7-5.2z"/>
<path color="#eeea23" d="M597.8 231l4.7 2.1l2.2 .6l-4.7-2z"/>
<path color="#ffea2d" d="M616.6 240.9l4.7 3.7l2.2 0l-4.7-3.4z"/>
<path color="#5c4a18" d="M736.1 248.3l4.7-2.1l2.2 .5l-4.7 1.9z"/>
<path color="#2d3c69" d="M844.2 311l4.7-3.6l2.2-3.1l-4.7 3.3z"/>
<path class="m" d="M621.3 244.6l4.7 4.1"/>
<path color="#f2ee23" d="M602.5 233.1l4.7 2.2l2.2 .6l-4.7-2.2z"/>
<path color="#fff328" d="M611.9 237.8l4.7 3.1l2.2 .3l-4.7-3z"/>
<path color="#f6f224" d="M607.2 235.3l4.7 2.5l2.2 .4l-4.7-2.3z"/>
<path class="m" d="M593.1 229.1l4.7 1.9"/>
<path class="m" d="M780.6 268.2l4.7 5.8"/>
<path color="#47498e" d="M827.9 320.7l4.7-1.1l2.2-3.9l-4.7 1z"/>
<path class="m" d="M705.7 272.4l4.7 -4.3"/>
<path class="m" d="M799.7 302.7l4.7 5.5"/>
<path class="m" d="M597.8 231l4.7 2.1"/>
<path class="m" d="M616.6 240.9l4.7 3.7"/>
<path color="#394a1f" d="M883.8 269.7l4.7-6.2l2.2-.1l-4.7 5.7z"/>
<path class="m" d="M738.3 248.6l4.7 -1.9"/>
<path class="m" d="M846.4 307.6l4.7 -3.3"/>
<path class="m" d="M602.5 233.1l4.7 2.3"/>
<path class="m" d="M611.9 237.8l4.7 3.1"/>
<path color="#564617" d="M719.8 259.1l4.7-4.2l2.2-.2l-4.7 3.9z"/>
<path class="m" d="M607.2 235.3l4.7 2.5"/>
<path color="#a8d64c" d="M773.7 263.2l4.7 5.9l2.2-.9l-4.7-5.5z"/>
<path class="m" d="M827.9 320.7l4.7 -1.1"/>
<path color="#409be4" d="M795 296.5l4.7 6.2l2.2-3l-4.7-5.7z"/>
<path color="#19c9df" d="M661.4 285.1l4.7 2.8l2.2-2.3l-4.7-2.6z"/>
<path color="#19483d" d="M872.2 282.6l4.7-5.9l2.2-1.1l-4.7 5.5z"/>
<path class="m" d="M883.8 269.7l4.7 -6.3"/>
<path color="#1cc4e9" d="M666.1 287.9l4.7 2l2.2-2.4l-4.7-1.9z"/>
<path color="#23cbcc" d="M656.7 281.6l4.7 3.5l2.2-2.1l-4.7-3.3z"/>
<path class="m" d="M719.8 259.1l4.7 -4.2"/>
<path color="#14645f" d="M691.9 283.7l4.7-3.9l2.2-1.7l-4.7 3.6z"/>
<path color="#5c4e15" d="M740.8 246.2l4.7-1l2.2 .5l-4.7 1z"/>
<path class="m" d="M775.9 262.7l4.7 5.4"/>
<path class="m" d="M795 296.5l4.7 6.1"/>
<path color="#1cb6e0" d="M670.8 289.9l4.7 1l2.2-2.4l-4.7-1z"/>
<path color="#38ceb1" d="M652 277.5l4.7 4.1l2.2-1.9l-4.7-3.9z"/>
<path class="m" d="M663.6 283l4.7 2.7"/>
<path color="#15424f" d="M860.5 295.4l4.7-5.3l2.3-2l-4.7 4.9z"/>
<path class="m" d="M874.4 281.1l4.7 -5.5"/>
<path class="m" d="M668.3 285.6l4.7 1.9"/>
<path class="m" d="M658.9 279.7l4.7 3.3"/>
<path color="#3c417d" d="M832.6 319.6l4.7-2.1l2.2-3.7l-4.7 1.9z"/>
<path color="#eecc38" d="M769 257.9l4.7 5.3l2.2-.5l-4.7-5z"/>
<path class="m" d="M691.9 283.7l4.7 -3.9"/>
<path class="m" d="M743 246.7l4.7 -0.9"/>
<path class="m" d="M673 287.5l4.7 1"/>
<path color="#59d08f" d="M647.3 273.1l4.7 4.4l2.2-1.7l-4.7-4.2z"/>
<path class="m" d="M654.2 275.8l4.7 3.8"/>
<path class="m" d="M860.5 295.4l4.7 -5.4"/>
<path color="#23bbf3" d="M790.3 290l4.7 6.5l2.2-2.5l-4.7-6.1z"/>
<path color="#189fc2" d="M675.5 290.9l4.7-.3l2.3-2.3l-4.8 .2z"/>
<path color="#253d63" d="M848.9 307.4l4.7-4.4l2.2-2.8l-4.7 4.1z"/>
<path class="m" d="M832.6 319.6l4.7 -2.1"/>
<path color="#3f4a1c" d="M708.2 269.2l4.7-4.9l2.2-.7l-4.7 4.5z"/>
<path class="m" d="M771.2 257.7l4.7 5"/>
<path color="#5c5014" d="M745.5 245.2l4.7 .1l2.2 .6l-4.7-.2z"/>
<path class="m" d="M649.5 271.6l4.7 4.2"/>
<path color="#ffc23e" d="M764.3 253.3l4.7 4.6l2.2-.2l-4.7-4.3z"/>
<path class="m" d="M790.3 290l4.7 6.5"/>
<path color="#88d465" d="M642.6 268.3l4.7 4.8l2.2-1.5l-4.7-4.5z"/>
<path class="m" d="M677.7 288.5l4.7 -0.3"/>
<path class="m" d="M851.1 304.3l4.7 -4.1"/>
<path class="m" d="M710.4 268.1l4.7 -4.5"/>
<path color="#5c451a" d="M724.5 254.9l4.7-3.8l2.2 .1l-4.7 3.5z"/>
<path class="m" d="M747.7 245.7l4.7 0.2"/>
<path color="#efcc2a" d="M750.2 245.3l4.7 1.5l2.2 .5l-4.7-1.4z"/>
<path color="#ffc83d" d="M759.6 249.5l4.7 3.8l2.2 .1l-4.7-3.5z"/>
<path class="m" d="M766.5 253.4l4.7 4.3"/>
<path class="m" d="M644.8 267.1l4.7 4.5"/>
<path color="#ffd132" d="M754.9 246.8l4.7 2.7l2.2 .4l-4.7-2.6z"/>
<path color="#cbd240" d="M637.9 263.4l4.7 4.9l2.2-1.2l-4.7-4.6z"/>
<path color="#1ecad6" d="M785.6 283.2l4.7 6.8l2.2-2.1l-4.7-6.3z"/>
<path class="m" d="M724.5 254.9l4.7 -3.8"/>
<path color="#118397" d="M680.2 290.6l4.7-1.9l2.3-2.1l-4.7 1.7z"/>
<path color="#343b6e" d="M837.3 317.5l4.7-3.1l2.2-3.4l-4.7 2.8z"/>
<path color="#224833" d="M696.6 279.8l4.7-4.6l2.2-1.3l-4.7 4.2z"/>
<path class="m" d="M752.4 245.9l4.7 1.4"/>
<path class="m" d="M761.8 249.9l4.7 3.5"/>
<path color="#5d61bb" d="M811.6 320.5l4.7 2.8l2.2-3.9l-4.7-2.6z"/>
<path class="m" d="M757.1 247.3l4.7 2.6"/>
<path color="#5d5db7" d="M816.3 323.3l4.7 1.4l2.2-4l-4.7-1.3z"/>
<path color="#5c66bf" d="M806.9 316.5l4.7 4l2.2-3.7l-4.7-3.8z"/>
<path class="m" d="M640.1 262.5l4.7 4.7"/>
<path class="m" d="M785.6 283.2l4.7 6.7"/>
<path color="#2d4929" d="M876.9 276.7l4.7-6.5l2.2-.5l-4.7 5.9z"/>
<path class="m" d="M682.5 288.3l4.7 -1.7"/>
<path class="m" d="M837.3 317.5l4.7 -3.1"/>
<path class="m" d="M696.6 279.8l4.7 -4.6"/>
<path color="#f8c939" d="M633.2 258.4l4.7 5l2.2-.9l-4.7-4.7z"/>
<path class="m" d="M813.8 316.8l4.7 2.6"/>
<path color="#134746" d="M865.2 290.1l4.8-6l2.2-1.5l-4.7 5.5z"/>
<path class="m" d="M818.5 319.4l4.7 1.3"/>
<path class="m" d="M809.1 313l4.7 3.8"/>
<path class="m" d="M879.1 275.6l4.7 -5.9"/>
<path color="#5970c7" d="M802.2 311.4l4.7 5.1l2.2-3.5l-4.7-4.8z"/>
<path color="#5152a1" d="M821 324.7l4.7-.1l2.2-3.9l-4.7 0z"/>
<path class="m" d="M635.4 257.8l4.7 4.7"/>
<path color="#194866" d="M853.6 303l4.7-5.2l2.2-2.4l-4.7 4.8z"/>
<path color="#45cea3" d="M780.9 276.5l4.7 6.7l2.2-1.6l-4.7-6.4z"/>
<path color="#534717" d="M712.9 264.3l4.7-4.8l2.2-.4l-4.7 4.5z"/>
<path class="m" d="M865.2 290.1l4.7 -6"/>
<path color="#ffc241" d="M628.5 253.5l4.7 4.9l2.2-.6l-4.7-4.7z"/>
<path color="#5c4d16" d="M729.2 251.1l4.7-3.2l2.2 .4l-4.7 2.9z"/>
<path class="m" d="M804.4 308.2l4.7 4.8"/>
<path class="m" d="M823.2 320.7l4.7 0"/>
<path color="#126e71" d="M684.9 288.7l4.7-3.1l2.3-1.9l-4.7 2.9z"/>
<path class="m" d="M855.8 300.2l4.7 -4.8"/>
<path class="m" d="M780.9 276.5l4.7 6.8"/>
<path class="m" d="M715.1 263.6l4.7 -4.5"/>
<path class="m" d="M630.7 253.1l4.7 4.6"/>
<path color="#5380d2" d="M797.5 305.5l4.7 5.9l2.2-3.2l-4.7-5.5z"/>
<path class="m" d="M729.2 251.1l4.7 -3.1"/>
<path color="#2b3a65" d="M842 314.4l4.7-3.9l2.2-3.1l-4.7 3.6z"/>
<path color="#ffd939" d="M623.8 248.8l4.7 4.7l2.2-.4l-4.7-4.4z"/>
<path color="#46488c" d="M825.7 324.6l4.7-1.2l2.2-3.8l-4.7 1.1z"/>
<path class="m" d="M687.2 286.6l4.7 -2.9"/>
<path class="m" d="M799.7 302.7l4.7 5.5"/>
<path color="#87d465" d="M776.2 269.9l4.7 6.6l2.2-1.3l-4.7-6.1z"/>
<path color="#344a23" d="M701.3 275.2l4.7-5l2.2-1l-4.7 4.7z"/>
<path class="m" d="M842 314.4l4.7 -4"/>
<path class="m" d="M626 248.7l4.7 4.4"/>
<path color="#fff22c" d="M619.1 244.4l4.7 4.4l2.2-.1l-4.7-4.1z"/>
<path class="m" d="M827.9 320.7l4.7 -1.1"/>
<path class="m" d="M776.2 269.9l4.7 6.6"/>
<path class="m" d="M701.3 275.2l4.7 -5"/>
<path color="#3aa3e8" d="M792.8 299l4.7 6.5l2.2-2.8l-4.7-6.2z"/>
<path color="#595812" d="M590.9 228.1l4.7 2l2.2 .9l-4.7-1.9z"/>
<path color="#fffd26" d="M614.4 240.6l4.7 3.8l2.2 .2l-4.7-3.7z"/>
<path class="m" d="M621.3 244.6l4.7 4.1"/>
<path color="#5b5313" d="M733.9 247.9l4.7-2.2l2.2 .5l-4.7 2.1z"/>
<path color="#eeea23" d="M595.6 230.1l4.7 2.2l2.2 .8l-4.7-2.1z"/>
<path color="#20cbd1" d="M659.2 287.1l4.7 2.9l2.2-2.1l-4.7-2.8z"/>
<path color="#fdf925" d="M609.7 237.3l4.7 3.3l2.2 .3l-4.7-3.1z"/>
<path color="#19c9e0" d="M663.9 290l4.7 2.1l2.2-2.2l-4.7-2z"/>
<path color="#f2ee23" d="M600.3 232.3l4.7 2.3l2.2 .7l-4.7-2.2z"/>
<path color="#4c4818" d="M881.6 270.2l4.7-6.8l2.2 .1l-4.7 6.2z"/>
<path color="#f6f224" d="M605 234.6l4.7 2.7l2.2 .5l-4.7-2.5z"/>
<path color="#2ecdbc" d="M654.5 283.4l4.7 3.7l2.2-2l-4.7-3.5z"/>
<path color="#3b4079" d="M830.4 323.4l4.7-2.3l2.2-3.6l-4.7 2.1z"/>
<path class="m" d="M795 296.5l4.7 6.1"/>
<path class="m" d="M593.1 229.1l4.7 1.9"/>
<path class="m" d="M616.6 240.9l4.7 3.7"/>
<path color="#204835" d="M870 284.1l4.7-6.5l2.2-.9l-4.7 5.9z"/>
<path color="#5b441a" d="M717.6 259.5l4.7-4.6l2.2 0l-4.7 4.2z"/>
<path color="#dfcf3b" d="M771.5 263.6l4.7 6.3l2.2-.8l-4.7-5.9z"/>
<path class="m" d="M733.9 247.9l4.7 -2.3"/>
<path color="#1c483a" d="M689.6 285.6l4.7-4.2l2.3-1.6l-4.7 3.9z"/>
<path color="#19bbd9" d="M668.6 292.1l4.7 1.1l2.2-2.3l-4.7-1z"/>
<path class="m" d="M597.8 231l4.7 2.1"/>
<path class="m" d="M659.2 287.1l4.7 3"/>
<path color="#13444d" d="M858.3 297.8l4.7-5.9l2.2-1.8l-4.7 5.3z"/>
<path class="m" d="M611.9 237.8l4.7 3.1"/>
<path class="m" d="M663.9 290l4.7 2.1"/>
<path class="m" d="M602.5 233.1l4.7 2.3"/>
<path color="#4acf9d" d="M649.8 279.1l4.7 4.3l2.2-1.8l-4.7-4.1z"/>
<path class="m" d="M883.8 269.7l4.7 -6.3"/>
<path class="m" d="M607.2 235.3l4.7 2.5"/>
<path class="m" d="M654.5 283.4l4.7 3.7"/>
<path class="m" d="M832.6 319.6l4.7 -2.1"/>
<path class="m" d="M870 284.1l4.7 -6.5"/>
<path class="m" d="M719.8 259.1l4.7 -4.2"/>
<path class="m" d="M771.5 263.6l4.7 6.2"/>
<path class="m" d="M691.9 283.7l4.7 -3.9"/>
<path class="m" d="M668.6 292.1l4.7 1.1"/>
<path color="#213d60" d="M846.7 310.5l4.7-4.8l2.2-2.7l-4.7 4.4z"/>
<path color="#1ec1ee" d="M788.1 292l4.7 7l2.2-2.5l-4.7-6.5z"/>
<path class="m" d="M860.5 295.4l4.7 -5.4"/>
<path class="m" d="M649.8 279.1l4.7 4.3"/>
<path color="#15a1ba" d="M673.3 293.2l4.7-.4l2.2-2.2l-4.7 .3z"/>
<path color="#74d375" d="M645.1 274.4l4.7 4.7l2.2-1.6l-4.7-4.4z"/>
<path color="#5a5612" d="M738.6 245.7l4.7-1.2l2.2 .7l-4.7 1z"/>
<path color="#ffc43d" d="M766.8 258l4.7 5.6l2.2-.4l-4.7-5.3z"/>
<path class="m" d="M846.7 310.5l4.7 -4.8"/>
<path class="m" d="M790.3 290l4.7 6.5"/>
<path class="m" d="M673.3 293.2l4.7 -0.4"/>
<path color="#4e4817" d="M706 270.2l4.7-5.2l2.2-.7l-4.7 4.9z"/>
<path class="m" d="M645.1 274.4l4.7 4.7"/>
<path class="m" d="M738.6 245.7l4.7 -1.2"/>
<path color="#afd54a" d="M640.4 269.4l4.7 5l2.2-1.3l-4.7-4.8z"/>
<path class="m" d="M766.8 258l4.7 5.7"/>
<path color="#313a6b" d="M835.1 321.1l4.7-3.3l2.2-3.4l-4.7 3.1z"/>
<path color="#5d61bb" d="M809.4 324.3l4.7 3l2.2-4l-4.7-2.8z"/>
<path color="#5d5eb8" d="M814.1 327.3l4.7 1.3l2.2-3.9l-4.7-1.4z"/>
<path class="m" d="M706 270.2l4.7 -5.3"/>
<path color="#ffcf3d" d="M762.1 253l4.7 5l2.2-.1l-4.7-4.6z"/>
<path color="#5b66c0" d="M804.7 320l4.7 4.3l2.2-3.8l-4.7-4z"/>
<path color="#595712" d="M743.3 244.5l4.7 .1l2.2 .7l-4.7-.1z"/>
<path color="#12828c" d="M678 292.8l4.7-2l2.2-2.1l-4.7 1.9z"/>
<path class="m" d="M640.4 269.4l4.7 5"/>
<path color="#26ccc6" d="M783.4 284.8l4.7 7.2l2.2-2l-4.7-6.8z"/>
<path class="m" d="M837.3 317.5l4.7 -3.1"/>
<path class="m" d="M809.4 324.3l4.7 2.9"/>
<path color="#5c4d16" d="M722.3 254.9l4.7-4.1l2.2 .3l-4.7 3.8z"/>
<path color="#eecc38" d="M635.7 264.2l4.7 5.2l2.2-1.1l-4.7-4.9z"/>
<path class="m" d="M814.1 327.3l4.7 1.4"/>
<path color="#2a492c" d="M694.3 281.4l4.7-4.9l2.3-1.3l-4.7 4.6z"/>
<path class="m" d="M762.1 253l4.7 4.9"/>
<path color="#ffe42f" d="M757.4 249l4.7 4l2.2 .3l-4.7-3.8z"/>
<path class="m" d="M804.7 320l4.7 4.3"/>
<path class="m" d="M743.3 244.5l4.7 0.1"/>
<path color="#5151a0" d="M818.8 328.6l4.7-.1l2.2-3.9l-4.7 .1z"/>
<path color="#e8e123" d="M748 244.6l4.7 1.6l2.2 .6l-4.7-1.5z"/>
<path class="m" d="M678 292.8l4.7 -2"/>
<path class="m" d="M785.6 283.2l4.7 6.7"/>
<path color="#5872c8" d="M800 314.7l4.7 5.3l2.2-3.5l-4.7-5.1z"/>
<path color="#fcec28" d="M752.7 246.2l4.7 2.8l2.2 .5l-4.7-2.7z"/>
<path class="m" d="M724.5 254.9l4.7 -3.8"/>
<path class="m" d="M635.7 264.2l4.7 5.2"/>
<path class="m" d="M696.6 279.8l4.7 -4.6"/>
<path class="m" d="M757.4 249l4.7 4"/>
<path color="#3a4a1f" d="M874.7 277.6l4.7-7l2.2-.4l-4.7 6.5z"/>
<path color="#164741" d="M863 291.9l4.7-6.4l2.3-1.4l-4.8 6z"/>
<path class="m" d="M818.8 328.6l4.7 -0.1"/>
<path class="m" d="M748 244.6l4.7 1.6"/>
<path color="#193e4d" d="M851.4 305.7l4.7-5.6l2.2-2.3l-4.7 5.2z"/>
<path color="#ffc33f" d="M631 258.9l4.7 5.3l2.2-.8l-4.7-5z"/>
<path class="m" d="M800 314.7l4.7 5.4"/>
<path class="m" d="M752.7 246.2l4.7 2.9"/>
<path class="m" d="M874.7 277.6l4.7 -7"/>
<path class="m" d="M865.2 290.1l4.7 -6"/>
<path color="#5fd189" d="M778.7 277.6l4.7 7.2l2.2-1.6l-4.7-6.7z"/>
<path color="#44478a" d="M823.5 328.5l4.7-1.3l2.2-3.8l-4.7 1.2z"/>
<path color="#4f86d6" d="M795.3 308.4l4.7 6.3l2.2-3.3l-4.7-5.9z"/>
<path class="m" d="M851.4 305.7l4.7 -5.6"/>
<path class="m" d="M631 258.9l4.7 5.3"/>
<path color="#293961" d="M839.8 317.8l4.7-4.3l2.2-3l-4.7 3.9z"/>
<path color="#156b65" d="M682.7 290.8l4.7-3.3l2.2-1.9l-4.7 3.1z"/>
<path color="#5a4519" d="M710.7 265l4.7-5.3l2.2-.2l-4.7 4.8z"/>
<path color="#ffd63b" d="M626.3 253.7l4.7 5.2l2.2-.5l-4.7-4.9z"/>
<path class="m" d="M780.9 276.5l4.7 6.8"/>
<path class="m" d="M823.5 328.5l4.7 -1.3"/>
<path class="m" d="M795.3 308.4l4.7 6.3"/>
<path class="m" d="M842 314.4l4.7 -4"/>
<path class="m" d="M682.7 290.8l4.7 -3.4"/>
<path color="#5a5513" d="M727 250.8l4.7-3.4l2.2 .5l-4.7 3.2z"/>
<path class="m" d="M710.7 265l4.7 -5.2"/>
<path class="m" d="M626.3 253.7l4.7 5.2"/>
<path color="#fff42d" d="M621.6 248.7l4.7 5l2.2-.2l-4.7-4.7z"/>
<path class="m" d="M729.2 251.1l4.7 -3.1"/>
<path color="#414a1b" d="M699 276.5l4.7-5.4l2.3-.9l-4.7 5z"/>
<path color="#33aaec" d="M790.6 301.4l4.7 7l2.2-2.9l-4.7-6.5z"/>
<path color="#b5d548" d="M774 270.6l4.7 7l2.2-1.1l-4.7-6.6z"/>
<path color="#393e76" d="M828.2 327.2l4.7-2.5l2.2-3.6l-4.7 2.3z"/>
<path class="m" d="M621.6 248.7l4.7 5"/>
<path class="m" d="M701.3 275.2l4.7 -5"/>
<path color="#ffff26" d="M616.9 244.1l4.7 4.6l2.2 .1l-4.7-4.4z"/>
<path class="m" d="M790.6 301.4l4.7 7"/>
<path class="m" d="M776.2 269.9l4.7 6.6"/>
<path class="m" d="M828.2 327.2l4.7 -2.5"/>
<path color="#214834" d="M687.4 287.5l4.7-4.5l2.2-1.6l-4.7 4.2z"/>
<path color="#12464a" d="M856.1 300.1l4.7-6.4l2.2-1.8l-4.7 5.9z"/>
<path class="m" d="M616.9 244.1l4.7 4.6"/>
<path color="#fffd26" d="M612.2 240l4.7 4.1l2.2 .3l-4.7-3.8z"/>
<path color="#2a492c" d="M867.7 285.5l4.7-7.1l2.3-.8l-4.7 6.5z"/>
<path color="#1f4061" d="M844.5 313.5l4.7-5.2l2.2-2.6l-4.7 4.8z"/>
<path color="#595812" d="M731.7 247.4l4.7-2.5l2.2 .8l-4.7 2.2z"/>
<path color="#564617" d="M879.4 270.6l4.7-7.4l2.2 .2l-4.7 6.8z"/>
<path color="#595812" d="M588.7 226.9l4.7 2.1l2.2 1.1l-4.7-2z"/>
<path color="#fcc83a" d="M769.3 263.9l4.7 6.7l2.2-.7l-4.7-6.3z"/>
<path color="#fdf925" d="M607.5 236.6l4.7 3.4l2.2 .6l-4.7-3.3z"/>
<path color="#eeea23" d="M593.4 229l4.7 2.3l2.2 1l-4.7-2.2z"/>
<path color="#1ac6e6" d="M785.9 294l4.7 7.4l2.2-2.4l-4.7-7z"/>
<path color="#5c4b17" d="M715.4 259.7l4.7-4.9l2.2 .1l-4.7 4.6z"/>
<path class="m" d="M687.4 287.5l4.7 -4.5"/>
<path class="m" d="M856.1 300.1l4.7 -6.3"/>
<path color="#f2ee23" d="M598.1 231.3l4.7 2.5l2.2 .8l-4.7-2.3z"/>
<path color="#f6f224" d="M602.8 233.8l4.7 2.8l2.2 .7l-4.7-2.7z"/>
<path class="m" d="M612.2 240l4.7 4.1"/>
<path class="m" d="M870 284.1l4.7 -6.5"/>
<path class="m" d="M846.7 310.5l4.7 -4.8"/>
<path class="m" d="M733.9 247.9l4.7 -2.3"/>
<path class="m" d="M879.4 270.6l4.7 -7.4"/>
<path class="m" d="M588.7 226.9l4.7 2.1"/>
<path class="m" d="M771.5 263.6l4.7 6.2"/>
<path color="#5d61bb" d="M807.2 328.1l4.7 3.1l2.2-3.9l-4.7-3z"/>
<path class="m" d="M607.5 236.6l4.7 3.5"/>
<path class="m" d="M593.4 229l4.7 2.3"/>
<path class="m" d="M785.9 294l4.7 7.4"/>
<path color="#2f3967" d="M832.9 324.7l4.7-3.5l2.2-3.4l-4.7 3.3z"/>
<path class="m" d="M715.4 259.7l4.7 -5"/>
<path color="#5d5eb8" d="M811.9 331.2l4.7 1.4l2.2-4l-4.7-1.3z"/>
<path class="m" d="M598.1 231.3l4.7 2.5"/>
<path class="m" d="M602.8 233.8l4.7 2.8"/>
<path color="#5b67c0" d="M802.5 323.6l4.7 4.5l2.2-3.8l-4.7-4.3z"/>
<path class="m" d="M809.4 324.3l4.7 2.9"/>
<path class="m" d="M832.9 324.7l4.7 -3.6"/>
<path color="#ffcb3f" d="M764.6 257.9l4.7 6l2.2-.3l-4.7-5.6z"/>
<path class="m" d="M814.1 327.3l4.7 1.4"/>
<path color="#564617" d="M703.7 271.1l4.8-5.6l2.2-.5l-4.7 5.2z"/>
<path color="#5051a0" d="M816.6 332.6l4.7-.1l2.2-4l-4.7 .1z"/>
<path color="#595812" d="M736.4 244.9l4.7-1.3l2.2 .9l-4.7 1.2z"/>
<path class="m" d="M804.7 320l4.7 4.3"/>
<path color="#37ceb2" d="M781.2 286.3l4.7 7.7l2.2-2l-4.7-7.2z"/>
<path color="#5774ca" d="M797.8 317.8l4.7 5.8l2.2-3.6l-4.7-5.3z"/>
<path class="m" d="M766.8 258l4.7 5.7"/>
<path class="m" d="M706 270.2l4.7 -5.3"/>
<path class="m" d="M818.8 328.6l4.7 -0.1"/>
<path class="m" d="M738.6 245.7l4.7 -1.2"/>
<path color="#344a23" d="M692.1 283l4.7-5.3l2.2-1.2l-4.7 4.9z"/>
<path color="#ffeb2f" d="M759.9 252.6l4.7 5.3l2.2 .1l-4.7-5z"/>
<path class="m" d="M781.2 286.3l4.7 7.7"/>
<path class="m" d="M800 314.7l4.7 5.4"/>
<path color="#595812" d="M741.1 243.6l4.7 .1l2.2 .9l-4.7-.1z"/>
<path color="#434687" d="M821.3 332.5l4.7-1.5l2.2-3.8l-4.7 1.3z"/>
<path color="#16404e" d="M849.2 308.3l4.7-6l2.2-2.2l-4.7 5.6z"/>
<path color="#5a5513" d="M720.1 254.8l4.7-4.5l2.2 .5l-4.7 4.1z"/>
<path class="m" d="M692.1 283l4.7 -5.3"/>
<path color="#1c483a" d="M860.8 293.7l4.7-7l2.2-1.2l-4.7 6.4z"/>
<path class="m" d="M762.1 253l4.7 4.9"/>
<path color="#fffa27" d="M755.2 248.4l4.7 4.2l2.2 .4l-4.7-4z"/>
<path color="#26375d" d="M837.6 321.2l4.7-4.7l2.2-3l-4.7 4.3z"/>
<path color="#4a8cda" d="M793.1 311.2l4.7 6.6l2.2-3.1l-4.7-6.3z"/>
<path class="m" d="M743.3 244.5l4.7 0.1"/>
<path color="#4b4918" d="M872.4 278.4l4.7-7.6l2.3-.2l-4.7 7z"/>
<path class="m" d="M823.5 328.5l4.7 -1.3"/>
<path color="#595812" d="M745.8 243.7l4.7 1.6l2.2 .9l-4.7-1.6z"/>
<path class="m" d="M851.4 305.7l4.7 -5.6"/>
<path class="m" d="M720.1 254.8l4.7 -4.4"/>
<path color="#f8f424" d="M750.5 245.3l4.7 3.1l2.2 .6l-4.7-2.8z"/>
<path class="m" d="M860.8 293.7l4.7 -7"/>
<path color="#7ed46c" d="M776.5 278.6l4.7 7.7l2.2-1.5l-4.7-7.2z"/>
<path class="m" d="M757.4 249l4.7 4"/>
<path class="m" d="M837.6 321.2l4.7 -4.6"/>
<path class="m" d="M795.3 308.4l4.7 6.3"/>
<path class="m" d="M874.7 277.6l4.7 -7"/>
<path class="m" d="M748 244.6l4.7 1.6"/>
<path class="m" d="M752.7 246.2l4.7 2.9"/>
<path class="m" d="M776.5 278.6l4.7 7.7"/>
<path color="#5c4819" d="M708.5 265.5l4.7-5.6l2.2-.2l-4.7 5.3z"/>
<path color="#373c73" d="M826 331l4.7-2.6l2.2-3.7l-4.7 2.5z"/>
<path color="#2cb2ef" d="M788.4 303.8l4.7 7.4l2.2-2.8l-4.7-7z"/>
<path class="m" d="M710.7 265l4.7 -5.2"/>
<path class="m" d="M828.2 327.2l4.7 -2.5"/>
<path color="#595812" d="M724.8 250.3l4.7-3.7l2.2 .8l-4.7 3.4z"/>
<path color="#4e4817" d="M696.8 277.7l4.7-5.8l2.2-.8l-4.7 5.4z"/>
<path class="m" d="M790.6 301.4l4.7 7"/>
<path color="#e4ce3a" d="M771.8 271.1l4.7 7.5l2.2-1l-4.7-7z"/>
<path class="m" d="M724.8 250.3l4.7 -3.7"/>
<path class="m" d="M696.8 277.7l4.7 -5.8"/>
<path color="#1c4363" d="M842.3 316.5l4.7-5.6l2.2-2.6l-4.7 5.2z"/>
<path class="m" d="M771.8 271.1l4.7 7.5"/>
<path color="#134746" d="M853.9 302.3l4.7-6.9l2.2-1.7l-4.7 6.4z"/>
<path color="#5d61bb" d="M805 331.8l4.7 3.3l2.2-3.9l-4.7-3.1z"/>
<path color="#5d5eb8" d="M809.7 335.1l4.7 1.5l2.2-4l-4.7-1.4z"/>
<path color="#1cc9da" d="M783.7 295.9l4.7 7.9l2.2-2.4l-4.7-7.4z"/>
<path class="m" d="M842.3 316.5l4.7 -5.6"/>
<path color="#354a23" d="M865.5 286.7l4.7-7.6l2.2-.7l-4.7 7.1z"/>
<path color="#2d3764" d="M830.7 328.4l4.7-3.9l2.2-3.3l-4.7 3.5z"/>
<path class="m" d="M856.1 300.1l4.7 -6.3"/>
<path color="#5b68c1" d="M800.3 327.1l4.7 4.7l2.2-3.7l-4.7-4.5z"/>
<path class="m" d="M805 331.8l4.7 3.3"/>
<path color="#ffc241" d="M767.1 264.1l4.7 7l2.2-.5l-4.7-6.7z"/>
<path class="m" d="M809.7 335.1l4.7 1.5"/>
<path color="#5b441a" d="M877.1 270.8l4.7-8.1l2.3 .5l-4.7 7.4z"/>
<path class="m" d="M785.9 294l4.7 7.4"/>
<path class="m" d="M865.5 286.7l4.7 -7.6"/>
<path class="m" d="M832.9 324.7l4.7 -3.6"/>
<path color="#50519f" d="M814.4 336.6l4.7-.2l2.2-3.9l-4.7 .1z"/>
<path color="#595812" d="M729.5 246.6l4.7-2.6l2.2 .9l-4.7 2.5z"/>
<path color="#5b5413" d="M713.2 259.9l4.7-5.4l2.2 .3l-4.7 4.9z"/>
<path class="m" d="M800.3 327.1l4.7 4.8"/>
<path class="m" d="M767.1 264.1l4.7 7.1"/>
<path class="m" d="M879.4 270.6l4.7 -7.4"/>
<path class="m" d="M814.4 336.6l4.7 -0.2"/>
<path color="#5776cb" d="M795.6 321l4.7 6.1l2.2-3.5l-4.7-5.8z"/>
<path class="m" d="M729.5 246.6l4.7 -2.7"/>
<path class="m" d="M715.4 259.7l4.7 -5"/>
<path color="#5b4419" d="M701.5 271.9l4.7-6l2.3-.4l-4.8 5.6z"/>
<path color="#4bcf9d" d="M779 287.7l4.7 8.2l2.2-1.9l-4.7-7.7z"/>
<path class="m" d="M795.6 321l4.7 6.1"/>
<path color="#424485" d="M819.1 336.4l4.7-1.5l2.2-3.9l-4.7 1.5z"/>
<path color="#ffe531" d="M762.4 257.6l4.7 6.5l2.2-.2l-4.7-6z"/>
<path class="m" d="M701.5 271.9l4.7 -6"/>
<path class="m" d="M781.2 286.3l4.7 7.7"/>
<path color="#595812" d="M734.2 244l4.7-1.5l2.2 1.1l-4.7 1.3z"/>
<path color="#14434f" d="M847 310.9l4.7-6.5l2.2-2.1l-4.7 6z"/>
<path class="m" d="M819.1 336.4l4.7 -1.6"/>
<path class="m" d="M762.4 257.6l4.7 6.4"/>
<path color="#25375b" d="M835.4 324.5l4.7-5l2.2-3l-4.7 4.7z"/>
<path color="#4693df" d="M790.9 313.9l4.7 7.1l2.2-3.2l-4.7-6.6z"/>
<path color="#224833" d="M858.6 295.4l4.7-7.5l2.2-1.2l-4.7 7z"/>
<path class="m" d="M734.2 244l4.7 -1.4"/>
<path class="m" d="M847 310.9l4.7 -6.5"/>
<path color="#ffff27" d="M757.7 252l4.7 5.6l2.2 .3l-4.7-5.3z"/>
<path class="m" d="M837.6 321.2l4.7 -4.6"/>
<path class="m" d="M790.9 313.9l4.7 7.1"/>
<path color="#595812" d="M717.9 254.5l4.7-4.8l2.2 .6l-4.7 4.5z"/>
<path class="m" d="M860.8 293.7l4.7 -7"/>
<path color="#595812" d="M738.9 242.5l4.7 .1l2.2 1.1l-4.7-.1z"/>
<path color="#353b6f" d="M823.8 334.9l4.7-2.9l2.2-3.6l-4.7 2.6z"/>
<path class="m" d="M757.7 252l4.7 5.6"/>
<path color="#554617" d="M870.2 279.1l4.7-8.2l2.2-.1l-4.7 7.6z"/>
<path color="#a4d64e" d="M774.3 279.6l4.7 8.1l2.2-1.4l-4.7-7.7z"/>
<path color="#fffc25" d="M753 247.5l4.7 4.5l2.2 .6l-4.7-4.2z"/>
<path class="m" d="M720.1 254.8l4.7 -4.4"/>
<path class="m" d="M738.9 242.5l4.7 0.1"/>
<path class="m" d="M823.8 334.9l4.7 -2.9"/>
<path color="#595812" d="M743.6 242.6l4.7 1.7l2.2 1l-4.7-1.6z"/>
<path class="m" d="M870.2 279.1l4.7 -8.2"/>
<path class="m" d="M776.5 278.6l4.7 7.7"/>
<path color="#24baf3" d="M786.2 306.1l4.7 7.8l2.2-2.7l-4.7-7.4z"/>
<path color="#f8f424" d="M748.3 244.3l4.7 3.2l2.2 .9l-4.7-3.1z"/>
<path class="m" d="M753 247.5l4.7 4.5"/>
<path class="m" d="M743.6 242.6l4.7 1.7"/>
<path color="#5c4f15" d="M706.2 265.9l4.7-6l2.3 0l-4.7 5.6z"/>
<path class="m" d="M786.2 306.1l4.7 7.8"/>
<path class="m" d="M748.3 244.3l4.7 3.2"/>
<path class="m" d="M706.2 265.9l4.7 -6"/>
<path color="#1a4665" d="M840.1 319.5l4.7-6l2.2-2.6l-4.7 5.6z"/>
<path color="#fec73a" d="M769.6 271.6l4.7 8l2.2-1l-4.7-7.5z"/>
<path color="#2b3660" d="M828.5 332l4.7-4.2l2.2-3.3l-4.7 3.9z"/>
<path color="#154742" d="M851.7 304.4l4.7-7.3l2.2-1.7l-4.7 6.9z"/>
<path color="#595812" d="M722.6 249.7l4.7-3.9l2.2 .8l-4.7 3.7z"/>
<path class="m" d="M842.3 316.5l4.7 -5.6"/>
<path class="m" d="M771.8 271.1l4.7 7.5"/>
<path color="#23cbcc" d="M781.5 297.7l4.7 8.4l2.2-2.3l-4.7-7.9z"/>
<path class="m" d="M828.5 332l4.7 -4.2"/>
<path class="m" d="M851.7 304.4l4.7 -7.3"/>
<path class="m" d="M724.8 250.3l4.7 -3.7"/>
<path color="#43491b" d="M863.3 287.9l4.7-8.2l2.2-.6l-4.7 7.6z"/>
<path class="m" d="M781.5 297.7l4.7 8.4"/>
<path class="m" d="M865.5 286.7l4.7 -7.6"/>
<path color="#ffd53a" d="M764.9 264.1l4.7 7.5l2.2-.5l-4.7-7z"/>
<path color="#5c4c16" d="M874.9 270.9l4.7-8.7l2.2 .5l-4.7 8.1z"/>
<path color="#595812" d="M710.9 259.9l4.7-5.8l2.3 .4l-4.7 5.4z"/>
<path class="m" d="M767.1 264.1l4.7 7.1"/>
<path color="#595812" d="M727.3 245.8l4.7-2.9l2.2 1.1l-4.7 2.6z"/>
<path class="m" d="M874.9 270.9l4.7 -8.7"/>
<path color="#64d184" d="M776.8 289.1l4.7 8.6l2.2-1.8l-4.7-8.2z"/>
<path class="m" d="M710.9 259.9l4.7 -5.7"/>
<path color="#24385c" d="M833.2 327.8l4.7-5.3l2.2-3l-4.7 5z"/>
<path color="#13444d" d="M844.8 313.5l4.7-7l2.2-2.1l-4.7 6.5z"/>
<path class="m" d="M729.5 246.6l4.7 -2.7"/>
<path class="m" d="M776.8 289.1l4.7 8.6"/>
<path color="#fffb29" d="M760.2 257.2l4.7 6.9l2.2 0l-4.7-6.5z"/>
<path class="m" d="M833.2 327.8l4.7 -5.3"/>
<path class="m" d="M847 310.9l4.7 -6.5"/>
<path color="#2b492b" d="M856.4 297.1l4.7-8.1l2.2-1.1l-4.7 7.5z"/>
<path class="m" d="M762.4 257.6l4.7 6.4"/>
<path color="#595812" d="M732 242.9l4.7-1.6l2.2 1.2l-4.7 1.5z"/>
<path class="m" d="M856.4 297.1l4.7 -8.1"/>
<path color="#ffff26" d="M755.5 251.3l4.7 5.9l2.2 .4l-4.7-5.6z"/>
<path color="#d8d03c" d="M772.1 280.4l4.7 8.7l2.2-1.4l-4.7-8.1z"/>
<path class="m" d="M734.2 244l4.7 -1.4"/>
<path color="#5b4419" d="M868 279.7l4.7-8.9l2.2 .1l-4.7 8.2z"/>
<path color="#595812" d="M715.6 254.1l4.7-5.1l2.3 .7l-4.7 4.8z"/>
<path class="m" d="M757.7 252l4.7 5.6"/>
<path class="m" d="M772.1 280.4l4.7 8.7"/>
<path color="#595812" d="M736.7 241.3l4.7 0l2.2 1.3l-4.7-.1z"/>
<path class="m" d="M870.2 279.1l4.7 -8.2"/>
<path color="#fffc25" d="M750.8 246.5l4.7 4.8l2.2 .7l-4.7-4.5z"/>
<path class="m" d="M715.6 254.1l4.7 -5.1"/>
<path color="#1a3c4c" d="M837.9 322.5l4.7-6.5l2.2-2.5l-4.7 6z"/>
<path class="m" d="M738.9 242.5l4.7 0.1"/>
<path color="#595812" d="M741.4 241.3l4.7 1.8l2.2 1.2l-4.7-1.7z"/>
<path color="#f8f424" d="M746.1 243.1l4.7 3.4l2.2 1l-4.7-3.2z"/>
<path class="m" d="M753 247.5l4.7 4.5"/>
<path class="m" d="M837.9 322.5l4.7 -6.4"/>
<path color="#1a483c" d="M849.5 306.5l4.7-7.9l2.2-1.5l-4.7 7.3z"/>
<path class="m" d="M743.6 242.6l4.7 1.7"/>
<path class="m" d="M748.3 244.3l4.7 3.2"/>
<path color="#ffc140" d="M767.4 271.9l4.7 8.5l2.2-.8l-4.7-8z"/>
<path class="m" d="M851.7 304.4l4.7 -7.3"/>
<path class="m" d="M767.4 271.9l4.7 8.4"/>
<path color="#595812" d="M720.3 249l4.7-4.3l2.3 1.1l-4.7 3.9z"/>
<path color="#504717" d="M861.1 289l4.7-8.9l2.2-.4l-4.7 8.2z"/>
<path class="m" d="M720.3 249l4.7 -4.3"/>
<path class="m" d="M861.1 289l4.7 -8.8"/>
<path color="#ffee2e" d="M762.7 264l4.7 7.9l2.2-.3l-4.7-7.5z"/>
<path color="#5b5513" d="M872.7 270.8l4.7-9.4l2.2 .8l-4.7 8.7z"/>
<path color="#12464a" d="M842.6 316l4.7-7.5l2.2-2l-4.7 7z"/>
<path class="m" d="M762.7 264l4.7 8"/>
<path class="m" d="M874.9 270.9l4.7 -8.7"/>
<path class="m" d="M842.6 316l4.7 -7.5"/>
<path color="#595812" d="M725 244.7l4.8-3.1l2.2 1.3l-4.7 2.9z"/>
<path color="#354a22" d="M854.2 298.6l4.7-8.7l2.2-.9l-4.7 8.1z"/>
<path class="m" d="M725 244.7l4.7 -3.1"/>
<path color="#ffff26" d="M758 256.7l4.7 7.3l2.2 .1l-4.7-6.9z"/>
<path class="m" d="M856.4 297.1l4.7 -8.1"/>
<path class="m" d="M758 256.7l4.7 7.3"/>
<path color="#595812" d="M729.8 241.6l4.7-1.7l2.2 1.4l-4.7 1.6z"/>
<path color="#fffe26" d="M753.3 250.4l4.7 6.3l2.2 .5l-4.7-5.9z"/>
<path color="#5c4a18" d="M865.8 280.1l4.7-9.5l2.2 .2l-4.7 8.9z"/>
<path class="m" d="M729.8 241.6l4.7 -1.7"/>
<path class="m" d="M753.3 250.4l4.7 6.3"/>
<path class="m" d="M865.8 280.1l4.7 -9.5"/>
<path color="#595812" d="M734.5 239.9l4.7 0l2.2 1.4l-4.7 0z"/>
<path color="#1f4836" d="M847.3 308.5l4.7-8.4l2.2-1.5l-4.7 7.9z"/>
<path color="#fffb25" d="M748.6 245.4l4.7 5l2.2 .9l-4.7-4.8z"/>
<path class="m" d="M734.5 239.9l4.7 0"/>
<path class="m" d="M847.3 308.5l4.7 -8.4"/>
<path class="m" d="M748.6 245.4l4.7 5.1"/>
<path color="#f8f424" d="M743.9 241.8l4.7 3.6l2.2 1.1l-4.7-3.4z"/>
<path color="#595812" d="M739.2 239.9l4.7 1.9l2.2 1.3l-4.7-1.8z"/>
<path class="m" d="M743.9 241.8l4.7 3.6"/>
<path class="m" d="M739.2 239.9l4.7 1.9"/>
<path color="#584518" d="M858.9 289.9l4.7-9.5l2.2-.3l-4.7 8.9z"/>
<path class="m" d="M861.1 289l4.7 -8.8"/>
<path color="#595812" d="M870.5 270.6l4.7-10.1l2.2 .9l-4.7 9.4z"/>
<path class="m" d="M870.5 270.6l4.7 -10.1"/>
<path color="#434a1b" d="M852 300.1l4.7-9.3l2.2-.9l-4.7 8.7z"/>
<path class="m" d="M852 300.1l4.7 -9.3"/>
<path color="#5b5214" d="M863.6 280.4l4.7-10.1l2.2 .3l-4.7 9.5z"/>
<path class="m" d="M865.8 280.1l4.7 -9.5"/>
<path color="#5c441a" d="M856.7 290.8l4.7-10.1l2.2-.3l-4.7 9.5z"/>
<path class="m" d="M856.7 290.8l4.7 -10.1"/>
<path color="#595812" d="M868.3 270.3l4.7-10.8l2.2 1l-4.7 10.1z"/>
<path class="m" d="M870.5 270.6l4.7 -10.1"/>
<path color="#595812" d="M861.4 280.7l4.7-10.9l2.2 .5l-4.7 10.1z"/>
<path class="m" d="M861.4 280.7l4.7 -10.9"/>
<path color="#595812" d="M866.1 269.8l4.7-11.6l2.2 1.3l-4.7 10.8z"/>
<path class="m" d="M866.1 269.8l4.7 -11.5"/>
</g>
<path d="M816.4 336.8L881.1 208.6" stroke="#e8202a" stroke-width="5" fill="none"/>
<path d="M816.4 336.8 L819.6 330.4 L822.8 324 L826.1 317.6 L829.3 311.2 L832.5 304.8 L835.8 298.4 L839 291.9 L842.3 285.5 L845.5 279.1" stroke="#c0c0c0" stroke-width="3.2" fill="none" stroke-dasharray="9 6"/>
<path d="M846.2 279.2 L843.6 278.8 L840.9 278.2 L838.3 277.5 L835.7 276.6 L833.1 275.6 L830.4 274.4 L827.8 273.2 L825.2 271.8 L822.6 270.4 L819.9 268.9 L817.3 267.3 L814.7 265.7 L812.1 264 L809.4 262.3 L806.8 260.7 L804.2 259 L801.5 257.3 L798.9 255.7 L796.3 254.1 L793.7 252.6 L791 251.2 L788.4 249.8 L785.8 248.6 L783.2 247.4 L780.5 246.4 L777.9 245.5 L775.3 244.8 L772.7 244.2 L770 243.8" stroke="#c0c0c0" stroke-width="3.2" fill="none" stroke-dasharray="9 6"/>
<path d="M712 254.5L704.5 254.3L707.5 240.7L714 220.8L719.6 203Q724.5 195.5 720.5 189" stroke="#c0c0c0" stroke-width="3.2" fill="none" stroke-dasharray="9 6"/>
<path d="M588.7 194.3 L588.7 310.7 L870.8 343.1 L941.5 215.5" stroke="#000" stroke-width="1.8" fill="none"/>
<path d="M581.7 310.7L588.7 310.7" stroke="#000" stroke-width="1.8" fill="none"/>
<path d="M581.7 256.3L588.7 256.3" stroke="#000" stroke-width="1.8" fill="none"/>
<path d="M581.7 201.9L588.7 201.9" stroke="#000" stroke-width="1.8" fill="none"/>
<path d="M884.8 317.8L891.8 318.6" stroke="#000" stroke-width="1.8" fill="none"/>
<path d="M913.2 266.5L920.2 267.3" stroke="#000" stroke-width="1.8" fill="none"/>
<path d="M935.1 227.1L942 227.9" stroke="#000" stroke-width="1.8" fill="none"/>
<text x="487.8" y="26.5" font-size="36" font-weight="bold" fill="#000">(b)</text>
<text x="609.4" y="29" font-size="37" fill="#000">F(T</text>
<text x="666.6" y="40.2" font-size="21" fill="#000">e</text>
<text x="677.8" y="29" font-size="37" fill="#000">, Q) – F</text>
<text x="803.3" y="40.2" font-size="21" fill="#000">min</text>
<text x="837.1" y="29" font-size="37" fill="#000">(T</text>
<text x="871.7" y="40.2" font-size="21" fill="#000">e</text>
<text x="882.9" y="29" font-size="37" fill="#000">, Q)</text>
<defs><linearGradient id="cbb"><stop offset="0.000" stop-color="#5455a7"/><stop offset="0.016" stop-color="#5457a8"/><stop offset="0.032" stop-color="#5358aa"/><stop offset="0.048" stop-color="#535aab"/><stop offset="0.063" stop-color="#535cad"/><stop offset="0.079" stop-color="#525daf"/><stop offset="0.095" stop-color="#525fb0"/><stop offset="0.111" stop-color="#5162b2"/><stop offset="0.127" stop-color="#5066b5"/><stop offset="0.143" stop-color="#4f69b7"/><stop offset="0.159" stop-color="#4e6cb9"/><stop offset="0.175" stop-color="#4d6fbb"/><stop offset="0.190" stop-color="#4c72bd"/><stop offset="0.206" stop-color="#4977c1"/><stop offset="0.222" stop-color="#457dc5"/><stop offset="0.238" stop-color="#4183c9"/><stop offset="0.254" stop-color="#3d89cc"/><stop offset="0.270" stop-color="#398fd0"/><stop offset="0.286" stop-color="#3494d3"/><stop offset="0.302" stop-color="#2f99d6"/><stop offset="0.317" stop-color="#2a9fd8"/><stop offset="0.333" stop-color="#26a4da"/><stop offset="0.349" stop-color="#21a9dd"/><stop offset="0.365" stop-color="#1daddc"/><stop offset="0.381" stop-color="#1bb0d8"/><stop offset="0.397" stop-color="#19b2d3"/><stop offset="0.413" stop-color="#17b5cf"/><stop offset="0.429" stop-color="#18b7c9"/><stop offset="0.444" stop-color="#1bb8c2"/><stop offset="0.460" stop-color="#1fb9bb"/><stop offset="0.476" stop-color="#22bab4"/><stop offset="0.492" stop-color="#29baab"/><stop offset="0.508" stop-color="#31bba3"/><stop offset="0.524" stop-color="#39bb9a"/><stop offset="0.540" stop-color="#41bc92"/><stop offset="0.556" stop-color="#49bc89"/><stop offset="0.571" stop-color="#54bd7f"/><stop offset="0.587" stop-color="#5ebe75"/><stop offset="0.603" stop-color="#68bf6b"/><stop offset="0.619" stop-color="#74c061"/><stop offset="0.635" stop-color="#80c157"/><stop offset="0.651" stop-color="#8dc24d"/><stop offset="0.667" stop-color="#9bc244"/><stop offset="0.683" stop-color="#acc13f"/><stop offset="0.698" stop-color="#bebf39"/><stop offset="0.714" stop-color="#c9bd36"/><stop offset="0.730" stop-color="#d2bb34"/><stop offset="0.746" stop-color="#dbb932"/><stop offset="0.762" stop-color="#e2b734"/><stop offset="0.778" stop-color="#e9b435"/><stop offset="0.794" stop-color="#f0b237"/><stop offset="0.810" stop-color="#f3b139"/><stop offset="0.825" stop-color="#f5b03b"/><stop offset="0.841" stop-color="#f7b23b"/><stop offset="0.857" stop-color="#f9b939"/><stop offset="0.873" stop-color="#fabf37"/><stop offset="0.889" stop-color="#f9c534"/><stop offset="0.905" stop-color="#f9cb30"/><stop offset="0.921" stop-color="#f8d22c"/><stop offset="0.937" stop-color="#f7d82b"/><stop offset="0.952" stop-color="#f5df29"/><stop offset="0.968" stop-color="#f4e327"/><stop offset="0.984" stop-color="#f2e725"/><stop offset="1.000" stop-color="#f1ea24"/></linearGradient></defs>
<rect x="628" y="47.1" width="295.3" height="14.8" fill="url(#cbb)" stroke="#000" stroke-width="1.8"/>
<path d="M776.1 61.9L776.1 58.9" stroke="#000" stroke-width="1.2" fill="none"/>
<text x="625.8" y="89.4" font-size="31.5" fill="#000">0</text>
<text x="750.4" y="89.4" font-size="31.5" fill="#000">0.3</text>
<text x="900.3" y="89.4" font-size="31.5" fill="#000">0.6</text>
<text x="557.8" y="210.7" font-size="30.5" fill="#000">1</text>
<text x="536.2" y="264.5" font-size="30.5" fill="#000">0.5</text>
<text x="560.5" y="318.6" font-size="30.5" fill="#000">0</text>
<text x="895.4" y="332.8" font-size="32" fill="#000">100</text>
<text x="921.7" y="280.2" font-size="32" fill="#000">200</text>
<text x="944.1" y="238.1" font-size="32" fill="#000">300</text>
<text x="889.9" y="371.9" font-size="41" fill="#000">T</text>
<text x="914.6" y="385" font-size="23" fill="#000">e</text>
<text x="933.4" y="371.9" font-size="40" fill="#000">[K]</text>
<text x="642.5" y="353.3" font-size="32" fill="#000">Q</text>
<text x="667.6" y="363.9" font-size="18.5" fill="#000">H</text>
<text x="710" y="394" font-size="37" fill="#000">Q</text>
<text x="772.1" y="375.8" font-size="32" fill="#000">Q</text>
<text x="797.1" y="386.8" font-size="19.5" fill="#000">L</text>
<g transform="translate(528.3,367) rotate(-90)">
<text x="-3" y="0" font-size="36.2" fill="#000">F(T</text>
<text x="53" y="11" font-size="20.5" fill="#000">e</text>
<text x="63.9" y="0" font-size="36.2" fill="#000">, Q) – F</text>
<text x="186.8" y="11" font-size="20.5" fill="#000">min</text>
<text x="219.8" y="0" font-size="36.2" fill="#000">(T</text>
<text x="253.7" y="11" font-size="20.5" fill="#000">e</text>
<text x="264.6" y="0" font-size="36.2" fill="#000">, Q)</text>
</g>
<defs><linearGradient id="gblue" x1="0" x2="1" y1="0" y2="0"><stop offset="0" stop-color="#45c3f0"/><stop offset="1" stop-color="#9fd8d8"/></linearGradient></defs>
<text x="-1.8" y="465.4" font-size="36" font-weight="bold" fill="#000">(c)</text>
<text x="29.4" y="506.4" font-size="26" fill="#000">(000)</text>
<text x="265.4" y="509.4" font-size="25.5" fill="#000">(002)</text>
<text x="459.7" y="519.4" font-size="26" fill="#000">(00l)</text>
<path d="M66 535L452 535" stroke="#000" stroke-width="3" fill="none"/>
<path d="M90.2 543.2L98 526.4" stroke="#000" stroke-width="6.5" stroke-linecap="round"/>
<path d="M447 520.4L471.5 535L447 549.6Z" fill="#000"/>
<path d="M39.3 515.3L46.8 522.8L46.8 550.3L39.3 542.8Z" fill="#2a6fc0" stroke="#111" stroke-width="1.3" stroke-linejoin="round"/>
<path d="M39.3 515.3L66.8 515.3L74.3 522.8L46.8 522.8Z" fill="#2f98da" stroke="#111" stroke-width="1.3" stroke-linejoin="round"/>
<path d="M46.8 522.8L74.3 522.8L74.3 550.3L46.8 550.3Z" fill="url(#gblue)" stroke="#111" stroke-width="1.3"/>
<path d="M152.8 515.3L160.3 522.8L160.3 550.3L152.8 542.8Z" fill="#f9b722" stroke="#111" stroke-width="1.3" stroke-linejoin="round"/>
<path d="M152.8 515.3L180.3 515.3L187.8 522.8L160.3 522.8Z" fill="#fcd24e" stroke="#111" stroke-width="1.3" stroke-linejoin="round"/>
<path d="M160.3 522.8L187.8 522.8L187.8 550.3L160.3 550.3Z" fill="#f2dc9b" stroke="#111" stroke-width="1.3"/>
<path d="M151.8 535L156.1 535" stroke="#000" stroke-width="3" fill="none"/>
<path d="M218.1 515.3L225.6 522.8L225.6 550.3L218.1 542.8Z" fill="#f9b722" stroke="#111" stroke-width="1.3" stroke-linejoin="round"/>
<path d="M218.1 515.3L245.6 515.3L253.1 522.8L225.6 522.8Z" fill="#fcd24e" stroke="#111" stroke-width="1.3" stroke-linejoin="round"/>
<path d="M225.6 522.8L253.1 522.8L253.1 550.3L225.6 550.3Z" fill="#f2dc9b" stroke="#111" stroke-width="1.3"/>
<path d="M217.1 535L221.4 535" stroke="#000" stroke-width="3" fill="none"/>
<path d="M273.3 515.3L280.8 522.8L280.8 550.3L273.3 542.8Z" fill="#2a6fc0" stroke="#111" stroke-width="1.3" stroke-linejoin="round"/>
<path d="M273.3 515.3L300.8 515.3L308.3 522.8L280.8 522.8Z" fill="#2f98da" stroke="#111" stroke-width="1.3" stroke-linejoin="round"/>
<path d="M280.8 522.8L308.3 522.8L308.3 550.3L280.8 550.3Z" fill="url(#gblue)" stroke="#111" stroke-width="1.3"/>
<path d="M272.3 535L276.6 535" stroke="#000" stroke-width="3" fill="none"/>
<path d="M330.2 515.3L337.7 522.8L337.7 550.3L330.2 542.8Z" fill="#f9b722" stroke="#111" stroke-width="1.3" stroke-linejoin="round"/>
<path d="M330.2 515.3L357.7 515.3L365.2 522.8L337.7 522.8Z" fill="#fcd24e" stroke="#111" stroke-width="1.3" stroke-linejoin="round"/>
<path d="M337.7 522.8L365.2 522.8L365.2 550.3L337.7 550.3Z" fill="#f2dc9b" stroke="#111" stroke-width="1.3"/>
<path d="M329.2 535L333.5 535" stroke="#000" stroke-width="3" fill="none"/>
<path d="M393.7 515.3L401.2 522.8L401.2 550.3L393.7 542.8Z" fill="#f9b722" stroke="#111" stroke-width="1.3" stroke-linejoin="round"/>
<path d="M393.7 515.3L421.2 515.3L428.7 522.8L401.2 522.8Z" fill="#fcd24e" stroke="#111" stroke-width="1.3" stroke-linejoin="round"/>
<path d="M401.2 522.8L428.7 522.8L428.7 550.3L401.2 550.3Z" fill="#f2dc9b" stroke="#111" stroke-width="1.3"/>
<path d="M392.7 535L397 535" stroke="#000" stroke-width="3" fill="none"/>
<path d="M66 617L452 617" stroke="#000" stroke-width="3" fill="none"/>
<path d="M90.2 625.2L98 608.4" stroke="#000" stroke-width="6.5" stroke-linecap="round"/>
<path d="M447 602.4L471.5 617L447 631.6Z" fill="#000"/>
<path d="M39.3 597.3L46.8 604.8L46.8 632.3L39.3 624.8Z" fill="#2a6fc0" stroke="#111" stroke-width="1.3" stroke-linejoin="round"/>
<path d="M39.3 597.3L66.8 597.3L74.3 604.8L46.8 604.8Z" fill="#2f98da" stroke="#111" stroke-width="1.3" stroke-linejoin="round"/>
<path d="M46.8 604.8L74.3 604.8L74.3 632.3L46.8 632.3Z" fill="url(#gblue)" stroke="#111" stroke-width="1.3"/>
<path d="M152.8 597.3L160.3 604.8L160.3 632.3L152.8 624.8Z" fill="#f9b722" stroke="#111" stroke-width="1.3" stroke-linejoin="round"/>
<path d="M152.8 597.3L180.3 597.3L187.8 604.8L160.3 604.8Z" fill="#fcd24e" stroke="#111" stroke-width="1.3" stroke-linejoin="round"/>
<path d="M160.3 604.8L187.8 604.8L187.8 632.3L160.3 632.3Z" fill="#f2dc9b" stroke="#111" stroke-width="1.3"/>
<path d="M151.8 617L156.1 617" stroke="#000" stroke-width="3" fill="none"/>
<path d="M218.1 597.3L225.6 604.8L225.6 632.3L218.1 624.8Z" fill="#f4efe0" stroke="#222" stroke-width="1.2" stroke-dasharray="4 2.6"/>
<path d="M218.1 597.3L245.6 597.3L253.1 604.8L225.6 604.8Z" fill="#f4efe0" stroke="#222" stroke-width="1.2" stroke-dasharray="4 2.6"/>
<path d="M225.6 604.8L253.1 604.8L253.1 632.3L225.6 632.3Z" fill="#e7e4da" stroke="#222" stroke-width="1.2" stroke-dasharray="4 2.6"/>
<path d="M217.1 617L221.4 617" stroke="#000" stroke-width="3" fill="none"/>
<path d="M273.3 597.3L280.8 604.8L280.8 632.3L273.3 624.8Z" fill="#2a6fc0" stroke="#111" stroke-width="1.3" stroke-linejoin="round"/>
<path d="M273.3 597.3L300.8 597.3L308.3 604.8L280.8 604.8Z" fill="#2f98da" stroke="#111" stroke-width="1.3" stroke-linejoin="round"/>
<path d="M280.8 604.8L308.3 604.8L308.3 632.3L280.8 632.3Z" fill="url(#gblue)" stroke="#111" stroke-width="1.3"/>
<path d="M272.3 617L276.6 617" stroke="#000" stroke-width="3" fill="none"/>
<path d="M330.2 597.3L337.7 604.8L337.7 632.3L330.2 624.8Z" fill="#f4efe0" stroke="#222" stroke-width="1.2" stroke-dasharray="4 2.6"/>
<path d="M330.2 597.3L357.7 597.3L365.2 604.8L337.7 604.8Z" fill="#f4efe0" stroke="#222" stroke-width="1.2" stroke-dasharray="4 2.6"/>
<path d="M337.7 604.8L365.2 604.8L365.2 632.3L337.7 632.3Z" fill="#e7e4da" stroke="#222" stroke-width="1.2" stroke-dasharray="4 2.6"/>
<path d="M329.2 617L333.5 617" stroke="#000" stroke-width="3" fill="none"/>
<path d="M393.7 597.3L401.2 604.8L401.2 632.3L393.7 624.8Z" fill="#f9b722" stroke="#111" stroke-width="1.3" stroke-linejoin="round"/>
<path d="M393.7 597.3L421.2 597.3L428.7 604.8L401.2 604.8Z" fill="#fcd24e" stroke="#111" stroke-width="1.3" stroke-linejoin="round"/>
<path d="M401.2 604.8L428.7 604.8L428.7 632.3L401.2 632.3Z" fill="#f2dc9b" stroke="#111" stroke-width="1.3"/>
<path d="M392.7 617L397 617" stroke="#000" stroke-width="3" fill="none"/>
<path d="M168.3 483.6L281 483.6" stroke="#222" stroke-width="1.3" fill="none"/>
<path d="M166.3 483.6L171.3 479.4L169.3 483.6L171.3 487.8Z" fill="#222"/>
<path d="M283 483.6L278 479.4L280 483.6L278 487.8Z" fill="#222"/>
<path d="M240.7 477.3L281 477.3" stroke="#222" stroke-width="1.3" fill="none"/>
<path d="M238.7 477.3L243.7 473.1L241.7 477.3L243.7 481.5Z" fill="#222"/>
<path d="M283 477.3L278 473.1L280 477.3L278 481.5Z" fill="#222"/>
<path d="M303.2 477.3L343.5 477.3" stroke="#222" stroke-width="1.3" fill="none"/>
<path d="M301.2 477.3L306.2 473.1L304.2 477.3L306.2 481.5Z" fill="#222"/>
<path d="M345.5 477.3L340.5 473.1L342.5 477.3L340.5 481.5Z" fill="#222"/>
<path d="M303.5 483.6L416.2 483.6" stroke="#222" stroke-width="1.3" fill="none"/>
<path d="M301.5 483.6L306.5 479.4L304.5 483.6L306.5 487.8Z" fill="#222"/>
<path d="M418.2 483.6L413.2 479.4L415.2 483.6L413.2 487.8Z" fill="#222"/>
<text x="183.4" y="470.7" font-size="25" fill="#000">Q</text>
<text x="203.4" y="480.1" font-size="16" fill="#000">L</text>
<text x="243.8" y="463" font-size="25" fill="#000">Q</text>
<text x="263.5" y="471.6" font-size="15" fill="#000">H</text>
<text x="309.9" y="463" font-size="25" fill="#000">Q</text>
<text x="329.6" y="471.6" font-size="15" fill="#000">H</text>
<text x="380.9" y="470.7" font-size="25" fill="#000">Q</text>
<text x="399.7" y="480.1" font-size="16" fill="#000">L</text>
<path d="M178.1 556Q190.5 556.4 203 554.4L197.4 560.6L193.7 567.5L192.5 576.3Q187.5 564.6 178.1 556Z" fill="#96989d"/>
<path d="M232.7 555.6C224.9 565.1 209.5 568.3 197 564" stroke="#96989d" stroke-width="6.2" fill="none" stroke-linecap="round"/>
<path d="M244.4 556Q256.9 556.4 269.3 554.4L263.7 560.6L260 567.5L258.8 576.3Q253.8 564.6 244.4 556Z" fill="#96989d"/>
<path d="M288.8 554.8C283.2 564.3 272.3 568.3 263.4 564" stroke="#96989d" stroke-width="6.2" fill="none" stroke-linecap="round"/>
<path d="M346.7 555.6Q334.2 556 321.8 554L327.4 560.2L331.1 567.1L332.3 575.9Q337.3 564.2 346.7 555.6Z" fill="#96989d"/>
<path d="M302.7 554.1C308.2 563.6 319 567.9 327.8 563.6" stroke="#96989d" stroke-width="6.2" fill="none" stroke-linecap="round"/>
<path d="M412.5 556Q400.1 556.4 387.6 554.4L393.2 560.6L396.9 567.5L398.1 576.3Q403.1 564.6 412.5 556Z" fill="#96989d"/>
<path d="M356.2 554.9C364.4 564.4 380.5 568.3 393.6 564" stroke="#96989d" stroke-width="6.2" fill="none" stroke-linecap="round"/>
<path d="M176.9 637.5Q189.6 636.2 202.3 632.6L196.7 640L194.8 646.8L194.2 655.5Q187.8 645 176.9 637.5Z" fill="#e31e26"/>
<path d="M287.5 636.7C267.6 645.7 228.8 647.5 197.2 643.4" stroke="#e31e26" stroke-width="7.6" fill="none" stroke-linecap="round"/>
<path d="M410.6 637.5Q397.9 636.2 385.2 632.6L390.8 640L392.7 646.8L393.3 655.5Q399.8 645 410.6 637.5Z" fill="#e31e26"/>
<path d="M299.2 635.9C319.2 644.9 358.4 647.5 390.2 643.4" stroke="#e31e26" stroke-width="7.6" fill="none" stroke-linecap="round"/>
<text x="544.7" y="465.4" font-size="36" font-weight="bold" fill="#000">(d)</text>
<rect x="620.1" y="442" width="357.6" height="101.2" fill="none" stroke="#000" stroke-width="2"/>
<rect x="620.1" y="543.2" width="357.6" height="101.8" fill="none" stroke="#000" stroke-width="2"/>
<path d="M620.1 462.2L631.5 462.2" stroke="#000" stroke-width="2.6" fill="none"/>
<path d="M620.1 564.5L630.5 564.5" stroke="#000" stroke-width="2.6" fill="none"/>
<path d="M888.7 645L888.7 649" stroke="#000" stroke-width="1.5" fill="none"/>
<text x="599.4" y="472.2" font-size="26.5" fill="#000">1</text>
<text x="603.3" y="549.6" font-size="26" fill="#000">0</text>
<text x="601.3" y="572.3" font-size="26.5" fill="#000">1</text>
<text x="603.6" y="653.5" font-size="26" fill="#000">0</text>
<path d="M674.4 443.2 L676.6 447.3 L678.8 451.2 L680.9 454.8 L683.1 458.2 L685.3 461.4 L687.5 464.3 L689.6 467.1 L691.8 469.7 L694 472.1 L696.2 474.4 L698.3 476.6 L700.5 478.7 L702.7 480.6 L704.9 482.5 L707.1 484.2 L709.2 485.9 L711.4 487.5 L713.6 489 L715.8 490.4 L717.9 491.8 L720.1 493.1 L722.3 494.3 L724.5 495.5 L726.6 496.7 L728.8 497.8 L731 498.8 L733.2 499.8 L735.4 500.8 L737.5 501.7 L739.7 502.6 L741.9 503.5 L744.1 504.3 L746.2 505.1 L748.4 505.9 L750.6 506.6 L752.8 507.3 L754.9 508 L757.1 508.7 L759.3 509.3 L761.5 509.9 L763.7 510.5 L765.8 511.1 L768 511.7 L770.2 512.2 L772.4 512.8 L774.5 513.3 L776.7 513.8 L778.9 514.3 L781.1 514.7 L783.2 515.2 L785.4 515.6 L787.6 516.1 L789.8 516.5 L792 516.9 L794.1 517.3 L796.3 517.7 L798.5 518.1 L800.7 518.4 L802.8 518.8 L805 519.1 L807.2 519.5 L809.4 519.8 L811.5 520.1 L813.7 520.4 L815.9 520.7 L818.1 521 L820.3 521.3 L822.4 521.6 L824.6 521.9 L826.8 522.1 L829 522.4 L831.1 522.7 L833.3 522.9 L835.5 523.2 L837.7 523.4 L839.9 523.6 L842 523.9 L844.2 524.1 L846.4 524.3 L848.6 524.5 L850.7 524.8 L852.9 525 L855.1 525.2 L857.3 525.4 L859.4 525.6 L861.6 525.7 L863.8 525.9 L866 526.1 L868.2 526.3 L870.3 526.5 L872.5 526.7 L874.7 526.8 L876.9 527 L879 527.2 L881.2 527.3 L883.4 527.5 L885.6 527.6 L887.7 527.8 L889.9 527.9 L892.1 528.1 L894.3 528.2 L896.5 528.4 L898.6 528.5 L900.8 528.6 L903 528.8 L905.2 528.9 L907.3 529 L909.5 529.2 L911.7 529.3 L913.9 529.4 L916 529.5 L918.2 529.6 L920.4 529.8 L922.6 529.9 L924.8 530 L926.9 530.1 L929.1 530.2 L931.3 530.3 L933.5 530.4 L935.6 530.5 L937.8 530.6 L940 530.7 L942.2 530.8 L944.3 530.9 L946.5 531 L948.7 531.1 L950.9 531.2 L953.1 531.3 L955.2 531.4 L957.4 531.5 L959.6 531.6 L961.8 531.7 L963.9 531.8 L966.1 531.8 L968.3 531.9 L970.5 532 L972.6 532.1 L974.8 532.2 L977 532.3" stroke="#b0b0b0" stroke-width="3.6" fill="none" stroke-linecap="butt"/>
<path d="M637.2 544.5 L638.9 552.4 L640.5 559.2 L642.2 565.3 L643.9 570.6 L645.6 575.3 L647.2 579.6 L648.9 583.4 L650.6 586.8 L652.2 589.9 L653.9 592.8 L655.6 595.3 L657.3 597.7 L658.9 599.9 L660.6 601.9 L662.3 603.8 L663.9 605.5 L665.6 607.1 L667.3 608.6 L669 609.9 L670.6 611.2 L672.3 612.4 L674 613.6 L675.7 614.6 L677.3 615.7 L679 616.6 L680.7 617.5 L682.3 618.3 L684 619.1 L685.7 619.9 L687.4 620.6 L689 621.3 L690.7 621.9 L692.4 622.5 L694 623.1 L695.7 623.7 L697.4 624.2 L699.1 624.7 L700.7 625.2 L702.4 625.7 L704.1 626.1 L705.7 626.6 L707.4 627 L709.1 627.4 L710.8 627.7 L712.4 628.1 L714.1 628.5 L715.8 628.8 L717.4 629.1 L719.1 629.4 L720.8 629.7 L722.5 630 L724.1 630.3 L725.8 630.6 L727.5 630.8 L729.1 631.1 L730.8 631.3 L732.5 631.6 L734.2 631.8 L735.8 632 L737.5 632.2 L739.2 632.4 L740.9 632.6 L742.5 632.8 L744.2 633 L745.9 633.2 L747.5 633.4 L749.2 633.5 L750.9 633.7 L752.6 633.9 L754.2 634 L755.9 634.2 L757.6 634.3 L759.2 634.5 L760.9 634.6 L762.6 634.8 L764.3 634.9 L765.9 635 L767.6 635.2 L769.3 635.3 L770.9 635.4 L772.6 635.5 L774.3 635.6 L776 635.8 L777.6 635.9 L779.3 636 L781 636.1 L782.6 636.2 L784.3 636.3 L786 636.4 L787.7 636.5 L789.3 636.6 L791 636.7 L792.7 636.8 L794.4 636.8 L796 636.9 L797.7 637 L799.4 637.1 L801 637.2 L802.7 637.2 L804.4 637.3 L806.1 637.4 L807.7 637.5 L809.4 637.5 L811.1 637.6 L812.7 637.7 L814.4 637.8 L816.1 637.8 L817.8 637.9 L819.4 638 L821.1 638 L822.8 638.1 L824.4 638.1 L826.1 638.2 L827.8 638.3 L829.5 638.3 L831.1 638.4 L832.8 638.4 L834.5 638.5 L836.1 638.5 L837.8 638.6 L839.5 638.6 L841.2 638.7 L842.8 638.7 L844.5 638.8 L846.2 638.8 L847.8 638.9 L849.5 638.9 L851.2 639 L852.9 639 L854.5 639.1 L856.2 639.1 L857.9 639.2 L859.6 639.2 L861.2 639.2 L862.9 639.3 L864.6 639.3 L866.2 639.4 L867.9 639.4 L869.6 639.4 L871.3 639.5 L872.9 639.5 L874.6 639.5 L876.3 639.6 L877.9 639.6 L879.6 639.7 L881.3 639.7 L883 639.7 L884.6 639.8 L886.3 639.8 L887.4 625 L888 595 L888.5 560.5 L889.1 595 L889.7 622 L890.6 630.5 L892.5 634.6 L896 636.6 L902 637.8 L906 639.5 L907.8 639.6 L909.6 639.7 L911.5 639.8 L913.3 639.8 L915.1 639.9 L916.9 640 L918.7 640 L920.6 640.1 L922.4 640.1 L924.2 640.2 L926 640.2 L927.8 640.3 L929.7 640.3 L931.5 640.4 L933.3 640.4 L935.1 640.4 L936.9 640.5 L938.8 640.5 L940.6 640.5 L942.4 640.6 L944.2 640.6 L946.1 640.6 L947.9 640.7 L949.7 640.7 L951.5 640.7 L953.3 640.7 L955.2 640.8 L957 640.8 L958.8 640.8 L960.6 640.8 L962.4 640.9 L964.3 640.9 L966.1 640.9 L967.9 640.9 L969.7 641 L971.5 641 L973.4 641 L975.2 641 L977 641" stroke="#e31e26" stroke-width="3.8" fill="none" stroke-linejoin="round" stroke-linecap="butt"/>
<text x="824.2" y="473.1" font-size="25.8" fill="#000">Equilibrium,</text>
<text x="827.2" y="502.8" font-size="25" fill="#000">T</text>
<text x="846.1" y="513.2" font-size="15.5" fill="#000">lattice</text>
<text x="893.4" y="500.5" font-size="25" fill="#000">=</text>
<text x="911.9" y="502.8" font-size="25" fill="#000">T</text>
<text x="929.9" y="512.6" font-size="15.5" fill="#000">N</text>
<text x="663.9" y="577.8" font-size="25.8" fill="#000">Out-of-equilibrium,</text>
<text x="721.8" y="609.2" font-size="25" fill="#000">T</text>
<text x="735.9" y="619.5" font-size="15.5" fill="#000">lattice</text>
<text x="784.3" y="607.5" font-size="25" fill="#000">&lt;</text>
<text x="802.8" y="609.2" font-size="25" fill="#000">T</text>
<text x="820" y="616.9" font-size="15.5" fill="#000">N</text>
<text x="881.5" y="671.5" font-size="25" fill="#000">Q</text>
<text x="901" y="680" font-size="15" fill="#000">L</text>
<text x="773" y="689.5" font-size="36" fill="#000">Q</text>
<g transform="translate(586,569.8) rotate(-90)"><text x="0" y="0" font-size="40">n(Q)</text></g>
</svg></body></html>
